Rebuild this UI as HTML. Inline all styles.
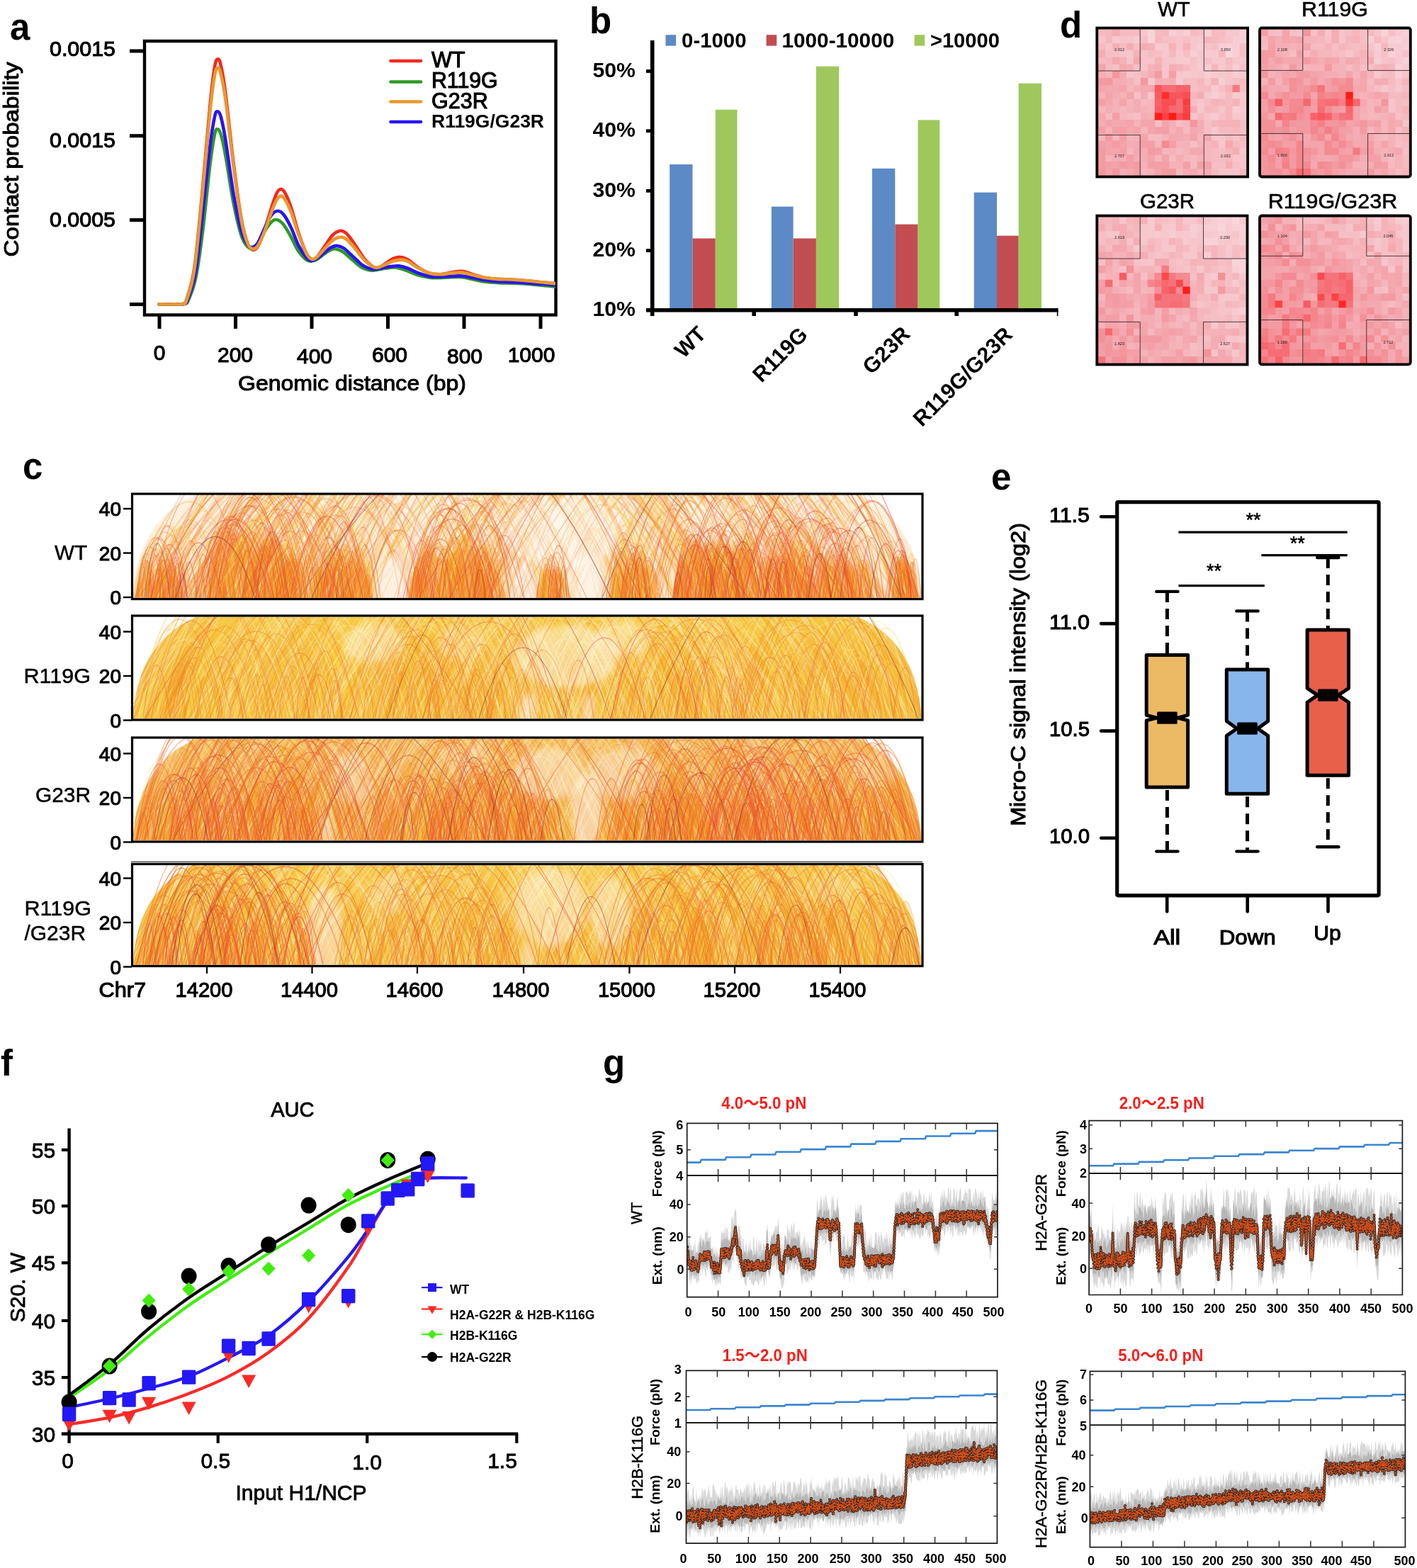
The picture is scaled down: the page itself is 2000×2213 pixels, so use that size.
<!DOCTYPE html>
<html lang="en"><head><meta charset="utf-8"><title>Figure</title>
<style>
html,body{margin:0;padding:0;background:#fff;}
body{width:2000px;height:2213px;overflow:hidden;}
svg{display:block;font-family:"Liberation Sans","Noto Sans CJK SC",sans-serif;}
text{white-space:pre;}
</style></head><body>
<svg width="2000" height="2213" viewBox="0 0 2000 2213">
<rect width="2000" height="2213" fill="#fff"/>
<g>
<text x="14" y="56" font-size="51" font-weight="bold">a</text>
<rect x="204" y="58" width="580.5" height="386.5" fill="none" stroke="#000" stroke-width="4.4"/>
<path d="M183 72L204 72" stroke="#000" stroke-width="5" fill="none" />
<path d="M183 191.7L204 191.7" stroke="#000" stroke-width="5" fill="none" />
<path d="M183 310.5L204 310.5" stroke="#000" stroke-width="5" fill="none" />
<path d="M183 429.5L204 429.5" stroke="#000" stroke-width="5" fill="none" />
<text x="163" y="79" font-size="30" text-anchor="end" textLength="93" lengthAdjust="spacingAndGlyphs" stroke="#000" stroke-width="1.1">0.0015</text>
<text x="163" y="207.5" font-size="30" text-anchor="end" textLength="93" lengthAdjust="spacingAndGlyphs" stroke="#000" stroke-width="1.1">0.0015</text>
<text x="163" y="320" font-size="30" text-anchor="end" textLength="93" lengthAdjust="spacingAndGlyphs" stroke="#000" stroke-width="1.1">0.0005</text>
<path d="M225 444L225 464" stroke="#000" stroke-width="5" fill="none" />
<path d="M332.5 444L332.5 464" stroke="#000" stroke-width="5" fill="none" />
<path d="M440 444L440 464" stroke="#000" stroke-width="5" fill="none" />
<path d="M547.5 444L547.5 464" stroke="#000" stroke-width="5" fill="none" />
<path d="M655 444L655 464" stroke="#000" stroke-width="5" fill="none" />
<path d="M763 444L763 464" stroke="#000" stroke-width="5" fill="none" />
<text x="225" y="508" font-size="30" text-anchor="middle" stroke="#000" stroke-width="1.1">0</text>
<text x="332" y="511" font-size="30" text-anchor="middle" stroke="#000" stroke-width="1.1">200</text>
<text x="444" y="513" font-size="30" text-anchor="middle" stroke="#000" stroke-width="1.1">400</text>
<text x="550" y="511" font-size="30" text-anchor="middle" stroke="#000" stroke-width="1.1">600</text>
<text x="656" y="513" font-size="30" text-anchor="middle" stroke="#000" stroke-width="1.1">800</text>
<text x="750" y="511" font-size="30" text-anchor="middle" stroke="#000" stroke-width="1.1">1000</text>
<text x="497" y="551" font-size="30" text-anchor="middle" textLength="322" lengthAdjust="spacingAndGlyphs" stroke="#000" stroke-width="1.0">Genomic distance (bp)</text>
<text x="26" y="225" font-size="30" text-anchor="middle" transform="rotate(-90 26 225)" textLength="275" lengthAdjust="spacingAndGlyphs" stroke="#000" stroke-width="1.0">Contact probability</text>
<defs><clipPath id="clipa"><rect x="204" y="58" width="580" height="386"/></clipPath></defs><g clip-path="url(#clipa)">
<path d="M224.8 429.4C228.3 429.4 240.3 429.5 245.9 429.4C251.4 429.3 255.3 430.2 258.2 429C261.1 427.8 260.7 431 263.4 422.4C266.2 413.8 270.8 402.6 274.4 377.6C278.1 352.6 281.7 310.3 285.4 272.2C289.1 234.2 293.5 178.9 296.4 149.3C299.3 119.6 301.1 105.4 303 94.4C304.8 83.4 305.9 83.8 307.4 83.4C308.8 83.1 309.9 84.2 311.7 92.2C313.6 100.3 315.4 109 318.3 131.7C321.3 154.4 325.6 199 329.3 228.3C333 257.6 337 288.3 340.3 307.4C343.6 326.4 346.4 334.9 349.1 342.5C351.8 350 354 351.8 356.5 352.6C359.1 353.3 361.7 351.5 364.4 346.9C367.2 342.3 369.9 334.4 373.2 324.9C376.5 315.4 381.3 298.6 384.2 289.8C387.1 281 388.8 276 390.8 272.2C392.8 268.4 394.2 267.1 396 267C397.9 266.8 399.3 267.2 401.8 271.4C404.2 275.5 407.2 282.3 410.5 292C413.8 301.6 417.9 318.3 421.5 329.3C425.2 340.3 429.3 351.6 432.5 357.8C435.6 364.1 437.8 365.9 440.4 366.6C443 367.4 444.8 365.5 447.9 362.2C450.9 358.9 455.2 352 458.8 346.9C462.5 341.7 466.2 335 469.8 331.5C473.5 328 477.5 326 480.8 325.8C484.1 325.6 486.3 327 489.6 330.2C492.9 333.3 496.5 339 500.5 344.7C504.6 350.4 509.7 359.3 513.7 364.4C517.7 369.6 521.6 373.1 524.7 375.4C527.8 377.8 529.2 378.9 532.2 378.5C535.1 378.1 538.6 375.4 542.3 373.2C545.9 371 550.5 367.1 554.1 365.3C557.8 363.6 560.7 362.5 564.2 362.7C567.7 362.8 570.8 363.7 575.2 366.2C579.6 368.7 585.4 374.4 590.6 377.6C595.7 380.8 600.8 383.9 605.9 385.5C611.1 387.1 616.2 387.4 621.3 387.3C626.4 387.1 631.5 385.4 636.7 384.6C641.8 383.9 646.9 382.4 652 382.9C657.2 383.3 661.9 385.7 667.4 387.3C672.9 388.8 679.1 391 685 392.1C690.8 393.2 695.9 393.4 702.5 393.9C709.1 394.3 717.2 394.3 724.5 394.7C731.8 395.2 739.1 395.8 746.4 396.5C753.8 397.1 761.8 398 768.4 398.7C775 399.3 783 400.1 785.9 400.4" fill="none" stroke="#f3281e" stroke-width="4.6" stroke-linejoin="round" stroke-linecap="round"/>
<path d="M224.8 429.4C228.3 429.4 240 429.5 245.9 429.4C251.7 429.3 256.6 430 259.9 429C263.3 428 263.3 429.6 266.1 423.3C268.9 416.9 273.3 407.2 276.6 390.8C280 374.4 283 351.3 286.3 324.9C289.6 298.6 293.6 255.3 296.4 232.7C299.2 210.2 301.2 198.1 303 189.7C304.7 181.3 305.5 182.2 306.9 182.2C308.4 182.2 309.8 183.5 311.7 189.7C313.6 195.9 315.4 203.6 318.3 219.5C321.3 235.5 325.6 266.7 329.3 285.4C333 304.1 337 321.1 340.3 331.5C343.6 341.9 346.7 344.6 349.1 347.7C351.5 350.9 352.6 350.7 354.8 350.4C357 350.1 359.3 349.7 362.2 346C365.2 342.3 369 333.7 372.3 328.4C375.6 323.2 379.1 317.5 382 314.4C384.9 311.3 386.7 309.8 389.5 310C392.2 310.1 395.4 311.7 398.7 315.3C402 318.8 405.6 325.1 409.2 331.5C412.9 337.9 417 347.7 420.6 353.5C424.3 359.2 428.2 363.2 431.2 365.8C434.1 368.3 435.6 368.8 438.2 368.8C440.8 368.9 443.9 367.8 447 366.2C450.1 364.6 453.6 361.3 456.6 359.2C459.7 357 462.8 354.8 465.4 353.5C468.1 352.1 469.5 351 472.4 351.3C475.4 351.5 479 352.4 483 354.8C486.9 357.2 491.8 362.1 496.2 365.8C500.5 369.4 505.3 374.2 509.3 376.7C513.4 379.3 517.4 380.3 520.3 381.1C523.2 381.9 523.6 381.9 526.9 381.6C530.2 381.3 536 380 540.1 379.4C544.1 378.7 548 377.9 551 377.6C554.1 377.3 555.2 377.1 558.5 377.6C561.8 378.1 565.8 379 570.8 380.7C575.8 382.4 582.5 385.9 588.4 387.7C594.2 389.5 600.4 390.9 605.9 391.7C611.4 392.4 616.2 392.2 621.3 392.1C626.4 392 631.5 391.4 636.7 391.2C641.8 391.1 646.9 390.7 652 391.2C657.2 391.7 661.9 393.2 667.4 394.3C672.9 395.4 679.1 397 685 397.8C690.8 398.6 695.9 398.8 702.5 399.1C709.1 399.4 717.2 399.3 724.5 399.6C731.8 399.9 739.1 400.3 746.4 400.9C753.8 401.5 761.8 402.4 768.4 403.1C775 403.7 783 404.5 785.9 404.8" fill="none" stroke="#2e9a24" stroke-width="4.6" stroke-linejoin="round" stroke-linecap="round"/>
<path d="M224.8 429.4C228.3 429.4 240.2 429.5 245.9 429.4C251.6 429.3 255.9 430 259.1 429C262.2 428 262 430.4 264.8 423.3C267.5 416.2 272.3 405.7 275.7 386.4C279.2 367.1 282 337.4 285.4 307.4C288.8 277.4 293.5 230.2 296.4 206.4C299.3 182.6 301.2 172.9 303 164.7C304.7 156.5 305.5 157.2 306.9 157.2C308.4 157.2 309.8 157.9 311.7 164.7C313.6 171.4 315.4 179.7 318.3 197.6C321.3 215.5 325.6 251 329.3 272.2C333 293.5 337 312.8 340.3 324.9C343.6 337 346.5 340.7 349.1 344.7C351.6 348.7 353.2 349.3 355.7 349.1C358.1 348.8 360.6 347.7 363.6 343.4C366.5 339 370 329.3 373.2 322.7C376.4 316.1 379.7 308 382.9 303.8C386 299.7 389.2 297.8 392.1 297.7C395 297.5 397.4 299.2 400.4 303C403.5 306.8 407 313.2 410.5 320.5C414.1 327.8 417.9 339.7 421.5 346.9C425.2 354 429.6 360 432.5 363.6C435.4 367.1 436.5 367.8 439.1 367.9C441.6 368.1 444.6 366.5 447.9 364.4C451.2 362.4 455.5 358.2 458.8 355.7C462.1 353.1 464.8 350.5 467.6 349.1C470.4 347.6 472.6 346.7 475.5 346.9C478.4 347.1 481.4 347.8 485.2 350.4C489 352.9 494 358.3 498.4 362.2C502.7 366.2 507.5 371.2 511.5 374.1C515.6 376.9 519.6 378.3 522.5 379.4C525.4 380.4 525.8 380.5 529.1 380.2C532.4 379.9 538.2 378.3 542.3 377.6C546.3 376.9 549.8 376.2 553.2 375.9C556.7 375.5 559.2 375 562.9 375.4C566.6 375.9 570.6 376.8 575.2 378.5C579.8 380.2 585.4 383.6 590.6 385.5C595.7 387.4 600.8 389 605.9 389.9C611.1 390.8 616.2 390.8 621.3 390.8C626.4 390.8 631.5 390.1 636.7 389.9C641.8 389.7 646.9 389.1 652 389.5C657.2 389.8 661.9 391.1 667.4 392.1C672.9 393.1 679.1 394.7 685 395.6C690.8 396.5 695.9 396.9 702.5 397.4C709.1 397.8 717.2 397.9 724.5 398.2C731.8 398.6 739.1 399 746.4 399.6C753.8 400.1 761.8 400.7 768.4 401.3C775 401.9 783 402.8 785.9 403.1" fill="none" stroke="#2a14f5" stroke-width="4.6" stroke-linejoin="round" stroke-linecap="round"/>
<path d="M224.8 429.4C228.3 429.4 240.3 429.5 245.9 429.4C251.4 429.3 255.3 430 258.2 429C261.1 428 260.7 431.5 263.4 423.3C266.2 415.1 270.8 404.2 274.4 379.8C278.1 355.4 281.7 313.6 285.4 276.6C289.1 239.7 293.5 186.5 296.4 158.1C299.3 129.7 301.1 116.6 303 106.3C304.8 95.9 305.9 96 307.4 95.7C308.8 95.4 309.9 97 311.7 104.5C313.6 112 315.4 119.1 318.3 140.5C321.3 161.9 325.6 204.5 329.3 232.7C333 260.9 337 291.3 340.3 309.5C343.6 327.8 346.4 335.5 349.1 342.5C351.8 349.4 354 350.7 356.5 351.3C359.1 351.8 361.7 350 364.4 346C367.2 342 369.9 335.4 373.2 327.1C376.5 318.8 381.3 303.9 384.2 296.4C387.1 288.8 388.8 285.2 390.8 281.9C392.8 278.6 394.2 276.8 396 276.6C397.9 276.5 399.3 277.4 401.8 281C404.2 284.7 407.2 290.2 410.5 298.6C413.8 307 417.9 321.6 421.5 331.5C425.2 341.4 429.3 352.1 432.5 357.8C435.6 363.6 437.8 365 440.4 365.8C443 366.5 444.8 364.8 447.9 362.2C450.9 359.7 455.2 354.3 458.8 350.4C462.5 346.5 466 341.6 469.8 339C473.6 336.3 478.4 334.7 481.7 334.6C485 334.4 486.4 335.5 489.6 338.1C492.7 340.7 496.5 345.2 500.5 349.9C504.6 354.7 509.7 362.4 513.7 366.6C517.7 370.9 521.6 373.6 524.7 375.4C527.8 377.2 529.2 377.8 532.2 377.6C535.1 377.4 538.6 375.6 542.3 374.1C545.9 372.6 550.1 370.1 554.1 368.8C558.1 367.6 562.9 366.6 566.4 366.6C569.9 366.6 571.2 366.8 575.2 368.8C579.2 370.8 585.4 375.7 590.6 378.5C595.7 381.3 600.8 384 605.9 385.5C611.1 387 616.2 387.3 621.3 387.3C626.4 387.3 631.5 385.9 636.7 385.5C641.8 385.1 646.9 384.2 652 384.6C657.2 385.1 661.9 386.9 667.4 388.1C672.9 389.4 679.1 391.1 685 392.1C690.8 393 695.9 393.4 702.5 393.9C709.1 394.3 717.2 394.3 724.5 394.7C731.8 395.2 739.1 395.8 746.4 396.5C753.8 397.1 761.8 398 768.4 398.7C775 399.3 783 400.1 785.9 400.4" fill="none" stroke="#e89a2e" stroke-width="4.6" stroke-linejoin="round" stroke-linecap="round"/>
</g>
<path d="M551.5 86L594 86" stroke="#f3281e" stroke-width="4.6" fill="none" stroke-linecap="round"/>
<path d="M551.5 115.5L594 115.5" stroke="#2e9a24" stroke-width="4.6" fill="none" stroke-linecap="round"/>
<path d="M551.5 143.5L594 143.5" stroke="#e89a2e" stroke-width="4.6" fill="none" stroke-linecap="round"/>
<path d="M551.5 172L594 172" stroke="#2a14f5" stroke-width="4.6" fill="none" stroke-linecap="round"/>
<text x="609" y="94.5" font-size="30.5" stroke="#000" stroke-width="1.1">WT</text>
<text x="609" y="124" font-size="30.5" textLength="93.5" lengthAdjust="spacingAndGlyphs" stroke="#000" stroke-width="1.1">R119G</text>
<text x="609" y="152.5" font-size="30.5" stroke="#000" stroke-width="1.1">G23R</text>
<text x="609" y="179.5" font-size="26.5" font-weight="bold" textLength="159" lengthAdjust="spacingAndGlyphs">R119G/G23R</text>
</g>
<g>
<text x="832" y="47" font-size="51" font-weight="bold">b</text>
<rect x="939.5" y="49.2" width="14.6" height="15.4" fill="#5b8ac6"/>
<text x="962.1" y="66.8" font-size="30" font-weight="bold" textLength="91.4" lengthAdjust="spacingAndGlyphs">0-1000</text>
<rect x="1081.6" y="49.2" width="14.6" height="15.4" fill="#c24d50"/>
<text x="1103.5" y="66.8" font-size="30" font-weight="bold" textLength="158.7" lengthAdjust="spacingAndGlyphs">1000-10000</text>
<rect x="1290.6" y="49.2" width="14.6" height="15.4" fill="#9fc85c"/>
<text x="1312.9" y="66.8" font-size="30" font-weight="bold" textLength="98" lengthAdjust="spacingAndGlyphs">&gt;10000</text>
<rect x="945.2" y="232" width="32.3" height="205.9" fill="#5b8ac6"/>
<rect x="977.5" y="336.5" width="32.3" height="101.4" fill="#c24d50"/>
<rect x="1009.8" y="154.8" width="30.7" height="283.1" fill="#9fc85c"/>
<rect x="1088.9" y="291.6" width="30.7" height="146.4" fill="#5b8ac6"/>
<rect x="1119.6" y="336.5" width="32.3" height="101.4" fill="#c24d50"/>
<rect x="1151.9" y="93.7" width="32.3" height="344.2" fill="#9fc85c"/>
<rect x="1231" y="237.8" width="32.3" height="200.2" fill="#5b8ac6"/>
<rect x="1263.3" y="316.6" width="32.3" height="121.4" fill="#c24d50"/>
<rect x="1295.6" y="169.4" width="30.7" height="268.5" fill="#9fc85c"/>
<rect x="1374.7" y="271.6" width="32.3" height="166.3" fill="#5b8ac6"/>
<rect x="1407" y="332.7" width="30.7" height="105.3" fill="#c24d50"/>
<rect x="1437.7" y="117.6" width="32.3" height="320.4" fill="#9fc85c"/>
<path d="M920.7 57L920.7 446" stroke="#000" stroke-width="5.6" fill="none" />
<path d="M912 437.7L1493.5 437.7" stroke="#000" stroke-width="5.6" fill="none" />
<path d="M912 100.5L920 100.5" stroke="#000" stroke-width="4.8" fill="none" />
<text x="897" y="109.1" font-size="30" text-anchor="end" font-weight="bold" textLength="60.5" lengthAdjust="spacingAndGlyphs">50%</text>
<path d="M912 184.8L920 184.8" stroke="#000" stroke-width="4.8" fill="none" />
<text x="897" y="193.4" font-size="30" text-anchor="end" font-weight="bold" textLength="60.5" lengthAdjust="spacingAndGlyphs">40%</text>
<path d="M912 269.3L920 269.3" stroke="#000" stroke-width="4.8" fill="none" />
<text x="897" y="277.9" font-size="30" text-anchor="end" font-weight="bold" textLength="60.5" lengthAdjust="spacingAndGlyphs">30%</text>
<path d="M912 353.6L920 353.6" stroke="#000" stroke-width="4.8" fill="none" />
<text x="897" y="362.2" font-size="30" text-anchor="end" font-weight="bold" textLength="60.5" lengthAdjust="spacingAndGlyphs">20%</text>
<path d="M912 437.7L920 437.7" stroke="#000" stroke-width="4.8" fill="none" />
<text x="897" y="446.3" font-size="30" text-anchor="end" font-weight="bold" textLength="60.5" lengthAdjust="spacingAndGlyphs">10%</text>
<path d="M1064.2 437L1064.2 446" stroke="#000" stroke-width="5.6" fill="none" />
<path d="M1208 437L1208 446" stroke="#000" stroke-width="5.6" fill="none" />
<path d="M1350.2 437L1350.2 446" stroke="#000" stroke-width="5.6" fill="none" />
<path d="M1492.6 437L1492.6 446" stroke="#000" stroke-width="1.6" fill="none" />
<text x="998.2" y="473.3" font-size="30.5" text-anchor="end" font-weight="bold" transform="rotate(-45 998.2 473.3)">WT</text>
<text x="1141.9" y="474.1" font-size="30.5" text-anchor="end" font-weight="bold" transform="rotate(-45 1141.9 474.1)">R119G</text>
<text x="1286.4" y="473.3" font-size="30.5" text-anchor="end" font-weight="bold" transform="rotate(-45 1286.4 473.3)">G23R</text>
<text x="1430.8" y="474.1" font-size="30.5" text-anchor="end" font-weight="bold" transform="rotate(-45 1430.8 474.1)">R119G/G23R</text>
</g>
<g>
<text x="32" y="676" font-size="51" font-weight="bold">c</text>
<defs><clipPath id="ct0"><rect x="187.5" y="697" width="1113" height="147.5"/></clipPath><clipPath id="ct1"><rect x="187.5" y="870.5" width="1113" height="144.5"/></clipPath><clipPath id="ct2"><rect x="187.5" y="1042.5" width="1113" height="144.5"/></clipPath><clipPath id="ct3"><rect x="187.5" y="1218.5" width="1113" height="144"/></clipPath><filter id="blur0" x="-30%" y="-30%" width="160%" height="160%"><feGaussianBlur stdDeviation="5"/></filter><filter id="blur1" x="-30%" y="-30%" width="160%" height="160%"><feGaussianBlur stdDeviation="5"/></filter><filter id="blur2" x="-30%" y="-30%" width="160%" height="160%"><feGaussianBlur stdDeviation="5"/></filter><filter id="blur3" x="-30%" y="-30%" width="160%" height="160%"><feGaussianBlur stdDeviation="5"/></filter></defs>
<g clip-path="url(#ct0)">
<linearGradient id="bg0" x1="0" y1="0" x2="0" y2="1"><stop offset="0" stop-color="#fbdcaa"/><stop offset="1" stop-color="#f6b260"/></linearGradient>
<path d="M187.5 843.5Q193.5 733.6 277.5 697H1210.5Q1294.5 733.6 1300.5 843.5Z" fill="url(#bg0)" fill-opacity="0.36"/>
<g transform="translate(0 843.5)">
<path d="M243 0q5-52 10 0M248 0q5-43 10 0M220 0q8-68 16 0M398 0q7-51 14 0M326 0q5-67 10 0M395 0q7-68 14 0M319 0q22-101 44 0M388 0q5-59 10 0M363 0q6-48 12 0M304 0q23-179 46 0M332 0q24-137 48 0M375 0q12-120 24 0M303 0q21-96 42 0M473 0q15-122 30 0M514 0q6-82 12 0M445 0q5-71 10 0M429 0q8-110 16 0M646 0q12-84 24 0M696 0q8-107 16 0M639 0q7-109 14 0M690 0q7-58 14 0M599 0q6-51 12 0M664 0q22-125 44 0M647 0q7-92 14 0M767 0q6-97 12 0M764 0q6-98 12 0M864 0q10-72 20 0M893 0q8-93 16 0M896 0q4-58 8 0M953 0q8-81 16 0M975 0q16-110 32 0M1026 0q5-44 10 0M976 0q7-61 14 0M1000 0q24-98 48 0M983 0q24-156 48 0M1016 0q11-66 22 0M1031 0q5-48 10 0M995 0q17-161 34 0M972 0q12-93 24 0M980 0q5-60 10 0M998 0q16-114 32 0M996 0q8-115 16 0M1078 0q9-81 18 0M1113 0q13-101 26 0M1079 0q12-67 24 0M1086 0q8-81 16 0M1084 0q11-64 22 0M1216 0q5-47 10 0M1284 0q5-59 10 0M1273 0q5-64 10 0M1281 0q6-102 12 0" fill="#ee8424" fill-opacity="0.2" stroke="#ee8424" stroke-opacity="0.5" stroke-width="1.5"/>
<path d="M219 0q5-42 10 0M227 0q9-93 18 0M206 0q4-64 8 0M230 0q4-42 8 0M219 0q8-95 16 0M214 0q8-53 16 0M407 0q10-108 20 0M372 0q23-148 46 0M328 0q24-111 48 0M363 0q14-115 28 0M363 0q15-77 30 0M299 0q11-73 22 0M371 0q14-111 28 0M358 0q7-82 14 0M394 0q5-78 10 0M345 0q9-82 18 0M353 0q18-103 36 0M377 0q10-106 20 0M382 0q15-147 30 0M336 0q10-75 20 0M381 0q19-86 38 0M410 0q8-85 16 0M325 0q15-142 30 0M350 0q22-137 44 0M322 0q11-81 22 0M403 0q11-108 22 0M385 0q9-108 18 0M439 0q8-86 16 0M480 0q7-100 14 0M451 0q5-68 10 0M457 0q5-43 10 0M442 0q9-85 18 0M478 0q13-91 26 0M465 0q7-87 14 0M471 0q14-147 28 0M515 0q4-50 8 0M613 0q15-95 30 0M640 0q12-78 24 0M673 0q12-130 24 0M694 0q5-48 10 0M594 0q24-105 48 0M580 0q24-152 48 0M669 0q16-135 32 0M609 0q11-84 22 0M592 0q13-114 26 0M684 0q8-66 16 0M586 0q9-106 18 0M620 0q7-81 14 0M649 0q14-77 28 0M764 0q11-128 22 0M768 0q5-42 10 0M783 0q5-64 10 0M904 0q6-83 12 0M867 0q7-99 14 0M874 0q8-91 16 0M1015 0q7-95 14 0M1036 0q13-114 26 0M976 0q5-56 10 0M979 0q14-124 28 0M969 0q11-77 22 0M965 0q4-44 8 0M1003 0q6-91 12 0M962 0q14-103 28 0M1004 0q5-81 10 0M1016 0q8-96 16 0M952 0q7-84 14 0M986 0q9-103 18 0M952 0q15-102 30 0M997 0q11-63 22 0M1030 0q6-84 12 0M1025 0q12-95 24 0M1024 0q14-147 28 0M1031 0q9-63 18 0M1016 0q4-42 8 0M1050 0q6-86 12 0M1008 0q23-126 46 0M970 0q13-113 26 0M999 0q11-85 22 0M1000 0q4-74 8 0M1079 0q7-91 14 0M1107 0q17-161 34 0M1106 0q11-79 22 0M1086 0q11-108 22 0M1075 0q7-105 14 0M1178 0q4-49 8 0M1219 0q6-48 12 0M1171 0q15-147 30 0M1200 0q4-57 8 0M1183 0q6-70 12 0M1263 0q11-123 22 0M1263 0q10-109 20 0M1267 0q5-80 10 0M1265 0q11-119 22 0" fill="#f3a02c" fill-opacity="0.2" stroke="#f3a02c" stroke-opacity="0.5" stroke-width="1.5"/>
<path d="M293 0q4-52 8 0M341 0q13-126 26 0M399 0q10-124 20 0M363 0q20-138 40 0M484 0q7-94 14 0M683 0q8-100 16 0M592 0q5-71 10 0M592 0q10-129 20 0M644 0q6-82 12 0M656 0q11-122 22 0M757 0q4-41 8 0M758 0q8-69 16 0M762 0q4-44 8 0M897 0q6-72 12 0M1006 0q11-65 22 0M1044 0q8-98 16 0M1089 0q6-55 12 0M1121 0q12-66 24 0M1199 0q6-92 12 0M1156 0q14-141 28 0M1266 0q8-71 16 0" fill="#f0602a" fill-opacity="0.2" stroke="#f0602a" stroke-opacity="0.5" stroke-width="1.5"/>
<path d="M217 0q6-85 12 0M219 0q8-81 16 0M246 0q4-49 8 0M232 0q5-50 10 0M389 0q7-98 14 0M302 0q23-133 46 0M294 0q13-144 26 0M321 0q12-76 24 0M299 0q6-91 12 0M338 0q7-104 14 0M399 0q13-86 26 0M370 0q9-103 18 0M396 0q4-53 8 0M401 0q7-98 14 0M345 0q16-112 32 0M314 0q25-175 50 0M324 0q4-81 8 0M340 0q11-71 22 0M327 0q16-76 32 0M448 0q5-86 10 0M485 0q5-60 10 0M461 0q14-111 28 0M474 0q18-144 36 0M642 0q7-80 14 0M611 0q8-115 16 0M691 0q5-82 10 0M656 0q7-100 14 0M679 0q6-95 12 0M650 0q11-97 22 0M600 0q6-60 12 0M630 0q5-78 10 0M634 0q14-135 28 0M620 0q13-117 26 0M629 0q7-76 14 0M614 0q6-58 12 0M603 0q5-47 10 0M641 0q20-168 40 0M612 0q4-82 8 0M690 0q11-129 22 0M615 0q6-100 12 0M583 0q20-134 40 0M763 0q5-87 10 0M775 0q10-68 20 0M780 0q5-51 10 0M774 0q4-79 8 0M890 0q5-46 10 0M879 0q7-71 14 0M863 0q12-124 24 0M867 0q9-100 18 0M875 0q9-84 18 0M892 0q12-88 24 0M865 0q9-57 18 0M889 0q8-65 16 0M1019 0q8-107 16 0M1041 0q10-79 20 0M951 0q15-105 30 0M1002 0q10-72 20 0M951 0q6-60 12 0M1015 0q20-159 40 0M991 0q8-104 16 0M963 0q18-161 36 0M973 0q24-124 48 0M1078 0q6-86 12 0M1126 0q6-54 12 0M1130 0q7-60 14 0M1120 0q5-54 10 0M1105 0q9-119 18 0M1107 0q18-140 36 0M1160 0q8-79 16 0M1174 0q7-67 14 0M1201 0q10-127 20 0M1208 0q5-83 10 0M1198 0q6-56 12 0M1161 0q8-65 16 0M1149 0q5-50 10 0M1276 0q10-124 20 0M1262 0q8-76 16 0" fill="#f7c23a" fill-opacity="0.2" stroke="#f7c23a" stroke-opacity="0.5" stroke-width="1.5"/>
<path d="M233 0q9-109 18 0M194 0q9-119 18 0M313 0q5-51 10 0M355 0q5-47 10 0M324 0q5-62 10 0M376 0q6-92 12 0M402 0q11-132 22 0M397 0q8-64 16 0M338 0q14-111 28 0M378 0q8-59 16 0M440 0q12-76 24 0M486 0q6-79 12 0M586 0q13-71 26 0M620 0q13-105 26 0M603 0q6-59 12 0M608 0q6-63 12 0M639 0q7-81 14 0M768 0q9-63 18 0M869 0q6-67 12 0M894 0q11-71 22 0M898 0q5-77 10 0M960 0q20-145 40 0M950 0q20-168 40 0M1026 0q12-74 24 0M1056 0q4-62 8 0M964 0q20-121 40 0M985 0q14-86 28 0M1041 0q5-51 10 0M984 0q4-50 8 0M1093 0q10-122 20 0M1112 0q9-62 18 0M1080 0q9-106 18 0M1079 0q14-85 28 0M1187 0q12-81 24 0M1189 0q5-76 10 0M1283 0q6-100 12 0M1265 0q8-55 16 0" fill="#ee8424" fill-opacity="0.2" stroke="#ee8424" stroke-opacity="0.5" stroke-width="1.5"/>
<path d="M223 0q5-53 10 0M237 0q7-50 14 0M225 0q6-78 12 0M232 0q4-62 8 0M297 0q5-83 10 0M334 0q22-168 44 0M384 0q6-97 12 0M342 0q12-69 24 0M322 0q7-66 14 0M295 0q21-178 42 0M318 0q10-96 20 0M383 0q14-129 28 0M369 0q14-112 28 0M329 0q5-78 10 0M395 0q16-89 32 0M379 0q15-124 30 0M382 0q5-80 10 0M296 0q19-92 38 0M372 0q15-156 30 0M307 0q9-103 18 0M378 0q18-117 36 0M335 0q7-92 14 0M339 0q24-108 48 0M350 0q13-72 26 0M400 0q8-86 16 0M468 0q12-90 24 0M441 0q4-81 8 0M448 0q10-94 20 0M479 0q8-81 16 0M486 0q15-139 30 0M467 0q4-53 8 0M500 0q13-136 26 0M480 0q14-106 28 0M448 0q14-152 28 0M471 0q17-99 34 0M469 0q11-121 22 0M597 0q9-80 18 0M678 0q8-95 16 0M683 0q4-77 8 0M688 0q8-98 16 0M657 0q17-167 34 0M637 0q19-88 38 0M666 0q7-60 14 0M591 0q12-79 24 0M675 0q4-74 8 0M606 0q12-112 24 0M672 0q8-98 16 0M584 0q20-174 40 0M577 0q5-74 10 0M667 0q17-153 34 0M650 0q23-120 46 0M628 0q8-105 16 0M618 0q9-88 18 0M657 0q6-93 12 0M603 0q5-60 10 0M578 0q24-144 48 0M632 0q11-68 22 0M655 0q7-74 14 0M676 0q11-96 22 0M634 0q11-103 22 0M614 0q16-114 32 0M664 0q24-121 48 0M889 0q7-51 14 0M869 0q7-57 14 0M897 0q5-65 10 0M913 0q6-96 12 0M868 0q4-64 8 0M906 0q6-92 12 0M875 0q12-136 24 0M1008 0q9-105 18 0M1039 0q5-76 10 0M984 0q12-71 24 0M1040 0q12-92 24 0M952 0q6-62 12 0M954 0q7-88 14 0M1030 0q12-97 24 0M953 0q4-62 8 0M966 0q25-112 50 0M1005 0q25-131 50 0M990 0q15-86 30 0M1055 0q6-78 12 0M965 0q9-80 18 0M958 0q18-140 36 0M953 0q20-113 40 0M1026 0q8-79 16 0M1025 0q5-73 10 0M1036 0q5-83 10 0M1002 0q16-93 32 0M956 0q12-112 24 0M979 0q17-113 34 0M1114 0q11-129 22 0M1089 0q11-67 22 0M1098 0q7-56 14 0M1081 0q10-76 20 0M1079 0q10-107 20 0M1077 0q14-131 28 0M1095 0q8-66 16 0M1080 0q17-165 34 0M1175 0q8-78 16 0M1169 0q4-39 8 0M1217 0q7-65 14 0M1176 0q10-122 20 0M1188 0q10-100 20 0M1202 0q6-95 12 0M1267 0q6-96 12 0M1264 0q10-109 20 0M1267 0q9-85 18 0" fill="#f3a02c" fill-opacity="0.2" stroke="#f3a02c" stroke-opacity="0.5" stroke-width="1.5"/>
<path d="M225 0q4-55 8 0M333 0q6-86 12 0M385 0q18-153 36 0M349 0q24-198 48 0M478 0q8-96 16 0M676 0q10-113 20 0M664 0q5-72 10 0M621 0q6-71 12 0M764 0q3-51 6 0M766 0q8-75 16 0M787 0q5-71 10 0M915 0q5-80 10 0M963 0q20-162 40 0M1095 0q17-167 34 0M1183 0q5-44 10 0M1218 0q6-94 12 0M1260 0q5-41 10 0" fill="#f0602a" fill-opacity="0.2" stroke="#f0602a" stroke-opacity="0.5" stroke-width="1.5"/>
<path d="M217 0q6-91 12 0M221 0q9-67 18 0M235 0q9-95 18 0M214 0q6-49 12 0M245 0q6-73 12 0M244 0q4-47 8 0M358 0q7-86 14 0M364 0q23-148 46 0M368 0q13-143 26 0M362 0q17-135 34 0M379 0q10-104 20 0M385 0q15-84 30 0M335 0q14-121 28 0M327 0q13-125 26 0M296 0q6-89 12 0M338 0q18-99 36 0M411 0q4-56 8 0M361 0q18-165 36 0M332 0q21-139 42 0M368 0q20-88 40 0M354 0q11-103 22 0M356 0q25-133 50 0M331 0q10-66 20 0M326 0q7-92 14 0M503 0q10-104 20 0M470 0q12-83 24 0M479 0q7-50 14 0M455 0q16-130 32 0M611 0q8-60 16 0M586 0q21-90 42 0M692 0q5-79 10 0M671 0q13-106 26 0M620 0q9-58 18 0M616 0q22-90 44 0M652 0q23-147 46 0M638 0q7-51 14 0M639 0q5-82 10 0M766 0q7-73 14 0M779 0q5-72 10 0M792 0q4-45 8 0M771 0q6-60 12 0M776 0q6-64 12 0M776 0q4-77 8 0M759 0q11-70 22 0M904 0q7-87 14 0M884 0q14-103 28 0M895 0q7-77 14 0M911 0q6-74 12 0M951 0q24-105 48 0M997 0q24-126 48 0M968 0q6-94 12 0M1031 0q10-66 20 0M1051 0q6-81 12 0M956 0q21-106 42 0M1001 0q7-73 14 0M970 0q13-82 26 0M988 0q15-95 30 0M1003 0q4-49 8 0M1052 0q5-73 10 0M981 0q4-56 8 0M1031 0q4-51 8 0M1043 0q4-71 8 0M964 0q16-97 32 0M961 0q9-100 18 0M1024 0q16-92 32 0M1013 0q7-63 14 0M1124 0q4-69 8 0M1093 0q10-96 20 0M1110 0q7-60 14 0M1086 0q4-53 8 0M1101 0q8-82 16 0M1209 0q6-53 12 0M1212 0q5-53 10 0M1172 0q7-81 14 0M1177 0q14-146 28 0M1165 0q6-83 12 0M1273 0q6-59 12 0M1280 0q6-58 12 0M1277 0q5-71 10 0M1268 0q6-59 12 0" fill="#f7c23a" fill-opacity="0.2" stroke="#f7c23a" stroke-opacity="0.5" stroke-width="1.5"/>
<path d="M194 0q4-59 8 0M207 0q4-57 8 0M202 0q7-104 14 0M354 0q16-107 32 0M408 0q8-71 16 0M307 0q23-193 46 0M384 0q17-147 34 0M354 0q15-151 30 0M326 0q24-137 48 0M318 0q6-60 12 0M407 0q5-86 10 0M353 0q14-85 28 0M404 0q8-97 16 0M476 0q12-134 24 0M478 0q6-66 12 0M442 0q16-152 32 0M595 0q6-59 12 0M628 0q22-137 44 0M669 0q7-52 14 0M635 0q4-50 8 0M644 0q8-84 16 0M660 0q20-144 40 0M661 0q4-40 8 0M787 0q5-50 10 0M766 0q6-57 12 0M769 0q4-65 8 0M897 0q7-82 14 0M879 0q4-68 8 0M1034 0q17-79 34 0M994 0q6-85 12 0M1000 0q18-120 36 0M955 0q12-132 24 0M1018 0q8-81 16 0M951 0q6-53 12 0M960 0q12-131 24 0M1007 0q21-117 42 0M1028 0q16-138 32 0M1018 0q24-165 48 0M997 0q4-44 8 0M1025 0q22-135 44 0M1040 0q14-110 28 0M1105 0q8-94 16 0M1083 0q13-70 26 0M1096 0q8-57 16 0M1181 0q11-135 22 0M1179 0q12-72 24 0M1154 0q5-60 10 0M1155 0q5-76 10 0" fill="#ee8424" fill-opacity="0.2" stroke="#ee8424" stroke-opacity="0.5" stroke-width="1.5"/>
<path d="M217 0q5-52 10 0M234 0q10-82 20 0M219 0q6-66 12 0M216 0q8-81 16 0M235 0q5-73 10 0M377 0q17-133 34 0M294 0q6-51 12 0M336 0q19-114 38 0M365 0q8-54 16 0M378 0q21-151 42 0M383 0q5-94 10 0M316 0q8-70 16 0M351 0q12-66 24 0M361 0q6-89 12 0M347 0q23-180 46 0M293 0q21-154 42 0M361 0q6-65 12 0M321 0q18-115 36 0M353 0q10-123 20 0M355 0q19-164 38 0M337 0q19-110 38 0M388 0q18-138 36 0M342 0q8-62 16 0M465 0q5-77 10 0M440 0q7-93 14 0M461 0q9-79 18 0M492 0q4-40 8 0M477 0q6-54 12 0M498 0q7-94 14 0M493 0q15-107 30 0M486 0q5-68 10 0M679 0q6-53 12 0M609 0q5-82 10 0M642 0q8-102 16 0M634 0q23-180 46 0M577 0q6-58 12 0M609 0q9-109 18 0M636 0q17-129 34 0M577 0q18-109 36 0M668 0q13-143 26 0M700 0q4-84 8 0M644 0q4-52 8 0M609 0q16-103 32 0M583 0q19-133 38 0M629 0q11-92 22 0M582 0q5-60 10 0M629 0q6-49 12 0M593 0q4-63 8 0M620 0q8-114 16 0M584 0q4-64 8 0M597 0q22-155 44 0M674 0q18-149 36 0M662 0q11-106 22 0M775 0q5-75 10 0M779 0q8-58 16 0M886 0q6-49 12 0M870 0q13-117 26 0M887 0q8-62 16 0M876 0q9-67 18 0M901 0q6-54 12 0M895 0q4-59 8 0M888 0q15-152 30 0M1042 0q13-76 26 0M984 0q4-64 8 0M1011 0q25-126 50 0M1002 0q19-169 38 0M952 0q7-93 14 0M981 0q4-62 8 0M1020 0q23-150 46 0M1017 0q12-134 24 0M1050 0q7-101 14 0M1031 0q12-110 24 0M977 0q7-55 14 0M976 0q14-131 28 0M955 0q5-67 10 0M973 0q7-56 14 0M1021 0q23-125 46 0M985 0q10-60 20 0M979 0q13-94 26 0M950 0q5-60 10 0M975 0q17-81 34 0M1092 0q18-138 36 0M1089 0q5-45 10 0M1114 0q9-82 18 0M1121 0q12-129 24 0M1114 0q7-55 14 0M1095 0q17-104 34 0M1085 0q10-118 20 0M1102 0q12-72 24 0M1089 0q8-92 16 0M1086 0q6-89 12 0M1160 0q13-130 26 0M1196 0q11-76 22 0M1209 0q8-62 16 0M1212 0q5-63 10 0M1217 0q4-73 8 0M1199 0q4-66 8 0M1159 0q8-68 16 0M1191 0q7-53 14 0M1275 0q8-65 16 0M1261 0q6-101 12 0M1259 0q10-94 20 0M1267 0q8-62 16 0M1261 0q5-72 10 0M1274 0q8-100 16 0M1272 0q8-102 16 0" fill="#f3a02c" fill-opacity="0.2" stroke="#f3a02c" stroke-opacity="0.5" stroke-width="1.5"/>
<path d="M235 0q4-65 8 0M224 0q5-43 10 0M210 0q4-78 8 0M383 0q21-98 42 0M344 0q15-133 30 0M398 0q9-73 18 0M515 0q4-66 8 0M474 0q10-115 20 0M495 0q14-84 28 0M630 0q9-94 18 0M656 0q16-97 32 0M774 0q3-52 6 0M952 0q14-71 28 0M1060 0q4-42 8 0M1041 0q9-114 18 0M977 0q11-128 22 0M990 0q19-128 38 0M1220 0q5-58 10 0M1157 0q8-87 16 0M1264 0q11-131 22 0" fill="#f0602a" fill-opacity="0.2" stroke="#f0602a" stroke-opacity="0.5" stroke-width="1.5"/>
<path d="M241 0q5-46 10 0M318 0q7-101 14 0M293 0q18-88 36 0M331 0q24-162 48 0M316 0q4-38 8 0M340 0q24-183 48 0M355 0q5-58 10 0M337 0q13-116 26 0M340 0q18-84 36 0M311 0q17-92 34 0M381 0q6-63 12 0M327 0q15-149 30 0M295 0q5-76 10 0M354 0q12-70 24 0M294 0q20-93 40 0M358 0q5-92 10 0M364 0q23-174 46 0M403 0q12-107 24 0M369 0q19-90 38 0M358 0q7-91 14 0M447 0q11-83 22 0M474 0q9-84 18 0M459 0q15-126 30 0M617 0q16-126 32 0M636 0q7-65 14 0M590 0q4-68 8 0M633 0q10-99 20 0M696 0q6-56 12 0M646 0q12-84 24 0M665 0q20-95 40 0M629 0q7-102 14 0M628 0q21-173 42 0M623 0q4-70 8 0M672 0q18-172 36 0M784 0q5-85 10 0M762 0q9-112 18 0M771 0q6-70 12 0M777 0q5-61 10 0M761 0q8-87 16 0M888 0q4-80 8 0M867 0q7-106 14 0M863 0q5-67 10 0M890 0q13-72 26 0M881 0q13-127 26 0M898 0q5-70 10 0M1008 0q20-135 40 0M1038 0q16-150 32 0M976 0q5-73 10 0M1017 0q4-47 8 0M1027 0q5-81 10 0M1011 0q4-45 8 0M1032 0q15-96 30 0M990 0q13-136 26 0M1032 0q10-83 20 0M1022 0q22-89 44 0M1127 0q6-45 12 0M1100 0q7-72 14 0M1098 0q16-160 32 0M1089 0q5-76 10 0M1187 0q6-58 12 0M1276 0q6-70 12 0M1267 0q10-124 20 0" fill="#f7c23a" fill-opacity="0.2" stroke="#f7c23a" stroke-opacity="0.5" stroke-width="1.5"/>
<path d="M235 0q8-100 16 0M193 0q4-49 8 0M323 0q22-159 44 0M327 0q7-87 14 0M359 0q13-83 26 0M391 0q12-104 24 0M364 0q22-168 44 0M331 0q24-169 48 0M296 0q25-187 50 0M303 0q4-61 8 0M339 0q4-70 8 0M379 0q21-124 42 0M476 0q7-78 14 0M485 0q11-102 22 0M673 0q11-109 22 0M671 0q20-91 40 0M652 0q12-96 24 0M666 0q12-80 24 0M627 0q12-114 24 0M678 0q5-65 10 0M670 0q4-59 8 0M770 0q10-80 20 0M762 0q7-79 14 0M871 0q10-60 20 0M892 0q14-93 28 0M891 0q15-131 30 0M1038 0q13-105 26 0M952 0q6-69 12 0M1033 0q12-79 24 0M1005 0q4-72 8 0M1002 0q6-98 12 0M1032 0q12-69 24 0M999 0q18-166 36 0M1008 0q8-95 16 0M1019 0q5-84 10 0M1011 0q9-77 18 0M1029 0q19-87 38 0M972 0q6-58 12 0M1058 0q4-69 8 0M1084 0q11-83 22 0M1111 0q5-56 10 0M1109 0q12-108 24 0M1104 0q7-98 14 0M1164 0q10-61 20 0M1159 0q4-69 8 0M1148 0q15-93 30 0M1157 0q6-78 12 0M1265 0q8-109 16 0M1279 0q7-78 14 0M1280 0q6-46 12 0" fill="#ee8424" fill-opacity="0.2" stroke="#ee8424" stroke-opacity="0.5" stroke-width="1.5"/>
<path d="M220 0q6-58 12 0M216 0q4-46 8 0M221 0q7-110 14 0M242 0q5-91 10 0M219 0q8-73 16 0M404 0q5-53 10 0M351 0q6-83 12 0M327 0q22-123 44 0M300 0q11-108 22 0M324 0q18-127 36 0M343 0q23-117 46 0M355 0q18-163 36 0M333 0q5-90 10 0M351 0q16-101 32 0M343 0q8-108 16 0M378 0q10-85 20 0M324 0q20-177 40 0M379 0q5-61 10 0M340 0q4-61 8 0M342 0q8-105 16 0M300 0q17-113 34 0M303 0q10-101 20 0M332 0q7-109 14 0M379 0q8-61 16 0M314 0q25-175 50 0M292 0q14-96 28 0M372 0q8-85 16 0M314 0q19-148 38 0M447 0q6-72 12 0M471 0q7-55 14 0M430 0q4-65 8 0M431 0q12-120 24 0M504 0q7-98 14 0M493 0q14-142 28 0M462 0q5-43 10 0M468 0q10-116 20 0M600 0q11-124 22 0M645 0q5-54 10 0M635 0q6-88 12 0M604 0q13-107 26 0M647 0q9-65 18 0M693 0q4-54 8 0M689 0q6-51 12 0M620 0q10-104 20 0M602 0q8-116 16 0M605 0q8-85 16 0M579 0q7-63 14 0M601 0q6-72 12 0M646 0q20-128 40 0M614 0q14-146 28 0M578 0q14-82 28 0M586 0q5-79 10 0M618 0q6-87 12 0M669 0q6-75 12 0M638 0q5-56 10 0M783 0q3-49 6 0M761 0q3-41 6 0M764 0q6-57 12 0M780 0q8-68 16 0M761 0q5-48 10 0M887 0q9-110 18 0M887 0q9-57 18 0M866 0q13-120 26 0M901 0q7-95 14 0M905 0q6-60 12 0M953 0q6-88 12 0M952 0q24-140 48 0M1057 0q6-93 12 0M993 0q5-48 10 0M980 0q22-173 44 0M961 0q19-128 38 0M992 0q6-70 12 0M1026 0q14-146 28 0M1059 0q5-73 10 0M1053 0q6-57 12 0M1044 0q12-122 24 0M980 0q7-105 14 0M1049 0q5-74 10 0M1073 0q4-65 8 0M1084 0q6-52 12 0M1076 0q14-126 28 0M1125 0q11-129 22 0M1125 0q6-59 12 0M1088 0q7-76 14 0M1158 0q15-142 30 0M1209 0q11-84 22 0M1195 0q10-69 20 0M1156 0q6-59 12 0M1272 0q8-73 16 0M1265 0q10-111 20 0M1274 0q4-65 8 0M1279 0q6-78 12 0M1278 0q7-52 14 0" fill="#f3a02c" fill-opacity="0.2" stroke="#f3a02c" stroke-opacity="0.5" stroke-width="1.5"/>
<path d="M230 0q8-78 16 0M369 0q6-75 12 0M308 0q5-52 10 0M406 0q8-58 16 0M454 0q9-80 18 0M458 0q5-72 10 0M465 0q11-80 22 0M641 0q4-77 8 0M600 0q15-73 30 0M660 0q9-102 18 0M778 0q7-103 14 0M950 0q11-96 22 0M977 0q22-148 44 0M1025 0q13-102 26 0M989 0q10-76 20 0M968 0q19-144 38 0M950 0q25-178 50 0M1004 0q15-94 30 0M1028 0q19-139 38 0M1033 0q8-112 16 0M1077 0q9-109 18 0M1201 0q5-50 10 0M1184 0q14-104 28 0M1265 0q6-56 12 0" fill="#f0602a" fill-opacity="0.2" stroke="#f0602a" stroke-opacity="0.5" stroke-width="1.5"/>
<path d="M193 0q8-98 16 0M225 0q5-73 10 0M202 0q6-97 12 0M227 0q7-74 14 0M331 0q17-97 34 0M311 0q14-83 28 0M295 0q6-71 12 0M349 0q11-92 22 0M301 0q4-79 8 0M333 0q10-59 20 0M397 0q5-57 10 0M342 0q5-46 10 0M383 0q14-102 28 0M390 0q17-86 34 0M364 0q17-109 34 0M329 0q7-84 14 0M398 0q6-63 12 0M396 0q10-73 20 0M469 0q17-82 34 0M470 0q11-126 22 0M441 0q5-58 10 0M433 0q9-116 18 0M616 0q16-130 32 0M648 0q5-44 10 0M641 0q6-55 12 0M643 0q11-67 22 0M616 0q23-126 46 0M621 0q19-162 38 0M629 0q16-108 32 0M651 0q7-67 14 0M601 0q4-72 8 0M656 0q21-94 42 0M631 0q12-90 24 0M585 0q20-102 40 0M643 0q11-113 22 0M762 0q6-68 12 0M771 0q6-73 12 0M768 0q7-65 14 0M892 0q8-62 16 0M895 0q7-85 14 0M901 0q11-98 22 0M865 0q7-101 14 0M881 0q10-72 20 0M914 0q5-77 10 0M901 0q10-101 20 0M977 0q5-49 10 0M1017 0q7-60 14 0M994 0q20-111 40 0M1008 0q6-53 12 0M991 0q18-155 36 0M964 0q16-148 32 0M1047 0q12-138 24 0M1016 0q10-126 20 0M1029 0q14-134 28 0M980 0q17-141 34 0M1025 0q9-58 18 0M1052 0q8-95 16 0M1074 0q7-51 14 0M1124 0q7-68 14 0M1073 0q7-83 14 0M1077 0q5-53 10 0M1083 0q9-84 18 0M1074 0q9-118 18 0M1191 0q15-79 30 0M1189 0q14-116 28 0M1152 0q7-99 14 0M1216 0q8-105 16 0M1150 0q10-80 20 0M1260 0q9-114 18 0" fill="#f7c23a" fill-opacity="0.2" stroke="#f7c23a" stroke-opacity="0.5" stroke-width="1.5"/>
<path d="M266 0q157-407 314 0M685 0q222-423 444 0M448 0q416-647 832 0M232 0q242-521 484 0M988 0q140-454 280 0M785 0q227-602 454 0M805 0q26-168 52 0M664 0q23-178 46 0M253 0q466-689 932 0M621 0q179-428 358 0" fill="none" stroke="#ee8424" stroke-opacity="0.34" stroke-width="2.0"/>
<path d="M252 0q317-594 634 0M335 0q82-324 164 0M505 0q291-648 582 0M448 0q301-587 602 0M607 0q288-536 576 0M1001 0q52-208 104 0M891 0q146-341 292 0M239 0q389-577 778 0M627 0q89-265 178 0M402 0q92-358 184 0M1192 0q25-191 50 0M858 0q33-156 66 0M364 0q30-183 60 0M353 0q71-275 142 0M640 0q225-611 450 0M648 0q62-269 124 0M843 0q168-442 336 0M504 0q277-672 554 0M344 0q24-157 48 0M346 0q211-590 422 0M222 0q46-220 92 0M494 0q67-265 134 0M587 0q39-213 78 0M778 0q205-390 410 0M969 0q51-284 102 0M324 0q23-193 46 0M337 0q341-563 682 0" fill="none" stroke="#f3a02c" stroke-opacity="0.34" stroke-width="2.0"/>
<path d="M1225 0q33-159 66 0M523 0q353-541 706 0M1026 0q68-329 136 0M335 0q440-742 880 0M601 0q74-273 148 0M353 0q128-452 256 0M893 0q189-490 378 0M843 0q71-302 142 0M237 0q473-764 946 0M1069 0q29-147 58 0" fill="none" stroke="#f0a6a0" stroke-opacity="0.34" stroke-width="2.0"/>
<path d="M232 0q97-397 194 0M724 0q216-465 432 0M919 0q63-289 126 0M195 0q465-635 930 0M877 0q100-387 200 0M455 0q113-429 226 0M523 0q238-599 476 0M333 0q178-480 356 0" fill="none" stroke="#f0602a" stroke-opacity="0.34" stroke-width="2.0"/>
<path d="M309 0q70-229 140 0M585 0q31-228 62 0M1175 0q43-195 86 0M611 0q146-449 292 0M421 0q55-245 110 0M1159 0q43-220 86 0M1014 0q67-317 134 0M625 0q139-467 278 0M924 0q171-432 342 0M582 0q28-174 56 0M1119 0q33-210 66 0" fill="none" stroke="#f8e255" stroke-opacity="0.34" stroke-width="2.0"/>
<path d="M895 0q105-403 210 0M777 0q51-250 102 0M188 0q25-142 50 0M1178 0q28-171 56 0M522 0q165-394 330 0M484 0q84-359 168 0M771 0q208-504 416 0M477 0q55-258 110 0M220 0q35-197 70 0M276 0q251-530 502 0M440 0q225-544 450 0M667 0q150-385 300 0M916 0q81-247 162 0M611 0q225-537 450 0M324 0q187-425 374 0M633 0q148-492 296 0M701 0q85-372 170 0M1123 0q69-323 138 0M879 0q78-300 156 0M407 0q433-730 866 0" fill="none" stroke="#f7c23a" stroke-opacity="0.34" stroke-width="2.0"/>
<path d="M464 0q24-136 48 0M855 0q26-205 52 0M978 0q83-320 166 0M860 0q115-366 230 0M863 0q27-148 54 0M1160 0q59-259 118 0M648 0q318-523 636 0M586 0q232-619 464 0M603 0q245-613 490 0" fill="none" stroke="#ee8424" stroke-opacity="0.34" stroke-width="2.0"/>
<path d="M438 0q275-623 550 0M453 0q175-387 350 0M299 0q32-204 64 0M189 0q448-709 896 0M233 0q25-185 50 0M413 0q293-671 586 0M197 0q281-487 562 0M447 0q205-466 410 0M921 0q47-190 94 0M191 0q167-358 334 0M696 0q242-584 484 0M767 0q85-262 170 0M337 0q59-307 118 0M861 0q76-297 152 0M512 0q184-480 368 0M205 0q20-172 40 0M895 0q88-362 176 0M221 0q405-615 810 0M981 0q126-358 252 0M272 0q108-371 216 0M1147 0q31-211 62 0M394 0q40-238 80 0M902 0q57-228 114 0M636 0q85-342 170 0M672 0q126-426 252 0" fill="none" stroke="#f3a02c" stroke-opacity="0.34" stroke-width="2.0"/>
<path d="M645 0q293-511 586 0M641 0q28-209 56 0M815 0q194-479 388 0M715 0q196-487 392 0M742 0q71-316 142 0M772 0q35-201 70 0" fill="none" stroke="#f0a6a0" stroke-opacity="0.34" stroke-width="2.0"/>
<path d="M1149 0q33-225 66 0M589 0q71-281 142 0M1052 0q21-172 42 0M343 0q268-601 536 0M410 0q177-428 354 0M213 0q220-563 440 0M229 0q317-652 634 0M508 0q96-387 192 0M488 0q22-157 44 0M716 0q116-370 232 0M673 0q155-339 310 0M641 0q136-410 272 0" fill="none" stroke="#f0602a" stroke-opacity="0.34" stroke-width="2.0"/>
<path d="M1139 0q31-181 62 0M1100 0q26-144 52 0M1203 0q26-194 52 0M1210 0q27-194 54 0M237 0q87-348 174 0M909 0q119-364 238 0M476 0q229-532 458 0M763 0q82-279 164 0M335 0q51-252 102 0" fill="none" stroke="#f8e255" stroke-opacity="0.34" stroke-width="2.0"/>
<path d="M404 0q155-389 310 0M1175 0q50-204 100 0M993 0q66-301 132 0M509 0q301-507 602 0M285 0q415-582 830 0M687 0q276-484 552 0M336 0q31-170 62 0M191 0q45-205 90 0M585 0q20-142 40 0M394 0q31-157 62 0M347 0q46-213 92 0M480 0q194-394 388 0M388 0q23-153 46 0M1133 0q63-271 126 0M812 0q26-196 52 0M415 0q408-793 816 0M300 0q359-591 718 0M340 0q71-332 142 0M350 0q39-202 78 0M761 0q25-194 50 0M421 0q417-597 834 0M379 0q157-486 314 0M1009 0q90-286 180 0M245 0q42-245 84 0M355 0q332-666 664 0M284 0q377-696 754 0" fill="none" stroke="#f7c23a" stroke-opacity="0.34" stroke-width="2.0"/>
<path d="M761 0q135-392 270 0M393 0q66-280 132 0M637 0q75-294 150 0M900 0q153-438 306 0M193 0q150-441 300 0M606 0q195-558 390 0M211 0q411-802 822 0M1177 0q57-212 114 0M415 0q250-632 500 0M245 0q370-686 740 0M1079 0q31-152 62 0M781 0q55-250 110 0" fill="none" stroke="#ee8424" stroke-opacity="0.34" stroke-width="2.0"/>
<path d="M891 0q132-396 264 0M215 0q393-698 786 0M371 0q396-789 792 0M315 0q477-683 954 0M631 0q304-658 608 0M1048 0q28-163 56 0M885 0q69-262 138 0M331 0q369-713 738 0M481 0q219-527 438 0M521 0q176-366 352 0M219 0q23-177 46 0M443 0q33-202 66 0M808 0q38-193 76 0M678 0q38-214 76 0M281 0q432-694 864 0M476 0q28-183 56 0M683 0q109-392 218 0M868 0q40-250 80 0M409 0q441-754 882 0M613 0q314-673 628 0M335 0q42-254 84 0M909 0q36-190 72 0M310 0q96-291 192 0M713 0q227-538 454 0M345 0q345-525 690 0M784 0q54-258 108 0M305 0q138-357 276 0M593 0q79-262 158 0" fill="none" stroke="#f3a02c" stroke-opacity="0.34" stroke-width="2.0"/>
<path d="M238 0q498-807 996 0M378 0q287-632 574 0M380 0q115-315 230 0M233 0q36-209 72 0M1066 0q86-366 172 0M1084 0q80-277 160 0M909 0q103-395 206 0M691 0q24-175 48 0M459 0q107-357 214 0M1050 0q96-370 192 0M583 0q43-202 86 0M296 0q117-323 234 0" fill="none" stroke="#f0a6a0" stroke-opacity="0.34" stroke-width="2.0"/>
<path d="M959 0q85-325 170 0M390 0q410-782 820 0M497 0q82-332 164 0M931 0q104-337 208 0M478 0q410-666 820 0M1166 0q64-275 128 0M292 0q115-416 230 0M282 0q97-340 194 0M459 0q53-296 106 0" fill="none" stroke="#f0602a" stroke-opacity="0.34" stroke-width="2.0"/>
<path d="M806 0q143-429 286 0M977 0q67-325 134 0M301 0q299-564 598 0M260 0q386-746 772 0M357 0q397-679 794 0M923 0q31-181 62 0M260 0q374-662 748 0M1116 0q90-314 180 0M729 0q90-271 180 0M521 0q170-402 340 0" fill="none" stroke="#f8e255" stroke-opacity="0.34" stroke-width="2.0"/>
<path d="M900 0q25-202 50 0M519 0q217-416 434 0M267 0q356-755 712 0M383 0q60-254 120 0M685 0q179-427 358 0M403 0q273-622 546 0M251 0q37-188 74 0M220 0q234-579 468 0M389 0q196-507 392 0M665 0q27-196 54 0M346 0q377-626 754 0M628 0q88-378 176 0" fill="none" stroke="#f7c23a" stroke-opacity="0.34" stroke-width="2.0"/>
<path d="M1003 0q63-259 126 0M1056 0q31-227 62 0M611 0q180-395 360 0M212 0q446-658 892 0M328 0q28-178 56 0M391 0q170-493 340 0M255 0q371-598 742 0M292 0q455-642 910 0M225 0q23-161 46 0M404 0q237-498 474 0M521 0q37-190 74 0" fill="none" stroke="#ee8424" stroke-opacity="0.34" stroke-width="2.0"/>
<path d="M196 0q37-185 74 0M516 0q179-386 358 0M717 0q145-361 290 0M327 0q33-204 66 0M213 0q370-753 740 0M540 0q117-298 234 0M278 0q430-564 860 0M392 0q361-633 722 0M855 0q94-341 188 0M1064 0q30-166 60 0M254 0q498-723 996 0M294 0q486-833 972 0M697 0q32-195 64 0M713 0q32-184 64 0M516 0q31-196 62 0M662 0q79-272 158 0M502 0q139-366 278 0M974 0q53-217 106 0M579 0q37-241 74 0M480 0q267-569 534 0M710 0q136-333 272 0" fill="none" stroke="#f3a02c" stroke-opacity="0.34" stroke-width="2.0"/>
<path d="M984 0q58-282 116 0M1133 0q30-168 60 0M982 0q41-191 82 0M1006 0q112-292 224 0M430 0q332-646 664 0M706 0q36-205 72 0M209 0q217-496 434 0M657 0q29-217 58 0M1116 0q22-160 44 0M441 0q225-508 450 0M653 0q27-209 54 0" fill="none" stroke="#f0a6a0" stroke-opacity="0.34" stroke-width="2.0"/>
<path d="M483 0q105-363 210 0M342 0q408-724 816 0M976 0q87-375 174 0M1110 0q58-207 116 0M1079 0q97-330 194 0M411 0q369-525 738 0M315 0q77-250 154 0M733 0q143-440 286 0M268 0q443-583 886 0M533 0q22-133 44 0M317 0q376-656 752 0M382 0q44-188 88 0M339 0q452-821 904 0M516 0q122-400 244 0M1087 0q60-217 120 0M260 0q363-518 726 0M785 0q224-516 448 0M1192 0q34-174 68 0" fill="none" stroke="#f0602a" stroke-opacity="0.34" stroke-width="2.0"/>
<path d="M360 0q319-671 638 0M339 0q40-226 80 0M324 0q316-703 632 0M425 0q332-667 664 0M293 0q398-736 796 0M866 0q24-182 48 0M222 0q487-690 974 0M983 0q125-362 250 0M360 0q318-622 636 0" fill="none" stroke="#f8e255" stroke-opacity="0.34" stroke-width="2.0"/>
<path d="M846 0q58-240 116 0M397 0q37-179 74 0M538 0q219-507 438 0M582 0q39-244 78 0M271 0q489-665 978 0M718 0q70-288 140 0M619 0q212-423 424 0M1033 0q124-356 248 0M1140 0q35-186 70 0M577 0q236-546 472 0M592 0q30-168 60 0M596 0q177-434 354 0M639 0q40-222 80 0M986 0q41-244 82 0M276 0q488-881 976 0" fill="none" stroke="#f7c23a" stroke-opacity="0.34" stroke-width="2.0"/>
<path d="M376 0q313-494 626 0M425 0q233-596 466 0M275 0q388-733 776 0M888 0q62-250 124 0M422 0q79-255 158 0M1003 0q28-213 56 0M680 0q109-342 218 0M397 0q204-480 408 0M366 0q61-242 122 0" fill="none" stroke="#ee8424" stroke-opacity="0.34" stroke-width="2.0"/>
<path d="M481 0q169-491 338 0M1063 0q25-180 50 0M803 0q167-358 334 0M239 0q138-350 276 0M1044 0q28-177 56 0M377 0q375-768 750 0M920 0q35-165 70 0M491 0q51-278 102 0M1085 0q43-214 86 0M188 0q79-271 158 0M796 0q226-492 452 0M1072 0q59-288 118 0M445 0q280-473 560 0M594 0q265-549 530 0M626 0q88-306 176 0M272 0q299-582 598 0M1118 0q72-328 144 0M556 0q267-643 534 0M1209 0q31-181 62 0M999 0q61-297 122 0M657 0q126-380 252 0M326 0q430-604 860 0M627 0q275-517 550 0M605 0q281-510 562 0M422 0q34-225 68 0M404 0q409-741 818 0" fill="none" stroke="#f3a02c" stroke-opacity="0.34" stroke-width="2.0"/>
<path d="M921 0q31-206 62 0M430 0q78-250 156 0M218 0q406-581 812 0M344 0q320-520 640 0M659 0q97-393 194 0M1083 0q50-269 100 0M231 0q57-218 114 0M301 0q165-459 330 0M339 0q22-146 44 0M416 0q417-753 834 0M567 0q24-153 48 0M1045 0q28-169 56 0M334 0q140-352 280 0" fill="none" stroke="#f0a6a0" stroke-opacity="0.34" stroke-width="2.0"/>
<path d="M289 0q52-240 104 0M282 0q375-662 750 0M349 0q423-746 846 0M683 0q162-398 324 0M1058 0q35-177 70 0M669 0q220-525 440 0M256 0q474-686 948 0M401 0q115-301 230 0M971 0q36-234 72 0M693 0q98-329 196 0M1026 0q73-254 146 0" fill="none" stroke="#f0602a" stroke-opacity="0.34" stroke-width="2.0"/>
<path d="M605 0q63-226 126 0M299 0q237-514 474 0M503 0q187-483 374 0M657 0q56-249 112 0M382 0q75-298 150 0M427 0q363-657 726 0M427 0q52-227 104 0M1114 0q31-163 62 0" fill="none" stroke="#f8e255" stroke-opacity="0.34" stroke-width="2.0"/>
<path d="M337 0q330-678 660 0M334 0q49-227 98 0M621 0q90-335 180 0M208 0q42-192 84 0M514 0q292-608 584 0M270 0q28-160 56 0M374 0q345-623 690 0M377 0q415-559 830 0M242 0q380-611 760 0M193 0q478-731 956 0M358 0q444-646 888 0M587 0q167-509 334 0M256 0q26-178 52 0M190 0q27-154 54 0M221 0q38-201 76 0" fill="none" stroke="#f7c23a" stroke-opacity="0.34" stroke-width="2.0"/>
<path d="M478 0q160-359 320 0M426 0q443-804 886 0M599 0q265-628 530 0M363 0q344-569 688 0M815 0q99-379 198 0M726 0q299-672 598 0M1216 0q68-228 136 0M326 0q88-358 176 0M625 0q220-579 440 0M333 0q189-555 378 0M1085 0q87-319 174 0M559 0q124-374 248 0M358 0q266-569 532 0M457 0q347-624 694 0M609 0q85-323 170 0M185 0q224-549 448 0M715 0q258-510 516 0M290 0q213-591 426 0M376 0q210-452 420 0M357 0q414-734 828 0M693 0q322-511 644 0M803 0q160-458 320 0M319 0q482-853 964 0M183 0q77-305 154 0M153 0q400-632 800 0M699 0q78-254 156 0M603 0q149-345 298 0M540 0q203-513 406 0M410 0q429-693 858 0M431 0q68-226 136 0M1051 0q93-302 186 0M255 0q243-459 486 0M222 0q309-611 618 0M415 0q431-775 862 0M831 0q97-324 194 0M772 0q215-485 430 0M959 0q130-427 260 0M362 0q196-476 392 0M188 0q68-266 136 0M166 0q270-666 540 0" fill="none" stroke="#fff" stroke-opacity="0.26" stroke-width="1.6"/>
<path d="M240 0q153-368 306 0M323 0q290-545 580 0M473 0q296-618 592 0M909 0q186-487 372 0M714 0q244-435 488 0M168 0q267-591 534 0M962 0q127-332 254 0M161 0q235-544 470 0M486 0q253-568 506 0M239 0q100-315 200 0M468 0q136-462 272 0M238 0q278-467 556 0M298 0q64-239 128 0M189 0q97-350 194 0M128 0q397-554 794 0M976 0q141-450 282 0M549 0q75-272 150 0M300 0q493-797 986 0M270 0q175-390 350 0M535 0q259-533 518 0M639 0q151-420 302 0M454 0q332-542 664 0M1074 0q117-312 234 0M1003 0q127-323 254 0M891 0q152-411 304 0M883 0q211-411 422 0M1053 0q128-333 256 0M398 0q350-703 700 0M947 0q93-288 186 0M543 0q153-448 306 0M1023 0q72-291 144 0M568 0q94-297 188 0M245 0q438-785 876 0M783 0q98-276 196 0M165 0q61-284 122 0M745 0q285-492 570 0M826 0q198-569 396 0M424 0q111-361 222 0M672 0q77-270 154 0M472 0q123-417 246 0" fill="none" stroke="#fff" stroke-opacity="0.26" stroke-width="1.6"/>
<g filter="url(#blur0)" fill="#fff"><ellipse cx="794" cy="-90.7" rx="80.6" ry="49.6" fill-opacity="0.44"/><ellipse cx="1011.1" cy="-103.1" rx="43.4" ry="31" fill-opacity="0.32"/><ellipse cx="552.1" cy="-22.5" rx="24.8" ry="37.2" fill-opacity="0.4"/><ellipse cx="831.2" cy="-22.5" rx="31" ry="37.2" fill-opacity="0.48"/><ellipse cx="738.2" cy="-16.3" rx="18.6" ry="31" fill-opacity="0.4"/><ellipse cx="1203.3" cy="-78.3" rx="43.4" ry="31" fill-opacity="0.28"/></g>
<path d="M345 0q6-77 12 0M735 0q282-541 564 0M1043 0q121-398 242 0" fill="none" stroke="#ee8424" stroke-opacity="0.45" stroke-width="1.3"/>
<path d="M423 0q316-499 632 0M790 0q5-91 10 0" fill="none" stroke="#8a2c24" stroke-opacity="0.45" stroke-width="1.3"/>
<path d="M1052 0q36-233 72 0M256 0q11-100 22 0M1080 0q62-223 124 0M1177 0q50-219 100 0M1030 0q71-335 142 0M356 0q274-594 548 0M1081 0q9-114 18 0M200 0q7-105 14 0M596 0q53-266 106 0M591 0q253-439 506 0M220 0q130-338 260 0M1007 0q22-128 44 0M1099 0q52-245 104 0M952 0q12-122 24 0" fill="none" stroke="#e63a30" stroke-opacity="0.45" stroke-width="1.3"/>
<path d="M1125 0q7-111 14 0M1140 0q16-116 32 0M331 0q83-284 166 0M247 0q22-160 44 0M704 0q212-569 424 0M213 0q67-318 134 0" fill="none" stroke="#f0602a" stroke-opacity="0.45" stroke-width="1.3"/>
<path d="M977 0q150-465 300 0M690 0q294-510 588 0M580 0q155-430 310 0M406 0q127-391 254 0M280 0q90-361 180 0M931 0q30-150 60 0" fill="none" stroke="#ee8424" stroke-opacity="0.45" stroke-width="1.3"/>
<path d="M244 0q6-97 12 0" fill="none" stroke="#8a2c24" stroke-opacity="0.45" stroke-width="1.3"/>
<path d="M634 0q278-475 556 0M247 0q33-155 66 0M636 0q251-611 502 0M1213 0q17-169 34 0M689 0q194-472 388 0M276 0q11-123 22 0" fill="none" stroke="#e63a30" stroke-opacity="0.45" stroke-width="1.3"/>
<path d="M684 0q28-176 56 0M578 0q43-234 86 0M1006 0q7-88 14 0M608 0q19-137 38 0M266 0q281-591 562 0M518 0q45-191 90 0M1142 0q30-196 60 0M586 0q8-114 16 0M274 0q92-356 184 0M1127 0q68-304 136 0M924 0q10-86 20 0M915 0q100-359 200 0M463 0q68-288 136 0M1281 0q6-99 12 0M883 0q59-297 118 0M626 0q6-84 12 0M416 0q7-85 14 0" fill="none" stroke="#f0602a" stroke-opacity="0.45" stroke-width="1.3"/>
<path d="M206 0q22-129 44 0M206 0q13-137 26 0M194 0q13-125 26 0M195 0q25-138 50 0M231 0q6-80 12 0M329 0q7-98 14 0M324 0q56-299 112 0M276 0q45-186 90 0M287 0q46-232 92 0M351 0q32-179 64 0M295 0q8-78 16 0M304 0q29-166 58 0M383 0q8-105 16 0M308 0q61-298 122 0M417 0q7-101 14 0M447 0q15-130 30 0M487 0q5-89 10 0M475 0q21-130 42 0M625 0q10-91 20 0M618 0q27-195 54 0M645 0q37-245 74 0M600 0q18-144 36 0M658 0q5-70 10 0M632 0q12-126 24 0M655 0q12-102 24 0M765 0q16-117 32 0M766 0q9-110 18 0M861 0q16-140 32 0M868 0q8-77 16 0M985 0q37-177 74 0M1061 0q8-85 16 0M970 0q52-294 104 0M968 0q10-118 20 0M950 0q6-68 12 0M1001 0q40-235 80 0M1007 0q32-179 64 0M1099 0q8-83 16 0M1068 0q16-116 32 0M1110 0q12-137 24 0M1092 0q15-126 30 0M1192 0q26-163 52 0M1204 0q13-106 26 0M1139 0q28-171 56 0M1177 0q14-123 28 0M1149 0q30-154 60 0M1178 0q15-117 30 0M1255 0q13-99 26 0M1254 0q14-105 28 0" fill="none" stroke="#ee8424" stroke-opacity="0.45" stroke-width="1.3"/>
<path d="M204 0q18-153 36 0M361 0q23-186 46 0M956 0q27-178 54 0M1079 0q12-108 24 0" fill="none" stroke="#8a2c24" stroke-opacity="0.45" stroke-width="1.3"/>
<path d="M214 0q25-150 50 0M209 0q11-119 22 0M225 0q7-79 14 0M252 0q6-66 12 0M372 0q16-161 32 0M357 0q17-146 34 0M277 0q55-221 110 0M455 0q10-95 20 0M437 0q6-85 12 0M430 0q33-170 66 0M452 0q6-70 12 0M620 0q8-109 16 0M580 0q58-222 116 0M581 0q6-88 12 0M569 0q63-252 126 0M593 0q23-139 46 0M773 0q15-147 30 0M888 0q15-147 30 0M998 0q22-145 44 0M1001 0q20-182 40 0M986 0q27-204 54 0M966 0q12-104 24 0M963 0q62-304 124 0M912 0q63-317 126 0M1098 0q8-110 16 0M1099 0q7-101 14 0M1155 0q43-190 86 0M1173 0q21-140 42 0M1174 0q12-123 24 0M1250 0q18-133 36 0M1268 0q6-76 12 0M1255 0q10-115 20 0" fill="none" stroke="#e63a30" stroke-opacity="0.45" stroke-width="1.3"/>
<path d="M192 0q32-167 64 0M195 0q6-95 12 0M236 0q11-114 22 0M221 0q11-108 22 0M243 0q9-113 18 0M315 0q8-99 16 0M309 0q43-260 86 0M395 0q10-106 20 0M283 0q21-186 42 0M276 0q53-205 106 0M296 0q39-181 78 0M356 0q15-143 30 0M290 0q25-198 50 0M399 0q9-99 18 0M301 0q6-77 12 0M308 0q67-292 134 0M369 0q36-240 72 0M366 0q16-117 32 0M308 0q59-296 118 0M346 0q5-85 10 0M306 0q13-110 26 0M390 0q5-85 10 0M380 0q22-163 44 0M283 0q18-166 36 0M355 0q5-86 10 0M308 0q6-85 12 0M466 0q18-117 36 0M469 0q17-152 34 0M465 0q9-88 18 0M424 0q49-259 98 0M491 0q9-108 18 0M498 0q17-149 34 0M610 0q13-125 26 0M588 0q8-100 16 0M561 0q60-313 120 0M583 0q50-252 100 0M668 0q12-118 24 0M579 0q42-203 84 0M586 0q17-129 34 0M650 0q18-142 36 0M593 0q9-96 18 0M599 0q5-64 10 0M594 0q9-88 18 0M784 0q8-116 16 0M774 0q6-90 12 0M765 0q6-94 12 0M767 0q11-120 22 0M877 0q13-110 26 0M863 0q6-68 12 0M904 0q5-83 10 0M897 0q17-114 34 0M864 0q9-94 18 0M899 0q15-106 30 0M896 0q9-109 18 0M879 0q11-95 22 0M950 0q30-213 60 0M1009 0q39-221 78 0M928 0q44-221 88 0M995 0q24-151 48 0M985 0q43-206 86 0M1017 0q6-78 12 0M955 0q21-179 42 0M971 0q6-84 12 0M926 0q47-274 94 0M1022 0q25-139 50 0M954 0q8-105 16 0M1023 0q13-103 26 0M993 0q57-248 114 0M970 0q50-209 100 0M1086 0q7-97 14 0M1115 0q16-162 32 0M1089 0q13-109 26 0M1066 0q31-202 62 0M1078 0q44-202 88 0M1134 0q8-88 16 0M1131 0q6-84 12 0M1081 0q23-185 46 0M1203 0q5-93 10 0M1165 0q9-88 18 0M1190 0q20-147 40 0M1202 0q8-79 16 0M1134 0q42-187 84 0M1207 0q5-65 10 0M1273 0q5-78 10 0M1284 0q8-109 16 0" fill="none" stroke="#f0602a" stroke-opacity="0.45" stroke-width="1.3"/>
<path d="M225 0q14-107 28 0M212 0q11-123 22 0M192 0q19-144 38 0M281 0q48-227 96 0M293 0q36-221 72 0M295 0q69-280 138 0M312 0q48-260 96 0M297 0q42-219 84 0M410 0q11-109 22 0M354 0q53-247 106 0M311 0q48-219 96 0M327 0q11-129 22 0M377 0q17-117 34 0M302 0q23-176 46 0M382 0q26-140 52 0M426 0q47-233 94 0M428 0q9-86 18 0M455 0q19-122 38 0M422 0q24-178 48 0M652 0q9-85 18 0M641 0q20-171 40 0M636 0q23-149 46 0M639 0q6-66 12 0M580 0q46-263 92 0M641 0q32-207 64 0M631 0q9-124 18 0M651 0q16-146 32 0M624 0q15-124 30 0M768 0q18-127 36 0M865 0q8-93 16 0M882 0q11-107 22 0M886 0q7-89 14 0M871 0q6-76 12 0M1020 0q13-128 26 0M961 0q9-84 18 0M992 0q15-120 30 0M1008 0q7-91 14 0M1039 0q8-114 16 0M1041 0q11-128 22 0M1043 0q10-104 20 0M1002 0q24-189 48 0M984 0q17-157 34 0M1035 0q22-182 44 0M939 0q29-191 58 0M1106 0q12-107 24 0M1143 0q12-126 24 0M1161 0q32-156 64 0M1136 0q25-143 50 0M1161 0q11-117 22 0M1142 0q27-209 54 0M1258 0q17-118 34 0M1263 0q5-62 10 0M1266 0q7-97 14 0" fill="none" stroke="#ee8424" stroke-opacity="0.45" stroke-width="1.3"/>
<path d="M475 0q5-82 10 0M669 0q8-79 16 0M892 0q10-113 20 0M995 0q5-88 10 0M1002 0q21-145 42 0M1024 0q25-158 50 0M1186 0q26-198 52 0" fill="none" stroke="#8a2c24" stroke-opacity="0.45" stroke-width="1.3"/>
<path d="M251 0q6-69 12 0M342 0q12-101 24 0M295 0q56-295 112 0M363 0q6-88 12 0M343 0q27-211 54 0M259 0q62-220 124 0M287 0q39-230 78 0M304 0q49-283 98 0M336 0q13-132 26 0M410 0q51-230 102 0M671 0q12-129 24 0M662 0q29-203 58 0M624 0q19-169 38 0M589 0q33-165 66 0M612 0q9-110 18 0M694 0q6-74 12 0M674 0q5-80 10 0M777 0q5-80 10 0M876 0q19-143 38 0M883 0q10-124 20 0M981 0q22-151 44 0M969 0q36-197 72 0M950 0q7-71 14 0M952 0q29-149 58 0M1038 0q21-136 42 0M1021 0q15-113 30 0M990 0q10-110 20 0M1117 0q18-120 36 0M1095 0q11-102 22 0M1092 0q10-117 20 0M1103 0q7-73 14 0M1080 0q33-220 66 0M1070 0q8-112 16 0M1138 0q26-204 52 0M1144 0q42-196 84 0M1152 0q23-192 46 0M1260 0q13-133 26 0M1253 0q17-166 34 0" fill="none" stroke="#e63a30" stroke-opacity="0.45" stroke-width="1.3"/>
<path d="M233 0q6-98 12 0M209 0q9-123 18 0M191 0q29-170 58 0M248 0q8-98 16 0M219 0q11-105 22 0M239 0q10-105 20 0M214 0q6-78 12 0M207 0q29-202 58 0M239 0q5-85 10 0M220 0q15-139 30 0M285 0q67-259 134 0M327 0q29-185 58 0M295 0q34-209 68 0M407 0q9-110 18 0M306 0q23-166 46 0M295 0q28-196 56 0M300 0q13-143 26 0M361 0q35-234 70 0M389 0q15-116 30 0M403 0q8-84 16 0M410 0q12-102 24 0M399 0q13-101 26 0M365 0q44-187 88 0M391 0q7-90 14 0M304 0q6-95 12 0M487 0q25-199 50 0M469 0q7-107 14 0M424 0q11-121 22 0M465 0q15-135 30 0M477 0q11-100 22 0M458 0q27-213 54 0M455 0q17-147 34 0M447 0q34-231 68 0M470 0q6-98 12 0M616 0q35-205 70 0M589 0q10-114 20 0M575 0q7-99 14 0M587 0q70-328 140 0M573 0q22-162 44 0M592 0q10-123 20 0M636 0q6-85 12 0M640 0q15-133 30 0M758 0q12-113 24 0M781 0q6-86 12 0M779 0q4-56 8 0M849 0q33-164 66 0M859 0q17-130 34 0M881 0q8-84 16 0M856 0q24-183 48 0M1047 0q16-154 32 0M1013 0q8-86 16 0M988 0q11-98 22 0M961 0q41-191 82 0M969 0q56-281 112 0M1128 0q6-97 12 0M1070 0q24-183 48 0M1105 0q11-122 22 0M1096 0q31-226 62 0M1129 0q10-92 20 0M1045 0q48-216 96 0M1127 0q12-135 24 0M1073 0q29-183 58 0M1201 0q8-115 16 0M1129 0q38-225 76 0M1156 0q14-132 28 0M1146 0q28-212 56 0M1156 0q22-154 44 0M1162 0q13-120 26 0" fill="none" stroke="#f0602a" stroke-opacity="0.45" stroke-width="1.3"/>
<path d="M850 0q211-520 422 0M1228 0q22-152 44 0" fill="none" stroke="#8a2c24" stroke-opacity="0.5" stroke-width="1.2"/>
<path d="M248 0q56-172 112 0" fill="none" stroke="#8a2c24" stroke-opacity="0.5" stroke-width="1.3"/>
<path d="M1172 0q59-272 118 0" fill="none" stroke="#e63a30" stroke-opacity="0.5" stroke-width="1.3"/>
<path d="M440 0q211-460 422 0" fill="none" stroke="#8a2c24" stroke-opacity="0.5" stroke-width="1.4"/>
<path d="M1048 0q124-440 248 0" fill="none" stroke="#e63a30" stroke-opacity="0.5" stroke-width="1.4"/>
<path d="M1141 0q16-124 32 0" fill="none" stroke="#8a2c24" stroke-opacity="0.5" stroke-width="1.5"/>
<path d="M583 0q78-276 156 0" fill="none" stroke="#f0602a" stroke-opacity="0.5" stroke-width="1.6"/>
</g>
</g>
<rect x="186.5" y="697" width="1115.5" height="148.5" fill="none" stroke="#000" stroke-width="3.2"/>
<path d="M174 718L186 718" stroke="#000" stroke-width="2.4" fill="none" />
<text x="171" y="728" font-size="28" text-anchor="end" stroke="#000" stroke-width="1.1">40</text>
<path d="M174 780.5L186 780.5" stroke="#000" stroke-width="2.4" fill="none" />
<text x="171" y="790.5" font-size="28" text-anchor="end" stroke="#000" stroke-width="1.1">20</text>
<path d="M174 843L186 843" stroke="#000" stroke-width="2.4" fill="none" />
<text x="171" y="853" font-size="28" text-anchor="end" stroke="#000" stroke-width="1.1">0</text>
<g clip-path="url(#ct1)">
<linearGradient id="bg1" x1="0" y1="0" x2="0" y2="1"><stop offset="0" stop-color="#f6c63c"/><stop offset="1" stop-color="#f29c20"/></linearGradient>
<path d="M187.5 1014Q193.5 906.4 277.5 870.5H1210.5Q1294.5 906.4 1300.5 1014Z" fill="url(#bg1)" fill-opacity="0.95"/>
<g transform="translate(0 1014)">
<path d="M545 0q6-56 12 0M751 0q6-50 12 0M394 0q18-117 36 0M658 0q7-101 14 0M1200 0q17-119 34 0M701 0q4-77 8 0M872 0q7-72 14 0M1127 0q25-143 50 0M1060 0q20-130 40 0M866 0q15-131 30 0M319 0q15-96 30 0M206 0q21-100 42 0M755 0q11-105 22 0M459 0q4-80 8 0M243 0q15-117 30 0M913 0q10-97 20 0M301 0q5-67 10 0M1118 0q17-90 34 0M1128 0q28-204 56 0M241 0q25-115 50 0M779 0q5-53 10 0M338 0q7-79 14 0M310 0q5-71 10 0M990 0q22-183 44 0M1053 0q6-85 12 0M935 0q19-132 38 0" fill="#f3a02c" fill-opacity="0.2" stroke="#f3a02c" stroke-opacity="0.5" stroke-width="1.5"/>
<path d="M985 0q19-153 38 0M344 0q11-82 22 0M776 0q11-66 22 0M506 0q10-122 20 0M1233 0q29-155 58 0M407 0q5-78 10 0M1121 0q14-129 28 0M1242 0q6-93 12 0M578 0q19-144 38 0M1015 0q6-92 12 0M1242 0q10-86 20 0M624 0q20-141 40 0M672 0q24-97 48 0M195 0q5-82 10 0M517 0q12-120 24 0M592 0q4-68 8 0M1039 0q7-93 14 0M1104 0q13-133 26 0M873 0q7-71 14 0M1134 0q17-113 34 0M1090 0q7-61 14 0M284 0q27-138 54 0M682 0q9-75 18 0M1087 0q4-68 8 0M1123 0q16-107 32 0M402 0q6-51 12 0" fill="#f8e255" fill-opacity="0.2" stroke="#f8e255" stroke-opacity="0.5" stroke-width="1.5"/>
<path d="M1192 0q27-108 54 0M764 0q27-128 54 0M958 0q18-130 36 0M449 0q22-180 44 0M355 0q21-154 42 0M1244 0q26-146 52 0M987 0q5-47 10 0M822 0q11-93 22 0M296 0q16-148 32 0M966 0q19-116 38 0M514 0q5-76 10 0M957 0q10-129 20 0M820 0q18-154 36 0M1006 0q15-130 30 0M331 0q23-129 46 0M863 0q20-106 40 0M867 0q20-166 40 0M650 0q7-68 14 0M1111 0q11-121 22 0M304 0q4-45 8 0M565 0q10-77 20 0M915 0q24-113 48 0M1168 0q28-181 56 0M601 0q28-144 56 0M804 0q5-74 10 0M1120 0q17-126 34 0M883 0q20-142 40 0M985 0q14-136 28 0M551 0q4-81 8 0M363 0q11-97 22 0M1048 0q5-50 10 0M692 0q13-71 26 0M353 0q22-146 44 0M1092 0q15-151 30 0M1175 0q12-128 24 0M566 0q6-79 12 0M656 0q7-76 14 0M1076 0q11-94 22 0M542 0q4-50 8 0M218 0q4-39 8 0M222 0q12-83 24 0M406 0q23-174 46 0M1070 0q24-165 48 0M1167 0q21-163 42 0M1096 0q10-72 20 0M871 0q13-88 26 0M640 0q9-88 18 0M671 0q27-144 54 0" fill="#f7c23a" fill-opacity="0.2" stroke="#f7c23a" stroke-opacity="0.5" stroke-width="1.5"/>
<path d="M976 0q22-118 44 0M1199 0q11-121 22 0M662 0q16-84 32 0M537 0q28-175 56 0M480 0q8-54 16 0M513 0q21-166 42 0M451 0q7-67 14 0M239 0q10-119 20 0M819 0q23-146 46 0M434 0q6-91 12 0M1150 0q20-180 40 0M1230 0q10-89 20 0M1020 0q14-99 28 0M897 0q9-116 18 0M275 0q8-76 16 0M1114 0q28-167 56 0M1247 0q18-123 36 0M378 0q17-134 34 0M466 0q18-111 36 0M1109 0q11-132 22 0M425 0q7-86 14 0M1218 0q14-132 28 0M344 0q14-80 28 0M1228 0q13-72 26 0M654 0q9-114 18 0M1149 0q16-77 32 0M1218 0q22-133 44 0" fill="#f3a02c" fill-opacity="0.2" stroke="#f3a02c" stroke-opacity="0.5" stroke-width="1.5"/>
<path d="M384 0q16-143 32 0M472 0q25-127 50 0M966 0q21-105 42 0M234 0q9-65 18 0M888 0q10-81 20 0M1153 0q8-84 16 0M378 0q9-79 18 0M445 0q12-94 24 0M616 0q14-101 28 0M932 0q11-74 22 0M1030 0q7-63 14 0M1119 0q7-58 14 0M1225 0q26-163 52 0M285 0q10-95 20 0M264 0q6-51 12 0M1151 0q20-139 40 0M508 0q8-91 16 0M700 0q18-138 36 0M1200 0q13-76 26 0M188 0q8-55 16 0M265 0q8-69 16 0M431 0q13-103 26 0M775 0q5-64 10 0M386 0q12-109 24 0" fill="#f8e255" fill-opacity="0.2" stroke="#f8e255" stroke-opacity="0.5" stroke-width="1.5"/>
<path d="M217 0q4-53 8 0M973 0q9-82 18 0M942 0q23-113 46 0M643 0q14-114 28 0M442 0q6-72 12 0M384 0q12-123 24 0M203 0q16-109 32 0M1012 0q10-68 20 0M1062 0q10-96 20 0M1078 0q13-96 26 0M804 0q19-125 38 0M1073 0q15-152 30 0M863 0q5-56 10 0M509 0q10-99 20 0M441 0q10-126 20 0M762 0q9-64 18 0M927 0q5-93 10 0M1190 0q11-70 22 0M506 0q10-118 20 0M415 0q25-153 50 0M712 0q6-70 12 0M507 0q22-176 44 0M857 0q5-47 10 0M982 0q17-78 34 0M340 0q10-103 20 0M661 0q14-133 28 0M1185 0q9-96 18 0M1191 0q9-84 18 0M574 0q5-78 10 0M217 0q14-139 28 0M384 0q8-98 16 0M1106 0q9-113 18 0M721 0q5-85 10 0M1049 0q8-67 16 0M759 0q24-190 48 0M561 0q15-154 30 0M1090 0q16-75 32 0M935 0q9-100 18 0M303 0q7-59 14 0M530 0q4-61 8 0M330 0q14-120 28 0M997 0q7-91 14 0M1125 0q15-127 30 0M991 0q23-164 46 0M760 0q11-130 22 0M770 0q8-68 16 0M547 0q26-170 52 0M658 0q12-96 24 0M1053 0q25-149 50 0M614 0q19-146 38 0M462 0q7-61 14 0M766 0q11-117 22 0" fill="#f7c23a" fill-opacity="0.2" stroke="#f7c23a" stroke-opacity="0.5" stroke-width="1.5"/>
<path d="M847 0q14-82 28 0M1166 0q9-91 18 0M1166 0q18-151 36 0M936 0q28-158 56 0M250 0q18-105 36 0M567 0q4-73 8 0M526 0q10-75 20 0M414 0q11-66 22 0M1224 0q12-72 24 0M575 0q28-144 56 0M1215 0q16-141 32 0M944 0q16-79 32 0M1183 0q13-107 26 0M1233 0q5-44 10 0M236 0q6-94 12 0M862 0q29-130 58 0M767 0q28-180 56 0M1169 0q11-110 22 0M1081 0q7-60 14 0M1085 0q26-183 52 0M1239 0q8-66 16 0M256 0q7-107 14 0M233 0q15-105 30 0M992 0q11-79 22 0M915 0q15-108 30 0M511 0q5-88 10 0M662 0q9-99 18 0M666 0q5-82 10 0M555 0q6-78 12 0M415 0q20-103 40 0M554 0q20-152 40 0M1061 0q12-124 24 0" fill="#f3a02c" fill-opacity="0.2" stroke="#f3a02c" stroke-opacity="0.5" stroke-width="1.5"/>
<path d="M1157 0q8-82 16 0M757 0q8-93 16 0M275 0q5-74 10 0M1232 0q10-127 20 0M846 0q4-47 8 0M842 0q17-159 34 0M613 0q15-80 30 0M322 0q30-184 60 0M240 0q15-92 30 0M487 0q16-127 32 0M764 0q9-69 18 0M563 0q4-39 8 0M595 0q10-99 20 0M877 0q14-123 28 0M341 0q6-99 12 0M1192 0q6-88 12 0M1022 0q7-64 14 0M1222 0q7-66 14 0M876 0q12-79 24 0M1068 0q17-114 34 0" fill="#f8e255" fill-opacity="0.2" stroke="#f8e255" stroke-opacity="0.5" stroke-width="1.5"/>
<path d="M930 0q6-94 12 0M530 0q15-111 30 0M249 0q5-51 10 0M950 0q20-125 40 0M341 0q30-110 60 0M1106 0q19-139 38 0M696 0q13-141 26 0M1021 0q5-76 10 0M1092 0q5-60 10 0M449 0q5-74 10 0M1165 0q10-129 20 0M889 0q7-68 14 0M1030 0q8-64 16 0M865 0q10-120 20 0M330 0q11-69 22 0M860 0q21-123 42 0M524 0q13-114 26 0M532 0q6-59 12 0M421 0q6-84 12 0M328 0q10-83 20 0M1221 0q10-84 20 0M445 0q5-40 10 0M562 0q20-149 40 0M911 0q15-77 30 0M660 0q25-96 50 0M862 0q6-63 12 0M1060 0q12-66 24 0M1036 0q13-93 26 0M768 0q17-122 34 0M596 0q20-98 40 0M1076 0q6-75 12 0M886 0q10-75 20 0M725 0q21-114 42 0M388 0q10-86 20 0M910 0q7-97 14 0M299 0q13-84 26 0M1183 0q6-95 12 0M499 0q6-91 12 0M847 0q15-155 30 0M352 0q11-87 22 0M193 0q4-68 8 0M1120 0q18-99 36 0M904 0q11-119 22 0M627 0q12-85 24 0M227 0q27-158 54 0M475 0q20-111 40 0M642 0q5-57 10 0M862 0q26-105 52 0M432 0q22-139 44 0M497 0q11-84 22 0" fill="#f7c23a" fill-opacity="0.2" stroke="#f7c23a" stroke-opacity="0.5" stroke-width="1.5"/>
<path d="M618 0q10-125 20 0M1191 0q13-104 26 0M323 0q23-132 46 0M889 0q5-89 10 0M1214 0q25-141 50 0M1089 0q5-51 10 0M622 0q19-159 38 0M612 0q14-142 28 0M578 0q8-69 16 0M1187 0q23-193 46 0M647 0q22-102 44 0M306 0q6-75 12 0M642 0q9-87 18 0M934 0q19-124 38 0M424 0q23-158 46 0M621 0q17-85 34 0M859 0q12-136 24 0M311 0q28-170 56 0M796 0q21-134 42 0M418 0q5-43 10 0M232 0q20-170 40 0M214 0q7-72 14 0M657 0q28-203 56 0M1103 0q17-158 34 0M977 0q5-66 10 0M657 0q10-106 20 0M366 0q4-48 8 0M789 0q11-80 22 0M1028 0q9-61 18 0M879 0q11-85 22 0M929 0q15-74 30 0" fill="#f3a02c" fill-opacity="0.2" stroke="#f3a02c" stroke-opacity="0.5" stroke-width="1.5"/>
<path d="M1265 0q8-63 16 0M597 0q7-54 14 0M1177 0q5-72 10 0M919 0q9-98 18 0M312 0q10-84 20 0M446 0q13-114 26 0M353 0q22-91 44 0M1094 0q5-59 10 0M976 0q21-128 42 0M1100 0q9-96 18 0M1164 0q6-87 12 0M409 0q18-83 36 0M1113 0q9-124 18 0M1141 0q18-150 36 0M763 0q15-80 30 0M196 0q21-113 42 0M1270 0q7-88 14 0" fill="#f8e255" fill-opacity="0.2" stroke="#f8e255" stroke-opacity="0.5" stroke-width="1.5"/>
<path d="M213 0q6-55 12 0M1152 0q6-76 12 0M994 0q4-50 8 0M559 0q5-64 10 0M191 0q12-94 24 0M1270 0q7-51 14 0M921 0q28-175 56 0M505 0q22-137 44 0M969 0q11-129 22 0M190 0q5-80 10 0M1141 0q10-103 20 0M271 0q8-62 16 0M217 0q5-60 10 0M287 0q26-118 52 0M269 0q25-182 50 0M798 0q11-97 22 0M245 0q6-67 12 0M661 0q7-74 14 0M407 0q12-110 24 0M557 0q17-116 34 0M1172 0q20-113 40 0M873 0q5-65 10 0M909 0q21-178 42 0M667 0q11-133 22 0M696 0q10-77 20 0M972 0q7-96 14 0M630 0q15-156 30 0M1246 0q5-82 10 0M409 0q24-105 48 0M208 0q12-114 24 0M393 0q5-61 10 0M1027 0q9-75 18 0M689 0q6-53 12 0M370 0q21-97 42 0M480 0q7-62 14 0M890 0q13-122 26 0M899 0q12-126 24 0M1271 0q14-123 28 0M657 0q15-101 30 0M895 0q5-53 10 0M504 0q5-52 10 0M870 0q14-148 28 0M1042 0q5-68 10 0M1047 0q10-60 20 0M1141 0q7-50 14 0M1168 0q6-63 12 0M1256 0q6-88 12 0M849 0q7-86 14 0" fill="#f7c23a" fill-opacity="0.2" stroke="#f7c23a" stroke-opacity="0.5" stroke-width="1.5"/>
<path d="M1171 0q39-185 78 0M305 0q44-200 88 0M314 0q47-214 94 0M1019 0q52-233 104 0M305 0q82-273 164 0M997 0q20-136 40 0M466 0q109-294 218 0M489 0q274-477 548 0" fill="none" stroke="#fbeea0" stroke-opacity="0.35" stroke-width="2.0"/>
<path d="M759 0q21-181 42 0M929 0q69-236 138 0M262 0q387-663 774 0M783 0q130-351 260 0M325 0q129-442 258 0M648 0q228-455 456 0M246 0q65-219 130 0M1221 0q26-207 52 0M986 0q33-187 66 0M225 0q22-181 44 0M787 0q185-428 370 0" fill="none" stroke="#f3a02c" stroke-opacity="0.35" stroke-width="2.0"/>
<path d="M944 0q89-358 178 0M375 0q380-769 760 0M915 0q39-173 78 0M567 0q192-530 384 0M334 0q22-157 44 0M722 0q242-555 484 0M264 0q141-439 282 0M290 0q491-841 982 0M807 0q160-508 320 0M866 0q132-462 264 0M396 0q37-240 74 0M279 0q29-186 58 0M486 0q25-158 50 0M373 0q410-626 820 0M249 0q302-673 604 0M243 0q330-618 660 0M407 0q443-579 886 0M662 0q56-233 112 0M477 0q42-189 84 0M995 0q111-417 222 0M653 0q285-633 570 0M443 0q78-325 156 0M661 0q49-268 98 0M593 0q205-573 410 0M629 0q314-710 628 0M431 0q40-188 80 0M312 0q211-564 422 0M1152 0q49-253 98 0" fill="none" stroke="#f8e255" stroke-opacity="0.35" stroke-width="2.0"/>
<path d="M329 0q40-204 80 0M607 0q44-192 88 0M381 0q250-526 500 0M469 0q151-357 302 0M936 0q64-233 128 0M250 0q434-652 868 0M619 0q24-166 48 0M1202 0q48-255 96 0M789 0q120-441 240 0M813 0q209-573 418 0M866 0q111-422 222 0M344 0q240-459 480 0M1083 0q48-274 96 0M316 0q138-466 276 0M360 0q318-649 636 0M238 0q127-435 254 0M573 0q42-241 84 0M405 0q106-314 212 0M530 0q57-298 114 0M1208 0q29-165 58 0M309 0q100-301 200 0M877 0q20-161 40 0M228 0q152-351 304 0M524 0q127-340 254 0M841 0q145-460 290 0M200 0q488-829 976 0M256 0q22-130 44 0M598 0q35-239 70 0M537 0q35-191 70 0M866 0q80-341 160 0M614 0q123-384 246 0M812 0q45-252 90 0M230 0q373-553 746 0M634 0q185-459 370 0" fill="none" stroke="#f7c23a" stroke-opacity="0.35" stroke-width="2.0"/>
<path d="M751 0q143-441 286 0M281 0q307-540 614 0M319 0q25-190 50 0M551 0q29-188 58 0M450 0q39-199 78 0M1196 0q45-273 90 0M795 0q29-199 58 0M882 0q91-274 182 0" fill="none" stroke="#fbeea0" stroke-opacity="0.35" stroke-width="2.0"/>
<path d="M231 0q43-246 86 0M677 0q204-424 408 0M259 0q49-254 98 0M204 0q97-340 194 0M500 0q136-472 272 0M447 0q136-340 272 0M978 0q56-224 112 0M933 0q34-214 68 0M382 0q45-205 90 0M875 0q119-299 238 0M866 0q148-440 296 0M273 0q499-794 998 0M387 0q141-440 282 0M288 0q485-614 970 0M350 0q210-473 420 0M495 0q25-142 50 0M761 0q100-336 200 0" fill="none" stroke="#f3a02c" stroke-opacity="0.35" stroke-width="2.0"/>
<path d="M992 0q95-267 190 0M406 0q40-207 80 0M807 0q54-292 108 0M312 0q47-239 94 0M293 0q209-442 418 0M715 0q77-259 154 0M704 0q164-481 328 0M668 0q72-250 144 0M465 0q412-630 824 0M905 0q43-204 86 0M658 0q129-360 258 0M272 0q114-401 228 0M619 0q215-414 430 0M905 0q62-319 124 0M220 0q35-210 70 0M1166 0q27-212 54 0M1059 0q85-339 170 0M1006 0q95-395 190 0M252 0q244-603 488 0M1143 0q46-199 92 0M265 0q44-211 88 0M414 0q237-589 474 0M621 0q157-369 314 0M347 0q301-509 602 0" fill="none" stroke="#f8e255" stroke-opacity="0.35" stroke-width="2.0"/>
<path d="M378 0q34-195 68 0M191 0q54-263 108 0M838 0q89-382 178 0M548 0q43-231 86 0M914 0q85-336 170 0M1212 0q28-208 56 0M196 0q74-310 148 0M465 0q376-693 752 0M567 0q230-513 460 0M810 0q24-174 48 0M563 0q305-535 610 0M215 0q474-700 948 0M197 0q103-287 206 0M300 0q485-895 970 0M535 0q92-346 184 0M474 0q263-649 526 0M853 0q145-418 290 0M281 0q455-672 910 0M1095 0q69-288 138 0M196 0q117-411 234 0M1022 0q91-292 182 0M215 0q116-311 232 0M769 0q126-360 252 0M861 0q107-393 214 0M475 0q271-651 542 0M274 0q155-498 310 0M631 0q68-237 136 0M592 0q85-359 170 0M207 0q494-828 988 0M562 0q331-513 662 0M644 0q69-260 138 0M290 0q411-775 822 0M285 0q74-268 148 0" fill="none" stroke="#f7c23a" stroke-opacity="0.35" stroke-width="2.0"/>
<path d="M297 0q393-703 786 0M680 0q221-529 442 0M193 0q365-645 730 0M1185 0q27-172 54 0M866 0q77-271 154 0" fill="none" stroke="#fbeea0" stroke-opacity="0.35" stroke-width="2.0"/>
<path d="M455 0q216-522 432 0M188 0q487-685 974 0M856 0q211-541 422 0M984 0q84-274 168 0M481 0q21-127 42 0M295 0q305-679 610 0M1043 0q81-346 162 0M946 0q86-354 172 0M277 0q170-465 340 0M893 0q185-408 370 0M401 0q221-575 442 0M886 0q62-274 124 0M235 0q78-307 156 0M762 0q242-562 484 0M684 0q180-455 360 0" fill="none" stroke="#f3a02c" stroke-opacity="0.35" stroke-width="2.0"/>
<path d="M265 0q60-239 120 0M464 0q63-298 126 0M297 0q500-899 1000 0M979 0q73-275 146 0M485 0q111-388 222 0M347 0q297-474 594 0M308 0q425-818 850 0M452 0q33-209 66 0M437 0q295-621 590 0M1017 0q120-363 240 0M548 0q292-558 584 0M949 0q44-260 88 0M896 0q64-248 128 0M413 0q313-570 626 0M847 0q92-313 184 0M248 0q478-832 956 0M322 0q346-686 692 0M302 0q418-627 836 0M349 0q74-252 148 0M933 0q52-270 104 0M800 0q103-294 206 0M263 0q45-217 90 0M991 0q37-183 74 0M655 0q24-170 48 0M446 0q77-273 154 0M387 0q26-151 52 0M565 0q234-552 468 0M804 0q58-230 116 0M707 0q182-507 364 0M293 0q250-581 500 0M572 0q59-282 118 0M1056 0q24-176 48 0M311 0q152-478 304 0M1105 0q21-130 42 0" fill="none" stroke="#f8e255" stroke-opacity="0.35" stroke-width="2.0"/>
<path d="M488 0q119-384 238 0M265 0q229-538 458 0M938 0q136-399 272 0M938 0q140-438 280 0M300 0q24-183 48 0M211 0q456-626 912 0M914 0q111-419 222 0M214 0q35-204 70 0M935 0q107-389 214 0M923 0q115-319 230 0M1041 0q73-236 146 0M980 0q111-291 222 0M285 0q291-650 582 0M595 0q129-385 258 0M287 0q55-280 110 0M188 0q90-369 180 0M720 0q100-297 200 0M672 0q72-238 144 0M523 0q357-761 714 0M342 0q112-290 224 0M389 0q92-341 184 0M196 0q451-768 902 0M611 0q188-397 376 0M675 0q55-224 110 0M377 0q69-312 138 0M539 0q244-580 488 0M461 0q208-426 416 0" fill="none" stroke="#f7c23a" stroke-opacity="0.35" stroke-width="2.0"/>
<path d="M191 0q295-601 590 0M681 0q137-384 274 0M767 0q22-184 44 0M197 0q65-221 130 0" fill="none" stroke="#fbeea0" stroke-opacity="0.35" stroke-width="2.0"/>
<path d="M683 0q101-277 202 0M686 0q137-430 274 0M414 0q91-384 182 0M608 0q156-472 312 0M377 0q237-486 474 0M955 0q154-501 308 0M750 0q143-381 286 0M979 0q47-242 94 0M233 0q127-391 254 0M779 0q121-394 242 0M807 0q216-533 432 0M222 0q350-553 700 0M321 0q42-195 84 0M1126 0q71-278 142 0M944 0q96-335 192 0M733 0q46-230 92 0" fill="none" stroke="#f3a02c" stroke-opacity="0.35" stroke-width="2.0"/>
<path d="M754 0q228-529 456 0M925 0q27-169 54 0M426 0q274-460 548 0M220 0q33-164 66 0M1089 0q54-206 108 0M357 0q405-689 810 0M201 0q52-227 104 0M445 0q318-676 636 0M619 0q160-484 320 0M624 0q28-146 56 0M393 0q343-611 686 0M1085 0q36-189 72 0M400 0q155-387 310 0M1066 0q66-247 132 0M979 0q87-323 174 0M406 0q189-383 378 0M453 0q422-639 844 0M1152 0q40-200 80 0M556 0q177-498 354 0M606 0q60-228 120 0M400 0q101-349 202 0M539 0q128-402 256 0M254 0q84-304 168 0M286 0q82-302 164 0M285 0q119-407 238 0M198 0q164-514 328 0M452 0q154-427 308 0M859 0q63-308 126 0" fill="none" stroke="#f8e255" stroke-opacity="0.35" stroke-width="2.0"/>
<path d="M345 0q28-193 56 0M203 0q238-450 476 0M633 0q22-181 44 0M677 0q68-321 136 0M244 0q121-448 242 0M1088 0q84-339 168 0M540 0q24-160 48 0M383 0q203-397 406 0M596 0q203-430 406 0M355 0q366-685 732 0M531 0q73-297 146 0M648 0q35-233 70 0M264 0q381-643 762 0M275 0q63-228 126 0M445 0q111-390 222 0M806 0q33-185 66 0M206 0q151-484 302 0M209 0q88-345 176 0M765 0q101-376 202 0M1174 0q41-219 82 0M811 0q24-175 48 0M340 0q462-739 924 0M659 0q93-311 186 0M692 0q281-497 562 0M601 0q196-442 392 0M450 0q150-376 300 0M397 0q344-726 688 0M887 0q49-246 98 0M671 0q23-166 46 0M1087 0q44-190 88 0M479 0q79-250 158 0M483 0q352-570 704 0" fill="none" stroke="#f7c23a" stroke-opacity="0.35" stroke-width="2.0"/>
<path d="M315 0q247-503 494 0M1100 0q39-182 78 0M950 0q27-170 54 0M778 0q45-216 90 0M329 0q267-592 534 0M634 0q142-456 284 0M568 0q267-519 534 0M444 0q31-221 62 0" fill="none" stroke="#fbeea0" stroke-opacity="0.35" stroke-width="2.0"/>
<path d="M862 0q78-315 156 0M730 0q30-178 60 0M339 0q478-789 956 0M489 0q376-666 752 0M954 0q59-264 118 0M478 0q366-524 732 0M380 0q151-394 302 0M369 0q155-477 310 0M493 0q26-190 52 0M1067 0q28-179 56 0M598 0q200-430 400 0M387 0q90-383 180 0M362 0q104-281 208 0" fill="none" stroke="#f3a02c" stroke-opacity="0.35" stroke-width="2.0"/>
<path d="M477 0q116-413 232 0M378 0q239-443 478 0M612 0q160-425 320 0M608 0q98-389 196 0M999 0q52-249 104 0M855 0q61-239 122 0M537 0q181-464 362 0M385 0q76-291 152 0M674 0q56-230 112 0M961 0q135-359 270 0M812 0q59-259 118 0M1075 0q27-196 54 0M728 0q28-204 56 0M958 0q21-168 42 0M195 0q64-234 128 0M1155 0q48-195 96 0M370 0q66-253 132 0M262 0q99-387 198 0M1053 0q116-395 232 0M448 0q64-248 128 0M841 0q203-418 406 0M302 0q26-158 52 0M764 0q254-529 508 0" fill="none" stroke="#f8e255" stroke-opacity="0.35" stroke-width="2.0"/>
<path d="M218 0q135-394 270 0M926 0q87-348 174 0M514 0q183-442 366 0M684 0q104-366 208 0M588 0q312-658 624 0M759 0q33-179 66 0M1076 0q66-319 132 0M375 0q340-568 680 0M729 0q116-294 232 0M332 0q416-589 832 0M223 0q50-256 100 0M268 0q474-635 948 0M223 0q33-222 66 0M398 0q402-734 804 0M558 0q50-270 100 0M320 0q265-612 530 0M282 0q91-383 182 0M1087 0q28-194 56 0M1133 0q21-178 42 0M1063 0q23-185 46 0M359 0q430-588 860 0M421 0q40-242 80 0M460 0q119-358 238 0M921 0q103-384 206 0M525 0q96-397 192 0M806 0q207-542 414 0M330 0q107-285 214 0M312 0q457-846 914 0M250 0q46-208 92 0M575 0q322-582 644 0M201 0q38-251 76 0M275 0q85-310 170 0M386 0q46-194 92 0M981 0q95-341 190 0M249 0q112-398 224 0M559 0q310-565 620 0M1223 0q37-176 74 0M718 0q25-188 50 0" fill="none" stroke="#f7c23a" stroke-opacity="0.35" stroke-width="2.0"/>
<path d="M137 0q375-773 750 0M211 0q86-353 172 0M271 0q137-340 274 0M788 0q131-379 262 0M241 0q207-517 414 0M830 0q247-598 494 0M305 0q255-630 510 0M416 0q411-622 822 0M576 0q156-385 312 0M400 0q343-677 686 0M142 0q465-647 930 0M175 0q476-619 952 0M634 0q128-353 256 0M921 0q195-439 390 0M1021 0q90-258 180 0M1087 0q66-309 132 0M370 0q285-626 570 0M1013 0q60-292 120 0M345 0q214-486 428 0M903 0q66-298 132 0M459 0q169-353 338 0M569 0q69-316 138 0M740 0q88-274 176 0M501 0q150-406 300 0M847 0q62-230 124 0M1073 0q98-310 196 0M337 0q355-520 710 0M844 0q256-494 512 0M177 0q352-681 704 0M200 0q269-638 538 0M892 0q174-488 348 0M269 0q405-634 810 0M672 0q71-284 142 0M701 0q146-347 292 0M389 0q391-803 782 0M172 0q262-562 524 0M323 0q481-841 962 0M1081 0q99-274 198 0M606 0q64-227 128 0M482 0q273-573 546 0M496 0q393-791 786 0M875 0q93-328 186 0M754 0q206-539 412 0M450 0q452-644 904 0M628 0q234-459 468 0M905 0q78-344 156 0M1147 0q90-316 180 0M201 0q63-225 126 0M811 0q79-323 158 0M599 0q90-382 180 0M1049 0q117-302 234 0M801 0q68-259 136 0M370 0q169-403 338 0M701 0q157-442 314 0M644 0q80-313 160 0M447 0q139-333 278 0M470 0q84-340 168 0M362 0q104-359 208 0M505 0q147-350 294 0M241 0q105-332 210 0M412 0q162-379 324 0M825 0q101-321 202 0M832 0q146-473 292 0M808 0q97-384 194 0M285 0q166-419 332 0M524 0q80-267 160 0M614 0q224-410 448 0M651 0q236-486 472 0M587 0q138-367 276 0M453 0q332-524 664 0M515 0q111-344 222 0M173 0q493-806 986 0M849 0q105-303 210 0M859 0q104-322 208 0M811 0q224-513 448 0M409 0q293-612 586 0M332 0q221-551 442 0M316 0q62-252 124 0M286 0q221-584 442 0M130 0q218-407 436 0M448 0q397-793 794 0M505 0q64-255 128 0M330 0q79-289 158 0M339 0q214-518 428 0M722 0q103-402 206 0M356 0q445-630 890 0M677 0q118-359 236 0M286 0q429-635 858 0M281 0q181-450 362 0M444 0q261-491 522 0M304 0q231-477 462 0M376 0q179-466 358 0M569 0q89-371 178 0M461 0q273-498 546 0M534 0q207-522 414 0M382 0q193-513 386 0M390 0q171-528 342 0M506 0q413-744 826 0M944 0q143-336 286 0M599 0q95-370 190 0" fill="none" stroke="#fff" stroke-opacity="0.26" stroke-width="1.6"/>
<path d="M532 0q69-254 138 0M469 0q119-429 238 0M187 0q129-410 258 0M1216 0q68-308 136 0M740 0q185-381 370 0M273 0q243-557 486 0M193 0q110-352 220 0M977 0q140-472 280 0M779 0q251-502 502 0M553 0q282-495 564 0M856 0q76-291 152 0M469 0q61-299 122 0M868 0q109-284 218 0M704 0q169-405 338 0M623 0q98-278 196 0M955 0q183-519 366 0M470 0q125-332 250 0M343 0q358-693 716 0M1016 0q76-320 152 0M1208 0q68-334 136 0M582 0q304-524 608 0M719 0q119-397 238 0M403 0q328-713 656 0M853 0q153-386 306 0M492 0q83-306 166 0M239 0q417-559 834 0M745 0q223-487 446 0M904 0q224-465 448 0M771 0q186-466 372 0M723 0q184-509 368 0M220 0q103-375 206 0M821 0q252-563 504 0M801 0q92-334 184 0M270 0q413-645 826 0M572 0q318-718 636 0M608 0q166-522 332 0M627 0q60-260 120 0M644 0q356-599 712 0M300 0q451-631 902 0M1136 0q94-379 188 0M931 0q98-323 196 0M665 0q102-330 204 0M492 0q109-316 218 0M631 0q131-328 262 0M809 0q111-422 222 0M778 0q289-520 578 0M510 0q257-561 514 0M164 0q375-624 750 0M555 0q328-680 656 0M896 0q151-424 302 0M710 0q234-588 468 0M163 0q245-524 490 0M506 0q286-548 572 0M805 0q254-644 508 0M412 0q78-262 156 0M655 0q266-493 532 0M888 0q77-351 154 0M229 0q359-529 718 0M164 0q329-655 658 0M466 0q139-421 278 0M811 0q213-564 426 0M177 0q234-574 468 0M1030 0q79-356 158 0M856 0q66-254 132 0M247 0q399-654 798 0M533 0q128-388 256 0M1016 0q169-506 338 0M389 0q64-319 128 0M736 0q63-224 126 0M181 0q95-287 190 0M1162 0q67-268 134 0M320 0q373-720 746 0M599 0q362-590 724 0M449 0q214-582 428 0M794 0q203-551 406 0M262 0q285-486 570 0M889 0q62-218 124 0M771 0q78-344 156 0M243 0q474-876 948 0M1166 0q84-274 168 0M313 0q235-580 470 0M382 0q313-515 626 0M129 0q183-546 366 0M162 0q498-628 996 0M217 0q189-503 378 0M631 0q208-518 416 0M223 0q287-624 574 0M460 0q103-360 206 0M356 0q98-317 196 0M343 0q64-281 128 0M202 0q249-559 498 0M636 0q79-286 158 0M396 0q355-718 710 0M535 0q111-301 222 0M1132 0q64-289 128 0M1107 0q93-287 186 0M741 0q99-281 198 0M431 0q73-248 146 0M530 0q73-290 146 0M490 0q161-469 322 0" fill="none" stroke="#fff" stroke-opacity="0.26" stroke-width="1.6"/>
<g filter="url(#blur1)" fill="#fff"><ellipse cx="527.3" cy="-106.3" rx="43.4" ry="27.9" fill-opacity="0.36"/><ellipse cx="800.2" cy="-87.7" rx="74.4" ry="43.4" fill-opacity="0.44"/><ellipse cx="880.8" cy="-112.5" rx="37.2" ry="24.8" fill-opacity="0.32"/><ellipse cx="744.4" cy="-10.2" rx="11.2" ry="24.8" fill-opacity="0.56"/><ellipse cx="831.2" cy="-10.2" rx="9.9" ry="24.8" fill-opacity="0.48"/><ellipse cx="651.3" cy="-106.3" rx="31" ry="24.8" fill-opacity="0.24"/></g>
<path d="M723 0q120-378 240 0M311 0q64-304 128 0M560 0q229-431 458 0M903 0q6-74 12 0M1168 0q5-70 10 0M498 0q242-510 484 0M967 0q40-174 80 0M587 0q48-209 96 0M475 0q219-463 438 0" fill="none" stroke="#ee8424" stroke-opacity="0.4" stroke-width="1.3"/>
<path d="M597 0q96-366 192 0M796 0q57-228 114 0" fill="none" stroke="#e63a30" stroke-opacity="0.4" stroke-width="1.3"/>
<path d="M615 0q242-517 484 0M245 0q35-201 70 0M513 0q7-96 14 0M980 0q12-129 24 0M454 0q15-141 30 0M794 0q22-164 44 0M1185 0q20-131 40 0M1186 0q18-120 36 0M1037 0q9-96 18 0" fill="none" stroke="#f0602a" stroke-opacity="0.4" stroke-width="1.3"/>
<path d="M424 0q97-389 194 0M1172 0q6-95 12 0M1103 0q47-209 94 0M550 0q29-211 58 0M723 0q42-193 84 0M924 0q6-95 12 0M206 0q92-375 184 0" fill="none" stroke="#ee8424" stroke-opacity="0.4" stroke-width="1.3"/>
<path d="M952 0q45-245 90 0M205 0q231-421 462 0" fill="none" stroke="#e63a30" stroke-opacity="0.4" stroke-width="1.3"/>
<path d="M692 0q109-388 218 0M1011 0q12-106 24 0M686 0q40-239 80 0M229 0q282-625 564 0M661 0q185-458 370 0M1117 0q6-82 12 0M535 0q112-375 224 0M580 0q42-229 84 0M981 0q41-236 82 0M1043 0q114-368 228 0M989 0q13-139 26 0" fill="none" stroke="#f0602a" stroke-opacity="0.4" stroke-width="1.3"/>
<path d="M244 0q16-164 32 0M241 0q26-158 52 0M297 0q56-221 112 0M248 0q16-160 32 0M442 0q8-104 16 0M239 0q64-250 128 0M260 0q58-260 116 0M420 0q14-123 28 0M336 0q54-239 108 0M293 0q82-363 164 0M239 0q11-111 22 0M233 0q15-134 30 0M343 0q19-122 38 0M723 0q13-139 26 0M598 0q8-80 16 0M694 0q10-106 20 0M603 0q18-125 36 0M516 0q59-209 118 0M576 0q20-174 40 0M534 0q53-251 106 0M711 0q11-117 22 0M544 0q77-284 154 0M644 0q10-90 20 0M494 0q106-353 212 0M891 0q15-134 30 0M865 0q59-244 118 0M962 0q11-119 22 0M880 0q8-101 16 0M887 0q94-281 188 0M1058 0q88-376 176 0M1127 0q62-281 124 0M1234 0q24-155 48 0M966 0q12-103 24 0M981 0q94-366 188 0M945 0q57-280 114 0M1022 0q30-204 60 0M925 0q76-302 152 0M921 0q45-234 90 0M1101 0q43-242 86 0M888 0q52-245 104 0M955 0q11-119 22 0M1198 0q44-209 88 0M864 0q38-250 76 0" fill="none" stroke="#ee8424" stroke-opacity="0.4" stroke-width="1.3"/>
<path d="M418 0q27-210 54 0M361 0q73-267 146 0M306 0q94-307 188 0M600 0q26-151 52 0M672 0q11-118 22 0M529 0q46-230 92 0M664 0q19-134 38 0M567 0q75-272 150 0M535 0q14-124 28 0M653 0q62-308 124 0M635 0q10-115 20 0M619 0q22-176 44 0M653 0q24-179 48 0M862 0q58-232 116 0M1014 0q15-141 30 0M998 0q13-122 26 0M882 0q12-99 24 0M1039 0q102-401 204 0M1086 0q9-96 18 0M1153 0q21-184 42 0M1137 0q74-256 148 0M882 0q29-161 58 0M1224 0q10-94 20 0" fill="none" stroke="#f3a02c" stroke-opacity="0.4" stroke-width="1.3"/>
<path d="M202 0q19-151 38 0M435 0q24-190 48 0M253 0q99-382 198 0M380 0q43-185 86 0M361 0q10-96 20 0M307 0q18-115 36 0M213 0q57-276 114 0M276 0q36-174 72 0M605 0q8-110 16 0M692 0q11-100 22 0M688 0q20-156 40 0M607 0q84-350 168 0M657 0q16-139 32 0M596 0q94-273 188 0M850 0q62-251 124 0M980 0q34-231 68 0M1077 0q19-132 38 0M955 0q14-140 28 0M1168 0q12-115 24 0" fill="none" stroke="#f0602a" stroke-opacity="0.4" stroke-width="1.3"/>
<path d="M193 0q60-280 120 0M250 0q17-147 34 0M466 0q9-107 18 0M388 0q25-148 50 0M397 0q9-99 18 0M279 0q9-115 18 0M316 0q13-115 26 0M285 0q76-246 152 0M358 0q10-122 20 0M375 0q11-92 22 0M226 0q95-370 190 0M240 0q35-171 70 0M555 0q12-126 24 0M690 0q8-114 16 0M638 0q42-210 84 0M613 0q64-305 128 0M529 0q51-232 102 0M636 0q44-208 88 0M486 0q90-332 180 0M604 0q8-97 16 0M574 0q22-143 44 0M614 0q13-120 26 0M549 0q19-156 38 0M546 0q21-131 42 0M512 0q90-330 180 0M666 0q8-97 16 0M1030 0q86-278 172 0M1046 0q68-331 136 0M1160 0q14-141 28 0M1049 0q74-242 148 0M918 0q8-100 16 0M1148 0q63-272 126 0M1080 0q24-147 48 0M1104 0q18-128 36 0M1205 0q23-148 46 0M1140 0q11-117 22 0M1135 0q55-295 110 0M996 0q10-113 20 0M1225 0q20-154 40 0M1063 0q74-263 148 0M1064 0q75-332 150 0M1147 0q17-146 34 0" fill="none" stroke="#ee8424" stroke-opacity="0.4" stroke-width="1.3"/>
<path d="M369 0q8-93 16 0M402 0q26-198 52 0M431 0q15-118 30 0M367 0q75-266 150 0M239 0q16-132 32 0M456 0q8-102 16 0M234 0q75-337 150 0M244 0q20-176 40 0M220 0q10-109 20 0M581 0q13-131 26 0M564 0q48-191 96 0M632 0q10-115 20 0M526 0q108-367 216 0M519 0q45-186 90 0M526 0q96-399 192 0M542 0q53-236 106 0M659 0q11-106 22 0M1196 0q21-153 42 0M1170 0q25-157 50 0M1161 0q56-298 112 0M853 0q83-262 166 0" fill="none" stroke="#f3a02c" stroke-opacity="0.4" stroke-width="1.3"/>
<path d="M323 0q92-356 184 0M462 0q10-107 20 0M394 0q11-118 22 0M418 0q9-116 18 0M572 0q18-162 36 0M494 0q89-362 178 0M555 0q41-236 82 0M655 0q17-125 34 0M1015 0q10-118 20 0M1261 0q16-144 32 0M1050 0q37-172 74 0M887 0q41-211 82 0M942 0q13-124 26 0M1136 0q28-215 56 0M1034 0q8-116 16 0M966 0q20-173 40 0M899 0q15-117 30 0M1135 0q10-126 20 0M1083 0q26-178 52 0M1217 0q22-180 44 0M868 0q22-186 44 0M967 0q28-159 56 0" fill="none" stroke="#f0602a" stroke-opacity="0.4" stroke-width="1.3"/>
<path d="M546 0q158-440 316 0" fill="none" stroke="#8a2c24" stroke-opacity="0.5" stroke-width="1.0"/>
<path d="M304 0q43-224 86 0" fill="none" stroke="#ee8424" stroke-opacity="0.5" stroke-width="1.2"/>
<path d="M918 0q189-480 378 0M676 0q62-200 124 0" fill="none" stroke="#8a2c24" stroke-opacity="0.5" stroke-width="1.2"/>
<path d="M862 0q62-280 124 0" fill="none" stroke="#e63a30" stroke-opacity="0.5" stroke-width="1.2"/>
<path d="M428 0q22-124 44 0" fill="none" stroke="#f0602a" stroke-opacity="0.5" stroke-width="1.3"/>
</g>
</g>
<rect x="186.5" y="869" width="1115.5" height="147" fill="none" stroke="#000" stroke-width="3.2"/>
<path d="M174 891.5L186 891.5" stroke="#000" stroke-width="2.4" fill="none" />
<text x="171" y="901.5" font-size="28" text-anchor="end" stroke="#000" stroke-width="1.1">40</text>
<path d="M174 954L186 954" stroke="#000" stroke-width="2.4" fill="none" />
<text x="171" y="964" font-size="28" text-anchor="end" stroke="#000" stroke-width="1.1">20</text>
<path d="M174 1016.5L186 1016.5" stroke="#000" stroke-width="2.4" fill="none" />
<text x="171" y="1026.5" font-size="28" text-anchor="end" stroke="#000" stroke-width="1.1">0</text>
<g clip-path="url(#ct2)">
<linearGradient id="bg2" x1="0" y1="0" x2="0" y2="1"><stop offset="0" stop-color="#f5b850"/><stop offset="1" stop-color="#ee8c24"/></linearGradient>
<path d="M187.5 1186Q193.5 1078.4 277.5 1042.5H1210.5Q1294.5 1078.4 1300.5 1186Z" fill="url(#bg2)" fill-opacity="0.88"/>
<g transform="translate(0 1186)">
<path d="M665 0q20-171 40 0M914 0q25-187 50 0M431 0q7-65 14 0M1152 0q9-83 18 0M783 0q5-56 10 0M385 0q9-104 18 0M308 0q10-100 20 0M687 0q8-82 16 0M863 0q22-87 44 0M843 0q6-91 12 0M1254 0q13-138 26 0M704 0q6-77 12 0M1168 0q19-152 38 0M1169 0q7-83 14 0M650 0q16-97 32 0M298 0q17-122 34 0M674 0q8-67 16 0" fill="#ee8424" fill-opacity="0.2" stroke="#ee8424" stroke-opacity="0.5" stroke-width="1.5"/>
<path d="M787 0q6-81 12 0M453 0q28-168 56 0M668 0q24-104 48 0M478 0q20-124 40 0M802 0q25-174 50 0M1043 0q10-74 20 0M768 0q7-76 14 0M385 0q7-82 14 0M376 0q9-76 18 0M1150 0q23-179 46 0M719 0q10-98 20 0M1003 0q19-146 38 0M380 0q8-94 16 0M552 0q8-87 16 0M632 0q6-46 12 0M418 0q28-154 56 0M1194 0q16-139 32 0M960 0q14-108 28 0M307 0q21-184 42 0M845 0q15-101 30 0M1049 0q24-117 48 0M223 0q29-102 58 0M1154 0q24-165 48 0M1152 0q12-131 24 0M338 0q14-96 28 0M1069 0q24-137 48 0M392 0q6-73 12 0M817 0q17-127 34 0M662 0q10-129 20 0M589 0q17-129 34 0M371 0q16-122 32 0M439 0q8-59 16 0M1254 0q4-43 8 0M692 0q28-137 56 0M1247 0q17-147 34 0M542 0q25-116 50 0M411 0q7-103 14 0M918 0q7-105 14 0M1145 0q5-81 10 0" fill="#f3a02c" fill-opacity="0.2" stroke="#f3a02c" stroke-opacity="0.5" stroke-width="1.5"/>
<path d="M1132 0q5-44 10 0M721 0q29-137 58 0M992 0q9-87 18 0M644 0q12-132 24 0M942 0q19-174 38 0M485 0q8-109 16 0M618 0q5-55 10 0M1036 0q23-162 46 0M1142 0q12-104 24 0M325 0q10-70 20 0M1046 0q18-142 36 0" fill="#f0602a" fill-opacity="0.2" stroke="#f0602a" stroke-opacity="0.5" stroke-width="1.5"/>
<path d="M746 0q23-161 46 0M692 0q9-96 18 0M646 0q4-39 8 0M1090 0q18-128 36 0M573 0q8-87 16 0M1067 0q9-83 18 0M1208 0q22-169 44 0M1006 0q16-121 32 0M385 0q13-115 26 0M1068 0q18-134 36 0M794 0q9-96 18 0M398 0q10-62 20 0M1017 0q10-65 20 0M1085 0q7-69 14 0M1262 0q6-89 12 0M1170 0q10-82 20 0M899 0q5-44 10 0M759 0q7-53 14 0M875 0q10-120 20 0M493 0q11-127 22 0M1283 0q6-79 12 0M591 0q24-186 48 0M659 0q11-111 22 0M674 0q6-60 12 0M1112 0q20-139 40 0M337 0q6-90 12 0M1026 0q7-87 14 0M191 0q10-122 20 0M635 0q26-158 52 0" fill="#f7c23a" fill-opacity="0.2" stroke="#f7c23a" stroke-opacity="0.5" stroke-width="1.5"/>
<path d="M395 0q12-127 24 0M636 0q9-67 18 0M890 0q11-72 22 0M567 0q19-92 38 0M247 0q5-52 10 0M1251 0q6-54 12 0M396 0q7-85 14 0M1122 0q9-59 18 0M781 0q5-84 10 0M760 0q18-127 36 0" fill="#ee8424" fill-opacity="0.2" stroke="#ee8424" stroke-opacity="0.5" stroke-width="1.5"/>
<path d="M258 0q14-140 28 0M337 0q5-88 10 0M896 0q29-204 58 0M628 0q20-113 40 0M850 0q5-50 10 0M874 0q14-121 28 0M587 0q8-74 16 0M562 0q7-54 14 0M1079 0q12-124 24 0M188 0q19-94 38 0M396 0q8-62 16 0M1031 0q24-143 48 0M1042 0q5-48 10 0M611 0q18-117 36 0M1062 0q15-136 30 0M627 0q5-70 10 0M913 0q29-201 58 0M893 0q11-103 22 0M930 0q23-181 46 0M273 0q4-46 8 0M874 0q6-51 12 0M1188 0q25-128 50 0M972 0q5-68 10 0M265 0q8-115 16 0M1254 0q6-78 12 0M1173 0q6-71 12 0M540 0q30-112 60 0M484 0q18-111 36 0M585 0q23-124 46 0M197 0q20-137 40 0M557 0q10-95 20 0M452 0q20-160 40 0M351 0q28-159 56 0M926 0q5-67 10 0M618 0q8-59 16 0M1246 0q7-65 14 0M347 0q5-60 10 0M210 0q8-96 16 0M1024 0q12-104 24 0M494 0q22-99 44 0M864 0q10-88 20 0M578 0q17-122 34 0M1150 0q13-98 26 0M252 0q6-63 12 0M799 0q5-77 10 0M1181 0q18-94 36 0M194 0q5-83 10 0M1255 0q8-101 16 0M1238 0q4-55 8 0M553 0q9-89 18 0M584 0q9-55 18 0" fill="#f3a02c" fill-opacity="0.2" stroke="#f3a02c" stroke-opacity="0.5" stroke-width="1.5"/>
<path d="M949 0q6-64 12 0M341 0q19-128 38 0M941 0q5-70 10 0M293 0q10-105 20 0" fill="#f0602a" fill-opacity="0.2" stroke="#f0602a" stroke-opacity="0.5" stroke-width="1.5"/>
<path d="M1026 0q5-54 10 0M667 0q6-51 12 0M1036 0q4-71 8 0M652 0q8-56 16 0M601 0q27-112 54 0M1169 0q6-51 12 0M773 0q18-114 36 0M594 0q8-92 16 0M372 0q5-45 10 0M1090 0q18-164 36 0M408 0q21-131 42 0M1053 0q26-142 52 0M219 0q7-104 14 0M1269 0q7-81 14 0M420 0q16-130 32 0M1177 0q7-62 14 0M698 0q22-178 44 0M1070 0q29-136 58 0M237 0q25-126 50 0M698 0q9-57 18 0M230 0q10-109 20 0M316 0q24-196 48 0M1161 0q25-106 50 0M565 0q9-95 18 0M272 0q7-97 14 0" fill="#f7c23a" fill-opacity="0.2" stroke="#f7c23a" stroke-opacity="0.5" stroke-width="1.5"/>
<path d="M554 0q8-78 16 0M494 0q6-79 12 0M1232 0q4-81 8 0M499 0q13-71 26 0M639 0q12-109 24 0M1045 0q26-95 52 0M1015 0q5-45 10 0M1014 0q5-66 10 0M634 0q17-128 34 0M696 0q13-135 26 0M1227 0q16-95 32 0M609 0q7-51 14 0M369 0q6-86 12 0M1281 0q9-76 18 0M734 0q20-137 40 0M1121 0q9-119 18 0M1095 0q6-48 12 0M992 0q12-127 24 0M256 0q7-81 14 0M1129 0q7-76 14 0M248 0q9-75 18 0M658 0q19-128 38 0" fill="#ee8424" fill-opacity="0.2" stroke="#ee8424" stroke-opacity="0.5" stroke-width="1.5"/>
<path d="M445 0q7-96 14 0M874 0q10-93 20 0M1128 0q19-140 38 0M857 0q9-59 18 0M725 0q27-178 54 0M931 0q10-110 20 0M514 0q13-130 26 0M968 0q12-72 24 0M948 0q9-74 18 0M1161 0q5-42 10 0M646 0q8-85 16 0M1109 0q5-58 10 0M920 0q7-101 14 0M337 0q26-177 52 0M296 0q7-94 14 0M407 0q13-127 26 0M1133 0q28-190 56 0M189 0q6-90 12 0M683 0q4-70 8 0M992 0q4-76 8 0M220 0q4-45 8 0M1217 0q14-93 28 0M642 0q8-103 16 0M917 0q18-103 36 0M270 0q17-122 34 0M993 0q18-88 36 0M367 0q12-79 24 0M373 0q11-114 22 0M1267 0q7-61 14 0M268 0q25-198 50 0M409 0q7-105 14 0M988 0q11-109 22 0M1020 0q22-176 44 0M217 0q5-41 10 0M896 0q5-86 10 0M1149 0q6-90 12 0M614 0q9-73 18 0M1016 0q6-73 12 0M1246 0q21-185 42 0M622 0q6-66 12 0M621 0q11-83 22 0M924 0q6-71 12 0M1071 0q9-99 18 0M999 0q7-79 14 0M449 0q14-77 28 0M984 0q8-68 16 0M485 0q29-204 58 0M283 0q24-182 48 0" fill="#f3a02c" fill-opacity="0.2" stroke="#f3a02c" stroke-opacity="0.5" stroke-width="1.5"/>
<path d="M262 0q5-85 10 0M432 0q6-88 12 0M687 0q9-95 18 0M1127 0q22-93 44 0" fill="#f0602a" fill-opacity="0.2" stroke="#f0602a" stroke-opacity="0.5" stroke-width="1.5"/>
<path d="M1145 0q4-71 8 0M1146 0q28-182 56 0M1086 0q5-87 10 0M900 0q28-112 56 0M845 0q11-61 22 0M1196 0q13-128 26 0M952 0q11-92 22 0M1044 0q9-110 18 0M1102 0q6-82 12 0M763 0q10-85 20 0M1212 0q24-113 48 0M480 0q11-64 22 0M347 0q10-80 20 0M595 0q9-114 18 0M675 0q5-88 10 0M727 0q10-116 20 0M938 0q4-53 8 0M374 0q4-49 8 0M969 0q29-188 58 0M276 0q14-113 28 0M622 0q6-84 12 0M323 0q7-49 14 0M710 0q12-99 24 0" fill="#f7c23a" fill-opacity="0.2" stroke="#f7c23a" stroke-opacity="0.5" stroke-width="1.5"/>
<path d="M950 0q24-133 48 0M1229 0q10-73 20 0M926 0q25-191 50 0M316 0q22-157 44 0M290 0q25-135 50 0M1076 0q4-82 8 0M1074 0q8-107 16 0M875 0q22-177 44 0M314 0q26-141 52 0M290 0q6-76 12 0M393 0q25-183 50 0M425 0q5-65 10 0M431 0q7-61 14 0M987 0q26-104 52 0M375 0q5-66 10 0M304 0q9-84 18 0" fill="#ee8424" fill-opacity="0.2" stroke="#ee8424" stroke-opacity="0.5" stroke-width="1.5"/>
<path d="M886 0q10-106 20 0M982 0q4-80 8 0M210 0q18-141 36 0M368 0q22-156 44 0M558 0q20-113 40 0M1125 0q14-93 28 0M946 0q12-96 24 0M975 0q10-77 20 0M426 0q7-77 14 0M472 0q6-83 12 0M923 0q13-93 26 0M386 0q17-116 34 0M241 0q14-89 28 0M517 0q15-136 30 0M695 0q5-54 10 0M633 0q4-41 8 0M1209 0q10-77 20 0M309 0q22-123 44 0M481 0q11-112 22 0M905 0q5-43 10 0M392 0q12-70 24 0M1127 0q19-138 38 0M383 0q26-177 52 0M639 0q7-60 14 0M636 0q20-88 40 0M372 0q7-87 14 0M379 0q26-187 52 0M1243 0q6-98 12 0M1222 0q30-145 60 0M1144 0q9-57 18 0M595 0q11-89 22 0M1252 0q7-78 14 0M1265 0q9-69 18 0M346 0q13-97 26 0M383 0q21-126 42 0M952 0q7-55 14 0M871 0q13-73 26 0M303 0q13-105 26 0M1223 0q8-109 16 0M1162 0q18-143 36 0M959 0q7-65 14 0M433 0q8-101 16 0M562 0q4-64 8 0M1206 0q7-49 14 0M878 0q5-91 10 0M193 0q28-177 56 0M1228 0q7-104 14 0M554 0q23-125 46 0M970 0q10-130 20 0M916 0q7-62 14 0" fill="#f3a02c" fill-opacity="0.2" stroke="#f3a02c" stroke-opacity="0.5" stroke-width="1.5"/>
<path d="M522 0q23-184 46 0M689 0q19-156 38 0M731 0q18-160 36 0" fill="#f0602a" fill-opacity="0.2" stroke="#f0602a" stroke-opacity="0.5" stroke-width="1.5"/>
<path d="M572 0q9-93 18 0M1104 0q6-62 12 0M518 0q6-78 12 0M599 0q6-86 12 0M905 0q20-138 40 0M624 0q28-118 56 0M712 0q12-132 24 0M572 0q11-111 22 0M791 0q13-105 26 0M900 0q19-131 38 0M246 0q4-80 8 0M798 0q5-60 10 0M1242 0q23-189 46 0M220 0q14-114 28 0M274 0q6-86 12 0M669 0q12-127 24 0M657 0q25-107 50 0M197 0q5-60 10 0M774 0q5-61 10 0M382 0q11-85 22 0M1143 0q8-87 16 0M788 0q5-74 10 0M1212 0q5-72 10 0M581 0q7-91 14 0M403 0q6-83 12 0" fill="#f7c23a" fill-opacity="0.2" stroke="#f7c23a" stroke-opacity="0.5" stroke-width="1.5"/>
<path d="M1003 0q37-236 74 0M496 0q113-293 226 0M1097 0q42-232 84 0M469 0q318-667 636 0M559 0q120-311 240 0M768 0q74-262 148 0M266 0q27-202 54 0M260 0q377-692 754 0M1035 0q86-290 172 0M800 0q104-297 208 0M423 0q302-698 604 0M641 0q105-312 210 0M920 0q31-158 62 0M557 0q141-397 282 0M509 0q309-534 618 0M624 0q287-618 574 0M657 0q91-371 182 0M801 0q42-210 84 0M800 0q177-496 354 0M429 0q45-255 90 0M237 0q470-594 940 0M237 0q278-549 556 0M404 0q348-546 696 0M678 0q77-267 154 0M556 0q47-187 94 0M673 0q198-508 396 0M326 0q319-546 638 0" fill="none" stroke="#f3a02c" stroke-opacity="0.3" stroke-width="2.0"/>
<path d="M635 0q231-421 462 0M1032 0q87-279 174 0M408 0q159-353 318 0M288 0q58-253 116 0M645 0q24-194 48 0" fill="none" stroke="#f0a6a0" stroke-opacity="0.3" stroke-width="2.0"/>
<path d="M240 0q135-365 270 0M613 0q76-352 152 0M810 0q241-467 482 0M864 0q132-336 264 0M1193 0q35-178 70 0M703 0q113-394 226 0M378 0q424-590 848 0" fill="none" stroke="#f0602a" stroke-opacity="0.3" stroke-width="2.0"/>
<path d="M292 0q172-499 344 0M855 0q51-259 102 0M353 0q164-447 328 0M273 0q477-683 954 0M323 0q225-606 450 0M386 0q399-763 798 0M899 0q135-441 270 0M389 0q21-149 42 0M389 0q185-500 370 0M975 0q37-195 74 0M903 0q157-416 314 0M442 0q29-200 58 0M673 0q142-341 284 0" fill="none" stroke="#f8e255" stroke-opacity="0.3" stroke-width="2.0"/>
<path d="M214 0q200-564 400 0M600 0q209-581 418 0M315 0q129-417 258 0M1035 0q22-165 44 0M711 0q106-372 212 0M588 0q28-196 56 0M1218 0q20-129 40 0M219 0q360-736 720 0M819 0q32-174 64 0M438 0q223-471 446 0M779 0q233-422 466 0M319 0q211-503 422 0M1226 0q27-213 54 0M329 0q299-619 598 0M338 0q53-203 106 0M262 0q344-537 688 0M876 0q204-555 408 0M772 0q252-519 504 0M611 0q71-236 142 0" fill="none" stroke="#f7c23a" stroke-opacity="0.3" stroke-width="2.0"/>
<path d="M322 0q318-524 636 0M394 0q80-285 160 0M381 0q285-666 570 0M809 0q54-253 108 0M441 0q251-440 502 0M902 0q77-349 154 0M741 0q116-330 232 0M917 0q35-192 70 0M457 0q22-181 44 0M363 0q60-303 120 0M492 0q291-689 582 0M1018 0q58-302 116 0M759 0q149-371 298 0M342 0q235-522 470 0M417 0q228-500 456 0M309 0q163-382 326 0M378 0q284-523 568 0M461 0q22-133 44 0M599 0q292-639 584 0M738 0q163-355 326 0M201 0q55-260 110 0M1157 0q20-160 40 0M280 0q490-738 980 0M1118 0q66-231 132 0M1026 0q89-326 178 0M473 0q42-196 84 0M634 0q221-437 442 0M367 0q204-533 408 0M847 0q91-293 182 0M568 0q50-279 100 0M424 0q402-712 804 0M926 0q79-292 158 0M555 0q295-476 590 0M421 0q228-583 456 0" fill="none" stroke="#f3a02c" stroke-opacity="0.3" stroke-width="2.0"/>
<path d="M286 0q33-202 66 0M1168 0q24-195 48 0M472 0q328-579 656 0M462 0q245-608 490 0M603 0q261-618 522 0M1145 0q23-182 46 0M345 0q466-715 932 0" fill="none" stroke="#f0a6a0" stroke-opacity="0.3" stroke-width="2.0"/>
<path d="M408 0q126-321 252 0M1063 0q53-250 106 0M747 0q111-326 222 0M334 0q51-268 102 0M375 0q168-439 336 0" fill="none" stroke="#f0602a" stroke-opacity="0.3" stroke-width="2.0"/>
<path d="M916 0q40-225 80 0M479 0q373-562 746 0M621 0q198-550 396 0M590 0q335-655 670 0M332 0q188-395 376 0M409 0q384-572 768 0M239 0q171-514 342 0M637 0q306-554 612 0M477 0q46-247 92 0M1214 0q42-226 84 0M502 0q66-269 132 0M661 0q97-357 194 0M1226 0q31-205 62 0M1141 0q22-138 44 0" fill="none" stroke="#f8e255" stroke-opacity="0.3" stroke-width="2.0"/>
<path d="M659 0q20-124 40 0M563 0q47-249 94 0M367 0q95-328 190 0M932 0q40-203 80 0M242 0q96-384 192 0M502 0q285-532 570 0M931 0q52-225 104 0M518 0q44-231 88 0M828 0q211-542 422 0M1034 0q61-267 122 0M876 0q82-352 164 0M199 0q37-185 74 0M384 0q197-542 394 0M632 0q66-250 132 0M412 0q207-525 414 0" fill="none" stroke="#f7c23a" stroke-opacity="0.3" stroke-width="2.0"/>
<path d="M635 0q236-457 472 0M333 0q198-407 396 0M380 0q254-568 508 0M596 0q192-533 384 0M1224 0q22-180 44 0M1098 0q76-292 152 0M1090 0q53-242 106 0M682 0q67-296 134 0M542 0q46-206 92 0M543 0q82-317 164 0M813 0q66-275 132 0M546 0q107-326 214 0M425 0q366-569 732 0M254 0q415-811 830 0M908 0q73-265 146 0M500 0q171-524 342 0M862 0q25-163 50 0M709 0q125-405 250 0M362 0q448-798 896 0M375 0q28-174 56 0M569 0q21-151 42 0M734 0q204-408 408 0M637 0q104-285 208 0M234 0q115-325 230 0M285 0q424-743 848 0M851 0q104-370 208 0M1055 0q24-193 48 0M457 0q402-809 804 0M1149 0q31-166 62 0M300 0q477-813 954 0" fill="none" stroke="#f3a02c" stroke-opacity="0.3" stroke-width="2.0"/>
<path d="M824 0q108-320 216 0M491 0q338-606 676 0" fill="none" stroke="#f0a6a0" stroke-opacity="0.3" stroke-width="2.0"/>
<path d="M492 0q138-423 276 0M641 0q190-424 380 0M510 0q339-674 678 0M1144 0q74-234 148 0M907 0q49-251 98 0M644 0q192-377 384 0M547 0q33-218 66 0" fill="none" stroke="#f0602a" stroke-opacity="0.3" stroke-width="2.0"/>
<path d="M1139 0q46-227 92 0M444 0q149-391 298 0M305 0q455-837 910 0M346 0q184-545 368 0M455 0q177-532 354 0M328 0q195-488 390 0M288 0q466-777 932 0M462 0q27-203 54 0M279 0q22-181 44 0M401 0q272-535 544 0M594 0q349-655 698 0M211 0q455-805 910 0M890 0q67-257 134 0M282 0q141-429 282 0M625 0q305-515 610 0M750 0q238-434 476 0M992 0q45-221 90 0M340 0q160-408 320 0M655 0q95-284 190 0M252 0q81-306 162 0" fill="none" stroke="#f8e255" stroke-opacity="0.3" stroke-width="2.0"/>
<path d="M358 0q362-651 724 0M917 0q43-184 86 0M389 0q443-820 886 0M481 0q169-430 338 0M371 0q25-137 50 0M1214 0q26-156 52 0M232 0q252-472 504 0M247 0q130-311 260 0M205 0q31-216 62 0M374 0q307-615 614 0M902 0q144-344 288 0M406 0q429-598 858 0M716 0q35-200 70 0M1209 0q25-164 50 0M739 0q86-348 172 0M479 0q51-228 102 0M645 0q35-182 70 0M1124 0q37-240 74 0M1155 0q56-268 112 0M1072 0q23-176 46 0" fill="none" stroke="#f7c23a" stroke-opacity="0.3" stroke-width="2.0"/>
<path d="M1049 0q112-372 224 0M421 0q189-517 378 0M689 0q122-326 244 0M311 0q53-278 106 0M599 0q158-509 316 0M839 0q225-523 450 0M346 0q359-764 718 0M649 0q38-196 76 0M302 0q321-690 642 0M711 0q95-290 190 0M1112 0q46-203 92 0M596 0q318-534 636 0M1080 0q101-282 202 0M1132 0q50-237 100 0M695 0q22-186 44 0M958 0q48-271 96 0M672 0q175-391 350 0M623 0q111-294 222 0M442 0q35-173 70 0M235 0q74-280 148 0M327 0q473-629 946 0M992 0q78-308 156 0M1004 0q22-133 44 0M581 0q188-478 376 0M937 0q77-295 154 0M726 0q129-412 258 0" fill="none" stroke="#f3a02c" stroke-opacity="0.3" stroke-width="2.0"/>
<path d="M610 0q131-392 262 0M258 0q344-713 688 0M1014 0q29-207 58 0M237 0q228-492 456 0M878 0q115-413 230 0M605 0q306-685 612 0" fill="none" stroke="#f0a6a0" stroke-opacity="0.3" stroke-width="2.0"/>
<path d="M339 0q225-436 450 0M1100 0q41-198 82 0M338 0q308-690 616 0M1123 0q27-191 54 0M800 0q228-487 456 0M626 0q71-337 142 0M270 0q377-603 754 0M318 0q121-318 242 0" fill="none" stroke="#f0602a" stroke-opacity="0.3" stroke-width="2.0"/>
<path d="M689 0q63-303 126 0M421 0q38-183 76 0M589 0q313-572 626 0M477 0q50-199 100 0M576 0q138-334 276 0M414 0q202-386 404 0M217 0q444-838 888 0M188 0q38-231 76 0M328 0q305-653 610 0M1044 0q24-144 48 0M801 0q35-186 70 0M602 0q80-281 160 0" fill="none" stroke="#f8e255" stroke-opacity="0.3" stroke-width="2.0"/>
<path d="M807 0q87-332 174 0M441 0q227-442 454 0M718 0q278-611 556 0M1123 0q70-334 140 0M1205 0q35-217 70 0M698 0q23-170 46 0M564 0q257-502 514 0M639 0q107-307 214 0M344 0q30-177 60 0M590 0q223-501 446 0M966 0q45-210 90 0M819 0q79-313 158 0M709 0q40-180 80 0M277 0q223-599 446 0M929 0q45-196 90 0M544 0q206-412 412 0M549 0q225-533 450 0M260 0q378-652 756 0M372 0q252-550 504 0M254 0q114-355 228 0M513 0q63-291 126 0M487 0q307-698 614 0M654 0q272-453 544 0M882 0q67-224 134 0M675 0q88-343 176 0M566 0q20-173 40 0M368 0q65-309 130 0" fill="none" stroke="#f7c23a" stroke-opacity="0.3" stroke-width="2.0"/>
<path d="M373 0q244-621 488 0M507 0q346-554 692 0M456 0q25-173 50 0M987 0q34-237 68 0M399 0q345-564 690 0M1029 0q51-280 102 0M611 0q31-209 62 0M319 0q377-784 754 0M380 0q113-335 226 0M898 0q21-158 42 0M322 0q26-199 52 0M430 0q286-523 572 0M707 0q116-418 232 0M983 0q47-259 94 0M207 0q416-575 832 0M1026 0q137-415 274 0M254 0q23-144 46 0M949 0q36-220 72 0M391 0q377-574 754 0M367 0q300-565 600 0M820 0q188-541 376 0M216 0q40-246 80 0M738 0q237-619 474 0M349 0q281-578 562 0M243 0q430-826 860 0M694 0q129-375 258 0M698 0q50-245 100 0M614 0q124-432 248 0M1040 0q39-201 78 0M787 0q225-519 450 0M224 0q164-395 328 0M400 0q368-658 736 0M192 0q476-733 952 0M393 0q140-386 280 0M563 0q68-307 136 0" fill="none" stroke="#f3a02c" stroke-opacity="0.3" stroke-width="2.0"/>
<path d="M440 0q50-271 100 0M476 0q296-630 592 0M1030 0q30-208 60 0M557 0q297-506 594 0M1082 0q55-240 110 0M676 0q310-648 620 0M347 0q388-585 776 0M311 0q39-216 78 0" fill="none" stroke="#f0a6a0" stroke-opacity="0.3" stroke-width="2.0"/>
<path d="M1033 0q21-126 42 0M448 0q134-461 268 0M1024 0q51-249 102 0M240 0q53-199 106 0M310 0q26-157 52 0" fill="none" stroke="#f0602a" stroke-opacity="0.3" stroke-width="2.0"/>
<path d="M554 0q316-503 632 0M862 0q109-311 218 0M1098 0q67-239 134 0M495 0q332-611 664 0M890 0q47-209 94 0M739 0q180-437 360 0M1044 0q22-150 44 0M388 0q44-200 88 0M360 0q247-571 494 0" fill="none" stroke="#f8e255" stroke-opacity="0.3" stroke-width="2.0"/>
<path d="M1079 0q30-188 60 0M667 0q98-381 196 0M1180 0q38-215 76 0M251 0q60-249 120 0M975 0q27-204 54 0M295 0q485-660 970 0M368 0q419-793 838 0M347 0q45-201 90 0M524 0q134-403 268 0M706 0q157-424 314 0M682 0q281-512 562 0M650 0q48-193 96 0M378 0q335-680 670 0M343 0q306-547 612 0M261 0q52-283 104 0M1004 0q64-253 128 0M659 0q38-198 76 0M685 0q136-434 272 0M199 0q46-249 92 0M670 0q48-198 96 0M856 0q202-565 404 0M976 0q69-299 138 0" fill="none" stroke="#f7c23a" stroke-opacity="0.3" stroke-width="2.0"/>
<path d="M780 0q95-275 190 0M556 0q358-733 716 0M995 0q115-350 230 0M483 0q314-521 628 0M513 0q87-328 174 0M552 0q121-410 242 0M620 0q201-558 402 0M362 0q111-419 222 0M585 0q270-474 540 0M1015 0q78-239 156 0M549 0q126-387 252 0M739 0q141-343 282 0M188 0q121-435 242 0M724 0q98-314 196 0M636 0q88-353 176 0M272 0q435-721 870 0M579 0q324-561 648 0M654 0q126-317 252 0M131 0q332-571 664 0M222 0q457-621 914 0M138 0q68-301 136 0M505 0q108-341 216 0M814 0q97-392 194 0M268 0q98-381 196 0M339 0q337-499 674 0M1035 0q82-331 164 0M803 0q63-245 126 0M498 0q110-353 220 0M1029 0q76-319 152 0M978 0q134-416 268 0M906 0q127-357 254 0M288 0q107-288 214 0M484 0q399-603 798 0M258 0q411-654 822 0M741 0q65-253 130 0M547 0q271-634 542 0M421 0q373-629 746 0M510 0q181-436 362 0M442 0q166-447 332 0M258 0q438-703 876 0M926 0q97-299 194 0M341 0q157-400 314 0M327 0q97-392 194 0M148 0q74-293 148 0M134 0q323-631 646 0M481 0q390-560 780 0M623 0q92-315 184 0M200 0q368-701 736 0M364 0q80-292 160 0M668 0q228-443 456 0M999 0q169-410 338 0M580 0q149-390 298 0M257 0q151-479 302 0M941 0q71-241 142 0M372 0q60-280 120 0M699 0q62-237 124 0M491 0q429-649 858 0M149 0q317-646 634 0M435 0q243-446 486 0M572 0q387-623 774 0M209 0q191-391 382 0M609 0q119-376 238 0M1111 0q119-323 238 0M163 0q330-574 660 0M1054 0q64-261 128 0M150 0q183-539 366 0M418 0q286-515 572 0M223 0q326-566 652 0M586 0q224-493 448 0M395 0q411-740 822 0M353 0q62-319 124 0M142 0q62-229 124 0M228 0q226-436 452 0M834 0q110-286 220 0M290 0q231-435 462 0M494 0q184-434 368 0M901 0q114-401 228 0M518 0q279-648 558 0M783 0q208-537 416 0M449 0q222-438 444 0M742 0q121-442 242 0M506 0q262-611 524 0M390 0q315-680 630 0M489 0q268-660 536 0M1107 0q75-308 150 0M500 0q315-579 630 0M162 0q228-453 456 0M290 0q427-650 854 0M453 0q137-433 274 0M396 0q111-401 222 0M499 0q163-480 326 0M1083 0q79-291 158 0M238 0q137-423 274 0M634 0q207-543 414 0M510 0q255-476 510 0M573 0q172-507 344 0M523 0q363-701 726 0M240 0q272-629 544 0M565 0q97-280 194 0M417 0q453-771 906 0" fill="none" stroke="#fff" stroke-opacity="0.26" stroke-width="1.6"/>
<path d="M215 0q372-673 744 0M193 0q148-493 296 0M630 0q153-427 306 0M209 0q185-528 370 0M1009 0q124-422 248 0M687 0q177-422 354 0M912 0q126-338 252 0M440 0q73-287 146 0M818 0q137-341 274 0M332 0q71-324 142 0M145 0q397-593 794 0M657 0q151-344 302 0M304 0q61-278 122 0M271 0q490-707 980 0M611 0q274-565 548 0M383 0q455-716 910 0M849 0q140-381 280 0M1138 0q104-312 208 0M401 0q179-535 358 0M436 0q422-703 844 0M463 0q256-507 512 0M456 0q220-471 440 0M943 0q89-338 178 0M254 0q82-257 164 0M654 0q109-350 218 0M452 0q107-317 214 0M752 0q244-492 488 0M556 0q66-256 132 0M193 0q169-481 338 0M905 0q100-351 200 0M174 0q81-320 162 0M299 0q309-683 618 0M343 0q443-814 886 0M252 0q402-571 804 0M131 0q446-688 892 0M788 0q238-622 476 0M318 0q185-416 370 0M1196 0q72-268 144 0M696 0q314-626 628 0M1081 0q123-320 246 0M531 0q69-278 138 0M305 0q110-358 220 0M297 0q393-681 786 0M154 0q445-703 890 0M900 0q105-392 210 0M547 0q242-486 484 0M1032 0q142-361 284 0M492 0q154-417 308 0M1017 0q90-347 180 0M216 0q61-307 122 0M751 0q136-450 272 0M1065 0q99-393 198 0M809 0q161-416 322 0M188 0q438-665 876 0M251 0q73-239 146 0M562 0q296-585 592 0M553 0q310-523 620 0M397 0q409-741 818 0M428 0q134-441 268 0M520 0q399-548 798 0M781 0q153-367 306 0M314 0q78-241 156 0M541 0q297-670 594 0M470 0q351-727 702 0M475 0q319-571 638 0M431 0q383-703 766 0M873 0q238-600 476 0M701 0q109-411 218 0M408 0q87-378 174 0M151 0q97-270 194 0M309 0q204-406 408 0M281 0q122-335 244 0M300 0q308-627 616 0M1009 0q106-321 212 0M557 0q148-336 296 0M691 0q300-566 600 0M666 0q178-424 356 0M195 0q113-414 226 0M350 0q308-683 616 0M378 0q73-270 146 0M683 0q198-384 396 0M759 0q126-383 252 0M379 0q379-661 758 0M308 0q435-761 870 0M139 0q63-308 126 0M627 0q100-396 200 0M1070 0q72-328 144 0M407 0q68-263 136 0M314 0q370-736 740 0M209 0q73-346 146 0M291 0q396-759 792 0M142 0q136-327 272 0M197 0q496-833 992 0M871 0q168-380 336 0M1111 0q97-353 194 0M299 0q230-605 460 0M365 0q250-639 500 0M184 0q148-477 296 0M596 0q182-516 364 0M1021 0q140-359 280 0" fill="none" stroke="#fff" stroke-opacity="0.26" stroke-width="1.6"/>
<g filter="url(#blur2)" fill="#fff"><ellipse cx="496.3" cy="-87.7" rx="27.9" ry="37.2" fill-opacity="0.36"/><ellipse cx="775.4" cy="-93.9" rx="49.6" ry="37.2" fill-opacity="0.4"/><ellipse cx="828.1" cy="-38.1" rx="21.7" ry="55.8" fill-opacity="0.52"/><ellipse cx="880.8" cy="-93.9" rx="49.6" ry="37.2" fill-opacity="0.36"/><ellipse cx="1234.3" cy="-100.1" rx="37.2" ry="24.8" fill-opacity="0.24"/><ellipse cx="663.8" cy="-112.5" rx="37.2" ry="21.7" fill-opacity="0.24"/><ellipse cx="462.2" cy="-10.2" rx="8.7" ry="24.8" fill-opacity="0.48"/></g>
<path d="M440 0q31-171 62 0M334 0q48-280 96 0M696 0q190-475 380 0M741 0q10-109 20 0M871 0q211-488 422 0M556 0q102-303 204 0M1039 0q5-81 10 0M275 0q81-277 162 0M970 0q12-122 24 0M373 0q94-297 188 0M630 0q14-142 28 0M542 0q6-73 12 0M223 0q330-557 660 0M404 0q145-469 290 0M839 0q227-445 454 0M231 0q9-96 18 0" fill="none" stroke="#ee8424" stroke-opacity="0.5" stroke-width="1.3"/>
<path d="M244 0q221-405 442 0M1238 0q9-81 18 0" fill="none" stroke="#8a2c24" stroke-opacity="0.5" stroke-width="1.3"/>
<path d="M431 0q339-541 678 0M423 0q6-87 12 0M930 0q43-222 86 0M439 0q290-579 580 0M288 0q12-116 24 0M360 0q21-160 42 0M365 0q343-593 686 0M487 0q206-436 412 0" fill="none" stroke="#e63a30" stroke-opacity="0.5" stroke-width="1.3"/>
<path d="M727 0q283-544 566 0M200 0q55-293 110 0M477 0q141-398 282 0M1169 0q18-143 36 0M1051 0q18-172 36 0M636 0q192-378 384 0M1203 0q19-138 38 0M473 0q168-403 336 0M192 0q79-291 158 0M608 0q266-495 532 0M511 0q15-123 30 0M241 0q270-520 540 0M913 0q9-85 18 0" fill="none" stroke="#f0602a" stroke-opacity="0.5" stroke-width="1.3"/>
<path d="M1159 0q23-148 46 0M539 0q228-573 456 0M608 0q7-102 14 0M671 0q31-157 62 0M307 0q291-641 582 0M335 0q16-113 32 0M204 0q181-463 362 0M498 0q247-540 494 0M302 0q211-432 422 0M362 0q162-459 324 0M268 0q160-502 320 0M952 0q89-323 178 0" fill="none" stroke="#ee8424" stroke-opacity="0.5" stroke-width="1.3"/>
<path d="M448 0q149-416 298 0" fill="none" stroke="#8a2c24" stroke-opacity="0.5" stroke-width="1.3"/>
<path d="M658 0q27-194 54 0M1013 0q51-229 102 0M933 0q19-117 38 0M698 0q22-188 44 0M276 0q8-108 16 0M1143 0q61-230 122 0M452 0q65-275 130 0M253 0q121-362 242 0M642 0q285-678 570 0M910 0q7-103 14 0M552 0q31-168 62 0" fill="none" stroke="#e63a30" stroke-opacity="0.5" stroke-width="1.3"/>
<path d="M305 0q56-205 112 0M969 0q11-129 22 0M845 0q122-449 244 0M1126 0q39-243 78 0M842 0q21-174 42 0M1133 0q75-246 150 0M1208 0q14-111 28 0M933 0q40-194 80 0M810 0q26-174 52 0M401 0q70-278 140 0M760 0q13-145 26 0M524 0q33-171 66 0M1202 0q48-254 96 0" fill="none" stroke="#f0602a" stroke-opacity="0.5" stroke-width="1.3"/>
<path d="M275 0q58-262 116 0M194 0q13-127 26 0M308 0q120-321 240 0M364 0q55-236 110 0M197 0q73-345 146 0M232 0q60-291 120 0M200 0q26-193 52 0M237 0q21-173 42 0M357 0q23-195 46 0M426 0q28-176 56 0M197 0q15-107 30 0M255 0q28-162 56 0M263 0q50-214 100 0M410 0q52-284 104 0M215 0q84-283 168 0M339 0q34-229 68 0M330 0q13-111 26 0M357 0q46-260 92 0M414 0q9-92 18 0M929 0q56-240 112 0M890 0q85-353 170 0M996 0q19-158 38 0M1065 0q8-111 16 0M915 0q34-217 68 0M1188 0q56-273 112 0M1031 0q38-202 76 0M1204 0q9-120 18 0M1060 0q13-145 26 0M1036 0q25-162 50 0M1217 0q28-169 56 0M998 0q16-149 32 0M913 0q124-310 248 0M994 0q87-263 174 0M871 0q52-248 104 0M974 0q26-162 52 0M975 0q115-410 230 0M939 0q68-309 136 0M999 0q8-99 16 0M928 0q26-162 52 0M1020 0q11-105 22 0M1029 0q26-186 52 0M1016 0q65-236 130 0M875 0q19-172 38 0M998 0q68-326 136 0M1127 0q9-93 18 0M1042 0q84-284 168 0M1092 0q12-132 24 0M1044 0q123-343 246 0M713 0q16-155 32 0M618 0q19-160 38 0M685 0q39-227 78 0M633 0q78-301 156 0M726 0q8-78 16 0M710 0q13-127 26 0M639 0q12-106 24 0M632 0q50-215 100 0M595 0q44-227 88 0M688 0q32-192 64 0M648 0q37-219 74 0" fill="none" stroke="#ee8424" stroke-opacity="0.5" stroke-width="1.3"/>
<path d="M568 0q8-102 16 0M565 0q20-135 40 0" fill="none" stroke="#8a2c24" stroke-opacity="0.5" stroke-width="1.3"/>
<path d="M360 0q80-288 160 0M269 0q41-205 82 0M366 0q26-156 52 0M282 0q108-362 216 0M194 0q8-78 16 0M393 0q13-123 26 0M331 0q94-306 188 0M305 0q9-98 18 0M217 0q31-187 62 0M311 0q20-149 40 0M258 0q85-339 170 0M246 0q62-241 124 0M288 0q22-147 44 0M313 0q104-318 208 0M303 0q18-172 36 0M1250 0q14-111 28 0M1153 0q67-297 134 0M1044 0q18-115 36 0M1025 0q50-236 100 0M1111 0q49-212 98 0M982 0q98-351 196 0M914 0q16-143 32 0M857 0q46-218 92 0M920 0q46-258 92 0M1159 0q37-233 74 0M1132 0q29-171 58 0M987 0q43-207 86 0M1042 0q14-147 28 0M997 0q41-219 82 0M1002 0q71-264 142 0M939 0q11-126 22 0M621 0q11-105 22 0M605 0q21-148 42 0M629 0q12-141 24 0M598 0q84-371 168 0M610 0q9-114 18 0M585 0q27-174 54 0M528 0q86-330 172 0M657 0q13-113 26 0M631 0q40-209 80 0" fill="none" stroke="#e63a30" stroke-opacity="0.5" stroke-width="1.3"/>
<path d="M392 0q10-91 20 0M240 0q122-431 244 0M352 0q47-240 94 0M261 0q18-124 36 0M265 0q18-145 36 0M289 0q31-174 62 0M280 0q8-94 16 0M256 0q8-83 16 0M194 0q60-299 120 0M226 0q84-361 168 0M373 0q18-141 36 0M193 0q86-366 172 0M252 0q116-392 232 0M384 0q40-179 80 0M287 0q94-310 188 0M325 0q9-118 18 0M369 0q64-281 128 0M345 0q15-137 30 0M402 0q24-150 48 0M357 0q8-88 16 0M422 0q31-194 62 0M343 0q51-266 102 0M984 0q10-123 20 0M955 0q12-122 24 0M1179 0q9-97 18 0M1044 0q86-254 172 0M1000 0q20-139 40 0M1086 0q19-133 38 0M1095 0q23-170 46 0M1020 0q64-262 128 0M941 0q13-142 26 0M930 0q12-100 24 0M904 0q18-132 36 0M1105 0q54-280 108 0M1143 0q74-302 148 0M1019 0q12-102 24 0M895 0q37-193 74 0M1156 0q9-115 18 0M916 0q115-340 230 0M879 0q89-335 178 0M1080 0q9-97 18 0M1071 0q41-215 82 0M1150 0q24-185 48 0M923 0q59-291 118 0M1048 0q10-104 20 0M1060 0q102-326 204 0M1044 0q39-252 78 0M1033 0q38-230 76 0M1009 0q8-103 16 0M863 0q37-227 74 0M1148 0q20-177 40 0M1041 0q9-104 18 0M884 0q116-411 232 0M974 0q13-113 26 0M1222 0q22-150 44 0M1235 0q8-83 16 0M1021 0q113-322 226 0M1112 0q33-211 66 0M999 0q39-239 78 0M1127 0q84-334 168 0M1042 0q18-132 36 0M1125 0q35-236 70 0M1060 0q16-114 32 0M1061 0q14-135 28 0M1009 0q31-161 62 0M1057 0q8-97 16 0M997 0q62-215 124 0M1003 0q13-105 26 0M573 0q80-299 160 0M618 0q29-170 58 0M589 0q17-131 34 0M577 0q63-276 126 0M654 0q28-149 56 0M556 0q30-150 60 0M625 0q9-119 18 0M609 0q40-247 80 0M632 0q45-188 90 0M640 0q35-162 70 0M626 0q17-156 34 0M669 0q24-180 48 0M664 0q8-82 16 0M730 0q13-137 26 0M648 0q28-159 56 0M619 0q42-223 84 0M519 0q83-342 166 0M560 0q32-181 64 0" fill="none" stroke="#f0602a" stroke-opacity="0.5" stroke-width="1.3"/>
<path d="M274 0q11-98 22 0M407 0q37-176 74 0M356 0q65-231 130 0M239 0q71-330 142 0M191 0q81-359 162 0M382 0q11-129 22 0M408 0q23-194 46 0M424 0q49-215 98 0M265 0q60-300 120 0M214 0q100-315 200 0M246 0q26-165 52 0M405 0q13-106 26 0M400 0q54-268 108 0M267 0q30-212 60 0M411 0q37-243 74 0M203 0q115-339 230 0M346 0q9-103 18 0M260 0q24-170 48 0M203 0q14-123 28 0M360 0q72-281 144 0M307 0q124-429 248 0M1096 0q43-254 86 0M1119 0q48-196 96 0M881 0q27-149 54 0M1039 0q14-143 28 0M947 0q55-235 110 0M901 0q8-83 16 0M916 0q17-121 34 0M967 0q32-188 64 0M870 0q95-283 190 0M898 0q9-106 18 0M1146 0q72-320 144 0M1087 0q19-162 38 0M917 0q31-215 62 0M972 0q78-267 156 0M975 0q11-113 22 0M914 0q20-131 40 0M975 0q21-134 42 0M1121 0q17-153 34 0M1167 0q41-192 82 0M933 0q65-320 130 0M1190 0q28-163 56 0M1010 0q44-253 88 0M1066 0q101-360 202 0M1075 0q14-130 28 0M1192 0q17-114 34 0M1023 0q11-111 22 0M1139 0q26-145 52 0M891 0q99-380 198 0M922 0q20-126 40 0M1069 0q109-397 218 0M953 0q11-97 22 0M986 0q119-359 238 0M1009 0q15-139 30 0M897 0q53-256 106 0M1180 0q48-271 96 0M568 0q11-89 22 0M551 0q80-302 160 0M637 0q34-187 68 0M701 0q29-170 58 0M598 0q91-367 182 0M556 0q21-129 42 0M525 0q94-385 188 0M641 0q23-152 46 0M583 0q20-153 40 0M604 0q55-210 110 0M645 0q36-234 72 0M557 0q30-191 60 0M556 0q41-256 82 0" fill="none" stroke="#ee8424" stroke-opacity="0.5" stroke-width="1.3"/>
<path d="M220 0q37-177 74 0M944 0q45-191 90 0M894 0q12-102 24 0M937 0q8-90 16 0M633 0q36-234 72 0" fill="none" stroke="#8a2c24" stroke-opacity="0.5" stroke-width="1.3"/>
<path d="M224 0q99-322 198 0M240 0q29-204 58 0M335 0q53-222 106 0M297 0q18-160 36 0M217 0q28-169 56 0M239 0q17-141 34 0M380 0q15-114 30 0M245 0q32-186 64 0M376 0q16-151 32 0M363 0q46-206 92 0M380 0q27-166 54 0M1003 0q62-221 124 0M1106 0q23-165 46 0M904 0q85-355 170 0M1005 0q11-104 22 0M1004 0q19-119 38 0M1211 0q16-153 32 0M1104 0q9-100 18 0M1056 0q51-216 102 0M1178 0q18-117 36 0M1200 0q9-95 18 0M1072 0q13-122 26 0M1080 0q11-117 22 0M869 0q29-196 58 0M1120 0q18-127 36 0M955 0q72-260 144 0M1064 0q15-147 30 0M1190 0q30-174 60 0M988 0q51-204 102 0M1086 0q97-340 194 0M1039 0q15-106 30 0M883 0q26-138 52 0M727 0q8-79 16 0M567 0q54-281 108 0M566 0q22-186 44 0M714 0q11-100 22 0M683 0q27-194 54 0" fill="none" stroke="#e63a30" stroke-opacity="0.5" stroke-width="1.3"/>
<path d="M379 0q11-102 22 0M197 0q11-92 22 0M366 0q29-168 58 0M421 0q11-90 22 0M251 0q27-205 54 0M368 0q72-249 144 0M274 0q12-139 24 0M434 0q33-226 66 0M404 0q15-135 30 0M292 0q70-272 140 0M251 0q49-237 98 0M215 0q16-147 32 0M331 0q8-104 16 0M330 0q10-90 20 0M303 0q101-352 202 0M318 0q62-237 124 0M261 0q38-182 76 0M192 0q33-215 66 0M336 0q34-166 68 0M277 0q52-282 104 0M230 0q16-118 32 0M413 0q12-106 24 0M239 0q63-295 126 0M203 0q42-186 84 0M355 0q9-94 18 0M297 0q13-99 26 0M998 0q71-326 142 0M1175 0q30-211 60 0M1193 0q19-174 38 0M1040 0q16-128 32 0M1232 0q11-109 22 0M1041 0q28-152 56 0M1134 0q18-120 36 0M1039 0q113-299 226 0M1036 0q114-358 228 0M1020 0q81-301 162 0M1141 0q9-102 18 0M944 0q38-185 76 0M1245 0q17-144 34 0M865 0q42-229 84 0M1175 0q56-275 112 0M1101 0q10-131 20 0M1006 0q98-402 196 0M915 0q11-91 22 0M870 0q109-424 218 0M974 0q10-123 20 0M1186 0q23-143 46 0M1049 0q29-192 58 0M1054 0q8-90 16 0M962 0q13-130 26 0M1101 0q22-163 44 0M1008 0q17-163 34 0M965 0q60-265 120 0M1058 0q86-321 172 0M1060 0q29-164 58 0M1227 0q15-129 30 0M1053 0q9-102 18 0M947 0q50-260 100 0M1141 0q22-186 44 0M1113 0q16-156 32 0M970 0q121-394 242 0M713 0q15-155 30 0M680 0q32-219 64 0M608 0q91-318 182 0M661 0q23-163 46 0M610 0q88-310 176 0M670 0q8-103 16 0M614 0q26-145 52 0M735 0q17-132 34 0M697 0q18-135 36 0M578 0q83-357 166 0M680 0q47-274 94 0M620 0q12-123 24 0M611 0q13-114 26 0M545 0q31-182 62 0M568 0q24-184 48 0M730 0q8-107 16 0M712 0q33-203 66 0M607 0q8-99 16 0M601 0q28-164 56 0M629 0q57-301 114 0" fill="none" stroke="#f0602a" stroke-opacity="0.5" stroke-width="1.3"/>
<path d="M515 0q62-240 124 0M912 0q25-184 50 0" fill="none" stroke="#8a2c24" stroke-opacity="0.5" stroke-width="1.2"/>
<path d="M205 0q25-168 50 0" fill="none" stroke="#e63a30" stroke-opacity="0.5" stroke-width="1.2"/>
<path d="M1036 0q74-292 148 0M763 0q16-116 32 0" fill="none" stroke="#8a2c24" stroke-opacity="0.5" stroke-width="1.3"/>
<path d="M689 0q31-200 62 0" fill="none" stroke="#8a2c24" stroke-opacity="0.5" stroke-width="1.4"/>
</g>
</g>
<rect x="186.5" y="1041" width="1115.5" height="147" fill="none" stroke="#000" stroke-width="3.2"/>
<path d="M174 1063.5L186 1063.5" stroke="#000" stroke-width="2.4" fill="none" />
<text x="171" y="1073.5" font-size="28" text-anchor="end" stroke="#000" stroke-width="1.1">40</text>
<path d="M174 1126L186 1126" stroke="#000" stroke-width="2.4" fill="none" />
<text x="171" y="1136" font-size="28" text-anchor="end" stroke="#000" stroke-width="1.1">20</text>
<path d="M174 1188.5L186 1188.5" stroke="#000" stroke-width="2.4" fill="none" />
<text x="171" y="1198.5" font-size="28" text-anchor="end" stroke="#000" stroke-width="1.1">0</text>
<g clip-path="url(#ct3)">
<linearGradient id="bg3" x1="0" y1="0" x2="0" y2="1"><stop offset="0" stop-color="#f6c63c"/><stop offset="1" stop-color="#f29c20"/></linearGradient>
<path d="M187.5 1361.5Q193.5 1254.2 277.5 1218.5H1210.5Q1294.5 1254.2 1300.5 1361.5Z" fill="url(#bg3)" fill-opacity="0.93"/>
<g transform="translate(0 1361.5)">
<path d="M477 0q16-159 32 0M1001 0q13-83 26 0M208 0q4-76 8 0M1233 0q28-171 56 0M895 0q17-159 34 0M503 0q7-56 14 0M1200 0q6-100 12 0M492 0q24-178 48 0M808 0q15-91 30 0M383 0q6-84 12 0M539 0q6-51 12 0" fill="#ee8424" fill-opacity="0.2" stroke="#ee8424" stroke-opacity="0.5" stroke-width="1.5"/>
<path d="M238 0q4-52 8 0M988 0q20-92 40 0M1174 0q12-65 24 0M919 0q20-177 40 0M618 0q7-98 14 0M707 0q12-79 24 0M890 0q24-156 48 0M1187 0q4-71 8 0M556 0q7-80 14 0M1244 0q6-84 12 0M571 0q8-53 16 0M325 0q7-93 14 0M657 0q17-156 34 0M977 0q7-87 14 0M202 0q6-66 12 0M363 0q13-140 26 0M228 0q21-114 42 0M679 0q9-91 18 0M794 0q12-99 24 0M1232 0q13-73 26 0M354 0q4-62 8 0M877 0q18-163 36 0M922 0q5-65 10 0M559 0q4-81 8 0M1143 0q27-153 54 0M1163 0q11-115 22 0M1094 0q4-76 8 0M602 0q4-81 8 0M512 0q7-53 14 0" fill="#f3a02c" fill-opacity="0.2" stroke="#f3a02c" stroke-opacity="0.5" stroke-width="1.5"/>
<path d="M1069 0q26-185 52 0M1221 0q5-67 10 0M1168 0q8-81 16 0M346 0q5-49 10 0M920 0q15-125 30 0M899 0q7-87 14 0M1165 0q8-105 16 0M1098 0q6-95 12 0M670 0q4-44 8 0M1137 0q8-71 16 0M999 0q15-151 30 0M1269 0q10-111 20 0M1192 0q12-133 24 0M362 0q24-146 48 0M1187 0q16-151 32 0M793 0q19-167 38 0M993 0q10-101 20 0M331 0q12-70 24 0M818 0q24-146 48 0M315 0q9-113 18 0" fill="#f8e255" fill-opacity="0.2" stroke="#f8e255" stroke-opacity="0.5" stroke-width="1.5"/>
<path d="M300 0q6-56 12 0M1173 0q12-70 24 0M205 0q28-210 56 0M236 0q4-73 8 0M459 0q11-99 22 0M1074 0q22-143 44 0M1018 0q23-181 46 0M848 0q16-153 32 0M613 0q24-182 48 0M929 0q25-201 50 0M378 0q10-119 20 0M1272 0q10-76 20 0M382 0q19-84 38 0M429 0q5-73 10 0M975 0q19-93 38 0M1126 0q21-180 42 0M494 0q24-92 48 0M256 0q16-87 32 0M650 0q12-92 24 0M603 0q28-151 56 0M1147 0q10-91 20 0M802 0q22-93 44 0M598 0q23-117 46 0M301 0q25-113 50 0M525 0q5-62 10 0M326 0q12-91 24 0M876 0q8-62 16 0M1171 0q16-122 32 0M359 0q11-105 22 0M337 0q5-89 10 0M258 0q20-132 40 0M1275 0q7-73 14 0M718 0q5-68 10 0M1171 0q11-86 22 0M366 0q9-89 18 0M1131 0q22-101 44 0M415 0q12-71 24 0M1057 0q5-76 10 0M590 0q7-76 14 0" fill="#f7c23a" fill-opacity="0.2" stroke="#f7c23a" stroke-opacity="0.5" stroke-width="1.5"/>
<path d="M631 0q5-78 10 0M629 0q19-141 38 0M628 0q19-127 38 0M1261 0q5-72 10 0M1055 0q20-99 40 0M511 0q21-128 42 0M280 0q18-96 36 0M308 0q22-118 44 0M547 0q8-89 16 0M864 0q13-89 26 0M1047 0q5-94 10 0M653 0q13-124 26 0M616 0q9-102 18 0M1220 0q10-108 20 0" fill="#ee8424" fill-opacity="0.2" stroke="#ee8424" stroke-opacity="0.5" stroke-width="1.5"/>
<path d="M528 0q6-85 12 0M1188 0q7-103 14 0M1031 0q6-60 12 0M786 0q7-94 14 0M583 0q25-131 50 0M792 0q17-143 34 0M1257 0q21-179 42 0M614 0q7-52 14 0M838 0q19-108 38 0M1021 0q8-85 16 0M675 0q5-70 10 0M816 0q13-139 26 0M1134 0q10-119 20 0M298 0q7-54 14 0M650 0q30-117 60 0M1286 0q4-73 8 0M1110 0q12-109 24 0M395 0q6-85 12 0M498 0q4-55 8 0" fill="#f3a02c" fill-opacity="0.2" stroke="#f3a02c" stroke-opacity="0.5" stroke-width="1.5"/>
<path d="M1151 0q6-97 12 0M520 0q6-68 12 0M480 0q26-141 52 0M801 0q7-79 14 0M1119 0q12-69 24 0M1005 0q29-214 58 0M624 0q13-139 26 0M824 0q5-48 10 0M1151 0q8-71 16 0M321 0q19-163 38 0M903 0q20-95 40 0M655 0q8-66 16 0M502 0q17-135 34 0M1159 0q8-67 16 0M534 0q12-78 24 0M327 0q6-95 12 0" fill="#f8e255" fill-opacity="0.2" stroke="#f8e255" stroke-opacity="0.5" stroke-width="1.5"/>
<path d="M701 0q12-139 24 0M505 0q8-116 16 0M1208 0q4-76 8 0M215 0q12-108 24 0M1052 0q9-70 18 0M1185 0q10-121 20 0M640 0q7-60 14 0M287 0q8-65 16 0M764 0q7-54 14 0M612 0q8-54 16 0M886 0q4-78 8 0M1266 0q12-70 24 0M733 0q21-171 42 0M298 0q22-102 44 0M876 0q6-65 12 0M231 0q11-114 22 0M389 0q4-59 8 0M1135 0q8-84 16 0M190 0q4-61 8 0M1029 0q5-58 10 0M666 0q27-133 54 0M376 0q21-188 42 0M500 0q17-151 34 0M1140 0q18-144 36 0M1113 0q9-115 18 0M901 0q6-46 12 0M610 0q11-123 22 0M772 0q5-81 10 0M966 0q8-114 16 0M1084 0q11-87 22 0M721 0q11-89 22 0M920 0q10-79 20 0M1017 0q19-87 38 0M660 0q26-184 52 0M1244 0q18-117 36 0M572 0q7-87 14 0M547 0q18-139 36 0M626 0q5-92 10 0M278 0q28-151 56 0M867 0q12-113 24 0M355 0q21-173 42 0M1097 0q8-70 16 0M516 0q6-90 12 0M696 0q14-89 28 0M359 0q19-152 38 0M1122 0q11-85 22 0M1008 0q16-126 32 0M1125 0q19-117 38 0M817 0q11-117 22 0" fill="#f7c23a" fill-opacity="0.2" stroke="#f7c23a" stroke-opacity="0.5" stroke-width="1.5"/>
<path d="M243 0q5-72 10 0M207 0q23-107 46 0M420 0q5-73 10 0M609 0q24-103 48 0M1260 0q11-64 22 0M423 0q29-186 58 0M1010 0q9-73 18 0M1051 0q24-167 48 0M1099 0q16-120 32 0M934 0q9-86 18 0" fill="#ee8424" fill-opacity="0.2" stroke="#ee8424" stroke-opacity="0.5" stroke-width="1.5"/>
<path d="M382 0q8-55 16 0M1133 0q11-71 22 0M1163 0q13-93 26 0M944 0q12-92 24 0M725 0q17-131 34 0M784 0q10-86 20 0M1163 0q5-91 10 0M288 0q9-102 18 0M609 0q16-133 32 0M843 0q12-77 24 0M363 0q4-49 8 0M554 0q16-115 32 0M573 0q22-153 44 0M924 0q11-92 22 0M829 0q9-76 18 0M1209 0q8-90 16 0M478 0q20-132 40 0M702 0q15-141 30 0M246 0q6-77 12 0M232 0q19-157 38 0M824 0q6-86 12 0" fill="#f3a02c" fill-opacity="0.2" stroke="#f3a02c" stroke-opacity="0.5" stroke-width="1.5"/>
<path d="M909 0q8-92 16 0M1082 0q5-85 10 0M366 0q20-101 40 0M1136 0q26-112 52 0M590 0q26-191 52 0M520 0q15-126 30 0M1257 0q9-114 18 0M907 0q13-72 26 0M713 0q4-49 8 0M192 0q4-39 8 0M646 0q26-140 52 0M225 0q8-91 16 0M961 0q4-59 8 0M1134 0q15-132 30 0M389 0q19-137 38 0M361 0q28-138 56 0M922 0q25-183 50 0M483 0q23-102 46 0M993 0q20-108 40 0M630 0q15-84 30 0M985 0q10-72 20 0M817 0q15-85 30 0" fill="#f8e255" fill-opacity="0.2" stroke="#f8e255" stroke-opacity="0.5" stroke-width="1.5"/>
<path d="M1129 0q22-152 44 0M731 0q22-150 44 0M642 0q6-79 12 0M502 0q21-130 42 0M414 0q9-61 18 0M639 0q7-71 14 0M1182 0q4-84 8 0M1244 0q11-69 22 0M269 0q11-122 22 0M847 0q20-96 40 0M288 0q14-147 28 0M537 0q4-41 8 0M735 0q12-130 24 0M1102 0q14-122 28 0M1275 0q8-68 16 0M1209 0q17-108 34 0M340 0q9-86 18 0M885 0q8-72 16 0M274 0q10-120 20 0M834 0q7-87 14 0M876 0q7-75 14 0M517 0q8-64 16 0M248 0q5-89 10 0M976 0q26-152 52 0M1110 0q27-103 54 0M1067 0q6-81 12 0M885 0q8-68 16 0M808 0q8-95 16 0M949 0q10-104 20 0M639 0q17-110 34 0M1034 0q5-72 10 0M1191 0q17-79 34 0M1118 0q8-69 16 0M1006 0q7-58 14 0M1064 0q6-58 12 0M1142 0q7-104 14 0M725 0q6-98 12 0M988 0q28-183 56 0M474 0q6-88 12 0M759 0q21-99 42 0M904 0q20-128 40 0M711 0q11-136 22 0M1153 0q15-99 30 0M1209 0q23-109 46 0" fill="#f7c23a" fill-opacity="0.2" stroke="#f7c23a" stroke-opacity="0.5" stroke-width="1.5"/>
<path d="M1157 0q16-141 32 0M608 0q5-60 10 0M1029 0q8-93 16 0M995 0q26-109 52 0M516 0q6-57 12 0M777 0q16-155 32 0M1118 0q7-98 14 0M1125 0q26-187 52 0M838 0q14-146 28 0M783 0q5-66 10 0M1076 0q19-86 38 0" fill="#ee8424" fill-opacity="0.2" stroke="#ee8424" stroke-opacity="0.5" stroke-width="1.5"/>
<path d="M1030 0q8-54 16 0M1150 0q14-106 28 0M577 0q19-94 38 0M547 0q6-103 12 0M303 0q13-140 26 0M223 0q18-92 36 0M378 0q22-90 44 0M1196 0q27-211 54 0M840 0q14-129 28 0M972 0q5-46 10 0M496 0q10-128 20 0M778 0q15-120 30 0M995 0q10-124 20 0M1042 0q9-85 18 0M514 0q12-127 24 0M353 0q20-172 40 0M1178 0q5-94 10 0M984 0q5-82 10 0M678 0q5-77 10 0M803 0q10-127 20 0M729 0q19-173 38 0M1252 0q8-76 16 0M806 0q6-85 12 0M955 0q10-85 20 0M503 0q22-182 44 0" fill="#f3a02c" fill-opacity="0.2" stroke="#f3a02c" stroke-opacity="0.5" stroke-width="1.5"/>
<path d="M578 0q7-68 14 0M1167 0q7-76 14 0M612 0q29-180 58 0M492 0q30-186 60 0M1124 0q5-56 10 0M1104 0q8-108 16 0M947 0q7-92 14 0M1092 0q18-83 36 0M1036 0q18-150 36 0M392 0q14-113 28 0M420 0q4-60 8 0M637 0q5-83 10 0M264 0q6-87 12 0M484 0q13-93 26 0M595 0q5-90 10 0M1268 0q14-140 28 0M913 0q20-152 40 0" fill="#f8e255" fill-opacity="0.2" stroke="#f8e255" stroke-opacity="0.5" stroke-width="1.5"/>
<path d="M377 0q7-62 14 0M735 0q15-115 30 0M363 0q10-113 20 0M934 0q6-46 12 0M252 0q15-128 30 0M1146 0q12-117 24 0M909 0q6-61 12 0M848 0q27-105 54 0M260 0q11-124 22 0M408 0q7-92 14 0M720 0q24-128 48 0M677 0q8-55 16 0M1244 0q5-76 10 0M506 0q11-108 22 0M790 0q15-93 30 0M615 0q5-42 10 0M489 0q18-112 36 0M1015 0q21-167 42 0M192 0q6-86 12 0M1140 0q5-76 10 0M942 0q21-168 42 0M194 0q7-82 14 0M1191 0q7-72 14 0M379 0q11-75 22 0M1172 0q4-78 8 0M820 0q8-62 16 0M1030 0q11-112 22 0M934 0q23-159 46 0M569 0q6-63 12 0M1138 0q7-92 14 0M1072 0q11-126 22 0M535 0q6-59 12 0M1208 0q16-103 32 0M1093 0q6-51 12 0M248 0q6-82 12 0M1234 0q12-67 24 0M501 0q17-94 34 0M1219 0q4-60 8 0M680 0q10-76 20 0M499 0q6-92 12 0" fill="#f7c23a" fill-opacity="0.2" stroke="#f7c23a" stroke-opacity="0.5" stroke-width="1.5"/>
<path d="M840 0q173-378 346 0" fill="none" stroke="#fbeea0" stroke-opacity="0.3" stroke-width="2.0"/>
<path d="M1073 0q71-299 142 0M950 0q167-520 334 0M327 0q240-544 480 0M473 0q394-668 788 0M582 0q280-638 560 0M552 0q105-292 210 0M241 0q24-185 48 0M387 0q21-184 42 0M417 0q84-256 168 0M451 0q114-396 228 0M519 0q235-493 470 0M549 0q286-597 572 0M407 0q417-574 834 0M476 0q103-288 206 0M352 0q85-300 170 0M207 0q331-656 662 0M286 0q59-224 118 0" fill="none" stroke="#f3a02c" stroke-opacity="0.3" stroke-width="2.0"/>
<path d="M378 0q120-428 240 0M360 0q408-747 816 0M351 0q398-739 796 0M787 0q60-240 120 0M255 0q126-352 252 0M754 0q122-435 244 0M194 0q185-542 370 0M697 0q210-556 420 0M537 0q33-228 66 0M513 0q20-146 40 0M845 0q41-207 82 0M759 0q234-575 468 0M725 0q169-477 338 0M928 0q140-474 280 0M203 0q339-666 678 0M511 0q62-294 124 0M1141 0q72-342 144 0M520 0q101-336 202 0M821 0q227-442 454 0M341 0q29-149 58 0M552 0q125-325 250 0M615 0q310-576 620 0M1173 0q29-153 58 0M311 0q108-349 216 0M328 0q82-251 164 0M218 0q273-655 546 0M397 0q46-271 92 0M1184 0q58-274 116 0M409 0q331-538 662 0" fill="none" stroke="#f8e255" stroke-opacity="0.3" stroke-width="2.0"/>
<path d="M630 0q309-681 618 0M228 0q146-436 292 0M1151 0q61-228 122 0M726 0q23-172 46 0M709 0q114-368 228 0M1105 0q24-154 48 0M397 0q321-633 642 0M795 0q44-227 88 0M1009 0q63-306 126 0M527 0q89-345 178 0M258 0q179-492 358 0M728 0q21-158 42 0M928 0q131-376 262 0M382 0q60-255 120 0M343 0q123-438 246 0M380 0q29-148 58 0M910 0q33-214 66 0M503 0q185-491 370 0M388 0q133-415 266 0M617 0q46-185 92 0M734 0q150-462 300 0M595 0q228-611 456 0M649 0q99-283 198 0M952 0q121-403 242 0M430 0q417-793 834 0M383 0q441-571 882 0M1132 0q21-161 42 0M473 0q175-487 350 0M822 0q120-358 240 0M541 0q28-146 56 0" fill="none" stroke="#f7c23a" stroke-opacity="0.3" stroke-width="2.0"/>
<path d="M188 0q31-175 62 0M1034 0q93-353 186 0M618 0q284-574 568 0M390 0q67-266 134 0M359 0q231-476 462 0M371 0q66-323 132 0" fill="none" stroke="#fbeea0" stroke-opacity="0.3" stroke-width="2.0"/>
<path d="M421 0q405-733 810 0M433 0q93-365 186 0M235 0q369-761 738 0M938 0q36-185 72 0M343 0q29-159 58 0M294 0q30-209 60 0M724 0q25-182 50 0M919 0q156-422 312 0" fill="none" stroke="#f3a02c" stroke-opacity="0.3" stroke-width="2.0"/>
<path d="M374 0q92-308 184 0M1096 0q24-193 48 0M255 0q311-710 622 0M499 0q100-302 200 0M628 0q66-277 132 0M573 0q118-331 236 0M643 0q318-499 636 0M1015 0q24-153 48 0M256 0q107-362 214 0M838 0q41-254 82 0M1134 0q56-234 112 0M376 0q398-571 796 0M975 0q28-177 56 0M958 0q25-173 50 0M390 0q331-555 662 0M660 0q77-319 154 0M1059 0q69-293 138 0M475 0q56-233 112 0M814 0q158-358 316 0M1185 0q40-213 80 0M199 0q121-341 242 0M777 0q24-159 48 0M1015 0q137-358 274 0M432 0q35-212 70 0M483 0q47-245 94 0M792 0q28-151 56 0M910 0q56-298 112 0M375 0q68-243 136 0M1202 0q37-233 74 0M886 0q36-223 72 0M492 0q238-499 476 0M1044 0q25-200 50 0M965 0q87-340 174 0M608 0q344-755 688 0M1090 0q40-231 80 0M394 0q218-466 436 0M294 0q357-584 714 0" fill="none" stroke="#f8e255" stroke-opacity="0.3" stroke-width="2.0"/>
<path d="M283 0q46-209 92 0M1134 0q55-274 110 0M935 0q74-260 148 0M1036 0q40-219 80 0M389 0q242-499 484 0M704 0q34-199 68 0M483 0q24-176 48 0M864 0q27-174 54 0M241 0q403-753 806 0M252 0q271-466 542 0M528 0q24-188 48 0M610 0q31-168 62 0M307 0q424-811 848 0M1002 0q67-242 134 0M652 0q91-297 182 0M401 0q285-643 570 0M217 0q306-580 612 0M995 0q57-252 114 0M703 0q208-409 416 0M406 0q339-563 678 0M1018 0q35-181 70 0M414 0q78-307 156 0M416 0q245-525 490 0M485 0q275-641 550 0M288 0q73-237 146 0M380 0q29-178 58 0M375 0q437-647 874 0M340 0q363-559 726 0M422 0q36-221 72 0M703 0q177-407 354 0M969 0q51-214 102 0" fill="none" stroke="#f7c23a" stroke-opacity="0.3" stroke-width="2.0"/>
<path d="M718 0q176-452 352 0M364 0q109-316 218 0" fill="none" stroke="#fbeea0" stroke-opacity="0.3" stroke-width="2.0"/>
<path d="M341 0q419-820 838 0M706 0q54-252 108 0M960 0q111-392 222 0M1062 0q43-201 86 0M523 0q20-163 40 0M243 0q27-179 54 0M416 0q139-462 278 0M284 0q480-607 960 0M1083 0q44-208 88 0M328 0q341-661 682 0M1044 0q29-210 58 0M866 0q58-260 116 0" fill="none" stroke="#f3a02c" stroke-opacity="0.3" stroke-width="2.0"/>
<path d="M539 0q21-157 42 0M362 0q465-849 930 0M564 0q76-256 152 0M268 0q25-172 50 0M367 0q56-230 112 0M510 0q81-347 162 0M267 0q21-150 42 0M298 0q112-344 224 0M918 0q151-388 302 0M393 0q431-718 862 0M428 0q265-582 530 0M557 0q269-641 538 0M307 0q245-579 490 0M487 0q149-484 298 0M238 0q57-248 114 0M594 0q22-147 44 0M612 0q168-469 336 0M224 0q211-504 422 0M1075 0q49-254 98 0M759 0q74-300 148 0M757 0q21-166 42 0M509 0q49-253 98 0M946 0q75-293 150 0M463 0q320-504 640 0M295 0q109-309 218 0M495 0q161-459 322 0M627 0q38-174 76 0M1235 0q22-166 44 0M199 0q356-528 712 0M942 0q50-239 100 0M947 0q44-215 88 0M785 0q56-268 112 0M234 0q471-869 942 0M369 0q59-232 118 0M280 0q173-490 346 0" fill="none" stroke="#f8e255" stroke-opacity="0.3" stroke-width="2.0"/>
<path d="M439 0q35-199 70 0M333 0q25-172 50 0M271 0q98-294 196 0M426 0q345-678 690 0M852 0q134-386 268 0M810 0q162-433 324 0M359 0q153-360 306 0M789 0q40-181 80 0M202 0q135-439 270 0M833 0q71-254 142 0M582 0q20-154 40 0M819 0q26-200 52 0M582 0q73-303 146 0M364 0q218-489 436 0M251 0q190-389 380 0M266 0q72-296 144 0M261 0q46-269 92 0M937 0q102-300 204 0M1091 0q55-263 110 0M1165 0q27-148 54 0M1037 0q86-321 172 0M1085 0q23-171 46 0M675 0q41-250 82 0M1107 0q45-201 90 0M210 0q26-200 52 0M580 0q25-177 50 0M736 0q24-170 48 0M441 0q87-285 174 0M672 0q300-613 600 0M573 0q146-341 292 0" fill="none" stroke="#f7c23a" stroke-opacity="0.3" stroke-width="2.0"/>
<path d="M1141 0q32-231 64 0M781 0q242-517 484 0M1019 0q29-182 58 0" fill="none" stroke="#fbeea0" stroke-opacity="0.3" stroke-width="2.0"/>
<path d="M768 0q41-213 82 0M846 0q139-356 278 0M491 0q158-465 316 0M420 0q211-546 422 0M514 0q37-238 74 0M222 0q297-529 594 0M209 0q249-623 498 0M1177 0q43-233 86 0M826 0q224-531 448 0M391 0q96-345 192 0M421 0q365-643 730 0M1078 0q69-295 138 0M975 0q91-337 182 0M290 0q494-726 988 0M569 0q307-603 614 0M560 0q144-334 288 0M682 0q25-148 50 0M784 0q76-270 152 0M431 0q92-376 184 0" fill="none" stroke="#f3a02c" stroke-opacity="0.3" stroke-width="2.0"/>
<path d="M984 0q122-447 244 0M302 0q69-294 138 0M678 0q55-248 110 0M727 0q110-295 220 0M962 0q36-211 72 0M746 0q217-468 434 0M695 0q163-490 326 0M456 0q189-423 378 0M681 0q188-506 376 0M724 0q113-342 226 0M423 0q310-692 620 0M954 0q39-214 78 0M945 0q149-363 298 0M948 0q38-203 76 0M1129 0q80-302 160 0M475 0q59-243 118 0M725 0q234-541 468 0M298 0q115-298 230 0M575 0q206-421 412 0M250 0q67-284 134 0M911 0q120-327 240 0M791 0q136-444 272 0M690 0q152-354 304 0M215 0q71-340 142 0M543 0q353-691 706 0M219 0q20-124 40 0M351 0q24-167 48 0M381 0q217-494 434 0M1064 0q67-314 134 0M1000 0q91-314 182 0M846 0q112-376 224 0M336 0q220-410 440 0M570 0q27-188 54 0M545 0q97-270 194 0M1191 0q42-228 84 0" fill="none" stroke="#f8e255" stroke-opacity="0.3" stroke-width="2.0"/>
<path d="M300 0q20-136 40 0M850 0q131-322 262 0M931 0q28-190 56 0M370 0q310-514 620 0M208 0q494-874 988 0M223 0q459-841 918 0M275 0q117-315 234 0M286 0q405-757 810 0M289 0q23-157 46 0M519 0q211-501 422 0M1116 0q89-300 178 0M258 0q283-585 566 0M247 0q203-548 406 0M857 0q170-503 340 0M273 0q213-405 426 0M883 0q127-386 254 0M277 0q51-201 102 0M225 0q90-344 180 0M915 0q78-312 156 0M481 0q33-164 66 0M679 0q270-650 540 0" fill="none" stroke="#f7c23a" stroke-opacity="0.3" stroke-width="2.0"/>
<path d="M405 0q259-644 518 0M263 0q464-658 928 0M260 0q107-336 214 0M670 0q292-669 584 0M475 0q386-788 772 0M513 0q186-415 372 0" fill="none" stroke="#fbeea0" stroke-opacity="0.3" stroke-width="2.0"/>
<path d="M365 0q73-294 146 0M915 0q84-259 168 0M1058 0q35-224 70 0M452 0q178-390 356 0M726 0q99-346 198 0M277 0q52-255 104 0M297 0q114-325 228 0M207 0q373-647 746 0M479 0q157-484 314 0M491 0q366-755 732 0M574 0q183-511 366 0M662 0q31-210 62 0" fill="none" stroke="#f3a02c" stroke-opacity="0.3" stroke-width="2.0"/>
<path d="M1010 0q33-199 66 0M1052 0q23-179 46 0M500 0q28-177 56 0M398 0q209-555 418 0M848 0q130-434 260 0M368 0q464-773 928 0M872 0q21-157 42 0M394 0q119-400 238 0M285 0q128-402 256 0M523 0q24-189 48 0M702 0q109-418 218 0M590 0q327-560 654 0M430 0q359-617 718 0M314 0q246-632 492 0M577 0q48-257 96 0M871 0q27-187 54 0M1021 0q100-380 200 0M1007 0q39-205 78 0M1200 0q47-239 94 0M1026 0q136-391 272 0M809 0q31-174 62 0M212 0q89-357 178 0M564 0q235-553 470 0M496 0q22-180 44 0M1158 0q33-229 66 0M1230 0q30-200 60 0M816 0q124-307 248 0M720 0q56-207 112 0M522 0q277-561 554 0M836 0q47-212 94 0M756 0q72-330 144 0" fill="none" stroke="#f8e255" stroke-opacity="0.3" stroke-width="2.0"/>
<path d="M996 0q124-390 248 0M316 0q417-569 834 0M204 0q130-351 260 0M713 0q25-138 50 0M698 0q44-212 88 0M382 0q326-711 652 0M314 0q82-299 164 0M665 0q27-190 54 0M516 0q94-364 188 0M543 0q55-287 110 0M958 0q23-149 46 0M408 0q95-345 190 0M212 0q367-583 734 0M968 0q157-424 314 0M854 0q24-182 48 0M560 0q246-431 492 0M1017 0q105-301 210 0M448 0q371-607 742 0M615 0q202-415 404 0M267 0q238-515 476 0M203 0q167-447 334 0M632 0q67-269 134 0M298 0q241-519 482 0M515 0q42-233 84 0M615 0q321-493 642 0M435 0q370-527 740 0M434 0q330-682 660 0" fill="none" stroke="#f7c23a" stroke-opacity="0.3" stroke-width="2.0"/>
<path d="M169 0q341-555 682 0M901 0q133-414 266 0M230 0q85-273 170 0M384 0q416-784 832 0M161 0q193-563 386 0M605 0q227-474 454 0M365 0q79-264 158 0M578 0q74-235 148 0M1093 0q116-344 232 0M164 0q132-333 264 0M619 0q244-520 488 0M184 0q361-714 722 0M659 0q287-675 574 0M584 0q105-382 210 0M246 0q303-653 606 0M258 0q289-532 578 0M374 0q387-559 774 0M525 0q107-412 214 0M247 0q363-601 726 0M272 0q388-662 776 0M922 0q128-455 256 0M195 0q233-465 466 0M484 0q92-280 184 0M572 0q114-402 228 0M618 0q81-305 162 0M770 0q280-523 560 0M437 0q410-782 820 0M153 0q168-393 336 0M667 0q113-293 226 0M243 0q68-330 136 0M769 0q127-309 254 0M513 0q295-572 590 0M606 0q330-664 660 0M489 0q90-281 180 0M576 0q153-359 306 0M930 0q189-414 378 0M497 0q408-643 816 0M711 0q98-319 196 0M1013 0q170-372 340 0M685 0q86-342 172 0M1024 0q139-441 278 0M200 0q379-733 758 0M313 0q395-690 790 0M658 0q82-303 164 0M474 0q403-693 806 0M596 0q219-473 438 0M493 0q73-331 146 0M762 0q250-627 500 0M353 0q94-393 188 0M134 0q140-406 280 0M168 0q143-401 286 0M233 0q109-420 218 0M269 0q131-360 262 0M763 0q193-565 386 0M446 0q421-760 842 0M627 0q117-441 234 0M508 0q262-515 524 0M327 0q119-305 238 0M895 0q89-349 178 0M250 0q359-722 718 0M551 0q256-487 512 0M788 0q94-309 188 0M655 0q265-527 530 0M677 0q125-395 250 0M212 0q498-654 996 0M396 0q118-331 236 0M492 0q405-602 810 0M797 0q174-423 348 0M551 0q170-440 340 0M597 0q283-607 566 0M218 0q208-478 416 0M568 0q127-458 254 0M600 0q350-758 700 0M769 0q205-520 410 0M432 0q444-733 888 0M335 0q300-680 600 0M682 0q227-473 454 0M365 0q76-311 152 0M495 0q151-404 302 0M538 0q262-529 524 0M162 0q145-363 290 0M231 0q456-837 912 0M410 0q449-840 898 0M559 0q211-499 422 0M510 0q363-603 726 0M291 0q146-335 292 0M411 0q170-476 340 0M666 0q331-588 662 0M577 0q384-635 768 0M160 0q262-548 524 0M568 0q149-417 298 0M149 0q75-269 150 0M567 0q69-260 138 0M603 0q111-309 222 0M710 0q166-390 332 0M559 0q106-355 212 0M1098 0q90-303 180 0M802 0q174-428 348 0M371 0q289-674 578 0M828 0q223-438 446 0" fill="none" stroke="#fff" stroke-opacity="0.26" stroke-width="1.6"/>
<path d="M1063 0q133-349 266 0M215 0q67-315 134 0M943 0q70-239 140 0M1023 0q113-294 226 0M497 0q296-656 592 0M757 0q86-289 172 0M691 0q290-550 580 0M331 0q251-633 502 0M515 0q95-346 190 0M447 0q103-403 206 0M696 0q78-303 156 0M400 0q227-522 454 0M377 0q385-603 770 0M178 0q106-367 212 0M299 0q109-359 218 0M431 0q354-603 708 0M389 0q440-644 880 0M239 0q314-687 628 0M852 0q89-275 178 0M879 0q121-443 242 0M183 0q451-846 902 0M128 0q137-425 274 0M466 0q243-565 486 0M637 0q147-421 294 0M488 0q213-467 426 0M721 0q68-268 136 0M1004 0q86-252 172 0M907 0q64-318 128 0M868 0q130-349 260 0M384 0q116-329 232 0M857 0q79-289 158 0M696 0q246-441 492 0M805 0q125-370 250 0M196 0q64-258 128 0M893 0q199-433 398 0M137 0q157-421 314 0M672 0q342-689 684 0M1128 0q69-327 138 0M264 0q181-525 362 0M816 0q262-619 524 0M396 0q79-280 158 0M1148 0q85-376 170 0M330 0q190-442 380 0M251 0q81-350 162 0M424 0q113-298 226 0M590 0q314-647 628 0M582 0q202-505 404 0M550 0q84-335 168 0M324 0q122-303 244 0M646 0q205-510 410 0M860 0q163-470 326 0M137 0q465-612 930 0M227 0q71-234 142 0M577 0q239-522 478 0M510 0q201-436 402 0M861 0q175-499 350 0M256 0q76-260 152 0M413 0q359-582 718 0M233 0q210-571 420 0M287 0q297-615 594 0M710 0q169-441 338 0M749 0q183-476 366 0M512 0q423-572 846 0M288 0q416-686 832 0M178 0q278-535 556 0M240 0q457-663 914 0M757 0q86-336 172 0M549 0q118-327 236 0M479 0q351-563 702 0M668 0q192-391 384 0M193 0q297-651 594 0M310 0q313-515 626 0M147 0q148-332 296 0M499 0q235-578 470 0M1080 0q131-460 262 0M570 0q234-475 468 0M925 0q196-554 392 0M891 0q174-398 348 0M440 0q179-519 358 0M826 0q105-344 210 0M554 0q205-504 410 0M345 0q497-608 994 0M1035 0q92-319 184 0M627 0q202-508 404 0M655 0q102-282 204 0M256 0q167-503 334 0M1032 0q82-359 164 0M410 0q74-245 148 0M375 0q162-439 324 0M855 0q160-474 320 0M657 0q245-429 490 0M146 0q406-807 812 0M333 0q490-651 980 0M269 0q430-590 860 0M546 0q127-337 254 0M394 0q428-661 856 0M1026 0q117-341 234 0M171 0q70-265 140 0M823 0q229-423 458 0M1179 0q73-339 146 0" fill="none" stroke="#fff" stroke-opacity="0.26" stroke-width="1.6"/>
<g filter="url(#blur3)" fill="#fff"><ellipse cx="459.1" cy="-43.8" rx="24.8" ry="68.2" fill-opacity="0.48"/><ellipse cx="775.4" cy="-81" rx="49.6" ry="55.8" fill-opacity="0.44"/><ellipse cx="862.2" cy="-74.8" rx="27.9" ry="49.6" fill-opacity="0.4"/><ellipse cx="552.1" cy="-99.6" rx="31" ry="27.9" fill-opacity="0.28"/><ellipse cx="1172.3" cy="-105.8" rx="31" ry="21.7" fill-opacity="0.2"/><ellipse cx="745.6" cy="-9.7" rx="9.9" ry="24.8" fill-opacity="0.48"/></g>
<path d="M283 0q191-550 382 0M486 0q117-338 234 0M1072 0q7-84 14 0M360 0q6-99 12 0M1182 0q29-213 58 0M1047 0q20-123 40 0" fill="none" stroke="#ee8424" stroke-opacity="0.5" stroke-width="1.3"/>
<path d="M771 0q78-317 156 0M304 0q98-277 196 0M882 0q10-94 20 0M610 0q47-188 94 0M944 0q6-94 12 0" fill="none" stroke="#e63a30" stroke-opacity="0.5" stroke-width="1.3"/>
<path d="M1258 0q17-111 34 0M279 0q59-306 118 0M567 0q12-136 24 0M390 0q170-435 340 0M875 0q10-111 20 0M949 0q54-235 108 0M313 0q100-372 200 0M1187 0q29-204 58 0M548 0q201-461 402 0M579 0q128-460 256 0M407 0q235-529 470 0M884 0q16-158 32 0M374 0q231-509 462 0M938 0q111-328 222 0M759 0q16-161 32 0M229 0q10-119 20 0M694 0q127-411 254 0M788 0q122-303 244 0" fill="none" stroke="#f0602a" stroke-opacity="0.5" stroke-width="1.3"/>
<path d="M623 0q6-65 12 0M1115 0q10-106 20 0M658 0q144-448 288 0M317 0q23-189 46 0M1210 0q35-174 70 0M216 0q233-464 466 0M258 0q78-278 156 0M1131 0q30-168 60 0M1163 0q22-185 44 0M526 0q203-494 406 0" fill="none" stroke="#ee8424" stroke-opacity="0.5" stroke-width="1.3"/>
<path d="M1158 0q26-181 52 0M660 0q10-105 20 0M398 0q101-402 202 0M1068 0q26-142 52 0M620 0q10-131 20 0" fill="none" stroke="#e63a30" stroke-opacity="0.5" stroke-width="1.3"/>
<path d="M900 0q5-93 10 0M537 0q12-99 24 0M268 0q231-592 462 0M287 0q15-157 30 0M795 0q154-361 308 0M362 0q6-83 12 0M430 0q177-383 354 0M966 0q16-160 32 0M428 0q49-232 98 0M363 0q123-309 246 0M1088 0q7-99 14 0M630 0q27-176 54 0M291 0q273-551 546 0M1151 0q8-95 16 0" fill="none" stroke="#f0602a" stroke-opacity="0.5" stroke-width="1.3"/>
<path d="M347 0q11-121 22 0M282 0q45-232 90 0M263 0q24-156 48 0M388 0q14-118 28 0M285 0q76-351 152 0M211 0q79-339 158 0M338 0q39-213 78 0M345 0q8-86 16 0M295 0q8-83 16 0M257 0q12-116 24 0M239 0q42-179 84 0M367 0q29-208 58 0M267 0q10-96 20 0M214 0q53-209 106 0M295 0q8-112 16 0M194 0q37-196 74 0M366 0q13-141 26 0M1192 0q14-127 28 0M936 0q11-95 22 0M1062 0q106-404 212 0M1114 0q26-182 52 0M1105 0q96-329 192 0M1183 0q41-217 82 0M992 0q28-191 56 0M1104 0q81-345 162 0M1178 0q8-88 16 0M941 0q9-82 18 0M1233 0q15-111 30 0M1027 0q23-180 46 0M865 0q59-271 118 0M877 0q80-262 160 0M907 0q101-396 202 0M1155 0q9-107 18 0M1192 0q9-100 18 0M907 0q50-197 100 0M1107 0q19-157 38 0M1002 0q67-253 134 0M1129 0q13-135 26 0M1011 0q76-268 152 0M1202 0q18-150 36 0M930 0q52-282 104 0M1263 0q9-96 18 0M1038 0q58-268 116 0M909 0q106-362 212 0M1069 0q8-78 16 0M915 0q10-108 20 0M1019 0q39-171 78 0M1148 0q22-132 44 0M1017 0q28-171 56 0M986 0q94-283 188 0M892 0q47-241 94 0M1122 0q87-310 174 0M1254 0q10-127 20 0M984 0q71-330 142 0M536 0q85-252 170 0M522 0q40-229 80 0M559 0q14-112 28 0M643 0q39-182 78 0M520 0q48-199 96 0M515 0q20-177 40 0M526 0q55-268 110 0" fill="none" stroke="#ee8424" stroke-opacity="0.5" stroke-width="1.3"/>
<path d="M216 0q89-348 178 0" fill="none" stroke="#8a2c24" stroke-opacity="0.5" stroke-width="1.3"/>
<path d="M1040 0q87-295 174 0M890 0q69-280 138 0M1156 0q26-199 52 0M1152 0q65-297 130 0M1042 0q37-197 74 0M1051 0q19-147 38 0M963 0q8-105 16 0M943 0q68-293 136 0M1178 0q12-112 24 0M959 0q98-287 196 0M902 0q25-185 50 0M903 0q29-198 58 0M1162 0q57-284 114 0M1120 0q67-293 134 0M1058 0q16-161 32 0M1088 0q18-158 36 0M950 0q12-107 24 0M927 0q59-293 118 0M1017 0q61-256 122 0M555 0q21-140 42 0M717 0q8-103 16 0M554 0q26-183 52 0M528 0q73-249 146 0M672 0q12-105 24 0M535 0q95-303 190 0M613 0q22-170 44 0M545 0q88-274 176 0M620 0q23-191 46 0M550 0q51-263 102 0M544 0q78-357 156 0M439 0q91-294 182 0M638 0q14-128 28 0M484 0q14-152 28 0M528 0q44-240 88 0" fill="none" stroke="#f3a02c" stroke-opacity="0.5" stroke-width="1.3"/>
<path d="M211 0q13-145 26 0M281 0q24-169 48 0M291 0q16-155 32 0M243 0q13-126 26 0M274 0q8-78 16 0M330 0q16-115 32 0M211 0q45-273 90 0M283 0q18-157 36 0M317 0q10-85 20 0M296 0q49-256 98 0M370 0q32-178 64 0M205 0q18-138 36 0M220 0q16-145 32 0" fill="none" stroke="#e63a30" stroke-opacity="0.5" stroke-width="1.3"/>
<path d="M316 0q11-134 22 0M393 0q21-141 42 0M217 0q65-274 130 0M313 0q56-267 112 0M371 0q14-130 28 0M413 0q16-151 32 0M209 0q64-317 128 0M268 0q54-207 108 0M384 0q26-174 52 0M229 0q8-80 16 0M402 0q20-166 40 0M295 0q27-162 54 0M293 0q10-102 20 0M350 0q29-196 58 0M196 0q66-290 132 0M351 0q9-119 18 0M304 0q17-129 34 0M253 0q87-340 174 0M205 0q102-319 204 0M234 0q64-227 128 0M286 0q35-222 70 0M399 0q15-136 30 0M321 0q32-177 64 0M908 0q14-146 28 0M1141 0q72-312 144 0M859 0q70-243 140 0M894 0q47-232 94 0M1074 0q27-171 54 0M1039 0q49-234 98 0M1112 0q15-143 30 0M870 0q106-280 212 0M941 0q94-319 188 0M972 0q28-152 56 0M997 0q72-324 144 0M1166 0q22-153 44 0M1107 0q26-148 52 0M929 0q19-127 38 0M1053 0q70-321 140 0M1087 0q15-151 30 0M535 0q31-213 62 0M595 0q9-101 18 0M574 0q21-127 42 0M674 0q20-138 40 0" fill="none" stroke="#f0602a" stroke-opacity="0.5" stroke-width="1.3"/>
<path d="M290 0q47-196 94 0M285 0q56-268 112 0M240 0q71-263 142 0M192 0q78-303 156 0M266 0q88-286 176 0M372 0q14-111 28 0M267 0q41-244 82 0M359 0q11-124 22 0M294 0q49-245 98 0M235 0q53-243 106 0M217 0q23-165 46 0M197 0q101-331 202 0M260 0q29-211 58 0M364 0q11-117 22 0M1040 0q19-165 38 0M1075 0q20-126 40 0M1159 0q68-278 136 0M959 0q107-372 214 0M882 0q22-183 44 0M980 0q88-296 176 0M995 0q33-167 66 0M921 0q103-394 206 0M1038 0q73-313 146 0M1071 0q13-119 26 0M1102 0q22-180 44 0M1104 0q8-79 16 0M973 0q21-184 42 0M1165 0q10-106 20 0M949 0q33-217 66 0M1220 0q10-116 20 0M1240 0q12-104 24 0M1115 0q89-269 178 0M1154 0q11-130 22 0M916 0q17-125 34 0M934 0q35-203 70 0M1057 0q107-287 214 0M852 0q78-254 156 0M919 0q12-97 24 0M1046 0q14-108 28 0M989 0q30-176 60 0M951 0q61-281 122 0M969 0q17-135 34 0M499 0q15-111 30 0M674 0q8-103 16 0M479 0q16-140 32 0M513 0q66-297 132 0M625 0q9-92 18 0M605 0q8-99 16 0M554 0q51-201 102 0M486 0q41-223 82 0M706 0q14-102 28 0M636 0q35-171 70 0M530 0q75-319 150 0M671 0q16-158 32 0M593 0q69-256 138 0M581 0q48-212 96 0M473 0q21-135 42 0M597 0q8-94 16 0M594 0q29-207 58 0M643 0q59-303 118 0M633 0q44-217 88 0M515 0q12-117 24 0" fill="none" stroke="#ee8424" stroke-opacity="0.5" stroke-width="1.3"/>
<path d="M242 0q36-225 72 0M339 0q26-204 52 0" fill="none" stroke="#8a2c24" stroke-opacity="0.5" stroke-width="1.3"/>
<path d="M1206 0q33-176 66 0M899 0q17-122 34 0M884 0q60-310 120 0M1079 0q22-134 44 0M969 0q16-146 32 0M1247 0q11-112 22 0M1036 0q44-261 88 0M997 0q76-260 152 0M1199 0q44-188 88 0M1046 0q20-130 40 0M1143 0q24-158 48 0M1162 0q41-259 82 0M1223 0q10-104 20 0M1025 0q91-311 182 0M1238 0q18-129 36 0M1085 0q31-159 62 0M908 0q77-250 154 0M1054 0q10-104 20 0M852 0q65-323 130 0M686 0q12-112 24 0M685 0q12-100 24 0M572 0q8-103 16 0M431 0q94-385 188 0" fill="none" stroke="#f3a02c" stroke-opacity="0.5" stroke-width="1.3"/>
<path d="M275 0q32-166 64 0M222 0q59-255 118 0M239 0q14-113 28 0M386 0q19-165 38 0M202 0q9-117 18 0M237 0q62-286 124 0M400 0q22-135 44 0M315 0q26-185 52 0M233 0q12-136 24 0M346 0q10-98 20 0M272 0q15-122 30 0M350 0q53-229 106 0M270 0q83-286 166 0M285 0q27-145 54 0" fill="none" stroke="#e63a30" stroke-opacity="0.5" stroke-width="1.3"/>
<path d="M192 0q70-250 140 0M383 0q20-156 40 0M337 0q74-243 148 0M329 0q11-130 22 0M301 0q47-228 94 0M223 0q95-333 190 0M335 0q9-98 18 0M224 0q82-258 164 0M401 0q20-145 40 0M218 0q54-209 108 0M214 0q18-170 36 0M420 0q8-102 16 0M302 0q9-81 18 0M231 0q26-154 52 0M194 0q69-331 138 0M325 0q26-187 52 0M207 0q67-247 134 0M353 0q25-199 50 0M272 0q8-88 16 0M311 0q39-229 78 0M318 0q8-76 16 0M283 0q19-166 38 0M201 0q51-253 102 0M1074 0q21-138 42 0M1126 0q15-122 30 0M852 0q62-244 124 0M979 0q41-227 82 0M1000 0q106-408 212 0M1238 0q25-162 50 0M1266 0q9-111 18 0M902 0q38-167 76 0M1136 0q39-196 78 0M1070 0q64-304 128 0M974 0q36-226 72 0M993 0q82-301 164 0M960 0q93-275 186 0M1136 0q56-295 112 0M1076 0q44-246 88 0M1068 0q11-124 22 0M845 0q82-359 164 0M1254 0q22-144 44 0M1104 0q23-139 46 0M972 0q24-181 48 0M672 0q22-170 44 0M572 0q93-291 186 0M639 0q8-78 16 0M489 0q77-301 154 0" fill="none" stroke="#f0602a" stroke-opacity="0.5" stroke-width="1.3"/>
<path d="M273 0q78-280 156 0M899 0q87-300 174 0M1098 0q25-168 50 0" fill="none" stroke="#8a2c24" stroke-opacity="0.5" stroke-width="1.1"/>
<path d="M800 0q34-192 68 0" fill="none" stroke="#8a2c24" stroke-opacity="0.5" stroke-width="1.2"/>
<path d="M1197 0q40-200 80 0" fill="none" stroke="#e63a30" stroke-opacity="0.5" stroke-width="1.2"/>
<path d="M1259 0q19-104 38 0" fill="none" stroke="#8a2c24" stroke-opacity="0.5" stroke-width="1.3"/>
<path d="M440 0q43-200 86 0" fill="none" stroke="#f0602a" stroke-opacity="0.5" stroke-width="1.4"/>
<path d="M248 0q28-200 56 0" fill="none" stroke="#8a2c24" stroke-opacity="0.5" stroke-width="1.5"/>
</g>
</g>
<rect x="186.5" y="1219.5" width="1115.5" height="144" fill="none" stroke="#000" stroke-width="3.2"/>
<path d="M185 1216.3L1302 1216.3" stroke="#000" stroke-width="1" fill="none" />
<path d="M174 1239.5L186 1239.5" stroke="#000" stroke-width="2.4" fill="none" />
<text x="171" y="1249.5" font-size="28" text-anchor="end" stroke="#000" stroke-width="1.1">40</text>
<path d="M174 1302L186 1302" stroke="#000" stroke-width="2.4" fill="none" />
<text x="171" y="1312" font-size="28" text-anchor="end" stroke="#000" stroke-width="1.1">20</text>
<path d="M174 1364.5L186 1364.5" stroke="#000" stroke-width="2.4" fill="none" />
<text x="171" y="1374.5" font-size="28" text-anchor="end" stroke="#000" stroke-width="1.1">0</text>
<text x="123" y="789.5" font-size="30" text-anchor="end" textLength="46" lengthAdjust="spacingAndGlyphs" stroke="#000" stroke-width="0.5">WT</text>
<text x="128" y="963.5" font-size="30" text-anchor="end" textLength="94.5" lengthAdjust="spacingAndGlyphs" stroke="#000" stroke-width="0.5">R119G</text>
<text x="128" y="1131.5" font-size="30" text-anchor="end" textLength="78" lengthAdjust="spacingAndGlyphs" stroke="#000" stroke-width="0.5">G23R</text>
<text x="34.5" y="1291.5" font-size="30" textLength="94.5" lengthAdjust="spacingAndGlyphs" stroke="#000" stroke-width="0.5">R119G</text>
<text x="34.5" y="1327" font-size="30" textLength="86.5" lengthAdjust="spacingAndGlyphs" stroke="#000" stroke-width="0.5">/G23R</text>
<path d="M292 1364L292 1374" stroke="#000" stroke-width="2.2" fill="none" />
<text x="288" y="1407" font-size="29.5" text-anchor="middle" textLength="81" lengthAdjust="spacingAndGlyphs" stroke="#000" stroke-width="1.1">14200</text>
<path d="M440.5 1364L440.5 1374" stroke="#000" stroke-width="2.2" fill="none" />
<text x="436.5" y="1407" font-size="29.5" text-anchor="middle" textLength="81" lengthAdjust="spacingAndGlyphs" stroke="#000" stroke-width="1.1">14400</text>
<path d="M589 1364L589 1374" stroke="#000" stroke-width="2.2" fill="none" />
<text x="585" y="1407" font-size="29.5" text-anchor="middle" textLength="81" lengthAdjust="spacingAndGlyphs" stroke="#000" stroke-width="1.1">14600</text>
<path d="M739 1364L739 1374" stroke="#000" stroke-width="2.2" fill="none" />
<text x="735" y="1407" font-size="29.5" text-anchor="middle" textLength="81" lengthAdjust="spacingAndGlyphs" stroke="#000" stroke-width="1.1">14800</text>
<path d="M888.4 1364L888.4 1374" stroke="#000" stroke-width="2.2" fill="none" />
<text x="884.4" y="1407" font-size="29.5" text-anchor="middle" textLength="81" lengthAdjust="spacingAndGlyphs" stroke="#000" stroke-width="1.1">15000</text>
<path d="M1037 1364L1037 1374" stroke="#000" stroke-width="2.2" fill="none" />
<text x="1033" y="1407" font-size="29.5" text-anchor="middle" textLength="81" lengthAdjust="spacingAndGlyphs" stroke="#000" stroke-width="1.1">15200</text>
<path d="M1186 1364L1186 1374" stroke="#000" stroke-width="2.2" fill="none" />
<text x="1182" y="1407" font-size="29.5" text-anchor="middle" textLength="81" lengthAdjust="spacingAndGlyphs" stroke="#000" stroke-width="1.1">15400</text>
<text x="139.5" y="1407" font-size="29.5" textLength="66.5" lengthAdjust="spacingAndGlyphs" stroke="#000" stroke-width="1.1">Chr7</text>
</g>
<g>
<text x="1496" y="53" font-size="51" font-weight="bold">d</text>
<text x="1657" y="23" font-size="29" text-anchor="middle" textLength="45.5" lengthAdjust="spacingAndGlyphs" stroke="#000" stroke-width="0.6">WT</text>
<text x="1884" y="23" font-size="29" text-anchor="middle" textLength="94" lengthAdjust="spacingAndGlyphs" stroke="#000" stroke-width="0.6">R119G</text>
<text x="1647.5" y="293.5" font-size="29" text-anchor="middle" textLength="77" lengthAdjust="spacingAndGlyphs" stroke="#000" stroke-width="0.6">G23R</text>
<text x="1881" y="293.5" font-size="29" text-anchor="middle" textLength="182.5" lengthAdjust="spacingAndGlyphs" stroke="#000" stroke-width="0.6">R119G/G23R</text>
<rect x="1549.5" y="40.7" width="210.4" height="207.6" fill="#f5b7be"/>
<g transform="translate(1550 41.2) scale(9.9714 9.8381)">
<path fill="#f5bbc1" d="M0 0h1.04v1.04h-1.04zM3 0h1.04v1.04h-1.04zM4 0h1.04v1.04h-1.04zM5 0h1.04v1.04h-1.04zM8 0h1.04v1.04h-1.04zM13 0h1.04v1.04h-1.04zM16 0h1.04v1.04h-1.04zM17 0h1.04v1.04h-1.04zM16 1h1.04v1.04h-1.04zM0 2h1.04v1.04h-1.04zM3 2h1.04v1.04h-1.04zM7 3h1.04v1.04h-1.04zM0 4h1.04v1.04h-1.04zM18 4h1.04v1.04h-1.04zM1 5h1.04v1.04h-1.04zM12 5h1.04v1.04h-1.04zM12 7h1.04v1.04h-1.04zM20 7h1.04v1.04h-1.04zM14 8h1.04v1.04h-1.04zM15 8h1.04v1.04h-1.04zM18 9h1.04v1.04h-1.04zM6 10h1.04v1.04h-1.04zM18 10h1.04v1.04h-1.04zM16 11h1.04v1.04h-1.04zM1 12h1.04v1.04h-1.04zM4 12h1.04v1.04h-1.04zM14 12h1.04v1.04h-1.04zM12 14h1.04v1.04h-1.04zM17 14h1.04v1.04h-1.04zM18 14h1.04v1.04h-1.04zM7 15h1.04v1.04h-1.04zM8 15h1.04v1.04h-1.04zM18 15h1.04v1.04h-1.04zM19 16h1.04v1.04h-1.04zM11 17h1.04v1.04h-1.04zM16 17h1.04v1.04h-1.04zM10 18h1.04v1.04h-1.04zM13 18h1.04v1.04h-1.04zM16 18h1.04v1.04h-1.04zM17 18h1.04v1.04h-1.04zM13 19h1.04v1.04h-1.04zM11 20h1.04v1.04h-1.04zM16 20h1.04v1.04h-1.04z"/>
<path fill="#f5b6bd" d="M1 0h1.04v1.04h-1.04zM9 0h1.04v1.04h-1.04zM1 1h1.04v1.04h-1.04zM8 1h1.04v1.04h-1.04zM15 1h1.04v1.04h-1.04zM10 3h1.04v1.04h-1.04zM17 3h1.04v1.04h-1.04zM1 4h1.04v1.04h-1.04zM16 5h1.04v1.04h-1.04zM1 6h1.04v1.04h-1.04zM6 6h1.04v1.04h-1.04zM14 7h1.04v1.04h-1.04zM4 8h1.04v1.04h-1.04zM13 9h1.04v1.04h-1.04zM4 10h1.04v1.04h-1.04zM7 10h1.04v1.04h-1.04zM17 10h1.04v1.04h-1.04zM0 11h1.04v1.04h-1.04zM3 11h1.04v1.04h-1.04zM7 11h1.04v1.04h-1.04zM15 11h1.04v1.04h-1.04zM18 11h1.04v1.04h-1.04zM3 12h1.04v1.04h-1.04zM18 12h1.04v1.04h-1.04zM12 13h1.04v1.04h-1.04zM16 13h1.04v1.04h-1.04zM6 14h1.04v1.04h-1.04zM19 14h1.04v1.04h-1.04zM0 15h1.04v1.04h-1.04zM2 15h1.04v1.04h-1.04zM4 15h1.04v1.04h-1.04zM14 15h1.04v1.04h-1.04zM20 15h1.04v1.04h-1.04zM8 16h1.04v1.04h-1.04zM15 16h1.04v1.04h-1.04zM4 17h1.04v1.04h-1.04zM9 17h1.04v1.04h-1.04zM15 17h1.04v1.04h-1.04zM18 17h1.04v1.04h-1.04zM8 18h1.04v1.04h-1.04zM12 18h1.04v1.04h-1.04zM15 18h1.04v1.04h-1.04zM18 18h1.04v1.04h-1.04zM6 20h1.04v1.04h-1.04zM20 20h1.04v1.04h-1.04z"/>
<path fill="#f4adb4" d="M2 0h1.04v1.04h-1.04zM2 2h1.04v1.04h-1.04zM4 2h1.04v1.04h-1.04zM6 2h1.04v1.04h-1.04zM0 3h1.04v1.04h-1.04zM4 5h1.04v1.04h-1.04zM8 5h1.04v1.04h-1.04zM10 5h1.04v1.04h-1.04zM0 6h1.04v1.04h-1.04zM3 6h1.04v1.04h-1.04zM7 6h1.04v1.04h-1.04zM2 7h1.04v1.04h-1.04zM3 7h1.04v1.04h-1.04zM8 7h1.04v1.04h-1.04zM10 7h1.04v1.04h-1.04zM5 8h1.04v1.04h-1.04zM2 9h1.04v1.04h-1.04zM6 9h1.04v1.04h-1.04zM14 9h1.04v1.04h-1.04zM5 10h1.04v1.04h-1.04zM1 11h1.04v1.04h-1.04zM5 11h1.04v1.04h-1.04zM13 11h1.04v1.04h-1.04zM6 12h1.04v1.04h-1.04zM0 13h1.04v1.04h-1.04zM10 13h1.04v1.04h-1.04zM14 13h1.04v1.04h-1.04zM14 14h1.04v1.04h-1.04zM12 15h1.04v1.04h-1.04zM4 16h1.04v1.04h-1.04zM5 16h1.04v1.04h-1.04zM6 17h1.04v1.04h-1.04zM19 17h1.04v1.04h-1.04zM2 18h1.04v1.04h-1.04zM3 18h1.04v1.04h-1.04zM5 18h1.04v1.04h-1.04zM6 18h1.04v1.04h-1.04zM11 18h1.04v1.04h-1.04zM18 19h1.04v1.04h-1.04zM3 20h1.04v1.04h-1.04zM12 20h1.04v1.04h-1.04zM15 20h1.04v1.04h-1.04z"/>
<path fill="#f6c7cd" d="M6 0h1.04v1.04h-1.04zM11 0h1.04v1.04h-1.04zM18 0h1.04v1.04h-1.04zM19 0h1.04v1.04h-1.04zM2 1h1.04v1.04h-1.04zM13 1h1.04v1.04h-1.04zM9 2h1.04v1.04h-1.04zM13 2h1.04v1.04h-1.04zM4 3h1.04v1.04h-1.04zM9 3h1.04v1.04h-1.04zM14 3h1.04v1.04h-1.04zM16 4h1.04v1.04h-1.04zM17 4h1.04v1.04h-1.04zM19 4h1.04v1.04h-1.04zM20 4h1.04v1.04h-1.04zM11 6h1.04v1.04h-1.04zM13 6h1.04v1.04h-1.04zM17 6h1.04v1.04h-1.04zM7 7h1.04v1.04h-1.04zM15 7h1.04v1.04h-1.04zM15 9h1.04v1.04h-1.04zM17 9h1.04v1.04h-1.04zM14 10h1.04v1.04h-1.04zM20 10h1.04v1.04h-1.04zM14 11h1.04v1.04h-1.04zM19 12h1.04v1.04h-1.04zM20 12h1.04v1.04h-1.04zM16 14h1.04v1.04h-1.04zM17 16h1.04v1.04h-1.04zM20 17h1.04v1.04h-1.04z"/>
<path fill="#f8d4d8" d="M7 0h1.04v1.04h-1.04zM20 0h1.04v1.04h-1.04zM7 1h1.04v1.04h-1.04z"/>
<path fill="#f7ced3" d="M10 0h1.04v1.04h-1.04zM12 0h1.04v1.04h-1.04zM19 1h1.04v1.04h-1.04zM14 2h1.04v1.04h-1.04zM17 2h1.04v1.04h-1.04zM19 2h1.04v1.04h-1.04zM13 3h1.04v1.04h-1.04zM19 3h1.04v1.04h-1.04zM15 5h1.04v1.04h-1.04zM19 5h1.04v1.04h-1.04zM15 6h1.04v1.04h-1.04zM19 6h1.04v1.04h-1.04zM17 7h1.04v1.04h-1.04zM16 9h1.04v1.04h-1.04zM19 11h1.04v1.04h-1.04z"/>
<path fill="#f6bfc6" d="M14 0h1.04v1.04h-1.04zM6 1h1.04v1.04h-1.04zM9 1h1.04v1.04h-1.04zM10 1h1.04v1.04h-1.04zM12 1h1.04v1.04h-1.04zM17 1h1.04v1.04h-1.04zM5 2h1.04v1.04h-1.04zM16 2h1.04v1.04h-1.04zM20 2h1.04v1.04h-1.04zM1 3h1.04v1.04h-1.04zM2 3h1.04v1.04h-1.04zM8 3h1.04v1.04h-1.04zM12 3h1.04v1.04h-1.04zM20 3h1.04v1.04h-1.04zM13 4h1.04v1.04h-1.04zM15 4h1.04v1.04h-1.04zM2 5h1.04v1.04h-1.04zM5 5h1.04v1.04h-1.04zM18 5h1.04v1.04h-1.04zM20 5h1.04v1.04h-1.04zM5 6h1.04v1.04h-1.04zM5 7h1.04v1.04h-1.04zM13 7h1.04v1.04h-1.04zM19 7h1.04v1.04h-1.04zM13 8h1.04v1.04h-1.04zM17 8h1.04v1.04h-1.04zM20 8h1.04v1.04h-1.04zM5 9h1.04v1.04h-1.04zM13 10h1.04v1.04h-1.04zM15 10h1.04v1.04h-1.04zM5 12h1.04v1.04h-1.04zM17 12h1.04v1.04h-1.04zM8 13h1.04v1.04h-1.04zM11 13h1.04v1.04h-1.04zM15 13h1.04v1.04h-1.04zM20 13h1.04v1.04h-1.04zM15 14h1.04v1.04h-1.04zM20 14h1.04v1.04h-1.04zM13 16h1.04v1.04h-1.04zM20 16h1.04v1.04h-1.04zM17 17h1.04v1.04h-1.04zM16 19h1.04v1.04h-1.04zM17 19h1.04v1.04h-1.04zM19 19h1.04v1.04h-1.04z"/>
<path fill="#f7d1d6" d="M15 0h1.04v1.04h-1.04zM20 1h1.04v1.04h-1.04zM18 2h1.04v1.04h-1.04z"/>
<path fill="#f6c4ca" d="M0 1h1.04v1.04h-1.04zM3 1h1.04v1.04h-1.04zM4 1h1.04v1.04h-1.04zM11 1h1.04v1.04h-1.04zM18 1h1.04v1.04h-1.04zM1 2h1.04v1.04h-1.04zM11 2h1.04v1.04h-1.04zM15 2h1.04v1.04h-1.04zM3 3h1.04v1.04h-1.04zM6 3h1.04v1.04h-1.04zM4 4h1.04v1.04h-1.04zM6 4h1.04v1.04h-1.04zM7 4h1.04v1.04h-1.04zM9 4h1.04v1.04h-1.04zM10 4h1.04v1.04h-1.04zM6 5h1.04v1.04h-1.04zM9 5h1.04v1.04h-1.04zM13 5h1.04v1.04h-1.04zM4 6h1.04v1.04h-1.04zM9 6h1.04v1.04h-1.04zM14 6h1.04v1.04h-1.04zM18 6h1.04v1.04h-1.04zM18 7h1.04v1.04h-1.04zM7 9h1.04v1.04h-1.04zM17 11h1.04v1.04h-1.04zM13 12h1.04v1.04h-1.04zM15 12h1.04v1.04h-1.04zM16 15h1.04v1.04h-1.04zM17 15h1.04v1.04h-1.04zM19 15h1.04v1.04h-1.04zM19 18h1.04v1.04h-1.04zM20 18h1.04v1.04h-1.04zM20 19h1.04v1.04h-1.04zM17 20h1.04v1.04h-1.04zM18 20h1.04v1.04h-1.04zM19 20h1.04v1.04h-1.04z"/>
<path fill="#f7cad0" d="M5 1h1.04v1.04h-1.04zM14 1h1.04v1.04h-1.04zM8 2h1.04v1.04h-1.04zM11 3h1.04v1.04h-1.04zM15 3h1.04v1.04h-1.04zM16 3h1.04v1.04h-1.04zM11 4h1.04v1.04h-1.04zM12 4h1.04v1.04h-1.04zM14 4h1.04v1.04h-1.04zM14 5h1.04v1.04h-1.04zM17 5h1.04v1.04h-1.04zM12 6h1.04v1.04h-1.04zM16 6h1.04v1.04h-1.04zM20 6h1.04v1.04h-1.04zM11 7h1.04v1.04h-1.04zM16 8h1.04v1.04h-1.04zM19 9h1.04v1.04h-1.04zM20 9h1.04v1.04h-1.04zM20 11h1.04v1.04h-1.04zM16 12h1.04v1.04h-1.04z"/>
<path fill="#f5b2b8" d="M7 2h1.04v1.04h-1.04zM10 2h1.04v1.04h-1.04zM12 2h1.04v1.04h-1.04zM5 3h1.04v1.04h-1.04zM3 4h1.04v1.04h-1.04zM8 4h1.04v1.04h-1.04zM7 5h1.04v1.04h-1.04zM11 5h1.04v1.04h-1.04zM4 7h1.04v1.04h-1.04zM9 7h1.04v1.04h-1.04zM16 7h1.04v1.04h-1.04zM18 8h1.04v1.04h-1.04zM0 9h1.04v1.04h-1.04zM3 9h1.04v1.04h-1.04zM2 10h1.04v1.04h-1.04zM16 10h1.04v1.04h-1.04zM19 10h1.04v1.04h-1.04zM2 11h1.04v1.04h-1.04zM4 11h1.04v1.04h-1.04zM6 11h1.04v1.04h-1.04zM7 12h1.04v1.04h-1.04zM5 13h1.04v1.04h-1.04zM17 13h1.04v1.04h-1.04zM18 13h1.04v1.04h-1.04zM19 13h1.04v1.04h-1.04zM1 14h1.04v1.04h-1.04zM10 14h1.04v1.04h-1.04zM5 15h1.04v1.04h-1.04zM9 15h1.04v1.04h-1.04zM11 16h1.04v1.04h-1.04zM12 16h1.04v1.04h-1.04zM14 16h1.04v1.04h-1.04zM16 16h1.04v1.04h-1.04zM10 17h1.04v1.04h-1.04zM12 17h1.04v1.04h-1.04zM1 18h1.04v1.04h-1.04zM14 18h1.04v1.04h-1.04zM6 19h1.04v1.04h-1.04zM10 19h1.04v1.04h-1.04zM11 19h1.04v1.04h-1.04zM7 20h1.04v1.04h-1.04zM14 20h1.04v1.04h-1.04z"/>
<path fill="#f8d7db" d="M18 3h1.04v1.04h-1.04z"/>
<path fill="#f4a8b0" d="M2 4h1.04v1.04h-1.04zM5 4h1.04v1.04h-1.04zM3 5h1.04v1.04h-1.04zM1 8h1.04v1.04h-1.04zM2 8h1.04v1.04h-1.04zM6 8h1.04v1.04h-1.04zM7 8h1.04v1.04h-1.04zM1 10h1.04v1.04h-1.04zM0 12h1.04v1.04h-1.04zM2 13h1.04v1.04h-1.04zM3 13h1.04v1.04h-1.04zM4 14h1.04v1.04h-1.04zM11 14h1.04v1.04h-1.04zM13 14h1.04v1.04h-1.04zM10 15h1.04v1.04h-1.04zM11 15h1.04v1.04h-1.04zM15 15h1.04v1.04h-1.04zM18 16h1.04v1.04h-1.04zM5 17h1.04v1.04h-1.04zM13 17h1.04v1.04h-1.04zM14 17h1.04v1.04h-1.04zM4 20h1.04v1.04h-1.04zM13 20h1.04v1.04h-1.04z"/>
<path fill="#f4a4ab" d="M0 5h1.04v1.04h-1.04zM0 8h1.04v1.04h-1.04zM3 8h1.04v1.04h-1.04zM1 9h1.04v1.04h-1.04zM4 9h1.04v1.04h-1.04zM3 10h1.04v1.04h-1.04zM1 13h1.04v1.04h-1.04zM4 13h1.04v1.04h-1.04zM6 13h1.04v1.04h-1.04zM7 13h1.04v1.04h-1.04zM9 13h1.04v1.04h-1.04zM5 14h1.04v1.04h-1.04zM7 14h1.04v1.04h-1.04zM6 15h1.04v1.04h-1.04zM13 15h1.04v1.04h-1.04zM1 16h1.04v1.04h-1.04zM3 16h1.04v1.04h-1.04zM1 17h1.04v1.04h-1.04zM2 17h1.04v1.04h-1.04zM7 18h1.04v1.04h-1.04zM9 18h1.04v1.04h-1.04zM2 19h1.04v1.04h-1.04zM15 19h1.04v1.04h-1.04zM1 20h1.04v1.04h-1.04zM8 20h1.04v1.04h-1.04z"/>
<path fill="#f3969e" d="M2 6h1.04v1.04h-1.04zM1 7h1.04v1.04h-1.04zM6 7h1.04v1.04h-1.04zM13 13h1.04v1.04h-1.04zM0 20h1.04v1.04h-1.04zM2 20h1.04v1.04h-1.04z"/>
<path fill="#f39ba2" d="M8 6h1.04v1.04h-1.04zM0 7h1.04v1.04h-1.04zM1 15h1.04v1.04h-1.04zM2 16h1.04v1.04h-1.04zM0 17h1.04v1.04h-1.04zM7 17h1.04v1.04h-1.04zM0 18h1.04v1.04h-1.04zM0 19h1.04v1.04h-1.04zM3 19h1.04v1.04h-1.04zM5 19h1.04v1.04h-1.04zM9 20h1.04v1.04h-1.04zM10 20h1.04v1.04h-1.04z"/>
<path fill="#f49fa7" d="M10 6h1.04v1.04h-1.04zM0 10h1.04v1.04h-1.04zM2 12h1.04v1.04h-1.04zM0 14h1.04v1.04h-1.04zM2 14h1.04v1.04h-1.04zM3 14h1.04v1.04h-1.04zM8 14h1.04v1.04h-1.04zM9 14h1.04v1.04h-1.04zM3 15h1.04v1.04h-1.04zM0 16h1.04v1.04h-1.04zM6 16h1.04v1.04h-1.04zM7 16h1.04v1.04h-1.04zM10 16h1.04v1.04h-1.04zM3 17h1.04v1.04h-1.04zM8 17h1.04v1.04h-1.04zM4 18h1.04v1.04h-1.04zM1 19h1.04v1.04h-1.04zM4 19h1.04v1.04h-1.04zM7 19h1.04v1.04h-1.04zM8 19h1.04v1.04h-1.04zM9 19h1.04v1.04h-1.04zM12 19h1.04v1.04h-1.04zM14 19h1.04v1.04h-1.04zM5 20h1.04v1.04h-1.04z"/>
<path fill="#f8565c" d="M8 8h1.04v1.04h-1.04zM10 9h1.04v1.04h-1.04zM11 9h1.04v1.04h-1.04z"/>
<path fill="#f66d75" d="M9 8h1.04v1.04h-1.04zM10 8h1.04v1.04h-1.04zM11 10h1.04v1.04h-1.04zM11 11h1.04v1.04h-1.04z"/>
<path fill="#f7626a" d="M11 8h1.04v1.04h-1.04zM12 8h1.04v1.04h-1.04zM8 10h1.04v1.04h-1.04z"/>
<path fill="#f57981" d="M19 8h1.04v1.04h-1.04z"/>
<path fill="#f75c64" d="M8 9h1.04v1.04h-1.04zM8 11h1.04v1.04h-1.04z"/>
<path fill="#fd2f2c" d="M9 9h1.04v1.04h-1.04z"/>
<path fill="#f94f54" d="M12 9h1.04v1.04h-1.04zM9 10h1.04v1.04h-1.04zM10 10h1.04v1.04h-1.04zM9 11h1.04v1.04h-1.04zM11 12h1.04v1.04h-1.04z"/>
<path fill="#fb3c3c" d="M12 10h1.04v1.04h-1.04zM12 12h1.04v1.04h-1.04z"/>
<path fill="#f66870" d="M10 11h1.04v1.04h-1.04z"/>
<path fill="#fa4244" d="M12 11h1.04v1.04h-1.04zM9 12h1.04v1.04h-1.04z"/>
<path fill="#ff1c14" d="M8 12h1.04v1.04h-1.04zM10 12h1.04v1.04h-1.04z"/>
<path fill="#f48a92" d="M9 16h1.04v1.04h-1.04z"/>
</g>
<path d="M1550 100H1609.2V41.2M1759.4 100H1699.3V41.2M1550 190.6H1609.2V247.8M1759.4 190.6H1699.3V247.8" fill="none" stroke="#3a2a2c" stroke-width="0.9"/>
<text x="1580.1" y="72.2" font-size="5.6" text-anchor="middle" fill="#222">2.012</text>
<text x="1729.8" y="72.2" font-size="5.6" text-anchor="middle" fill="#222">3.650</text>
<text x="1580.1" y="222.4" font-size="5.6" text-anchor="middle" fill="#222">2.707</text>
<text x="1729.8" y="222.4" font-size="5.6" text-anchor="middle" fill="#222">2.032</text>
<rect x="1548.3" y="39.5" width="212.8" height="210" fill="none" stroke="#000" stroke-width="3.8"/>
<rect x="1779.2" y="40.7" width="210.4" height="207.6" fill="#f5aeb5"/>
<g transform="translate(1779.7 41.2) scale(9.9714 9.8381)">
<path fill="#f49fa7" d="M0 0h1.04v1.04h-1.04zM1 2h1.04v1.04h-1.04zM5 3h1.04v1.04h-1.04zM2 4h1.04v1.04h-1.04zM0 5h1.04v1.04h-1.04zM3 7h1.04v1.04h-1.04zM9 7h1.04v1.04h-1.04zM0 8h1.04v1.04h-1.04zM9 8h1.04v1.04h-1.04zM0 10h1.04v1.04h-1.04zM0 11h1.04v1.04h-1.04zM2 11h1.04v1.04h-1.04zM7 11h1.04v1.04h-1.04zM11 11h1.04v1.04h-1.04zM16 11h1.04v1.04h-1.04zM13 13h1.04v1.04h-1.04zM16 13h1.04v1.04h-1.04zM4 14h1.04v1.04h-1.04zM11 14h1.04v1.04h-1.04zM12 14h1.04v1.04h-1.04zM1 15h1.04v1.04h-1.04zM5 15h1.04v1.04h-1.04zM3 16h1.04v1.04h-1.04zM4 16h1.04v1.04h-1.04zM15 16h1.04v1.04h-1.04zM1 17h1.04v1.04h-1.04zM11 17h1.04v1.04h-1.04zM14 17h1.04v1.04h-1.04zM2 18h1.04v1.04h-1.04zM13 18h1.04v1.04h-1.04zM15 18h1.04v1.04h-1.04zM16 18h1.04v1.04h-1.04zM2 19h1.04v1.04h-1.04zM12 19h1.04v1.04h-1.04zM17 19h1.04v1.04h-1.04zM10 20h1.04v1.04h-1.04z"/>
<path fill="#f5bbc1" d="M1 0h1.04v1.04h-1.04zM15 0h1.04v1.04h-1.04zM16 1h1.04v1.04h-1.04zM0 2h1.04v1.04h-1.04zM7 2h1.04v1.04h-1.04zM8 2h1.04v1.04h-1.04zM12 2h1.04v1.04h-1.04zM14 2h1.04v1.04h-1.04zM4 3h1.04v1.04h-1.04zM6 3h1.04v1.04h-1.04zM10 3h1.04v1.04h-1.04zM13 3h1.04v1.04h-1.04zM15 3h1.04v1.04h-1.04zM12 5h1.04v1.04h-1.04zM18 6h1.04v1.04h-1.04zM15 7h1.04v1.04h-1.04zM18 7h1.04v1.04h-1.04zM18 9h1.04v1.04h-1.04zM19 9h1.04v1.04h-1.04zM19 10h1.04v1.04h-1.04zM19 11h1.04v1.04h-1.04zM20 12h1.04v1.04h-1.04zM17 15h1.04v1.04h-1.04zM19 15h1.04v1.04h-1.04zM20 16h1.04v1.04h-1.04zM18 18h1.04v1.04h-1.04zM20 18h1.04v1.04h-1.04zM18 19h1.04v1.04h-1.04zM20 19h1.04v1.04h-1.04zM19 20h1.04v1.04h-1.04z"/>
<path fill="#f6bfc6" d="M2 0h1.04v1.04h-1.04zM4 0h1.04v1.04h-1.04zM7 0h1.04v1.04h-1.04zM12 0h1.04v1.04h-1.04zM14 0h1.04v1.04h-1.04zM18 0h1.04v1.04h-1.04zM9 1h1.04v1.04h-1.04zM14 1h1.04v1.04h-1.04zM10 2h1.04v1.04h-1.04zM13 2h1.04v1.04h-1.04zM11 3h1.04v1.04h-1.04zM17 3h1.04v1.04h-1.04zM20 3h1.04v1.04h-1.04zM18 4h1.04v1.04h-1.04zM14 5h1.04v1.04h-1.04zM15 5h1.04v1.04h-1.04zM17 6h1.04v1.04h-1.04zM16 8h1.04v1.04h-1.04zM18 8h1.04v1.04h-1.04zM20 8h1.04v1.04h-1.04zM20 10h1.04v1.04h-1.04zM19 12h1.04v1.04h-1.04zM19 14h1.04v1.04h-1.04zM19 16h1.04v1.04h-1.04zM20 17h1.04v1.04h-1.04z"/>
<path fill="#f4a4ab" d="M3 0h1.04v1.04h-1.04zM1 1h1.04v1.04h-1.04zM3 1h1.04v1.04h-1.04zM5 1h1.04v1.04h-1.04zM6 2h1.04v1.04h-1.04zM7 4h1.04v1.04h-1.04zM9 4h1.04v1.04h-1.04zM3 6h1.04v1.04h-1.04zM7 6h1.04v1.04h-1.04zM12 6h1.04v1.04h-1.04zM14 6h1.04v1.04h-1.04zM14 8h1.04v1.04h-1.04zM7 9h1.04v1.04h-1.04zM16 9h1.04v1.04h-1.04zM13 11h1.04v1.04h-1.04zM13 12h1.04v1.04h-1.04zM12 13h1.04v1.04h-1.04zM15 13h1.04v1.04h-1.04zM2 15h1.04v1.04h-1.04zM9 15h1.04v1.04h-1.04zM6 16h1.04v1.04h-1.04zM7 16h1.04v1.04h-1.04zM8 16h1.04v1.04h-1.04zM17 16h1.04v1.04h-1.04zM8 17h1.04v1.04h-1.04zM12 17h1.04v1.04h-1.04zM7 18h1.04v1.04h-1.04zM10 18h1.04v1.04h-1.04zM11 20h1.04v1.04h-1.04zM17 20h1.04v1.04h-1.04z"/>
<path fill="#f6c4ca" d="M5 0h1.04v1.04h-1.04zM9 0h1.04v1.04h-1.04zM11 0h1.04v1.04h-1.04zM16 0h1.04v1.04h-1.04zM11 1h1.04v1.04h-1.04zM17 1h1.04v1.04h-1.04zM15 2h1.04v1.04h-1.04zM17 4h1.04v1.04h-1.04zM20 6h1.04v1.04h-1.04zM19 7h1.04v1.04h-1.04zM18 10h1.04v1.04h-1.04zM18 11h1.04v1.04h-1.04zM20 13h1.04v1.04h-1.04z"/>
<path fill="#f3969e" d="M6 0h1.04v1.04h-1.04zM0 6h1.04v1.04h-1.04zM5 7h1.04v1.04h-1.04zM11 7h1.04v1.04h-1.04zM6 8h1.04v1.04h-1.04zM3 10h1.04v1.04h-1.04zM17 10h1.04v1.04h-1.04zM6 11h1.04v1.04h-1.04zM0 12h1.04v1.04h-1.04zM6 12h1.04v1.04h-1.04zM4 13h1.04v1.04h-1.04zM9 13h1.04v1.04h-1.04zM10 13h1.04v1.04h-1.04zM14 13h1.04v1.04h-1.04zM2 14h1.04v1.04h-1.04zM5 14h1.04v1.04h-1.04zM8 14h1.04v1.04h-1.04zM7 15h1.04v1.04h-1.04zM4 17h1.04v1.04h-1.04zM7 17h1.04v1.04h-1.04zM0 18h1.04v1.04h-1.04zM6 18h1.04v1.04h-1.04zM11 18h1.04v1.04h-1.04zM12 18h1.04v1.04h-1.04zM0 19h1.04v1.04h-1.04zM0 20h1.04v1.04h-1.04zM7 20h1.04v1.04h-1.04z"/>
<path fill="#f4adb4" d="M8 0h1.04v1.04h-1.04zM10 0h1.04v1.04h-1.04zM2 1h1.04v1.04h-1.04zM10 1h1.04v1.04h-1.04zM2 2h1.04v1.04h-1.04zM3 2h1.04v1.04h-1.04zM5 2h1.04v1.04h-1.04zM2 3h1.04v1.04h-1.04zM7 3h1.04v1.04h-1.04zM8 4h1.04v1.04h-1.04zM13 4h1.04v1.04h-1.04zM15 4h1.04v1.04h-1.04zM2 5h1.04v1.04h-1.04zM5 5h1.04v1.04h-1.04zM2 6h1.04v1.04h-1.04zM9 6h1.04v1.04h-1.04zM10 6h1.04v1.04h-1.04zM13 7h1.04v1.04h-1.04zM16 7h1.04v1.04h-1.04zM17 7h1.04v1.04h-1.04zM3 8h1.04v1.04h-1.04zM13 9h1.04v1.04h-1.04zM15 9h1.04v1.04h-1.04zM14 11h1.04v1.04h-1.04zM18 12h1.04v1.04h-1.04zM19 13h1.04v1.04h-1.04zM13 14h1.04v1.04h-1.04zM13 15h1.04v1.04h-1.04zM16 17h1.04v1.04h-1.04zM18 17h1.04v1.04h-1.04zM14 18h1.04v1.04h-1.04zM15 19h1.04v1.04h-1.04zM12 20h1.04v1.04h-1.04zM14 20h1.04v1.04h-1.04zM16 20h1.04v1.04h-1.04z"/>
<path fill="#f5b6bd" d="M13 0h1.04v1.04h-1.04zM0 1h1.04v1.04h-1.04zM8 1h1.04v1.04h-1.04zM12 1h1.04v1.04h-1.04zM11 2h1.04v1.04h-1.04zM17 2h1.04v1.04h-1.04zM8 3h1.04v1.04h-1.04zM9 3h1.04v1.04h-1.04zM11 4h1.04v1.04h-1.04zM14 4h1.04v1.04h-1.04zM3 5h1.04v1.04h-1.04zM6 5h1.04v1.04h-1.04zM16 5h1.04v1.04h-1.04zM18 5h1.04v1.04h-1.04zM13 6h1.04v1.04h-1.04zM20 7h1.04v1.04h-1.04zM15 8h1.04v1.04h-1.04zM20 9h1.04v1.04h-1.04zM15 10h1.04v1.04h-1.04zM15 11h1.04v1.04h-1.04zM15 12h1.04v1.04h-1.04zM16 12h1.04v1.04h-1.04zM17 13h1.04v1.04h-1.04zM15 14h1.04v1.04h-1.04zM17 14h1.04v1.04h-1.04zM16 15h1.04v1.04h-1.04zM20 15h1.04v1.04h-1.04zM20 20h1.04v1.04h-1.04z"/>
<path fill="#f8d4d8" d="M17 0h1.04v1.04h-1.04zM19 1h1.04v1.04h-1.04z"/>
<path fill="#f7cad0" d="M19 0h1.04v1.04h-1.04zM20 1h1.04v1.04h-1.04zM18 2h1.04v1.04h-1.04zM19 2h1.04v1.04h-1.04zM16 3h1.04v1.04h-1.04zM19 3h1.04v1.04h-1.04zM19 4h1.04v1.04h-1.04zM20 5h1.04v1.04h-1.04z"/>
<path fill="#f7d1d6" d="M20 0h1.04v1.04h-1.04zM18 1h1.04v1.04h-1.04zM18 3h1.04v1.04h-1.04zM20 4h1.04v1.04h-1.04zM19 5h1.04v1.04h-1.04z"/>
<path fill="#f4a8b0" d="M4 1h1.04v1.04h-1.04zM1 4h1.04v1.04h-1.04zM3 4h1.04v1.04h-1.04zM4 4h1.04v1.04h-1.04zM5 4h1.04v1.04h-1.04zM10 4h1.04v1.04h-1.04zM12 4h1.04v1.04h-1.04zM1 5h1.04v1.04h-1.04zM4 6h1.04v1.04h-1.04zM8 6h1.04v1.04h-1.04zM6 7h1.04v1.04h-1.04zM8 7h1.04v1.04h-1.04zM14 7h1.04v1.04h-1.04zM1 8h1.04v1.04h-1.04zM2 8h1.04v1.04h-1.04zM13 8h1.04v1.04h-1.04zM1 9h1.04v1.04h-1.04zM17 9h1.04v1.04h-1.04zM14 10h1.04v1.04h-1.04zM17 11h1.04v1.04h-1.04zM1 12h1.04v1.04h-1.04zM2 13h1.04v1.04h-1.04zM18 13h1.04v1.04h-1.04zM16 14h1.04v1.04h-1.04zM18 14h1.04v1.04h-1.04zM6 15h1.04v1.04h-1.04zM12 15h1.04v1.04h-1.04zM14 15h1.04v1.04h-1.04zM15 15h1.04v1.04h-1.04zM13 16h1.04v1.04h-1.04zM14 16h1.04v1.04h-1.04zM19 17h1.04v1.04h-1.04zM8 18h1.04v1.04h-1.04zM9 18h1.04v1.04h-1.04zM7 19h1.04v1.04h-1.04zM13 20h1.04v1.04h-1.04z"/>
<path fill="#f5b2b8" d="M6 1h1.04v1.04h-1.04zM7 1h1.04v1.04h-1.04zM13 1h1.04v1.04h-1.04zM4 2h1.04v1.04h-1.04zM9 2h1.04v1.04h-1.04zM3 3h1.04v1.04h-1.04zM14 3h1.04v1.04h-1.04zM7 5h1.04v1.04h-1.04zM8 5h1.04v1.04h-1.04zM10 5h1.04v1.04h-1.04zM11 5h1.04v1.04h-1.04zM13 5h1.04v1.04h-1.04zM17 5h1.04v1.04h-1.04zM1 6h1.04v1.04h-1.04zM11 6h1.04v1.04h-1.04zM15 6h1.04v1.04h-1.04zM0 7h1.04v1.04h-1.04zM2 7h1.04v1.04h-1.04zM14 9h1.04v1.04h-1.04zM16 10h1.04v1.04h-1.04zM20 11h1.04v1.04h-1.04zM14 12h1.04v1.04h-1.04zM17 12h1.04v1.04h-1.04zM20 14h1.04v1.04h-1.04zM18 15h1.04v1.04h-1.04zM16 16h1.04v1.04h-1.04zM18 16h1.04v1.04h-1.04zM17 17h1.04v1.04h-1.04zM17 18h1.04v1.04h-1.04zM19 18h1.04v1.04h-1.04zM13 19h1.04v1.04h-1.04zM14 19h1.04v1.04h-1.04zM19 19h1.04v1.04h-1.04zM18 20h1.04v1.04h-1.04z"/>
<path fill="#f7ced3" d="M15 1h1.04v1.04h-1.04zM16 2h1.04v1.04h-1.04zM20 2h1.04v1.04h-1.04zM16 4h1.04v1.04h-1.04zM19 6h1.04v1.04h-1.04z"/>
<path fill="#f39ba2" d="M0 3h1.04v1.04h-1.04zM1 3h1.04v1.04h-1.04zM0 4h1.04v1.04h-1.04zM6 4h1.04v1.04h-1.04zM4 5h1.04v1.04h-1.04zM9 5h1.04v1.04h-1.04zM5 6h1.04v1.04h-1.04zM6 6h1.04v1.04h-1.04zM1 7h1.04v1.04h-1.04zM7 7h1.04v1.04h-1.04zM5 8h1.04v1.04h-1.04zM10 8h1.04v1.04h-1.04zM2 9h1.04v1.04h-1.04zM4 9h1.04v1.04h-1.04zM5 9h1.04v1.04h-1.04zM7 10h1.04v1.04h-1.04zM3 11h1.04v1.04h-1.04zM10 11h1.04v1.04h-1.04zM5 13h1.04v1.04h-1.04zM6 13h1.04v1.04h-1.04zM6 14h1.04v1.04h-1.04zM14 14h1.04v1.04h-1.04zM3 15h1.04v1.04h-1.04zM11 15h1.04v1.04h-1.04zM10 16h1.04v1.04h-1.04zM12 16h1.04v1.04h-1.04zM15 17h1.04v1.04h-1.04zM4 18h1.04v1.04h-1.04zM4 19h1.04v1.04h-1.04zM10 19h1.04v1.04h-1.04zM16 19h1.04v1.04h-1.04zM3 20h1.04v1.04h-1.04zM8 20h1.04v1.04h-1.04zM15 20h1.04v1.04h-1.04z"/>
<path fill="#f6c7cd" d="M12 3h1.04v1.04h-1.04zM16 6h1.04v1.04h-1.04zM17 8h1.04v1.04h-1.04zM19 8h1.04v1.04h-1.04z"/>
<path fill="#f39098" d="M4 7h1.04v1.04h-1.04zM10 7h1.04v1.04h-1.04zM4 8h1.04v1.04h-1.04zM3 9h1.04v1.04h-1.04zM1 11h1.04v1.04h-1.04zM5 12h1.04v1.04h-1.04zM0 13h1.04v1.04h-1.04zM1 13h1.04v1.04h-1.04zM11 13h1.04v1.04h-1.04zM0 14h1.04v1.04h-1.04zM1 14h1.04v1.04h-1.04zM3 14h1.04v1.04h-1.04zM10 14h1.04v1.04h-1.04zM4 15h1.04v1.04h-1.04zM0 16h1.04v1.04h-1.04zM2 16h1.04v1.04h-1.04zM6 17h1.04v1.04h-1.04zM1 19h1.04v1.04h-1.04zM9 19h1.04v1.04h-1.04zM11 19h1.04v1.04h-1.04zM1 20h1.04v1.04h-1.04zM2 20h1.04v1.04h-1.04zM9 20h1.04v1.04h-1.04z"/>
<path fill="#f48a92" d="M12 7h1.04v1.04h-1.04zM7 8h1.04v1.04h-1.04zM11 8h1.04v1.04h-1.04zM12 8h1.04v1.04h-1.04zM0 9h1.04v1.04h-1.04zM6 9h1.04v1.04h-1.04zM9 9h1.04v1.04h-1.04zM11 9h1.04v1.04h-1.04zM1 10h1.04v1.04h-1.04zM4 10h1.04v1.04h-1.04zM5 10h1.04v1.04h-1.04zM4 11h1.04v1.04h-1.04zM9 11h1.04v1.04h-1.04zM7 13h1.04v1.04h-1.04zM0 15h1.04v1.04h-1.04zM8 15h1.04v1.04h-1.04zM1 16h1.04v1.04h-1.04zM9 16h1.04v1.04h-1.04zM11 16h1.04v1.04h-1.04zM0 17h1.04v1.04h-1.04zM9 17h1.04v1.04h-1.04zM10 17h1.04v1.04h-1.04zM1 18h1.04v1.04h-1.04zM6 19h1.04v1.04h-1.04zM8 19h1.04v1.04h-1.04zM4 20h1.04v1.04h-1.04z"/>
<path fill="#f5737b" d="M8 8h1.04v1.04h-1.04zM8 10h1.04v1.04h-1.04zM11 12h1.04v1.04h-1.04zM6 20h1.04v1.04h-1.04z"/>
<path fill="#f57f87" d="M8 9h1.04v1.04h-1.04zM11 10h1.04v1.04h-1.04zM8 13h1.04v1.04h-1.04zM9 14h1.04v1.04h-1.04zM2 17h1.04v1.04h-1.04zM3 19h1.04v1.04h-1.04z"/>
<path fill="#f4858d" d="M10 9h1.04v1.04h-1.04zM5 11h1.04v1.04h-1.04zM10 12h1.04v1.04h-1.04zM3 13h1.04v1.04h-1.04zM7 14h1.04v1.04h-1.04zM10 15h1.04v1.04h-1.04zM5 16h1.04v1.04h-1.04zM3 17h1.04v1.04h-1.04zM5 17h1.04v1.04h-1.04zM3 18h1.04v1.04h-1.04zM5 18h1.04v1.04h-1.04zM5 19h1.04v1.04h-1.04z"/>
<path fill="#ff1c14" d="M12 9h1.04v1.04h-1.04z"/>
<path fill="#f75c64" d="M2 10h1.04v1.04h-1.04z"/>
<path fill="#f66870" d="M6 10h1.04v1.04h-1.04zM13 10h1.04v1.04h-1.04zM12 11h1.04v1.04h-1.04zM2 12h1.04v1.04h-1.04zM5 20h1.04v1.04h-1.04z"/>
<path fill="#f66d75" d="M9 10h1.04v1.04h-1.04zM10 10h1.04v1.04h-1.04zM8 11h1.04v1.04h-1.04zM12 12h1.04v1.04h-1.04z"/>
<path fill="#fc3634" d="M12 10h1.04v1.04h-1.04z"/>
<path fill="#f57981" d="M3 12h1.04v1.04h-1.04zM4 12h1.04v1.04h-1.04zM13 17h1.04v1.04h-1.04z"/>
<path fill="#f7626a" d="M7 12h1.04v1.04h-1.04zM9 12h1.04v1.04h-1.04z"/>
<path fill="#f8565c" d="M8 12h1.04v1.04h-1.04z"/>
</g>
<path d="M1779.7 99.4H1838.8V41.2M1989.1 99.4H1930.6V41.2M1779.7 188.5H1838.8V247.8M1989.1 188.5H1930.6V247.8" fill="none" stroke="#3a2a2c" stroke-width="0.9"/>
<text x="1809.8" y="71.9" font-size="5.6" text-anchor="middle" fill="#222">2.108</text>
<text x="1960.3" y="71.9" font-size="5.6" text-anchor="middle" fill="#222">2.326</text>
<text x="1809.8" y="221.3" font-size="5.6" text-anchor="middle" fill="#222">1.800</text>
<text x="1960.3" y="221.3" font-size="5.6" text-anchor="middle" fill="#222">2.012</text>
<rect x="1778" y="39.5" width="212.8" height="210" fill="none" stroke="#000" stroke-width="3.8" rx="3"/>
<rect x="1549.5" y="305.7" width="209.8" height="207.6" fill="#f5b7be"/>
<g transform="translate(1550 306.2) scale(9.9429 9.8381)">
<path fill="#f5b6bd" d="M0 0h1.04v1.04h-1.04zM1 0h1.04v1.04h-1.04zM4 0h1.04v1.04h-1.04zM11 0h1.04v1.04h-1.04zM5 1h1.04v1.04h-1.04zM11 1h1.04v1.04h-1.04zM1 3h1.04v1.04h-1.04zM4 4h1.04v1.04h-1.04zM11 4h1.04v1.04h-1.04zM16 4h1.04v1.04h-1.04zM10 5h1.04v1.04h-1.04zM16 5h1.04v1.04h-1.04zM2 6h1.04v1.04h-1.04zM14 6h1.04v1.04h-1.04zM15 6h1.04v1.04h-1.04zM16 6h1.04v1.04h-1.04zM2 7h1.04v1.04h-1.04zM5 7h1.04v1.04h-1.04zM15 7h1.04v1.04h-1.04zM4 8h1.04v1.04h-1.04zM19 8h1.04v1.04h-1.04zM2 9h1.04v1.04h-1.04zM13 9h1.04v1.04h-1.04zM16 9h1.04v1.04h-1.04zM6 10h1.04v1.04h-1.04zM18 10h1.04v1.04h-1.04zM19 10h1.04v1.04h-1.04zM0 11h1.04v1.04h-1.04zM20 11h1.04v1.04h-1.04zM18 12h1.04v1.04h-1.04zM5 13h1.04v1.04h-1.04zM8 13h1.04v1.04h-1.04zM10 13h1.04v1.04h-1.04zM14 13h1.04v1.04h-1.04zM15 13h1.04v1.04h-1.04zM5 14h1.04v1.04h-1.04zM11 14h1.04v1.04h-1.04zM14 14h1.04v1.04h-1.04zM8 15h1.04v1.04h-1.04zM11 15h1.04v1.04h-1.04zM17 15h1.04v1.04h-1.04zM20 15h1.04v1.04h-1.04zM7 16h1.04v1.04h-1.04zM13 16h1.04v1.04h-1.04zM11 17h1.04v1.04h-1.04zM14 17h1.04v1.04h-1.04zM15 18h1.04v1.04h-1.04zM20 18h1.04v1.04h-1.04zM12 19h1.04v1.04h-1.04zM14 19h1.04v1.04h-1.04zM18 19h1.04v1.04h-1.04zM20 19h1.04v1.04h-1.04z"/>
<path fill="#f5b2b8" d="M2 0h1.04v1.04h-1.04zM5 0h1.04v1.04h-1.04zM6 0h1.04v1.04h-1.04zM8 1h1.04v1.04h-1.04zM4 2h1.04v1.04h-1.04zM10 3h1.04v1.04h-1.04zM0 4h1.04v1.04h-1.04zM7 4h1.04v1.04h-1.04zM2 5h1.04v1.04h-1.04zM3 5h1.04v1.04h-1.04zM5 5h1.04v1.04h-1.04zM14 5h1.04v1.04h-1.04zM13 6h1.04v1.04h-1.04zM6 7h1.04v1.04h-1.04zM7 7h1.04v1.04h-1.04zM1 8h1.04v1.04h-1.04zM2 8h1.04v1.04h-1.04zM6 9h1.04v1.04h-1.04zM17 9h1.04v1.04h-1.04zM3 10h1.04v1.04h-1.04zM7 10h1.04v1.04h-1.04zM13 10h1.04v1.04h-1.04zM5 12h1.04v1.04h-1.04zM4 13h1.04v1.04h-1.04zM12 13h1.04v1.04h-1.04zM3 14h1.04v1.04h-1.04zM8 14h1.04v1.04h-1.04zM0 15h1.04v1.04h-1.04zM10 15h1.04v1.04h-1.04zM5 16h1.04v1.04h-1.04zM15 16h1.04v1.04h-1.04zM16 16h1.04v1.04h-1.04zM17 16h1.04v1.04h-1.04zM18 16h1.04v1.04h-1.04zM4 18h1.04v1.04h-1.04zM10 18h1.04v1.04h-1.04zM11 18h1.04v1.04h-1.04zM6 19h1.04v1.04h-1.04zM9 19h1.04v1.04h-1.04zM7 20h1.04v1.04h-1.04z"/>
<path fill="#f6c4ca" d="M3 0h1.04v1.04h-1.04zM10 0h1.04v1.04h-1.04zM1 2h1.04v1.04h-1.04zM14 2h1.04v1.04h-1.04zM19 2h1.04v1.04h-1.04zM4 3h1.04v1.04h-1.04zM9 3h1.04v1.04h-1.04zM13 3h1.04v1.04h-1.04zM14 3h1.04v1.04h-1.04zM18 3h1.04v1.04h-1.04zM8 5h1.04v1.04h-1.04zM20 5h1.04v1.04h-1.04zM6 6h1.04v1.04h-1.04zM7 6h1.04v1.04h-1.04zM11 6h1.04v1.04h-1.04zM12 7h1.04v1.04h-1.04zM17 7h1.04v1.04h-1.04zM15 8h1.04v1.04h-1.04zM15 9h1.04v1.04h-1.04zM20 10h1.04v1.04h-1.04zM14 12h1.04v1.04h-1.04zM17 12h1.04v1.04h-1.04zM17 13h1.04v1.04h-1.04zM18 13h1.04v1.04h-1.04zM19 14h1.04v1.04h-1.04zM18 15h1.04v1.04h-1.04zM19 15h1.04v1.04h-1.04zM18 17h1.04v1.04h-1.04zM19 17h1.04v1.04h-1.04zM16 19h1.04v1.04h-1.04z"/>
<path fill="#f7cad0" d="M7 0h1.04v1.04h-1.04zM20 0h1.04v1.04h-1.04zM7 1h1.04v1.04h-1.04zM10 1h1.04v1.04h-1.04zM14 1h1.04v1.04h-1.04zM18 1h1.04v1.04h-1.04zM8 2h1.04v1.04h-1.04zM12 2h1.04v1.04h-1.04zM16 2h1.04v1.04h-1.04zM18 2h1.04v1.04h-1.04zM12 3h1.04v1.04h-1.04zM19 3h1.04v1.04h-1.04zM18 4h1.04v1.04h-1.04zM16 8h1.04v1.04h-1.04zM20 8h1.04v1.04h-1.04zM19 9h1.04v1.04h-1.04zM19 13h1.04v1.04h-1.04z"/>
<path fill="#f5bbc1" d="M8 0h1.04v1.04h-1.04zM14 0h1.04v1.04h-1.04zM1 1h1.04v1.04h-1.04zM4 1h1.04v1.04h-1.04zM5 2h1.04v1.04h-1.04zM2 3h1.04v1.04h-1.04zM7 3h1.04v1.04h-1.04zM11 3h1.04v1.04h-1.04zM1 4h1.04v1.04h-1.04zM6 4h1.04v1.04h-1.04zM12 4h1.04v1.04h-1.04zM15 4h1.04v1.04h-1.04zM11 5h1.04v1.04h-1.04zM19 5h1.04v1.04h-1.04zM18 6h1.04v1.04h-1.04zM8 7h1.04v1.04h-1.04zM10 7h1.04v1.04h-1.04zM13 7h1.04v1.04h-1.04zM0 8h1.04v1.04h-1.04zM4 10h1.04v1.04h-1.04zM14 11h1.04v1.04h-1.04zM15 11h1.04v1.04h-1.04zM13 12h1.04v1.04h-1.04zM16 12h1.04v1.04h-1.04zM19 12h1.04v1.04h-1.04zM12 14h1.04v1.04h-1.04zM18 14h1.04v1.04h-1.04zM20 14h1.04v1.04h-1.04zM13 15h1.04v1.04h-1.04zM20 16h1.04v1.04h-1.04zM14 18h1.04v1.04h-1.04zM13 19h1.04v1.04h-1.04zM19 20h1.04v1.04h-1.04zM20 20h1.04v1.04h-1.04z"/>
<path fill="#f6bfc6" d="M9 0h1.04v1.04h-1.04zM12 1h1.04v1.04h-1.04zM0 2h1.04v1.04h-1.04zM0 3h1.04v1.04h-1.04zM8 3h1.04v1.04h-1.04zM8 4h1.04v1.04h-1.04zM14 4h1.04v1.04h-1.04zM17 4h1.04v1.04h-1.04zM19 4h1.04v1.04h-1.04zM20 4h1.04v1.04h-1.04zM7 5h1.04v1.04h-1.04zM9 5h1.04v1.04h-1.04zM17 5h1.04v1.04h-1.04zM0 6h1.04v1.04h-1.04zM5 6h1.04v1.04h-1.04zM10 6h1.04v1.04h-1.04zM12 6h1.04v1.04h-1.04zM17 6h1.04v1.04h-1.04zM3 7h1.04v1.04h-1.04zM11 7h1.04v1.04h-1.04zM16 7h1.04v1.04h-1.04zM18 7h1.04v1.04h-1.04zM6 8h1.04v1.04h-1.04zM13 8h1.04v1.04h-1.04zM18 8h1.04v1.04h-1.04zM18 9h1.04v1.04h-1.04zM20 9h1.04v1.04h-1.04zM15 12h1.04v1.04h-1.04zM20 12h1.04v1.04h-1.04zM16 13h1.04v1.04h-1.04zM15 14h1.04v1.04h-1.04zM16 14h1.04v1.04h-1.04zM17 14h1.04v1.04h-1.04zM15 17h1.04v1.04h-1.04zM13 18h1.04v1.04h-1.04zM17 18h1.04v1.04h-1.04zM18 18h1.04v1.04h-1.04z"/>
<path fill="#f6c7cd" d="M12 0h1.04v1.04h-1.04zM13 0h1.04v1.04h-1.04zM15 0h1.04v1.04h-1.04zM6 1h1.04v1.04h-1.04zM9 1h1.04v1.04h-1.04zM2 2h1.04v1.04h-1.04zM6 2h1.04v1.04h-1.04zM7 2h1.04v1.04h-1.04zM9 2h1.04v1.04h-1.04zM11 2h1.04v1.04h-1.04zM15 2h1.04v1.04h-1.04zM6 3h1.04v1.04h-1.04zM17 3h1.04v1.04h-1.04zM5 4h1.04v1.04h-1.04zM9 4h1.04v1.04h-1.04zM10 4h1.04v1.04h-1.04zM13 4h1.04v1.04h-1.04zM12 5h1.04v1.04h-1.04zM13 5h1.04v1.04h-1.04zM18 5h1.04v1.04h-1.04zM14 7h1.04v1.04h-1.04zM15 10h1.04v1.04h-1.04zM16 10h1.04v1.04h-1.04zM17 11h1.04v1.04h-1.04zM18 11h1.04v1.04h-1.04zM19 11h1.04v1.04h-1.04zM16 15h1.04v1.04h-1.04zM20 17h1.04v1.04h-1.04zM19 19h1.04v1.04h-1.04z"/>
<path fill="#f7ced3" d="M16 0h1.04v1.04h-1.04zM18 0h1.04v1.04h-1.04zM13 1h1.04v1.04h-1.04zM15 1h1.04v1.04h-1.04zM16 1h1.04v1.04h-1.04zM10 2h1.04v1.04h-1.04zM13 2h1.04v1.04h-1.04zM17 2h1.04v1.04h-1.04zM20 3h1.04v1.04h-1.04zM15 5h1.04v1.04h-1.04zM19 7h1.04v1.04h-1.04zM20 13h1.04v1.04h-1.04z"/>
<path fill="#f7d1d6" d="M17 0h1.04v1.04h-1.04zM19 1h1.04v1.04h-1.04zM20 1h1.04v1.04h-1.04zM20 2h1.04v1.04h-1.04zM15 3h1.04v1.04h-1.04zM16 3h1.04v1.04h-1.04z"/>
<path fill="#f8d7db" d="M19 0h1.04v1.04h-1.04zM17 1h1.04v1.04h-1.04z"/>
<path fill="#f4adb4" d="M0 1h1.04v1.04h-1.04zM2 1h1.04v1.04h-1.04zM3 1h1.04v1.04h-1.04zM3 2h1.04v1.04h-1.04zM3 3h1.04v1.04h-1.04zM5 3h1.04v1.04h-1.04zM6 5h1.04v1.04h-1.04zM1 7h1.04v1.04h-1.04zM7 8h1.04v1.04h-1.04zM4 9h1.04v1.04h-1.04zM14 9h1.04v1.04h-1.04zM2 10h1.04v1.04h-1.04zM14 10h1.04v1.04h-1.04zM5 11h1.04v1.04h-1.04zM13 11h1.04v1.04h-1.04zM16 11h1.04v1.04h-1.04zM0 12h1.04v1.04h-1.04zM1 13h1.04v1.04h-1.04zM3 13h1.04v1.04h-1.04zM11 13h1.04v1.04h-1.04zM6 14h1.04v1.04h-1.04zM7 14h1.04v1.04h-1.04zM3 15h1.04v1.04h-1.04zM7 15h1.04v1.04h-1.04zM12 15h1.04v1.04h-1.04zM14 15h1.04v1.04h-1.04zM15 15h1.04v1.04h-1.04zM12 16h1.04v1.04h-1.04zM14 16h1.04v1.04h-1.04zM19 16h1.04v1.04h-1.04zM10 17h1.04v1.04h-1.04zM16 17h1.04v1.04h-1.04zM5 18h1.04v1.04h-1.04zM12 18h1.04v1.04h-1.04zM16 18h1.04v1.04h-1.04zM8 19h1.04v1.04h-1.04zM10 19h1.04v1.04h-1.04z"/>
<path fill="#f4a8b0" d="M2 4h1.04v1.04h-1.04zM3 4h1.04v1.04h-1.04zM1 5h1.04v1.04h-1.04zM4 5h1.04v1.04h-1.04zM4 6h1.04v1.04h-1.04zM8 6h1.04v1.04h-1.04zM9 6h1.04v1.04h-1.04zM14 8h1.04v1.04h-1.04zM4 11h1.04v1.04h-1.04zM6 11h1.04v1.04h-1.04zM6 12h1.04v1.04h-1.04zM13 14h1.04v1.04h-1.04zM9 15h1.04v1.04h-1.04zM3 16h1.04v1.04h-1.04zM8 16h1.04v1.04h-1.04zM2 17h1.04v1.04h-1.04zM4 17h1.04v1.04h-1.04zM12 17h1.04v1.04h-1.04zM17 17h1.04v1.04h-1.04zM2 18h1.04v1.04h-1.04zM8 18h1.04v1.04h-1.04zM19 18h1.04v1.04h-1.04zM7 19h1.04v1.04h-1.04zM17 19h1.04v1.04h-1.04zM8 20h1.04v1.04h-1.04zM14 20h1.04v1.04h-1.04zM17 20h1.04v1.04h-1.04zM18 20h1.04v1.04h-1.04z"/>
<path fill="#f4a4ab" d="M0 5h1.04v1.04h-1.04zM1 6h1.04v1.04h-1.04zM3 6h1.04v1.04h-1.04zM5 8h1.04v1.04h-1.04zM3 9h1.04v1.04h-1.04zM5 9h1.04v1.04h-1.04zM5 10h1.04v1.04h-1.04zM2 13h1.04v1.04h-1.04zM13 13h1.04v1.04h-1.04zM0 14h1.04v1.04h-1.04zM10 14h1.04v1.04h-1.04zM1 15h1.04v1.04h-1.04zM2 15h1.04v1.04h-1.04zM6 15h1.04v1.04h-1.04zM6 16h1.04v1.04h-1.04zM9 16h1.04v1.04h-1.04zM11 16h1.04v1.04h-1.04zM9 17h1.04v1.04h-1.04zM13 17h1.04v1.04h-1.04zM6 18h1.04v1.04h-1.04zM9 18h1.04v1.04h-1.04zM4 20h1.04v1.04h-1.04zM6 20h1.04v1.04h-1.04zM11 20h1.04v1.04h-1.04zM15 20h1.04v1.04h-1.04zM16 20h1.04v1.04h-1.04z"/>
<path fill="#f8d4d8" d="M19 6h1.04v1.04h-1.04zM20 6h1.04v1.04h-1.04zM20 7h1.04v1.04h-1.04z"/>
<path fill="#f49fa7" d="M0 7h1.04v1.04h-1.04zM0 9h1.04v1.04h-1.04zM1 10h1.04v1.04h-1.04zM3 11h1.04v1.04h-1.04zM7 11h1.04v1.04h-1.04zM1 12h1.04v1.04h-1.04zM3 12h1.04v1.04h-1.04zM4 12h1.04v1.04h-1.04zM6 13h1.04v1.04h-1.04zM9 13h1.04v1.04h-1.04zM1 14h1.04v1.04h-1.04zM2 14h1.04v1.04h-1.04zM10 16h1.04v1.04h-1.04zM7 18h1.04v1.04h-1.04zM0 19h1.04v1.04h-1.04zM4 19h1.04v1.04h-1.04zM5 19h1.04v1.04h-1.04zM11 19h1.04v1.04h-1.04zM1 20h1.04v1.04h-1.04zM9 20h1.04v1.04h-1.04zM10 20h1.04v1.04h-1.04z"/>
<path fill="#f39098" d="M4 7h1.04v1.04h-1.04zM17 8h1.04v1.04h-1.04zM8 10h1.04v1.04h-1.04zM0 16h1.04v1.04h-1.04zM4 16h1.04v1.04h-1.04zM0 17h1.04v1.04h-1.04zM15 19h1.04v1.04h-1.04zM2 20h1.04v1.04h-1.04zM3 20h1.04v1.04h-1.04z"/>
<path fill="#f57981" d="M9 7h1.04v1.04h-1.04zM10 8h1.04v1.04h-1.04zM8 9h1.04v1.04h-1.04zM12 11h1.04v1.04h-1.04z"/>
<path fill="#f75c64" d="M3 8h1.04v1.04h-1.04zM8 11h1.04v1.04h-1.04z"/>
<path fill="#f48a92" d="M8 8h1.04v1.04h-1.04zM11 8h1.04v1.04h-1.04zM12 8h1.04v1.04h-1.04zM12 9h1.04v1.04h-1.04zM11 10h1.04v1.04h-1.04z"/>
<path fill="#f9494c" d="M9 8h1.04v1.04h-1.04zM11 9h1.04v1.04h-1.04z"/>
<path fill="#f66d75" d="M1 9h1.04v1.04h-1.04zM10 12h1.04v1.04h-1.04zM11 12h1.04v1.04h-1.04z"/>
<path fill="#f4858d" d="M7 9h1.04v1.04h-1.04z"/>
<path fill="#f66870" d="M9 9h1.04v1.04h-1.04zM1 16h1.04v1.04h-1.04z"/>
<path fill="#f5737b" d="M10 9h1.04v1.04h-1.04zM9 11h1.04v1.04h-1.04zM10 11h1.04v1.04h-1.04zM11 11h1.04v1.04h-1.04zM8 12h1.04v1.04h-1.04zM9 12h1.04v1.04h-1.04zM12 12h1.04v1.04h-1.04zM0 20h1.04v1.04h-1.04z"/>
<path fill="#f39ba2" d="M0 10h1.04v1.04h-1.04zM17 10h1.04v1.04h-1.04zM1 11h1.04v1.04h-1.04zM2 11h1.04v1.04h-1.04zM2 12h1.04v1.04h-1.04zM7 12h1.04v1.04h-1.04zM0 13h1.04v1.04h-1.04zM7 13h1.04v1.04h-1.04zM9 14h1.04v1.04h-1.04zM4 15h1.04v1.04h-1.04zM5 15h1.04v1.04h-1.04zM2 16h1.04v1.04h-1.04zM1 17h1.04v1.04h-1.04zM3 17h1.04v1.04h-1.04zM5 17h1.04v1.04h-1.04zM6 17h1.04v1.04h-1.04zM7 17h1.04v1.04h-1.04zM8 17h1.04v1.04h-1.04zM0 18h1.04v1.04h-1.04zM3 18h1.04v1.04h-1.04zM2 19h1.04v1.04h-1.04zM5 20h1.04v1.04h-1.04zM12 20h1.04v1.04h-1.04z"/>
<path fill="#f7626a" d="M9 10h1.04v1.04h-1.04z"/>
<path fill="#f8565c" d="M10 10h1.04v1.04h-1.04z"/>
<path fill="#ff1c14" d="M12 10h1.04v1.04h-1.04z"/>
<path fill="#f3969e" d="M4 14h1.04v1.04h-1.04zM1 18h1.04v1.04h-1.04zM1 19h1.04v1.04h-1.04zM3 19h1.04v1.04h-1.04zM13 20h1.04v1.04h-1.04z"/>
</g>
<path d="M1550 365H1609.2V306.2M1758.8 365H1698.5V306.2M1550 454.3H1609.2V512.8M1758.8 454.3H1698.5V512.8" fill="none" stroke="#3a2a2c" stroke-width="0.9"/>
<text x="1580.1" y="337.2" font-size="5.6" text-anchor="middle" fill="#222">2.619</text>
<text x="1729.2" y="337.2" font-size="5.6" text-anchor="middle" fill="#222">0.290</text>
<text x="1580.1" y="486.8" font-size="5.6" text-anchor="middle" fill="#222">1.823</text>
<text x="1729.2" y="486.8" font-size="5.6" text-anchor="middle" fill="#222">2.627</text>
<rect x="1548.3" y="304.5" width="212.2" height="210" fill="none" stroke="#000" stroke-width="3.8"/>
<rect x="1779.2" y="305.7" width="210.4" height="207.4" fill="#f4a1a9"/>
<g transform="translate(1779.7 306.2) scale(9.9714 9.8286)">
<path fill="#f4a4ab" d="M0 0h1.04v1.04h-1.04zM7 2h1.04v1.04h-1.04zM10 2h1.04v1.04h-1.04zM1 3h1.04v1.04h-1.04zM7 3h1.04v1.04h-1.04zM11 3h1.04v1.04h-1.04zM2 4h1.04v1.04h-1.04zM6 4h1.04v1.04h-1.04zM8 4h1.04v1.04h-1.04zM15 4h1.04v1.04h-1.04zM7 5h1.04v1.04h-1.04zM10 5h1.04v1.04h-1.04zM16 5h1.04v1.04h-1.04zM12 6h1.04v1.04h-1.04zM0 7h1.04v1.04h-1.04zM1 7h1.04v1.04h-1.04zM12 7h1.04v1.04h-1.04zM17 7h1.04v1.04h-1.04zM0 8h1.04v1.04h-1.04zM1 8h1.04v1.04h-1.04zM17 8h1.04v1.04h-1.04zM19 8h1.04v1.04h-1.04zM4 9h1.04v1.04h-1.04zM15 9h1.04v1.04h-1.04zM19 9h1.04v1.04h-1.04zM1 10h1.04v1.04h-1.04zM13 10h1.04v1.04h-1.04zM18 10h1.04v1.04h-1.04zM20 10h1.04v1.04h-1.04zM15 11h1.04v1.04h-1.04zM16 11h1.04v1.04h-1.04zM14 12h1.04v1.04h-1.04zM10 13h1.04v1.04h-1.04zM13 13h1.04v1.04h-1.04zM19 13h1.04v1.04h-1.04zM17 14h1.04v1.04h-1.04zM5 15h1.04v1.04h-1.04zM16 15h1.04v1.04h-1.04zM18 15h1.04v1.04h-1.04zM8 16h1.04v1.04h-1.04zM14 16h1.04v1.04h-1.04zM15 16h1.04v1.04h-1.04zM13 17h1.04v1.04h-1.04zM19 17h1.04v1.04h-1.04zM10 18h1.04v1.04h-1.04zM10 19h1.04v1.04h-1.04z"/>
<path fill="#f49fa7" d="M1 0h1.04v1.04h-1.04zM10 0h1.04v1.04h-1.04zM3 1h1.04v1.04h-1.04zM8 1h1.04v1.04h-1.04zM2 2h1.04v1.04h-1.04zM3 2h1.04v1.04h-1.04zM9 2h1.04v1.04h-1.04zM3 3h1.04v1.04h-1.04zM0 6h1.04v1.04h-1.04zM1 6h1.04v1.04h-1.04zM11 6h1.04v1.04h-1.04zM4 7h1.04v1.04h-1.04zM5 7h1.04v1.04h-1.04zM10 7h1.04v1.04h-1.04zM11 7h1.04v1.04h-1.04zM6 8h1.04v1.04h-1.04zM15 8h1.04v1.04h-1.04zM3 9h1.04v1.04h-1.04zM3 10h1.04v1.04h-1.04zM6 10h1.04v1.04h-1.04zM3 11h1.04v1.04h-1.04zM5 12h1.04v1.04h-1.04zM3 13h1.04v1.04h-1.04zM8 13h1.04v1.04h-1.04zM14 13h1.04v1.04h-1.04zM1 14h1.04v1.04h-1.04zM10 15h1.04v1.04h-1.04zM14 15h1.04v1.04h-1.04zM9 16h1.04v1.04h-1.04zM12 16h1.04v1.04h-1.04zM18 16h1.04v1.04h-1.04zM20 16h1.04v1.04h-1.04zM5 17h1.04v1.04h-1.04zM11 17h1.04v1.04h-1.04zM7 18h1.04v1.04h-1.04zM8 18h1.04v1.04h-1.04zM9 19h1.04v1.04h-1.04zM16 19h1.04v1.04h-1.04zM20 20h1.04v1.04h-1.04z"/>
<path fill="#f3969e" d="M2 0h1.04v1.04h-1.04zM4 1h1.04v1.04h-1.04zM1 5h1.04v1.04h-1.04zM5 5h1.04v1.04h-1.04zM10 6h1.04v1.04h-1.04zM9 7h1.04v1.04h-1.04zM2 8h1.04v1.04h-1.04zM0 9h1.04v1.04h-1.04zM1 9h1.04v1.04h-1.04zM7 10h1.04v1.04h-1.04zM15 10h1.04v1.04h-1.04zM5 11h1.04v1.04h-1.04zM14 11h1.04v1.04h-1.04zM7 12h1.04v1.04h-1.04zM16 14h1.04v1.04h-1.04zM0 15h1.04v1.04h-1.04zM4 15h1.04v1.04h-1.04zM6 15h1.04v1.04h-1.04zM2 16h1.04v1.04h-1.04zM16 16h1.04v1.04h-1.04zM6 17h1.04v1.04h-1.04zM9 17h1.04v1.04h-1.04zM14 17h1.04v1.04h-1.04zM4 18h1.04v1.04h-1.04zM16 18h1.04v1.04h-1.04zM11 19h1.04v1.04h-1.04zM19 19h1.04v1.04h-1.04zM4 20h1.04v1.04h-1.04zM5 20h1.04v1.04h-1.04zM17 20h1.04v1.04h-1.04zM19 20h1.04v1.04h-1.04z"/>
<path fill="#f5b2b8" d="M3 0h1.04v1.04h-1.04zM4 0h1.04v1.04h-1.04zM9 0h1.04v1.04h-1.04zM14 0h1.04v1.04h-1.04zM17 0h1.04v1.04h-1.04zM2 1h1.04v1.04h-1.04zM17 1h1.04v1.04h-1.04zM8 2h1.04v1.04h-1.04zM16 2h1.04v1.04h-1.04zM4 3h1.04v1.04h-1.04zM18 3h1.04v1.04h-1.04zM5 4h1.04v1.04h-1.04zM13 4h1.04v1.04h-1.04zM14 4h1.04v1.04h-1.04zM9 5h1.04v1.04h-1.04zM14 5h1.04v1.04h-1.04zM8 7h1.04v1.04h-1.04zM13 7h1.04v1.04h-1.04zM16 8h1.04v1.04h-1.04zM17 12h1.04v1.04h-1.04zM19 12h1.04v1.04h-1.04zM17 13h1.04v1.04h-1.04zM20 13h1.04v1.04h-1.04zM20 14h1.04v1.04h-1.04zM17 16h1.04v1.04h-1.04zM19 18h1.04v1.04h-1.04zM20 18h1.04v1.04h-1.04zM20 19h1.04v1.04h-1.04z"/>
<path fill="#f5bbc1" d="M5 0h1.04v1.04h-1.04zM6 0h1.04v1.04h-1.04zM8 0h1.04v1.04h-1.04zM12 0h1.04v1.04h-1.04zM13 0h1.04v1.04h-1.04zM18 0h1.04v1.04h-1.04zM5 1h1.04v1.04h-1.04zM9 1h1.04v1.04h-1.04zM10 1h1.04v1.04h-1.04zM11 1h1.04v1.04h-1.04zM15 1h1.04v1.04h-1.04zM19 1h1.04v1.04h-1.04zM13 3h1.04v1.04h-1.04zM12 5h1.04v1.04h-1.04zM20 5h1.04v1.04h-1.04zM14 6h1.04v1.04h-1.04zM18 6h1.04v1.04h-1.04zM20 9h1.04v1.04h-1.04zM16 10h1.04v1.04h-1.04zM18 12h1.04v1.04h-1.04zM19 15h1.04v1.04h-1.04z"/>
<path fill="#f6bfc6" d="M7 0h1.04v1.04h-1.04zM15 0h1.04v1.04h-1.04zM11 2h1.04v1.04h-1.04zM12 2h1.04v1.04h-1.04zM13 2h1.04v1.04h-1.04zM15 3h1.04v1.04h-1.04zM17 3h1.04v1.04h-1.04zM17 4h1.04v1.04h-1.04zM15 5h1.04v1.04h-1.04zM17 5h1.04v1.04h-1.04zM18 5h1.04v1.04h-1.04zM17 10h1.04v1.04h-1.04zM20 11h1.04v1.04h-1.04z"/>
<path fill="#f4adb4" d="M11 0h1.04v1.04h-1.04zM0 1h1.04v1.04h-1.04zM6 1h1.04v1.04h-1.04zM7 1h1.04v1.04h-1.04zM13 1h1.04v1.04h-1.04zM14 1h1.04v1.04h-1.04zM4 2h1.04v1.04h-1.04zM15 2h1.04v1.04h-1.04zM12 3h1.04v1.04h-1.04zM14 3h1.04v1.04h-1.04zM10 4h1.04v1.04h-1.04zM3 5h1.04v1.04h-1.04zM6 5h1.04v1.04h-1.04zM4 6h1.04v1.04h-1.04zM13 6h1.04v1.04h-1.04zM14 8h1.04v1.04h-1.04zM13 9h1.04v1.04h-1.04zM14 10h1.04v1.04h-1.04zM19 10h1.04v1.04h-1.04zM7 11h1.04v1.04h-1.04zM19 11h1.04v1.04h-1.04zM13 12h1.04v1.04h-1.04zM13 14h1.04v1.04h-1.04zM18 14h1.04v1.04h-1.04zM12 15h1.04v1.04h-1.04zM20 15h1.04v1.04h-1.04zM13 16h1.04v1.04h-1.04zM16 17h1.04v1.04h-1.04zM18 17h1.04v1.04h-1.04zM15 18h1.04v1.04h-1.04z"/>
<path fill="#f7cad0" d="M16 0h1.04v1.04h-1.04zM19 0h1.04v1.04h-1.04zM20 4h1.04v1.04h-1.04z"/>
<path fill="#f7ced3" d="M20 0h1.04v1.04h-1.04z"/>
<path fill="#f39098" d="M1 1h1.04v1.04h-1.04zM0 2h1.04v1.04h-1.04zM2 3h1.04v1.04h-1.04zM1 4h1.04v1.04h-1.04zM4 5h1.04v1.04h-1.04zM5 6h1.04v1.04h-1.04zM6 6h1.04v1.04h-1.04zM7 8h1.04v1.04h-1.04zM0 10h1.04v1.04h-1.04zM2 10h1.04v1.04h-1.04zM4 10h1.04v1.04h-1.04zM5 10h1.04v1.04h-1.04zM6 13h1.04v1.04h-1.04zM9 13h1.04v1.04h-1.04zM12 13h1.04v1.04h-1.04zM15 13h1.04v1.04h-1.04zM0 14h1.04v1.04h-1.04zM8 14h1.04v1.04h-1.04zM14 14h1.04v1.04h-1.04zM8 15h1.04v1.04h-1.04zM1 16h1.04v1.04h-1.04zM1 17h1.04v1.04h-1.04zM7 17h1.04v1.04h-1.04zM10 17h1.04v1.04h-1.04zM17 17h1.04v1.04h-1.04zM18 18h1.04v1.04h-1.04zM4 19h1.04v1.04h-1.04zM13 19h1.04v1.04h-1.04zM15 19h1.04v1.04h-1.04zM17 19h1.04v1.04h-1.04zM9 20h1.04v1.04h-1.04z"/>
<path fill="#f6c4ca" d="M12 1h1.04v1.04h-1.04zM19 2h1.04v1.04h-1.04zM16 4h1.04v1.04h-1.04zM17 6h1.04v1.04h-1.04zM20 6h1.04v1.04h-1.04zM18 7h1.04v1.04h-1.04zM20 7h1.04v1.04h-1.04z"/>
<path fill="#f6c7cd" d="M16 1h1.04v1.04h-1.04zM20 1h1.04v1.04h-1.04zM14 2h1.04v1.04h-1.04zM20 2h1.04v1.04h-1.04zM16 3h1.04v1.04h-1.04zM20 3h1.04v1.04h-1.04z"/>
<path fill="#f5b6bd" d="M18 1h1.04v1.04h-1.04zM17 2h1.04v1.04h-1.04zM6 3h1.04v1.04h-1.04zM8 3h1.04v1.04h-1.04zM9 3h1.04v1.04h-1.04zM19 3h1.04v1.04h-1.04zM11 4h1.04v1.04h-1.04zM12 4h1.04v1.04h-1.04zM19 4h1.04v1.04h-1.04zM13 5h1.04v1.04h-1.04zM19 5h1.04v1.04h-1.04zM19 6h1.04v1.04h-1.04zM15 7h1.04v1.04h-1.04zM13 8h1.04v1.04h-1.04zM20 8h1.04v1.04h-1.04zM14 9h1.04v1.04h-1.04zM17 9h1.04v1.04h-1.04zM20 17h1.04v1.04h-1.04z"/>
<path fill="#f39ba2" d="M1 2h1.04v1.04h-1.04zM6 2h1.04v1.04h-1.04zM7 4h1.04v1.04h-1.04zM0 5h1.04v1.04h-1.04zM8 5h1.04v1.04h-1.04zM2 6h1.04v1.04h-1.04zM7 6h1.04v1.04h-1.04zM8 6h1.04v1.04h-1.04zM6 7h1.04v1.04h-1.04zM6 9h1.04v1.04h-1.04zM7 9h1.04v1.04h-1.04zM2 11h1.04v1.04h-1.04zM17 11h1.04v1.04h-1.04zM18 11h1.04v1.04h-1.04zM3 12h1.04v1.04h-1.04zM4 12h1.04v1.04h-1.04zM2 13h1.04v1.04h-1.04zM11 13h1.04v1.04h-1.04zM18 13h1.04v1.04h-1.04zM2 14h1.04v1.04h-1.04zM10 14h1.04v1.04h-1.04zM12 14h1.04v1.04h-1.04zM1 15h1.04v1.04h-1.04zM2 15h1.04v1.04h-1.04zM15 15h1.04v1.04h-1.04zM17 15h1.04v1.04h-1.04zM7 16h1.04v1.04h-1.04zM10 16h1.04v1.04h-1.04zM11 16h1.04v1.04h-1.04zM8 17h1.04v1.04h-1.04zM5 18h1.04v1.04h-1.04zM9 18h1.04v1.04h-1.04zM14 18h1.04v1.04h-1.04zM14 19h1.04v1.04h-1.04zM13 20h1.04v1.04h-1.04z"/>
<path fill="#f4a8b0" d="M5 2h1.04v1.04h-1.04zM18 2h1.04v1.04h-1.04zM0 3h1.04v1.04h-1.04zM5 3h1.04v1.04h-1.04zM10 3h1.04v1.04h-1.04zM4 4h1.04v1.04h-1.04zM9 4h1.04v1.04h-1.04zM18 4h1.04v1.04h-1.04zM11 5h1.04v1.04h-1.04zM9 6h1.04v1.04h-1.04zM15 6h1.04v1.04h-1.04zM16 6h1.04v1.04h-1.04zM2 7h1.04v1.04h-1.04zM3 7h1.04v1.04h-1.04zM7 7h1.04v1.04h-1.04zM14 7h1.04v1.04h-1.04zM16 7h1.04v1.04h-1.04zM19 7h1.04v1.04h-1.04zM5 8h1.04v1.04h-1.04zM18 8h1.04v1.04h-1.04zM16 9h1.04v1.04h-1.04zM18 9h1.04v1.04h-1.04zM6 11h1.04v1.04h-1.04zM13 11h1.04v1.04h-1.04zM15 12h1.04v1.04h-1.04zM16 12h1.04v1.04h-1.04zM20 12h1.04v1.04h-1.04zM16 13h1.04v1.04h-1.04zM15 14h1.04v1.04h-1.04zM19 14h1.04v1.04h-1.04zM13 15h1.04v1.04h-1.04zM19 16h1.04v1.04h-1.04zM12 18h1.04v1.04h-1.04zM17 18h1.04v1.04h-1.04zM18 19h1.04v1.04h-1.04zM18 20h1.04v1.04h-1.04z"/>
<path fill="#f48a92" d="M0 4h1.04v1.04h-1.04zM3 4h1.04v1.04h-1.04zM2 5h1.04v1.04h-1.04zM3 6h1.04v1.04h-1.04zM3 8h1.04v1.04h-1.04zM4 8h1.04v1.04h-1.04zM5 9h1.04v1.04h-1.04zM0 11h1.04v1.04h-1.04zM0 12h1.04v1.04h-1.04zM5 13h1.04v1.04h-1.04zM4 14h1.04v1.04h-1.04zM9 14h1.04v1.04h-1.04zM11 14h1.04v1.04h-1.04zM7 15h1.04v1.04h-1.04zM4 16h1.04v1.04h-1.04zM3 17h1.04v1.04h-1.04zM12 17h1.04v1.04h-1.04zM15 17h1.04v1.04h-1.04zM5 19h1.04v1.04h-1.04zM3 20h1.04v1.04h-1.04zM15 20h1.04v1.04h-1.04zM16 20h1.04v1.04h-1.04z"/>
<path fill="#f9494c" d="M8 8h1.04v1.04h-1.04zM8 11h1.04v1.04h-1.04z"/>
<path fill="#f5737b" d="M9 8h1.04v1.04h-1.04zM10 8h1.04v1.04h-1.04zM12 8h1.04v1.04h-1.04zM10 9h1.04v1.04h-1.04zM8 10h1.04v1.04h-1.04zM11 10h1.04v1.04h-1.04zM12 12h1.04v1.04h-1.04zM1 18h1.04v1.04h-1.04zM0 20h1.04v1.04h-1.04z"/>
<path fill="#f7626a" d="M11 8h1.04v1.04h-1.04zM12 9h1.04v1.04h-1.04zM12 10h1.04v1.04h-1.04zM2 20h1.04v1.04h-1.04z"/>
<path fill="#f4858d" d="M2 9h1.04v1.04h-1.04zM4 11h1.04v1.04h-1.04zM0 13h1.04v1.04h-1.04zM1 13h1.04v1.04h-1.04zM4 13h1.04v1.04h-1.04zM7 13h1.04v1.04h-1.04zM5 14h1.04v1.04h-1.04zM7 14h1.04v1.04h-1.04zM9 15h1.04v1.04h-1.04zM11 15h1.04v1.04h-1.04zM2 18h1.04v1.04h-1.04zM6 18h1.04v1.04h-1.04zM13 18h1.04v1.04h-1.04zM0 19h1.04v1.04h-1.04zM12 19h1.04v1.04h-1.04zM1 20h1.04v1.04h-1.04zM8 20h1.04v1.04h-1.04zM11 20h1.04v1.04h-1.04z"/>
<path fill="#f57981" d="M8 9h1.04v1.04h-1.04zM10 10h1.04v1.04h-1.04zM1 11h1.04v1.04h-1.04zM9 11h1.04v1.04h-1.04zM1 12h1.04v1.04h-1.04zM9 12h1.04v1.04h-1.04zM10 12h1.04v1.04h-1.04zM3 14h1.04v1.04h-1.04zM3 15h1.04v1.04h-1.04zM5 16h1.04v1.04h-1.04zM6 16h1.04v1.04h-1.04zM0 17h1.04v1.04h-1.04zM2 17h1.04v1.04h-1.04zM4 17h1.04v1.04h-1.04zM6 19h1.04v1.04h-1.04zM8 19h1.04v1.04h-1.04z"/>
<path fill="#f66d75" d="M9 9h1.04v1.04h-1.04zM11 9h1.04v1.04h-1.04zM9 10h1.04v1.04h-1.04zM8 12h1.04v1.04h-1.04zM3 16h1.04v1.04h-1.04zM3 18h1.04v1.04h-1.04zM11 18h1.04v1.04h-1.04zM1 19h1.04v1.04h-1.04zM2 19h1.04v1.04h-1.04zM3 19h1.04v1.04h-1.04z"/>
<path fill="#fa4244" d="M10 11h1.04v1.04h-1.04zM2 12h1.04v1.04h-1.04z"/>
<path fill="#f66870" d="M11 11h1.04v1.04h-1.04zM12 11h1.04v1.04h-1.04zM6 14h1.04v1.04h-1.04zM0 18h1.04v1.04h-1.04zM10 20h1.04v1.04h-1.04zM14 20h1.04v1.04h-1.04z"/>
<path fill="#f75c64" d="M6 12h1.04v1.04h-1.04z"/>
<path fill="#fd2924" d="M11 12h1.04v1.04h-1.04z"/>
<path fill="#f57f87" d="M0 16h1.04v1.04h-1.04zM7 19h1.04v1.04h-1.04zM6 20h1.04v1.04h-1.04zM7 20h1.04v1.04h-1.04zM12 20h1.04v1.04h-1.04z"/>
</g>
<path d="M1779.7 361.3H1838.8V306.2M1989.1 361.3H1928.8V306.2M1779.7 451.5H1838.8V512.6M1989.1 451.5H1928.8V512.6" fill="none" stroke="#3a2a2c" stroke-width="0.9"/>
<text x="1809.8" y="335.4" font-size="5.6" text-anchor="middle" fill="#222">1.104</text>
<text x="1959.4" y="335.4" font-size="5.6" text-anchor="middle" fill="#222">2.045</text>
<text x="1809.8" y="485.2" font-size="5.6" text-anchor="middle" fill="#222">1.288</text>
<text x="1959.4" y="485.2" font-size="5.6" text-anchor="middle" fill="#222">2.712</text>
<rect x="1778" y="304.5" width="212.8" height="209.8" fill="none" stroke="#000" stroke-width="3.8" rx="3"/>
</g>
<g>
<text x="1399" y="690.5" font-size="51" font-weight="bold">e</text>
<rect x="1576.7" y="708.6" width="369.4" height="555.2" fill="none" stroke="#000" stroke-width="5.2" rx="1.5"/>
<path d="M1554.1 729.3L1576.7 729.3" stroke="#000" stroke-width="4.6" fill="none" stroke-linecap="round"/>
<text x="1538" y="736.8" font-size="30" text-anchor="end" textLength="57" lengthAdjust="spacingAndGlyphs" stroke="#000" stroke-width="1.1">11.5</text>
<path d="M1554.1 880.1L1576.7 880.1" stroke="#000" stroke-width="4.6" fill="none" stroke-linecap="round"/>
<text x="1538" y="887.6" font-size="30" text-anchor="end" textLength="57" lengthAdjust="spacingAndGlyphs" stroke="#000" stroke-width="1.1">11.0</text>
<path d="M1554.1 1031.6L1576.7 1031.6" stroke="#000" stroke-width="4.6" fill="none" stroke-linecap="round"/>
<text x="1538" y="1039.1" font-size="30" text-anchor="end" textLength="57" lengthAdjust="spacingAndGlyphs" stroke="#000" stroke-width="1.1">10.5</text>
<path d="M1554.1 1182.8L1576.7 1182.8" stroke="#000" stroke-width="4.6" fill="none" stroke-linecap="round"/>
<text x="1538" y="1190.3" font-size="30" text-anchor="end" textLength="57" lengthAdjust="spacingAndGlyphs" stroke="#000" stroke-width="1.1">10.0</text>
<text x="1447" y="952" font-size="30" text-anchor="middle" transform="rotate(-90 1447 952)" textLength="428" lengthAdjust="spacingAndGlyphs" stroke="#000" stroke-width="1.0">Micro-C signal intensity (log2)</text>
<path d="M1647.2 1263.8L1647.2 1286.4" stroke="#000" stroke-width="4.6" fill="none" stroke-linecap="round"/>
<path d="M1760.7 1263.8L1760.7 1286.4" stroke="#000" stroke-width="4.6" fill="none" stroke-linecap="round"/>
<path d="M1874.5 1263.8L1874.5 1286.4" stroke="#000" stroke-width="4.6" fill="none" stroke-linecap="round"/>
<text x="1647.2" y="1333" font-size="30" text-anchor="middle" textLength="38" lengthAdjust="spacingAndGlyphs" stroke="#000" stroke-width="1.1">All</text>
<text x="1760.7" y="1333" font-size="30" text-anchor="middle" textLength="80" lengthAdjust="spacingAndGlyphs" stroke="#000" stroke-width="1.1">Down</text>
<text x="1873.4" y="1327" font-size="30" text-anchor="middle" stroke="#000" stroke-width="1.1">Up</text>
<path d="M1647.4 834.9L1647.4 924.6" stroke="#000" stroke-width="5" fill="none" stroke-dasharray="15 9"/>
<path d="M1647.4 1111.1L1647.4 1201.6" stroke="#000" stroke-width="5" fill="none" stroke-dasharray="15 9" stroke-dashoffset="-4"/>
<path d="M1632.3 834.9L1662.5 834.9" stroke="#000" stroke-width="4.4" fill="none" stroke-linecap="round"/>
<path d="M1632.3 1201.6L1662.5 1201.6" stroke="#000" stroke-width="4.4" fill="none" stroke-linecap="round"/>
<path d="M1618.2 924.6L1676.6 924.6L1676.6 1009.4L1662 1013.1L1676.6 1016.9L1676.6 1111.1L1618.2 1111.1L1618.2 1016.9L1632.8 1013.1L1618.2 1009.4Z" fill="#ecb965" stroke="#000" stroke-width="5" stroke-linejoin="round"/>
<rect x="1633.1" y="1004.5" width="28.6" height="17.3" fill="#000" rx="1.5"/>
<path d="M1760.5 862.4L1760.5 944.9" stroke="#000" stroke-width="5" fill="none" stroke-dasharray="15 9"/>
<path d="M1760.5 1120.2L1760.5 1201.6" stroke="#000" stroke-width="5" fill="none" stroke-dasharray="15 9" stroke-dashoffset="-4"/>
<path d="M1745.4 862.4L1775.6 862.4" stroke="#000" stroke-width="4.4" fill="none" stroke-linecap="round"/>
<path d="M1745.4 1201.6L1775.6 1201.6" stroke="#000" stroke-width="4.4" fill="none" stroke-linecap="round"/>
<path d="M1731.3 944.9L1789.7 944.9L1789.7 1017.7L1775.1 1028.2L1789.7 1038.4L1789.7 1120.2L1731.3 1120.2L1731.3 1038.4L1745.9 1028.2L1731.3 1017.7Z" fill="#86b6ec" stroke="#000" stroke-width="5" stroke-linejoin="round"/>
<rect x="1746.2" y="1019.5" width="28.6" height="17.3" fill="#000" rx="1.5"/>
<path d="M1874.3 787L1874.3 889.1" stroke="#000" stroke-width="5" fill="none" stroke-dasharray="15 9"/>
<path d="M1874.3 1094.2L1874.3 1195.2" stroke="#000" stroke-width="5" fill="none" stroke-dasharray="15 9" stroke-dashoffset="-4"/>
<path d="M1859.2 787L1889.4 787" stroke="#000" stroke-width="4.4" fill="none" stroke-linecap="round"/>
<path d="M1859.2 1195.2L1889.4 1195.2" stroke="#000" stroke-width="4.4" fill="none" stroke-linecap="round"/>
<path d="M1845.1 889.1L1903.5 889.1L1903.5 971.3L1888.9 981.1L1903.5 991.3L1903.5 1094.2L1845.1 1094.2L1845.1 991.3L1859.7 981.1L1845.1 971.3Z" fill="#e8604a" stroke="#000" stroke-width="5" stroke-linejoin="round"/>
<rect x="1860" y="972.4" width="28.6" height="17.3" fill="#000" rx="1.5"/>
<path d="M1663.4 751.2L1901.7 751.2" stroke="#000" stroke-width="3.2" fill="none" />
<text x="1769" y="743.2" font-size="27" text-anchor="middle" stroke="#000" stroke-width="0.5">**</text>
<path d="M1780.3 783.6L1901.7 783.6" stroke="#000" stroke-width="3.2" fill="none" />
<text x="1831.2" y="775.6" font-size="27" text-anchor="middle" stroke="#000" stroke-width="0.5">**</text>
<path d="M1663.4 826.6L1784.8 826.6" stroke="#000" stroke-width="3.2" fill="none" />
<text x="1713.6" y="815.2" font-size="27" text-anchor="middle" stroke="#000" stroke-width="0.5">**</text>
</g>
<g>
<text x="1" y="1517.5" font-size="51" font-weight="bold">f</text>
<text x="412.9" y="1576.4" font-size="29" text-anchor="middle" stroke="#000" stroke-width="0.8">AUC</text>
<path d="M97.6 1592.5L97.6 2036.8" stroke="#000" stroke-width="4.4" fill="none" />
<path d="M86.9 2023.8L731.2 2023.8" stroke="#000" stroke-width="4.4" fill="none" />
<path d="M86.9 1622.9L97.6 1622.9" stroke="#000" stroke-width="4.2" fill="none" />
<text x="78.2" y="1633.9" font-size="30" text-anchor="end" stroke="#000" stroke-width="0.85">55</text>
<path d="M86.9 1702.1L97.6 1702.1" stroke="#000" stroke-width="4.2" fill="none" />
<text x="78.2" y="1713.1" font-size="30" text-anchor="end" stroke="#000" stroke-width="0.85">50</text>
<path d="M86.9 1782.3L97.6 1782.3" stroke="#000" stroke-width="4.2" fill="none" />
<text x="78.2" y="1793.3" font-size="30" text-anchor="end" stroke="#000" stroke-width="0.85">45</text>
<path d="M86.9 1863.9L97.6 1863.9" stroke="#000" stroke-width="4.2" fill="none" />
<text x="78.2" y="1874.9" font-size="30" text-anchor="end" stroke="#000" stroke-width="0.85">40</text>
<path d="M86.9 1944.1L97.6 1944.1" stroke="#000" stroke-width="4.2" fill="none" />
<text x="78.2" y="1955.1" font-size="30" text-anchor="end" stroke="#000" stroke-width="0.85">35</text>
<path d="M86.9 2023.8L97.6 2023.8" stroke="#000" stroke-width="4.2" fill="none" />
<text x="78.2" y="2034.8" font-size="30" text-anchor="end" stroke="#000" stroke-width="0.85">30</text>
<path d="M307.7 2023.8L307.7 2036.8" stroke="#000" stroke-width="4.2" fill="none" />
<path d="M518.2 2023.8L518.2 2036.8" stroke="#000" stroke-width="4.2" fill="none" />
<path d="M729.3 2023.8L729.3 2036.8" stroke="#000" stroke-width="4.2" fill="none" />
<text x="95.6" y="2071.5" font-size="30" text-anchor="middle" stroke="#000" stroke-width="0.85">0</text>
<text x="304.3" y="2071.5" font-size="30" text-anchor="middle" stroke="#000" stroke-width="0.85">0.5</text>
<text x="518.2" y="2073.9" font-size="30" text-anchor="middle" stroke="#000" stroke-width="0.85">1.0</text>
<text x="709" y="2071.5" font-size="30" text-anchor="middle" stroke="#000" stroke-width="0.85">1.5</text>
<text x="425" y="2116.8" font-size="30" text-anchor="middle" stroke="#000" stroke-width="0.8">Input H1/NCP</text>
<text x="35.5" y="1817.1" font-size="30" text-anchor="middle" transform="rotate(-90 35.5 1817.1)" stroke="#000" stroke-width="0.8">S20. W</text>
<path d="M97.6 2010.3C107.1 2008.6 135.8 2004.6 154.6 2000.6C173.3 1996.6 191.4 1991.7 210.1 1986.1C228.8 1980.5 247.8 1974 266.6 1966.8C285.4 1959.5 303.9 1952.3 322.6 1942.6C341.4 1933 360.3 1922.5 379.1 1908.8C398 1895.1 416.9 1880.7 435.6 1860.5C454.4 1840.4 477.7 1808.2 491.7 1788.1C505.7 1768 510.4 1755.5 519.7 1739.8C528.9 1724.1 540 1704.4 547.2 1693.9C554.4 1683.4 557.3 1681.4 562.7 1677C568.1 1672.6 572.7 1670.2 579.6 1667.3C586.4 1664.5 599.7 1661.3 603.7 1660.1" fill="none" stroke="#fb2a26" stroke-width="4.3" stroke-linecap="round"/>
<path d="M97.6 1986.1C107.1 1984.1 135.8 1978.5 154.6 1974C173.3 1969.6 191.4 1964.8 210.1 1959.5C228.8 1954.3 247.8 1949.9 266.6 1942.6C285.4 1935.4 303.9 1925.7 322.6 1916.1C341.4 1906.4 360.3 1898 379.1 1884.7C398 1871.4 416.9 1854.9 435.6 1836.4C454.4 1817.9 477.7 1790.5 491.7 1773.6C505.7 1756.7 510.4 1748.2 519.7 1735C528.9 1721.7 540 1703.6 547.2 1693.9C554.4 1684.2 557.3 1681.6 562.7 1677C568.1 1672.4 572.7 1668.8 579.6 1666.4C586.4 1664 590.7 1663.2 603.7 1662.5C616.8 1661.9 648.8 1662.5 657.8 1662.5" fill="none" stroke="#2418f6" stroke-width="4.3" stroke-linecap="round"/>
<path d="M97.6 1972.6C107.1 1966 135.8 1947.5 154.6 1933C173.3 1918.5 191.4 1900.8 210.1 1885.6C228.8 1870.5 247.8 1855.5 266.6 1842.2C285.4 1828.8 303.9 1817.7 322.6 1805.5C341.4 1793.2 360.3 1780.7 379.1 1768.8C398 1756.9 416.9 1745.4 435.6 1734C454.4 1722.6 473.1 1710.2 491.7 1700.2C510.3 1690.2 532.6 1680.7 547.2 1674.1C561.9 1667.5 574.2 1662.8 579.6 1660.6" fill="none" stroke="#42ee10" stroke-width="4.3" stroke-linecap="round"/>
<path d="M97.6 1969.2C107.1 1962 135.8 1941.4 154.6 1925.7C173.3 1910 191.4 1890.7 210.1 1875C228.8 1859.3 247.8 1844.8 266.6 1831.6C285.4 1818.3 303.9 1807.4 322.6 1795.3C341.4 1783.3 360.3 1770.8 379.1 1759.1C398 1747.4 416.9 1736.6 435.6 1725.3C454.4 1714 473.1 1701.5 491.7 1691.5C510.3 1681.4 529.7 1672.8 547.2 1664.9C564.7 1657 588.3 1647.6 596.5 1644.2" fill="none" stroke="#000" stroke-width="4.3" stroke-linecap="round"/>
<path d="M87.6 2001.8h20l-10 18.5z" fill="#fb2a26"/>
<path d="M144.6 1989.7h20l-10 18.5z" fill="#fb2a26"/>
<path d="M172.1 1992.1h20l-10 18.5z" fill="#fb2a26"/>
<path d="M200.1 1971.8h20l-10 18.5z" fill="#fb2a26"/>
<path d="M256.6 1978.6h20l-10 18.5z" fill="#fb2a26"/>
<path d="M312.6 1905.2h20l-10 18.5z" fill="#fb2a26"/>
<path d="M341.1 1940.4h20l-10 18.5z" fill="#fb2a26"/>
<path d="M425.6 1835.1h20l-10 18.5z" fill="#fb2a26"/>
<path d="M481.7 1827.9h20l-10 18.5z" fill="#fb2a26"/>
<path d="M509.7 1726.5h20l-10 18.5z" fill="#fb2a26"/>
<path d="M593.7 1651.6h20l-10 18.5z" fill="#fb2a26"/>
<path d="M565.7 1664.6h20l-10 18.5z" fill="#fb2a26"/>
<ellipse cx="97.6" cy="1978.9" rx="11" ry="11.5" fill="#000"/>
<ellipse cx="154.6" cy="1928.1" rx="11" ry="11.5" fill="#000"/>
<ellipse cx="210.1" cy="1850.9" rx="11" ry="11.5" fill="#000"/>
<ellipse cx="266.6" cy="1801.1" rx="11" ry="11.5" fill="#000"/>
<ellipse cx="322.6" cy="1786.6" rx="11" ry="11.5" fill="#000"/>
<ellipse cx="379.1" cy="1756.7" rx="11" ry="11.5" fill="#000"/>
<ellipse cx="435.6" cy="1701.1" rx="11" ry="11.5" fill="#000"/>
<ellipse cx="491.7" cy="1728.7" rx="11" ry="11.5" fill="#000"/>
<ellipse cx="547.2" cy="1637.4" rx="11" ry="11.5" fill="#000"/>
<ellipse cx="603.7" cy="1635.9" rx="11" ry="11.5" fill="#000"/>
<path d="M154.6 1918.1l9.5 10l-9.5 10l-9.5 -10z" fill="#42ee10"/>
<path d="M210.1 1825.4l9.5 10l-9.5 10l-9.5 -10z" fill="#42ee10"/>
<path d="M266.6 1809.5l9.5 10l-9.5 10l-9.5 -10z" fill="#42ee10"/>
<path d="M322.6 1784.4l9.5 10l-9.5 10l-9.5 -10z" fill="#42ee10"/>
<path d="M379.1 1780.5l9.5 10l-9.5 10l-9.5 -10z" fill="#42ee10"/>
<path d="M435.6 1762.1l9.5 10l-9.5 10l-9.5 -10z" fill="#42ee10"/>
<path d="M491.7 1676.7l9.5 10l-9.5 10l-9.5 -10z" fill="#42ee10"/>
<path d="M547.2 1627.4l9.5 10l-9.5 10l-9.5 -10z" fill="#42ee10"/>
<rect x="87.9" y="1985.6" width="19.4" height="20.4" fill="#2418f6" rx="1.5"/>
<rect x="144.9" y="1962.9" width="19.4" height="20.4" fill="#2418f6" rx="1.5"/>
<rect x="172.4" y="1965.3" width="19.4" height="20.4" fill="#2418f6" rx="1.5"/>
<rect x="200.4" y="1942.1" width="19.4" height="20.4" fill="#2418f6" rx="1.5"/>
<rect x="256.9" y="1933.4" width="19.4" height="20.4" fill="#2418f6" rx="1.5"/>
<rect x="312.9" y="1889.4" width="19.4" height="20.4" fill="#2418f6" rx="1.5"/>
<rect x="341.4" y="1892.8" width="19.4" height="20.4" fill="#2418f6" rx="1.5"/>
<rect x="369.4" y="1879.3" width="19.4" height="20.4" fill="#2418f6" rx="1.5"/>
<rect x="425.9" y="1823.8" width="19.4" height="20.4" fill="#2418f6" rx="1.5"/>
<rect x="482" y="1818.9" width="19.4" height="20.4" fill="#2418f6" rx="1.5"/>
<rect x="510" y="1713.2" width="19.4" height="20.4" fill="#2418f6" rx="1.5"/>
<rect x="537.5" y="1681.3" width="19.4" height="20.4" fill="#2418f6" rx="1.5"/>
<rect x="552" y="1669.7" width="19.4" height="20.4" fill="#2418f6" rx="1.5"/>
<rect x="566" y="1668.2" width="19.4" height="20.4" fill="#2418f6" rx="1.5"/>
<rect x="580" y="1653.8" width="19.4" height="20.4" fill="#2418f6" rx="1.5"/>
<rect x="594" y="1632" width="19.4" height="20.4" fill="#2418f6" rx="1.5"/>
<rect x="650.5" y="1670.2" width="19.4" height="20.4" fill="#2418f6" rx="1.5"/>
<path d="M595 1817.1L624.5 1817.1" stroke="#2418f6" stroke-width="2.2" fill="none" />
<rect x="604" y="1811.1" width="12" height="12" fill="#2418f6"/>
<path d="M595 1847.5L624.5 1847.5" stroke="#fb2a26" stroke-width="2.2" fill="none" />
<path d="M603.5 1843.5h13l-6.5 11z" fill="#fb2a26"/>
<path d="M595 1883.2L624.5 1883.2" stroke="#42ee10" stroke-width="2.2" fill="none" />
<path d="M610 1876.7l6.5 6.5l-6.5 6.5l-6.5 -6.5z" fill="#42ee10"/>
<path d="M595 1915.1L624.5 1915.1" stroke="#000" stroke-width="2.2" fill="none" />
<circle cx="610" cy="1915.1" r="7" fill="#000"/>
<text x="635.1" y="1825.8" font-size="17.5" font-weight="bold">WT</text>
<text x="635.1" y="1861.5" font-size="17.5" font-weight="bold">H2A-G22R &amp; H2B-K116G</text>
<text x="635.1" y="1890.5" font-size="17.5" font-weight="bold">H2B-K116G</text>
<text x="635.1" y="1922.3" font-size="17.5" font-weight="bold">H2A-G22R</text>
</g>
<g>
<text x="851" y="1518" font-size="51" font-weight="bold">g</text>
<defs><clipPath id="cg1"><rect x="969.7" y="1659.1" width="438.3" height="171.5"/></clipPath><clipPath id="cg2"><rect x="1537.1" y="1656" width="442.3" height="171.5"/></clipPath><clipPath id="cg3"><rect x="968.5" y="2007.9" width="438.9" height="170.3"/></clipPath><clipPath id="cg4"><rect x="1538.4" y="2011.2" width="445" height="172.4"/></clipPath></defs>
<g clip-path="url(#cg1)">
<path d="M970.2 1736l1 15.2 1-13.7 1 7 1 14.4 1-4.9 1 11.2 1-0.2 1-1.7 1-10.1 1 12 1-19 1 22.6 1-3.1 1 2.6 1-17.1 1 8.1 1-11.5 1 0.8 1-7.8 1 5.8 1 4.9 1-5.6 1 3.2 1 4.8 1-17.8 1 3.6 1 0.4 1-5.5 1 12.2 1 0.4 1-1.1 1 0.5 1-3.2 1 27 1-9.1 1-1.6 1 4.9 1 8.3 1-16.9 1 17.6 1-13.7 1 10.5 1 3.2 1-3.5 1 3.1 1-1.9 1-20.8 1-15.9 1 8.7 1-7.3 1 4.4 1-0.6 1-9.5 1 14.1 1-14 1 4.5 1 0.2 1 17 1-2 1 1.3 1-10.9 1-19.5 1-2.7 1-2.6 1 15 1-17.7 1-4.7 1-3.8 1 7.9 1 23.8 1 6.5 1-13.5 1 2.8 1-2.4 1 16.5 1-5.2 1 24.7 1-19.2 1 1.8 1 13.7 1 6.8 1-12 1-3.5 1 8.5 1 7.3 1-5.5 1-13.7 1 18.4 1-21.2 1 17.2 1 1.1 1 2.3 1-21.8 1 2 1 14.6 1 5.6 1-14 1-5.9 1 21.9 1-15.5 1-5.6 1 10 1-2.8 1-5.9 1 14.2 1-0.9 1-9.7 1 2.7 1 0.4 1 5 1-15.2 1-10.5 1-10.1 1 17.8 1 14.8 1 7.2 1-11.6 1-3.6 1-7.1 1 0.7 1-5.6 1-0.7 1-1.9 1-5.5 1-0.3 1-0.3 1 8.1 1-20.9 1 11.9 1 38 1-9.7 1 6.5 1-8.2 1-0.7 1 13.2 1-10.8 1-15.4 1 2.3 1 6.3 1-0.3 1-23.7 1 6.2 1 7.4 1-5.8 1 9.8 1-11.2 1-6.1 1 4.3 1 7.6 1-13.1 1 1.4 1 21.5 1-9 1-1.1 1 4.3 1-8.7 1 11.7 1-9.6 1 3.2 1 25.9 1-15 1 10.7 1-9.3 1-1.3 1-7.1 1 4.5 1 11.5 1-9.8 1 14.6 1-14.2 1 7.4 1 3.8 1 0.7 1 0.5 1-14.5 1 17.5 1-3.4 1 1 1 0.9 1-14.3 1-13 1-20.5 1-24.5 1 8 1 10.3 1-3.8 1-8.2 1-5 1-5.1 1 10.2 1 7.1 1-9.2 1-8.6 1 15.1 1-15 1 0.7 1 8.2 1 2.4 1 8.8 1 0.5 1 15.5 1-10.1 1-14.9 1-12.6 1 9.8 1-9.8 1 14.8 1 6.7 1 1.9 1-5.7 1-6.1 1-11.4 1 17.3 1 5.4 1 23.4 1 23.6 1-4.4 1 10.1 1-17.7 1-1.8 1 4 1-4.6 1 15 1 7.4 1-6.9 1-15 1 10.6 1 6.6 1 1.1 1-0.4 1-7 1-12.3 1 0.9 1 3 1-0.1 1-3.9 1-42.3 1 13.9 1-7.6 1 12.3 1-21.5 1 19.1 1-11.6 1-1.7 1 0.5 1-1 1 24.4 1 3.6 1-0.2 1 11.5 1-5.6 1 6.7 1 20.8 1-15.5 1 14.5 1-14.3 1 7.2 1-12.2 1 20.2 1-22.6 1 22.6 1-0.4 1 1.3 1-3.1 1-21.6 1 3.7 1-2.1 1 18.2 1-12.6 1-2.8 1 1.7 1 11.4 1-17.6 1 6 1 1 1 10 1-2.9 1-9.1 1 6 1 0.7 1-10.9 1 12.4 1-11 1 20.3 1-12.2 1-4.6 1 17.5 1-17.2 1 10.2 1-8.6 1-5.9 1-6.4 1-38.8 1 3.6 1 2.6 1-7.7 1 9.4 1-1 1-16.6 1 16.6 1-11.2 1-8.7 1 10.8 1-9.1 1-0.4 1 16.6 1 2.2 1-17.8 1-2.1 1 0.3 1 3.4 1 5.1 1-11.3 1 5.4 1-0.6 1-3.8 1 21.4 1-17.2 1 3.9 1 14.3 1-6.1 1-11.6 1 4.6 1-0.9 1 6.8 1-7 1-7.9 1-2.6 1 10.7 1-4.5 1 16.1 1-1.4 1-10.5 1-6.7 1 17.7 1-0.7 1-8.9 1 4.8 1 4.1 1-0.5 1-6.7 1-9.3 1 15.5 1-15.9 1 18.3 1-4.1 1 0.7 1 27.7 1-3.1 1 4.2 1-1.9 1-16.4 1 18.2 1-14 1-4.8 1 7.5 1-26.6 1 6.4 1-11.5 1 4.6 1 5.6 1-13.6 1 4.6 1 9.3 1-6.5 1 6.8 1 0 1-16.5 1-1.1 1 20.3 1-19.1 1 5.1 1 17.6 1-2.4 1-8.2 1-11.3 1 0.3 1 15.6 1-4.9 1-12 1 17.9 1 2.6 1-7.8 1-6.7 1-4.8 1-0.1 1 21.7 1-4.1 1 1.2 1-11.7 1 4.8 1-12.9 1 7.7 1 0 1-1.8 1 12.1 1-17.3 1 0.8 1 1 1 1 1 15.3 1 3 1-7.8 1-8.8 1 12.9 1-16.7 1 0.3 1 4 1 5.3 1 8.4 1-16.5 1 15.9 1-8.1 1-6.6 1 3.1 1 10 1-16.1 1 14 1-2.5 1 1.1 1-1.8 1 21.4 1-10.2 1 8.6 1-3 1 16 1 1 1-12.7 1 1.7 1-29.3 1 7.8 1 3.9 1 0.3 1 1.1 1-16 1 15.8 1-19.3L1407.5 1730.7l-1 12.9-1-0.1-1 0.4-1-7.1-1-4.7-1 9.2-1-9.8-1 16.6-1 27.7-1 2-1-15.4-1-6.4-1 6.7-1-10.1-1-0.4-1-9.1-1 1.8-1-8.3-1 2.9-1 6.2-1-7.9-1-2.5-1-0.5-1-1.2-1-4.7-1 8.2-1-6.5-1 14.5-1-16.2-1 7.1-1 5.4-1-8.8-1 11.8-1-4.5-1-8.7-1-0.3-1 4.2-1-0.2-1-5.4-1 5.6-1-4.1-1 0.5-1 8.8-1 3.2-1-0.8-1-5.6-1 0.4-1 7-1-1.9-1-4.9-1 2-1-0.9-1 6.8-1-8.3-1 7.2-1-1.8-1-10.4-1 2.2-1 4.8-1-6.7-1-3.5-1 16.8-1-0.4-1-11-1 5.1-1 3-1-7.5-1-6.1-1 7.9-1 3.4-1-10-1 2.6-1 6.1-1 7.6-1-6-1-5.8-1 4.2-1-3.6-1 0.3-1 18.8-1 6-1 12.5-1-9.5-1 10.2-1-9-1 1.6-1-5.4-1 8.1-1-6.7-1-16-1-13.9-1 2.6-1 3.3-1 6.4-1 1-1 2.7-1-8.5-1 8.3-1-14.3-1-0.7-1 8.8-1-7.1-1-2.8-1 10.2-1 4.4-1-3.1-1-3.7-1 6.4-1 2.6-1-2.6-1-5.9-1 5-1-3.6-1-9.4-1 15.6-1-8.4-1 7.9-1-5.1-1-5.9-1 12.6-1-5.8-1-10-1 12.9-1-13.7-1 3.4-1 2.3-1 2.8-1-6.7-1-0.4-1 0.8-1 14.3-1-9.2-1 5.9-1-2-1 2.5-1-4.3-1-3.3-1 1.4-1 2.1-1-6.1-1 2.1-1-2.3-1 9.4-1 11.9-1 15-1 13.2-1 13.1-1 9.4-1-7.9-1-2.9-1-0.9-1 9.4-1-10.5-1 12.5-1-3.7-1 2.1-1-4.3-1-4.2-1-5.5-1-0.2-1 1.4-1 7.1-1-3.7-1 11.9-1-3.7-1-6-1 2.4-1 5.5-1 1.2-1-6.4-1 4.2-1-11.3-1-0.4-1 8.4-1 5.8-1-13.8-1 11.5-1-1.1-1-2.4-1 7.3-1-10.9-1 10.2-1-8.1-1-3.5-1-4.1-1 9.1-1-8.8-1 2.8-1-1.4-1-27.3-1-9-1 5-1-13.8-1 13.7-1-10.8-1 4.9-1 4.6-1-5.6-1-2.7-1 3-1 22.3-1 30.1-1-14.1-1 8.6-1-2.8-1 0.6-1-7.3-1 16-1-4.8-1-7.3-1 0.1-1-4.2-1 4.2-1 4.5-1-5.4-1 9.6-1-2.8-1-7.2-1 2.8-1-3.1-1-0.6-1 0.2-1-38.5-1-5.5-1 2.2-1-4.8-1 2.2-1-6.8-1-4.8-1 3-1 13.1-1-11.9-1 8.1-1 0.5-1 21.2-1-8.1-1-9.5-1-16-1 12.9-1-9.1-1 9.7-1 2.8-1 0.7-1-8.9-1 1.7-1 1.8-1-1.7-1-3.3-1-3.1-1-0.9-1 13.5-1-0.3-1-4.3-1-5.1-1 22.2-1 18.7-1 14.1-1 0.1-1 3.1-1-6.1-1 7.6-1 0.2-1-1.3-1-5.2-1 10.6-1-10.3-1 10.9-1-4.7-1 2-1 1.4-1-5.6-1 3.5-1-8.4-1 3-1 11-1-6-1-3.8-1-7.7-1-9.3-1-2.4-1 8-1 0.6-1-9.3-1 3-1-5.6-1 9.6-1 1.3-1-11.4-1 13.2-1-13.1-1 4.2-1 10.2-1-8-1 4-1 1.8-1 4.6-1-1.5-1-14.1-1 1-1 14.4-1 14-1 2.5-1 5.1-1-2.1-1-2.1-1-13.7-1 3.5-1-28.3-1 0.2-1 14.9-1 0.3-1-0.7-1-12.6-1 7.8-1-1.1-1 2.6-1-0.5-1 0.3-1-3.9-1 13.8-1 4.8-1 1-1-7.8-1-12.7-1 2.5-1 30.1-1-15.1-1 11.4-1 4.2-1-8.6-1-6.1-1 0.3-1 5.9-1 1.9-1-5.5-1 7.4-1 3.1-1-3.2-1-3.7-1 1.3-1-2.2-1 1.8-1 4.4-1 1.7-1-1-1-3.4-1 3.7-1-7.8-1 0.8-1-0.6-1-5.4-1 1.9-1 0.2-1 11.9-1 0.8-1-3.7-1-1.1-1-8.7-1-2.4-1-0.8-1 6-1-1.9-1-19.1-1 8-1 0.5-1-11.7-1 0.2-1-9.1-1-6.2-1 4.1-1-7.5-1 17.1-1 3.4-1-7.8-1 13.7-1 4.9-1-4.5-1 8.7-1-2.5-1-1.2-1-8.2-1 4.3-1-6.4-1 6.3-1-7.2-1 6.7-1-8.2-1 3.1-1-1.7-1 27.2-1 3.5-1-5.3-1 5.4-1-3-1-1.6-1 6.5-1-6-1 7.6-1-13-1 4.1-1-4.8-1 8.6-1-7.5-1-6.2-1-0.3-1-8.5-1-3.6-1 2.4-1 6.8-1-8-1 14-1 1.7-1-14.1-1 2.8-1-1.7-1 10.4-1-8-1-6.1-1 17.1-1-10.8-1 18.7-1-2.8-1-1.6-1 5.8-1-3.1-1-5-1 0.5-1 1.8-1-4.1-1-2.7-1 11.7-1-9.6-1 13-1-8.3-1-2.4-1-14.4-1-1.5Z" fill="#c8c8c8" fill-opacity="0.7"/>
<path d="M970.2 1745.7l1 16 1-8.6 1 9.5 1 2.5 1-1.3 1 0.6 1 0.9 1-2.5 1 12.8 1-0.2 1-9.3 1 8.7 1-10.2 1 5.8 1-5 1 7.6 1-15.5 1-5.3 1-0.3 1 8.3 1-0.9 1-9 1 0.9 1 4.2 1 7.3 1-10.4 1-0.5 1 1.6 1-4.8 1 5 1-2.7 1 8.4 1 2.8 1 0.1 1 2 1 13.4 1-7.5 1-0.7 1 1.3 1 3.5 1 0.7 1-8.3 1 11.8 1 0.9 1-9.6 1 11.1 1-12.9 1-17.4 1-2.2 1 6.3 1-5.6 1-0.3 1-2.4 1 5.2 1-6.8 1 7.1 1-6.9 1 7.7 1-4.9 1 6.5 1-8 1-6.3 1 5.8 1-14.1 1 7.3 1-13.5 1 6.6 1-4.4 1 6.3 1 8.2 1 2.3 1 5.7 1-5.5 1 8 1-0.6 1 12.8 1 2.8 1 0.4 1 3.5 1-6.5 1 2.4 1 1.1 1-1.6 1 6.4 1-1.4 1-8.2 1 2.7 1 3.4 1-7.9 1 0.8 1 3.5 1 8.7 1-4 1-0 1-2.5 1 3.9 1-2.5 1-6.3 1 11.5 1 0.4 1-6.6 1 7.6 1-5.2 1 1.7 1-7.7 1 8.7 1-5.1 1-5.1 1 2.9 1 4.2 1 2.9 1-38 1 2.3 1 24.4 1 8.9 1-1.2 1-16.8 1-6.8 1-5 1 7.8 1-6.1 1-1.5 1-1.2 1 2.7 1 9.6 1 0.2 1-3.4 1-21.1 1 15.9 1 31.7 1-5.4 1 5.3 1-2.9 1-3.6 1 3.8 1-6.5 1-14.4 1-8.3 1 0.4 1 6.1 1 5.7 1-8.7 1 8.1 1 1.9 1-1.4 1-5.2 1-6.3 1 5.2 1-4.3 1 3.6 1-3 1 2.9 1-3.3 1 5.5 1 1.2 1-7.9 1 0 1 5.4 1 7.7 1 4.2 1 4.1 1-1.3 1-0.4 1 4.3 1 5.4 1-12.3 1-0.2 1 8.3 1-1.6 1 4.7 1-12.2 1 12.7 1-5.3 1 6 1-12.4 1 2.4 1-1.1 1 2.9 1-1.6 1-3.2 1-4.5 1-21.3 1-16.3 1-8.6 1 5.9 1-8.4 1 0.5 1-1.7 1-1.6 1 11.3 1 0.4 1-6 1-1.1 1-2.8 1 5.6 1-8.9 1 6 1 0.7 1-2.8 1-3.5 1 16.4 1 1.9 1-1.9 1-4.5 1 1.3 1-8.6 1-1.9 1 7.9 1-6.1 1 5.9 1-5.7 1-5.8 1 1.6 1 12.7 1 38.9 1 12.5 1-4.4 1 2.8 1-1.7 1-1.1 1-6 1 8.2 1-0.9 1 1.2 1-3.6 1 5.7 1-5.4 1-0.1 1-4.3 1 3.6 1-5.6 1 8.6 1-2.2 1 1.7 1 5.1 1-28.8 1-27.3 1-3.9 1 13.5 1-12 1 1.3 1-1.9 1 11.2 1-1.8 1-7 1 0.9 1 25.1 1 15.2 1-10.3 1 7.1 1 8.6 1 2.1 1 5.5 1-1.9 1-10 1 12.8 1-12.6 1 2.3 1 6 1-5.8 1 3.1 1-1.4 1 0.9 1 2.2 1-7.9 1 2.7 1 5.3 1-2.1 1 3.8 1 2.2 1-2.2 1-8.6 1 9.2 1-0.7 1 3.4 1-14 1 10.6 1 1 1-7.8 1 9.1 1-10.6 1 1.2 1 10 1-11.2 1 8.4 1 1.7 1-9.8 1-2.7 1 8.4 1 1 1-9.1 1-22.8 1-21.4 1-9.6 1 4.4 1-1.3 1-6 1 8.8 1-1.6 1 2.7 1-11.8 1 2.9 1 8.1 1-8 1-2.6 1 9.5 1-0.4 1 0.7 1-8.5 1 5.9 1-6 1 6.8 1-5.4 1-3.1 1 6.9 1 4.5 1-10.4 1-1.2 1 8.2 1-7.1 1-1.7 1 0.4 1 1.1 1 6.4 1 1.9 1 1.3 1-0.4 1-0.3 1 1.6 1 2.3 1-4.7 1 2.9 1-9.5 1 5.1 1-8.6 1 4.4 1 6.5 1-6.6 1 1.3 1-5.6 1 3.8 1 6.5 1 1.4 1-3.7 1 1.4 1 1.8 1 2.7 1 18.4 1 1.5 1 2.3 1-4 1 6.8 1-2.7 1 1.3 1-4.5 1-9 1-15.4 1-4.2 1 9.6 1-11.3 1-1.6 1-1.4 1 10.2 1-5.5 1 5.8 1-6.7 1-1.7 1-2.2 1 4.9 1-0.8 1 3.9 1 3 1-4.9 1 3.6 1-7.5 1 6.7 1-2.1 1 5.5 1-4.4 1-8 1 10.8 1-5.8 1-3.5 1-3 1 4.4 1 8.9 1-10.5 1-1.4 1 0.1 1 0.8 1 1.1 1-0.5 1 4.7 1 5.6 1-2.4 1-3.8 1-0.5 1-7.3 1 9.3 1-1 1-4.8 1 7 1-1.3 1 3 1-4.6 1 5.1 1-6.9 1 2.5 1 3.8 1-1.1 1-4.8 1 4 1-9.7 1 0.1 1 8.5 1-4.5 1 6.6 1 1.1 1-9 1-0.7 1 15.1 1 3.9 1 0 1 11.9 1 4 1 0.9 1 7 1-0.3 1-24.3 1-7.8 1-2.2 1-5.9 1 2.6 1 1.9 1-0.5 1-7.9 1-0.3L1407.5 1725.7l-1 8.7-1-5.8-1 4.2-1-2.5-1 5-1-3.3-1 3.4-1 2.7-1 27.8-1-0.8-1-3.9-1-7.1-1-2.8-1-4.8-1-1.4-1-10-1-5.5-1 4.3-1-1.6-1-6.2-1 3.2-1-2.7-1-2.3-1 8.9-1-5.1-1-0.3-1 3.4-1-0.2-1-4.9-1 7.1-1-0.8-1-7-1 2.6-1 3.4-1-5.6-1 2.6-1 4.2-1-3-1 4.3-1-3.1-1-2.2-1 3.6-1-7.7-1 0-1 2.5-1 1.2-1 4.3-1 0.8-1-3.4-1-1.6-1 0.6-1-1.9-1 1.8-1 4.6-1-3.5-1 2.9-1-3.4-1-1.8-1 5.1-1-5.3-1-1.2-1 4.8-1-1.2-1-0.6-1-0.8-1 3.8-1-1.7-1-2.2-1 0.9-1-2.4-1-1.6-1 6.6-1-6.2-1 4.3-1 1.3-1-0.8-1 2.6-1 1.7-1-8.4-1 7.6-1 16.8-1 12-1-3.5-1-1.6-1 4.1-1 0.7-1-4.8-1 3-1-5.3-1-8.2-1-20.2-1 6.6-1-1-1-5.7-1 1.8-1 1.1-1-0.9-1-0.5-1 7.6-1 0-1-3.6-1-1-1-4.3-1 6.9-1-2.7-1-2.2-1 7.9-1-7-1 4.5-1 0.5-1-5.2-1 4.7-1-5.9-1-0.1-1 6.3-1-4.5-1 3.1-1 2.5-1 0.8-1-1.5-1-4.6-1 2.4-1 3.4-1-0.3-1-1.2-1 2-1-0-1-4-1 4.3-1-4.8-1 5.3-1-7.6-1-1.8-1 7.6-1-2-1-3.1-1 6.8-1-0.6-1-3.5-1 2.2-1 1.6-1-7.9-1 4.6-1 8.4-1 22.9-1 22.2-1 1-1 6.5-1-1.2-1 1.9-1-0.9-1-7.7-1 6.9-1 0.5-1-0.4-1-7.6-1 9.3-1-7.7-1-0.5-1 0.9-1-0.1-1 0.9-1-2.8-1 3.5-1-3.2-1 7.3-1 1.1-1-1.8-1-3.7-1 1.4-1-0.1-1 5.2-1-3.1-1 4-1-5.6-1-0.1-1-0.1-1-3.9-1 8.2-1-0.2-1-0.4-1 0.2-1-4.6-1 4.7-1-1.1-1-7.8-1-0.1-1-1.2-1-10.8-1-12.6-1-17.4-1-1.1-1 6.4-1-1.9-1-1.9-1 4.5-1-7.9-1 4.6-1 3.8-1-2-1 30.3-1 9.4-1 8.1-1-6.6-1 3.5-1-3.3-1-2-1 8.9-1-6.2-1 1-1-1.7-1 3-1 5-1-7.9-1 8.3-1-2.1-1-1.5-1-1.8-1-1.4-1 2.5-1 0.2-1-19.1-1-32.8-1-7.3-1 2-1-0.4-1 7.1-1-5-1-1.7-1-1-1 4.8-1 0.9-1-6.1-1 7.3-1 20-1-14.1-1-7.3-1 2-1-6.5-1 3.7-1-0.5-1 0.6-1-4.7-1 1.5-1 5.1-1-7.2-1 6.6-1-3.9-1 4.6-1 1.3-1-5.5-1 0.1-1 4.1-1 3.2-1 17.3-1 12.9-1 15.7-1 8.3-1-1-1 1.1-1-2.8-1 4.3-1-7-1-1-1-0.2-1 8.2-1-9.1-1 1.9-1 6-1-3.7-1-1.4-1 1.9-1 1.3-1-1.9-1 1.6-1 3.6-1-2.8-1-9.8-1-1.5-1-6.1-1-6.6-1 2.4-1-0.2-1 5.6-1 0.8-1-2.5-1 1.6-1-5.7-1-1.3-1 7.2-1-7.7-1 4.3-1 4.7-1-9.3-1 4.3-1 3.6-1-1.8-1 4.3-1-3.3-1 3.2-1 15.9-1-2-1-0.4-1 3.5-1 3.4-1-0.8-1-5-1-32.6-1-9.6-1 14.7-1 8.3-1-5.9-1-2.2-1 3.7-1 1.8-1-4.9-1-2.1-1 6.8-1 5.4-1 3.8-1 7.7-1 5.6-1-5-1-19.1-1-1.9-1 21.2-1 1.5-1 3.7-1-5.4-1 6.4-1-3.4-1 4.7-1 0.8-1-7.7-1 5.3-1-6.4-1 1.2-1 6.9-1-8-1 3.2-1 2.4-1 0.8-1-6.7-1 0.5-1 6.3-1-7.5-1 0.3-1 0.9-1 4.2-1-1.3-1-0.6-1 4-1-0.5-1-2.5-1 0.4-1-1.7-1 0.4-1 0.3-1-1.5-1 4.5-1-9.9-1-2.3-1-4.6-1-9.6-1-2-1 0.6-1-7.9-1-1.2-1-15.1-1 10.1-1-3.6-1 6.1-1 6.8-1-3.3-1 12.9-1-4.4-1 8.7-1-4.1-1 2-1 3.4-1-5.5-1 6.5-1-2.1-1 3-1-6.8-1 2.1-1-1.4-1 5.9-1-8.7-1 16.8-1 10.1-1-1.4-1-1.6-1 0.3-1 4.4-1-0.5-1-0.7-1-3-1 6.2-1-1.3-1-5.8-1-1.2-1 0.8-1-9.2-1 0-1-4.7-1-3-1-1.6-1 3.4-1 5.5-1-4.9-1-1.8-1-0.6-1 4.4-1-2.7-1 0-1 1.9-1-2.3-1-2.5-1 1.5-1 15.8-1 0.4-1-4-1 4.3-1 2-1-4.5-1 4.6-1-6.6-1 5.4-1-5.7-1 1.1-1 8.1-1-8.6-1 1.1-1-6.9-1-2.2-1-4.3Z" fill="#a8a8a8" fill-opacity="0.7"/>
<defs><path id="tr10" d="M970.2 1774l1-7.8 1 17.4 1-4.2 1 10.4 1 1 1 3.6 1-2.2 1-10.7 1 9.8 1-12.5 1 5.8 1-6.1 1 9.9 1 3.2 1-3 1 3.5 1-12 1-10.8 1 6.9 1 1.9 1-3.5 1 4.8 1-0.4 1-7.5 1-4 1 0.9 1-1.8 1 12.3 1-12.9 1 10.8 1-10.5 1 12.4 1-1.3 1 11.2 1-3.7 1 0.9 1-0.3 1-4 1 10.3 1-2.8 1-3.7 1-3.3 1 10.1 1 4.9 1-8.2 1 8.7 1-20.8 1-12.6 1 12.2 1-14.3 1 3.8 1 7.2 1 2.6 1-4.6 1-1.6 1-5.7 1 9 1-9.7 1 14 1-5.4 1 0.1 1-5.9 1-8.2 1-7.6 1 8.9 1-4.3 1-15.9 1-7.1 1 13.3 1 9.8 1 16.5 1-10.3 1 11.1 1-5 1 9.5 1 6.2 1 1.1 1 10.2 1-2 1 8.7 1-9.2 1-12.8 1 14.9 1-0.8 1-2.8 1-1.6 1-5 1 6.6 1-6.9 1 1.3 1-4.2 1 4.5 1 0.7 1-1.6 1 8.5 1 0 1-10.8 1 9.6 1-11.3 1-1.4 1 8.5 1-2 1 3 1-6.1 1 7.2 1-8.1 1-1.3 1 14.6 1-11.7 1 1.8 1-2.6 1-17.5 1 2.2 1 22.5 1 1.3 1-3.6 1-17.4 1-5.9 1 7.4 1-3.6 1-7.2 1 6.3 1-10.4 1 14.6 1 0.4 1-6 1-3.4 1-12.8 1 12.8 1 21.7 1 10.6 1-1.6 1-11.1 1 11.5 1 5.2 1-12.2 1-14.6 1-5.4 1 1.8 1 0.9 1 5.6 1-3.1 1-7.3 1-2.9 1 5.2 1 2.1 1 1.1 1 0.7 1-3.9 1-3.5 1 8.6 1-8.4 1-1.3 1 10.1 1-3.9 1 1.4 1-6.5 1 5.7 1 1.4 1 10.6 1 6.9 1-10 1 2.4 1 11.4 1-4.5 1-10 1 5.2 1 8.1 1-2.1 1 2.5 1-0.6 1 3.3 1-3.1 1-5.5 1-2.9 1 2.5 1 9.1 1-6.5 1 0.4 1 1.8 1-21.5 1-22.4 1-6.3 1-11.2 1-4.7 1 3.6 1-4.9 1 10.7 1 2.7 1-8.6 1 7.6 1-2.2 1-2.5 1-4.3 1 9.5 1-3.5 1-0.7 1-9.6 1 12.3 1-5.6 1 22.7 1-9.3 1-12 1 2.3 1-9.1 1 9.9 1 6.2 1-5.8 1-4.1 1 7.9 1-16 1 3.8 1 8.1 1-6.9 1 37.1 1 24.9 1-4.2 1-3.1 1 9.2 1-6.3 1 7.7 1-9 1-2.9 1 7.5 1-5.9 1 3.8 1 5.9 1 0.3 1-2.4 1-9.9 1-5 1 5.9 1-0.8 1 11.1 1-4.5 1-15.6 1-32 1-4.3 1 4.6 1 1.2 1-2.9 1-5.2 1 1.6 1 4.1 1 1 1-4.7 1 19 1 9.3 1 13.9 1-3 1 4.1 1 9.9 1-7.5 1 0.2 1 2.3 1 2.5 1 4.6 1-1.1 1-7.8 1-5.4 1 5 1 8.1 1-9.5 1 6 1-9.3 1 0.9 1 2.7 1-3.2 1-1.6 1 0.5 1 11 1-10.9 1-1 1 9 1 8.9 1-5.9 1-0.4 1-9 1-1.1 1 9.2 1-5.9 1 3.5 1-2.1 1-5.2 1 13.3 1-6.6 1 3.8 1 0.4 1-1.9 1-10.6 1 4.1 1-29.4 1-18.6 1-3.5 1-0.4 1 5.2 1 1.1 1-4.3 1-9.3 1 9.4 1-1.6 1-2.6 1-4.7 1 8 1 1.6 1-4.9 1-1.7 1 1.8 1-8.2 1 9.6 1-1.5 1 5.7 1-9.2 1 0.2 1 9.5 1-2.2 1-8.7 1-0.5 1 8.9 1 3.3 1-9 1 4.6 1 2.5 1-12.6 1 3.5 1-0.9 1-4.1 1 11 1-8.9 1 7.3 1-7 1 9.3 1 0.4 1-6 1 9.1 1-7 1-5.7 1 5.5 1 0.1 1 3.5 1-2.3 1-0.2 1-3 1-2.6 1 0.5 1 7.3 1 7 1 8.3 1 14.5 1 0.1 1-12.9 1-7.9 1 13.8 1-0.7 1-6 1-1.9 1-25.5 1 8.9 1-6.1 1 0.8 1 6.2 1-1.9 1-1.1 1-5 1 5.9 1 6.7 1-0.8 1-3.6 1-9.6 1 8.8 1-1.7 1-10.6 1 6.6 1 8.3 1-13.5 1 11.9 1 1.9 1-0.7 1-9.5 1-4.1 1 6.5 1-7.3 1 14.4 1-8.2 1 0.5 1-5 1 9.7 1 1.7 1-5.3 1 11.5 1-7.2 1-5 1-2.6 1-1.5 1 3 1 0.7 1 4.4 1-4.8 1 0 1-4.9 1 9.5 1 0.5 1-8.2 1-0 1-1.9 1 10.4 1 1.5 1 0.7 1-8.5 1 11.2 1 1.8 1-15.7 1 5.1 1 2 1-2.2 1 0.2 1-3.4 1 6.3 1-10.2 1 8.2 1 10.9 1-4.2 1 9.2 1 11.8 1-8.7 1 7.7 1 3.6 1 9 1-30.1 1-1.4 1-0.1 1-4.2 1 2.1 1-6.2 1-1.7 1-0.2 1 8.9" fill="none" stroke-linejoin="round"/></defs>
<defs><path id="tr11" d="M970.2 1768.5l1 5.5 1 5 1 1.8 1-1.4 1 11.5 1-2.8 1-4.3 1-9.3 1 15.5 1 3.7 1-10.2 1 1.1 1-1.6 1 7.7 1 3.7 1-11.7 1-2.8 1-1.7 1 2 1-5.5 1 4.3 1-5.9 1-1.3 1-5.8 1 7 1-7.1 1 9.2 1-8.4 1-0.7 1 1 1 10.4 1-1.2 1-2.9 1 13.2 1-5.6 1 6.5 1 5.6 1 4.2 1-2.1 1-5 1-0.1 1 2.6 1 1.8 1-0.2 1-0.8 1 2.1 1-11 1-18.7 1 9.8 1-8 1 7.5 1-4.6 1 1.7 1-10.6 1 10.2 1-9.8 1 0.4 1 7.8 1 4.1 1-4.5 1-7.8 1-2.1 1 2.2 1-11 1 3.4 1-7.3 1-7.6 1 3.9 1-2.9 1 16.9 1 12.3 1 0.7 1-9.6 1 13.5 1-10.5 1 22.5 1 3.6 1-1 1-5.7 1 0.3 1 0.9 1-0.6 1-3 1 4.9 1 3.8 1-9.6 1 1.6 1 9.1 1-6.7 1 5.6 1 0.1 1 0.3 1-5.1 1 3.6 1-3.4 1-2.1 1 8.2 1-10.6 1 2 1 2.5 1-5.7 1 11.6 1-4.5 1 5.4 1-2.4 1-6.3 1 5 1 4.6 1-7.3 1 7.3 1 0.9 1-28.9 1-8 1 19.5 1 5.6 1 5.9 1-17.7 1 1.4 1-10.8 1-4 1 6.2 1 4.5 1-5.4 1-0.3 1-2.4 1 8.1 1-11.4 1-12.8 1 18.7 1 21 1 8.5 1-9.7 1-0.9 1 14 1-2.8 1-11.2 1-6.9 1-2.9 1-5.7 1 0.5 1 3.2 1-0.7 1-0.6 1-3.7 1 8.2 1 5.5 1-8.5 1-0 1-7.9 1-2 1 15.2 1-12 1 2.2 1-0.3 1 6.8 1 1.1 1-5.1 1 10.9 1 1.9 1 2.1 1-2.9 1-0.5 1 2.4 1-5.1 1 7 1 1 1-8.6 1 1.1 1 2.4 1 6.6 1-9.4 1 6.7 1 2.9 1-5.5 1 9.2 1-9.9 1-0.6 1 2.1 1 5.5 1-6.4 1-15.9 1-8 1-25.6 1-7.5 1 0.9 1-0.4 1 8.9 1-11.3 1 8.7 1 5 1-11 1 9.8 1-2.6 1-9.7 1 9.5 1-1.8 1-9.6 1 9.8 1-0.7 1-5.9 1 18.5 1-5.5 1-7.5 1-1.1 1-5.3 1-0.1 1 10.6 1-0.1 1-6.2 1-0.5 1-5.4 1 3 1 8.9 1 4.3 1 22.7 1 25 1-4.9 1-5.6 1 13.1 1-2.1 1-5.2 1-4.6 1 8.2 1-0.7 1-9.4 1 14.5 1-10.9 1 8.9 1 1.4 1-6.5 1-2.4 1 6.2 1-4 1 5.9 1-10.5 1-7.6 1-41.4 1 14.7 1-2.9 1-12.3 1 11.8 1-1.5 1-7.5 1 10.1 1 2.7 1-15.4 1 28.6 1 1.8 1 9.9 1 8.3 1 1.7 1-0.6 1 7 1 4.8 1-10.7 1 3.5 1 8.6 1-6 1-3.9 1-8.1 1 13.2 1-12.7 1 1.8 1 13.7 1-16 1 14.1 1-12.8 1 0 1 3 1 3.2 1-0.1 1-1.7 1 4.1 1-0.7 1-9.8 1-0.1 1 15.5 1-5.2 1-8.9 1 7.7 1 5.5 1-10.7 1 2.1 1 4.8 1 0.1 1-11.2 1 11.3 1-3.8 1 6.7 1-9.1 1 2.7 1-18.1 1-28.8 1-12.3 1-3.8 1-1 1 4.8 1 8.4 1-8.6 1 3 1 6.8 1-1.2 1-15.1 1 9.3 1 6.8 1-5.6 1-8.6 1 10.2 1-11.3 1 2.2 1 8.5 1-11.6 1 20.5 1-20.1 1 3.6 1 13.1 1-1.4 1-13.7 1-1.3 1 1.2 1-1.6 1-0 1-0.8 1 12.5 1-2.5 1 4.7 1-2.2 1-6.2 1 1.5 1 6.4 1-6.9 1 5.5 1-3.9 1-1.2 1-5.6 1 10.5 1-10 1 10.8 1-2.6 1-3 1 4.8 1-7.7 1 6.5 1-10.5 1 11.1 1-7.2 1 6.4 1 19 1-2.6 1-0.5 1 11.5 1 4.1 1-14.5 1 1.5 1 9 1-16.4 1-2.2 1-13 1-6.2 1 6.2 1 4.2 1-5.8 1 6.7 1-10.3 1 1.9 1-6.4 1 6.5 1 7.6 1-2.3 1-10.8 1 5.5 1-6.9 1 6.1 1 3.8 1-9.7 1 1.1 1-1.2 1 7.5 1 7.7 1-1.2 1-0.1 1-12.8 1 7.1 1 6.6 1-10.7 1-0.3 1-2.7 1 7 1-7.7 1 3.5 1 6.6 1-8.9 1 7.3 1 2.4 1 2.6 1-13.9 1 2 1-1.3 1 5.5 1 3.5 1-9.8 1 13.9 1 0.5 1-14.3 1 12.2 1 1.7 1-8.1 1 4.2 1-10.4 1 6.3 1 7 1-3 1-8.7 1 10.7 1-3.5 1-5.9 1 9.5 1 3 1-9.8 1 11.4 1-3.3 1 0.9 1 8.7 1 6.7 1-6.3 1 20.3 1 2.8 1-6.9 1-24 1-0.8 1-5.1 1-8 1 0.2 1 5.2 1 0.2 1 8.7 1-15.7" fill="none" stroke-linejoin="round"/></defs>
<defs><path id="tr12" d="M970.2 1760.1l1 15.7 1 9.7 1-1.7 1 1.9 1-6.4 1 2.8 1 10.1 1-1.3 1-4.6 1-0.6 1-0.5 1 2.7 1-0.9 1 4.2 1 3.7 1-11.8 1-1.5 1-12.7 1 10.9 1-3 1-6 1 6.3 1-9.8 1 4 1 8 1-12.8 1 5.8 1 1.7 1-6 1 2.8 1 3.5 1 0.1 1 3.3 1 11.5 1-3.1 1 4.5 1 1.4 1-5.1 1 6.2 1-2.7 1 6.7 1-5.3 1-7.9 1 10.4 1 3.3 1-0.6 1-13.9 1-21.3 1 7.4 1-1.6 1 0.3 1-7.3 1 2 1 3.8 1-0.9 1-3.6 1 13.4 1-5.9 1-4.2 1 2.2 1-0.7 1 2 1-10 1-11.1 1 7.1 1-4.7 1-0.6 1-13.2 1 15.1 1 7.1 1 4.2 1-2.5 1 8.7 1 5.8 1 6.8 1-3 1 6.2 1 2 1-1.6 1 5 1-11.9 1 11 1 2.4 1-4.1 1 6 1-15.1 1 11.3 1 2.8 1 1.7 1-14.6 1 4.3 1 9.9 1-3 1-1.5 1 1.2 1-10.4 1 5.1 1-6.3 1 7.9 1 4.7 1-2.3 1 1.6 1 2.5 1-8.3 1 5.4 1 4.4 1-0.5 1-1.7 1-12 1 4.1 1-3.4 1-14.4 1-0.3 1 24 1-13 1 11.7 1-12 1-10.5 1-8.6 1 9.1 1 0.7 1-2.3 1-8.9 1 1 1 13.1 1-7.6 1-2.5 1-17.6 1 14.3 1 27.9 1-6 1 4.4 1 5.4 1 3 1 4.1 1-5.6 1-21.8 1-0.1 1-4.3 1 2.4 1 3.7 1-13.1 1 10.7 1-3 1 0.3 1 0.8 1-3.4 1 6.7 1 3.1 1 0.1 1 2.4 1-16.5 1 12 1-4.6 1 0.8 1-0.9 1 5.7 1 3.5 1 2.2 1 3.6 1 0.3 1 3.1 1 0.3 1-1.4 1 6.9 1-0.4 1 0.8 1 1.4 1-10.1 1-5.1 1 9.4 1 5.3 1-1.2 1-8.5 1 10.8 1-10.8 1-3.2 1 3.9 1 7.8 1-10.6 1-7.6 1-16.1 1-21.9 1-10.3 1-4.2 1 6.5 1 9.7 1-14.2 1 7.8 1-8.6 1-1.3 1 10.3 1-5.6 1-2.9 1 11.2 1 0.5 1-0.3 1-11.6 1 4.5 1-2.1 1 17.5 1 10.8 1-14.7 1-6.8 1-6.1 1-0.1 1 5.5 1 7.7 1-8.6 1 4.3 1-8.4 1-1.1 1 3.9 1 11.3 1 22.9 1 27.1 1-11.7 1 11 1-2.7 1-10.5 1 5.1 1-2.7 1-2.1 1 12.2 1-10.5 1-0.8 1 2.4 1 7.7 1-2.6 1-0.7 1-8.1 1 8.1 1-6.2 1-2 1 10.5 1-24.5 1-9.4 1-17.5 1-4.1 1-0.1 1 12.3 1-14 1 1.4 1 1 1 8.7 1-6 1 16.7 1 17.4 1 9.2 1 1.3 1-1 1 2.4 1-0.5 1 3.2 1-9.9 1 10.8 1-5.1 1 4.9 1 3.5 1-7.9 1 7.5 1-12.3 1-0.4 1 7.9 1-1.5 1 8.4 1-16.4 1 8 1-8.1 1 8 1 2.4 1-3.1 1 3.6 1 1.1 1-4.2 1-5.1 1 10 1-9.4 1 8.4 1-2.3 1-10.2 1 2.7 1 11.3 1-13.5 1 12.1 1-4.4 1 4 1 1.6 1-4.7 1 2 1-16.2 1-11.4 1-20.2 1-8 1-6.6 1-5.9 1 4.8 1 2.7 1 6.6 1-12.3 1 5.6 1-8.2 1 10.5 1-3.2 1-3.7 1 2.1 1 3.3 1-1.6 1 3.6 1-6.5 1 0.2 1 5.7 1-2.1 1-2.6 1-2.8 1-0.3 1 7.7 1-5.9 1 9.3 1-4.5 1-1.9 1-0.6 1 7.5 1-6.5 1-13.1 1 20.2 1-1.3 1-14.6 1 3.3 1 10.2 1-11.9 1 19.3 1-6.6 1-0.7 1-1.2 1-9.1 1-3.4 1 6.5 1-4.9 1 2.3 1 4.8 1-8.1 1 0.5 1-0.9 1 9.7 1 1.8 1 14.9 1 1 1 5.8 1 7.8 1 1.6 1-8.5 1-5.7 1 10.8 1-8.3 1-4.6 1-16.7 1 4.8 1-7.5 1 6.2 1-3.5 1-10 1 14.4 1-1.7 1-12.2 1 16.1 1-16.7 1 5.1 1 4.3 1-9.7 1 8.9 1 4.3 1-1 1-9.7 1-3.8 1 0.7 1 12.3 1-2.7 1-1.4 1-0.7 1 6.1 1 2.1 1-8.4 1 5.7 1-6.1 1-0.2 1 0.8 1 3.7 1-11 1 4.8 1 13.6 1-15.2 1 9.7 1-5.4 1 0.6 1-10 1 11.7 1-9.5 1 8.3 1 5.4 1-9.8 1 4.5 1-5 1-1.7 1 3.6 1 5.5 1 2.8 1-9.8 1 5.3 1-6.6 1 7.5 1-0.3 1 2 1-13.3 1 2.2 1 3.2 1 1.1 1 0.1 1 0.6 1 7.8 1-7.7 1 16.8 1 2.7 1 8 1 5.5 1-0.1 1 6.3 1-2.5 1-22.8 1-18.7 1 2.2 1 11.5 1-13.7 1 5.7 1 5.2 1-3.4 1 0.3" fill="none" stroke-linejoin="round"/></defs>
<use href="#tr10" stroke="#30241f" stroke-width="4.0" stroke-dasharray="0 3.6" stroke-linecap="round"/>
<use href="#tr11" stroke="#30241f" stroke-width="4.0" stroke-dasharray="0 4.3" stroke-linecap="round"/>
<use href="#tr12" stroke="#30241f" stroke-width="4.0" stroke-dasharray="0 5.0" stroke-linecap="round"/>
<use href="#tr10" stroke="#d8521c" stroke-width="2.0" stroke-dasharray="0 3.6" stroke-linecap="round"/>
<use href="#tr11" stroke="#d8521c" stroke-width="2.0" stroke-dasharray="0 4.3" stroke-linecap="round"/>
<use href="#tr12" stroke="#d8521c" stroke-width="2.0" stroke-dasharray="0 5.0" stroke-linecap="round"/>
</g>
<path d="M969.7 1640.6L988.3 1640.6L989.8 1636.9L1023.6 1636.9L1025.1 1633.2L1058.9 1633.2L1060.4 1629.5L1094.1 1629.5L1095.6 1625.8L1129.4 1625.8L1130.9 1622.1L1164.6 1622.1L1166.1 1618.4L1199.9 1618.4L1201.4 1614.6L1235.2 1614.6L1236.7 1610.9L1270.4 1610.9L1271.9 1607.2L1305.7 1607.2L1307.2 1603.5L1340.9 1603.5L1342.4 1599.8L1376.2 1599.8L1377.7 1596.1L1408 1596.1" fill="none" stroke="#3a85cf" stroke-width="2.6" stroke-linejoin="round"/>
<path d="M969.7 1585.3H1408V1830.6H969.7Z" fill="none" stroke="#1a1a1a" stroke-width="1.7"/>
<path d="M969.7 1659.1L1408 1659.1" stroke="#1a1a1a" stroke-width="2" fill="none" />
<path d="M1013.6 1585.3v9M1013.6 1650.1v18M1013.6 1830.6v-9M1057.4 1585.3v9M1057.4 1650.1v18M1057.4 1830.6v-9M1101.2 1585.3v9M1101.2 1650.1v18M1101.2 1830.6v-9M1145.1 1585.3v9M1145.1 1650.1v18M1145.1 1830.6v-9M1188.9 1585.3v9M1188.9 1650.1v18M1188.9 1830.6v-9M1232.7 1585.3v9M1232.7 1650.1v18M1232.7 1830.6v-9M1276.5 1585.3v9M1276.5 1650.1v18M1276.5 1830.6v-9M1320.4 1585.3v9M1320.4 1650.1v18M1320.4 1830.6v-9M1364.2 1585.3v9M1364.2 1650.1v18M1364.2 1830.6v-9M969.7 1622.8h5M1408 1622.8h-5M969.7 1700h5M1408 1700h-5M969.7 1745.8h5M1408 1745.8h-5M969.7 1791.2h5M1408 1791.2h-5" fill="none" stroke="#333" stroke-width="1.5"/>
<text x="959.3" y="1594.2" font-size="18" text-anchor="middle" font-weight="bold">6</text>
<text x="959.3" y="1629.2" font-size="18" text-anchor="middle" font-weight="bold">5</text>
<text x="959.3" y="1666.1" font-size="18" text-anchor="middle" font-weight="bold">4</text>
<text x="954.7" y="1706.4" font-size="18" text-anchor="middle" font-weight="bold">40</text>
<text x="954.7" y="1752.2" font-size="18" text-anchor="middle" font-weight="bold">20</text>
<text x="960.5" y="1797.6" font-size="18" text-anchor="middle" font-weight="bold">0</text>
<text x="971.6" y="1858.3" font-size="18" text-anchor="middle" font-weight="bold">0</text>
<text x="1014.3" y="1858.3" font-size="18" text-anchor="middle" font-weight="bold">50</text>
<text x="1056.7" y="1858.3" font-size="18" text-anchor="middle" font-weight="bold">100</text>
<text x="1100.7" y="1858.3" font-size="18" text-anchor="middle" font-weight="bold">150</text>
<text x="1144.3" y="1858.3" font-size="18" text-anchor="middle" font-weight="bold">200</text>
<text x="1187.4" y="1858.3" font-size="18" text-anchor="middle" font-weight="bold">250</text>
<text x="1230.4" y="1858.3" font-size="18" text-anchor="middle" font-weight="bold">300</text>
<text x="1274" y="1858.3" font-size="18" text-anchor="middle" font-weight="bold">350</text>
<text x="1316.4" y="1858.3" font-size="18" text-anchor="middle" font-weight="bold">400</text>
<text x="1358.9" y="1858.3" font-size="18" text-anchor="middle" font-weight="bold">450</text>
<text x="1402.5" y="1858.3" font-size="18" text-anchor="middle" font-weight="bold">500</text>
<text x="1018.3" y="1565.2" font-size="23.5" font-weight="bold" fill="#f5201c" textLength="120" lengthAdjust="spacingAndGlyphs">4.0～5.0 pN</text>
<text x="933.6" y="1642.2" font-size="17.5" text-anchor="middle" font-weight="bold" transform="rotate(-90 933.6 1642.2)" textLength="94" lengthAdjust="spacingAndGlyphs">Force (pN)</text>
<text x="933.6" y="1772.2" font-size="17.5" text-anchor="middle" font-weight="bold" transform="rotate(-90 933.6 1772.2)" textLength="82" lengthAdjust="spacingAndGlyphs">Ext. (nm)</text>
<text x="905.9" y="1712.3" font-size="22" text-anchor="middle" transform="rotate(-90 905.9 1712.3)" textLength="31" lengthAdjust="spacingAndGlyphs" stroke="#000" stroke-width="0.5">WT</text>
<g clip-path="url(#cg2)">
<path d="M1537.6 1717.1l1-16.1 1 15.4 1-18.7 1 36.2 1 11.9 1-8.1 1 1.7 1 17.9 1-16.8 1-3.2 1 3.4 1-12.5 1 4.9 1 12.3 1 5.1 1 3.3 1-23.6 1 4.1 1 2.7 1 5.7 1-2.1 1 9.5 1-10.7 1 13.2 1-16.5 1-0.4 1-1.5 1 14.5 1 5.2 1-8.4 1-12.3 1 6 1-42 1 44.7 1 1 1-17.6 1 25.4 1-1.5 1-13.3 1-1.6 1 6.7 1-4.4 1 3.9 1-8 1-7.7 1 2.1 1 6.3 1 5.7 1-16.6 1 17.1 1-6.3 1-8.5 1 6.3 1-16.4 1 2.2 1 17 1-10.8 1 10.1 1 3.1 1-15.2 1 15.4 1 4.4 1-41.2 1-19 1 26.6 1 3.4 1-27 1-0.8 1 17.2 1 4.5 1-14.8 1-8.8 1 25 1-8.1 1-7.4 1 15.2 1-6.7 1 9.4 1-11.6 1 8.6 1 5.1 1-10.6 1 8.2 1 1.1 1-1.1 1-9.2 1 3.4 1-14.1 1 10.8 1 5.9 1 1.9 1-3.8 1-15.4 1 18.7 1 8.6 1 16.7 1 0 1 13.5 1-12.3 1 7.7 1 15.1 1-15.6 1-30.4 1-21.3 1 13.8 1-15.4 1-4.5 1 1.7 1 15.5 1 15.9 1-9.3 1 2 1-14.8 1-1.8 1-7.6 1 7.5 1-8.8 1 11.1 1 5.6 1-8.4 1 62.5 1-12.1 1 1.2 1-5.4 1 27.2 1-5 1-26.8 1 27.2 1-11.2 1-38.2 1-9.2 1-13.9 1-2.9 1 20.9 1 6.9 1-27.1 1 15.6 1 6.8 1 3.5 1 4.2 1-20 1 10.1 1-9.7 1-12.9 1 14.9 1-16.4 1 30.3 1-24.1 1-0.3 1-7.5 1 31.5 1-16.8 1-2.2 1-1.9 1 3.9 1 6.4 1-22.1 1 0.4 1 5.6 1-9.3 1 13.5 1 15.9 1-21.6 1 14.3 1-34.2 1 14.1 1 22.4 1 2.1 1 3.2 1-3.5 1-27.3 1 26.1 1-22.3 1 26.1 1-6.8 1 1.9 1 36.9 1-9.7 1 24.6 1-8.7 1 9.3 1 3 1-20.3 1 11.8 1-5.4 1-36.4 1 4 1 1.2 1-21.8 1-10.5 1 33.6 1-14.9 1-18.7 1 5.6 1-5.4 1 15.8 1-15.2 1 31.5 1-5.4 1 31.2 1 15.7 1-19.3 1-38 1 2.5 1-14.8 1-5.4 1 25.6 1-3.1 1-16.5 1 2.1 1-2.4 1 4.6 1-8 1 2.5 1 7.3 1 12.1 1 6.9 1-26.6 1 0.1 1-1.1 1 21.6 1-16.2 1-6.5 1 25 1 6.4 1-5.1 1-1.5 1-15.8 1-4.8 1 0.2 1 4.5 1-9.9 1 0.3 1 18.4 1-16.5 1 7 1 16.4 1 28.2 1 22.8 1-7.9 1-14.2 1 27.7 1-18.1 1 3.5 1 0.4 1-42.9 1-15.8 1 6.5 1 8.1 1-10.5 1-9.6 1 20.6 1-24.3 1 24.2 1-13.3 1 13.5 1 13.1 1 5 1 5.5 1 15.4 1-0.9 1-17.1 1 11 1-4.2 1-2.9 1 18.5 1-6.5 1-19.5 1 21.6 1-17.6 1 24 1 5 1-16.7 1 7.7 1-10.6 1-35.4 1 8.5 1-15.9 1 4.3 1-18.3 1 2.1 1-1.4 1 4.9 1 13.6 1-9.4 1 2.6 1 6.1 1 2.7 1-12.4 1-8.5 1 22.5 1-3.9 1 6.8 1-7.1 1-0.8 1 10.2 1-19 1 10.4 1-3.6 1 30.2 1-39.9 1-7.9 1 28.5 1-6.3 1-11.9 1 43.3 1-31.8 1 6 1-23.3 1 17.3 1-17.1 1 52.7 1 11.8 1-29.2 1 1.9 1-15.1 1-16.9 1-5.5 1-6.9 1 25.6 1-1.7 1-18.1 1 11.7 1-19.7 1 5 1 10.5 1 12.3 1-15.8 1 0.1 1 0.5 1-7 1 10.2 1-14.5 1 10 1 14.8 1-22.9 1 22.2 1-25.6 1-0.8 1 25.4 1-0 1-17.1 1 8.6 1 3 1-12.8 1 14.5 1 7.2 1-14.3 1-11 1-2.7 1 29.6 1-21.8 1 14.7 1-22.1 1 20.2 1 10.1 1-7.7 1-6.2 1 11.9 1-20.3 1 15.4 1-14 1 17.7 1-8.6 1-5.5 1 15.9 1-2.5 1-18.6 1 15.7 1 1.9 1-8.9 1-2.2 1-5.6 1 10.6 1-9.6 1-1 1-0.6 1 28.4 1-20.6 1 0 1 10.7 1 9.8 1-28 1 17.6 1 2.7 1-7.2 1-7 1-2.4 1 24.7 1-23 1-5.3 1-1.2 1 1.3 1 12.8 1-10.8 1 10.4 1-8.8 1-4.8 1 21.3 1 8.8 1-21.5 1-6.4 1 20.3 1 30.7 1 0.5 1 11.2 1-25 1 9.2 1-18.6 1 0.8 1-28.5 1 17.8 1-12.9 1 25 1-14.1 1-9 1-0.8 1 20.1 1-9.9 1-11.4 1-3.4 1 28.3 1-16.9 1-10.3 1 9.4 1-5.6 1 16.9 1-6.6 1 16.5 1-26.9 1 8.2 1 13.2 1-26.1 1 25.2 1 6.2 1-23.7 1 22.3 1-19.9 1 18 1 4 1-24.5L1978.9 1762.7l-1 10.6-1-16.2-1 9.3-1-6.6-1 8.4-1 6.6-1-12.5-1-2.2-1-5.6-1 21.3-1-3.6-1-8-1-5.2-1-4.4-1 18.3-1-4-1-1.8-1-10.3-1 6.9-1 8.5-1-15.4-1-1-1 14.5-1-3.9-1 5.9-1 1.4-1-4.9-1-17.6-1 8-1 8.1-1-6-1 1.1-1 32-1 13.9-1-2.7-1-8.5-1-8.1-1-18.4-1-8.8-1-9.9-1 13-1-0.4-1 9.2-1-11.3-1 3.5-1-16-1 17-1-0.5-1-11.3-1 3.4-1 9.4-1-5.7-1-9.3-1-0.1-1 10-1-9.8-1 15.4-1-13.1-1-3.2-1 16.3-1-15-1-4.6-1 41.9-1-21.3-1-10.5-1-8.7-1 18.4-1 1.2-1-21.4-1-0.7-1 21.2-1-6.5-1 0.4-1 1.2-1-19.2-1 22.3-1-8-1 5.1-1-6.6-1-7.6-1-5.2-1 14.1-1-16.2-1 7.7-1 3.2-1-7.5-1 10.2-1-5.9-1 1.3-1 7.6-1 0.4-1-7.2-1-3.4-1-0-1 4.3-1 10.5-1-11.4-1 4.1-1-10.6-1-4.1-1 19.2-1-7.6-1-14.3-1 8.8-1 14.5-1-6-1-12.7-1 16.5-1-6-1 2.7-1 5.9-1-12-1-7.8-1 9.9-1-4.3-1 9-1-10.8-1-4.3-1 22-1-10.7-1-1.9-1 3.7-1 9.7-1 1.5-1 1.9-1 25.7-1-1.2-1 2.7-1 14.2-1-61.1-1 5.4-1-1.6-1 12.4-1-3.4-1 19-1-11.5-1-19.3-1 16.7-1-2.4-1-0.4-1 15.2-1-17.6-1-14.5-1 20.8-1-0-1-3.9-1-12.2-1 1.6-1 2-1-7.1-1 1.1-1-2.7-1 20.9-1-6.1-1 1.3-1-15-1 16.4-1 2.6-1-3-1 4.4-1-14.6-1-5.6-1-1.1-1 11.5-1 6.9-1 26.8-1 11.3-1 1.3-1 0.5-1-11.7-1 1.9-1 9.2-1-11.4-1 0.7-1 7-1-8.3-1 21.2-1-7-1-6.7-1 5-1 7.5-1 0.5-1-4.4-1-4.2-1-28.3-1-10.3-1-4-1-7.8-1 7.1-1 3.3-1-4.9-1 1.7-1 2.6-1-19.5-1 4.6-1 55.6-1-5-1 3-1 13.6-1-6-1-10.6-1 19.9-1-15.6-1-37.9-1-8.3-1 1.6-1-7.8-1 15.6-1-0.7-1-10.2-1 4.9-1-10.5-1 0.9-1 10.2-1 1.4-1 9.4-1-16.2-1 4.4-1 0.9-1 0.5-1-9.3-1 17.1-1-11.9-1-3.8-1 9.2-1-0.3-1-11.6-1 3.6-1-3.2-1 9.6-1 1.4-1 1.1-1 2.7-1-0.5-1-3.2-1-1.2-1-0.2-1-6.6-1 53.6-1 14.5-1-1.6-1-42.1-1-18.9-1 8-1-16.7-1 8.3-1 2.7-1-7.5-1 6.3-1 11.4-1-19.3-1 11.1-1-14.3-1 15-1 10.9-1 29.1-1 2.9-1-11-1 3-1 15.4-1-18.1-1 20.8-1-6.3-1-19.3-1-20.6-1-11.3-1-10.4-1-0.5-1-2.9-1 20.7-1-14.9-1 3.8-1 9.3-1-8.3-1 1.7-1-25.3-1 25.5-1-9.6-1 19.4-1-18.8-1 13.6-1-9.7-1-6.7-1 3.1-1 6.8-1-8.4-1 9.6-1-6.7-1 16.1-1 2.2-1-10.4-1 7.5-1-0.3-1-14.5-1 18.8-1 0.9-1-4.3-1 4.8-1 3-1-11.4-1 10.6-1 1.7-1-3.2-1-15.6-1 5.8-1 0-1 7.2-1-10.3-1 15.2-1 1-1 10.8-1 38.3-1-7.5-1-6.3-1 13.7-1-6.3-1-2.4-1 2.8-1-5.1-1-4-1-44-1 6.1-1-7.9-1 1.2-1 0.2-1 11.9-1-14.6-1-6.6-1 0.9-1 7.9-1 2.8-1-2.3-1 3-1-4.9-1 10.7-1-7.4-1 3.3-1-8.4-1 28.1-1 34.7-1-10.6-1-3.6-1-4.1-1 5.4-1-9.4-1-27.1-1-1-1-7.7-1-13.9-1 4.7-1 17.3-1-20.1-1 2.6-1-0.4-1-0-1 6.6-1 6-1-17.1-1 18.3-1-14.6-1 9.2-1-4.1-1-0.5-1 0.8-1 7.4-1-4.3-1-8.9-1 10.4-1-0.7-1 3.1-1 4.1-1-12.2-1-3.8-1 13.7-1 1.7-1-11.1-1 0.8-1 20.5-1 27.2-1-6.5-1 2.6-1-3.5-1 8.1-1 6.2-1-14.7-1-16.1-1-0.9-1 16.6-1 12.4-1 1.7-1-5.3-1-6.2-1 6.2-1 6-1-14.8-1 6.3-1 3.8-1-15.7-1-0.6-1 22.5-1-20.5-1 7.5-1-4.6-1 10.9-1-6.5-1 14.5-1-23.2-1-18.9-1 35.2-1-10.8-1 18.1-1-3.2-1-5.6-1 0.7-1 2.2-1-8.6-1-4.7-1 6-1-6.2-1 11.8-1 6.9-1-6.7-1-3.1-1 1.4-1-8.8-1 16.1-1-20.9-1 4.4-1 1.7-1 14.5-1-0.5-1-7.9-1 3.9-1 5.4-1-6.5-1-4-1-10.2-1-19.5-1-0.2-1-1.2-1-1.1Z" fill="#c8c8c8" fill-opacity="0.7"/>
<path d="M1537.6 1719l1-4.8 1 5.8 1 9.1 1 26.8 1 11.2 1-8.6 1-11.4 1 4.4 1-4.4 1 16.8 1-11.1 1-2.1 1 6.8 1-7.7 1 14.6 1-16.5 1-1.2 1 15.4 1 2.6 1-16.3 1 5.7 1-8.3 1 8.8 1 6.4 1-0.9 1-8.2 1 6.5 1-13.1 1 4.1 1 3.9 1-6.1 1 1.4 1-25.4 1 29.3 1 3.5 1 7.7 1-1.6 1-3.2 1 4.7 1-17.3 1 7.3 1 5.1 1 3.1 1-12.1 1 5.1 1-9.1 1 4.7 1 10.6 1-17.9 1 1.6 1 10.6 1-9 1 3.2 1-15.6 1 11.5 1 10.4 1-5 1 1.2 1-1.3 1 10.9 1-6.8 1 4.7 1-27.8 1-31.3 1 18.3 1 1.8 1-8 1 0.5 1 6.1 1-15.8 1 1.2 1-0.5 1 3.7 1 2.8 1-1.1 1 7.8 1 3.2 1-19.1 1 1.3 1 12.6 1-5.1 1 8.4 1-14.4 1-1.6 1-1.6 1 18.1 1-18 1 17.8 1-13.3 1-4.3 1 16 1-8.5 1-4.3 1 0.2 1 17.1 1 31.6 1 4.1 1 0.2 1-3.8 1 1.1 1 2.5 1-24.4 1-15.6 1-1.3 1-1.3 1 2.8 1-9.2 1 14.2 1-19 1 16 1-10.1 1-1.8 1 9.5 1 4.9 1-19.4 1 1.5 1 8.4 1 5.4 1-5.2 1 1.6 1 53.2 1-4.7 1-2.3 1 9.2 1-3.3 1-1.2 1 1.5 1-3.7 1 5.7 1-37.2 1-24.2 1 3.8 1 4.2 1 6.3 1-4.6 1-7.9 1 4.6 1-6.1 1 1.1 1 3.7 1-4.2 1 3.6 1 3 1-13.4 1 4.9 1 6.9 1 7.4 1-9.6 1 2.3 1-11.5 1-2.2 1 4.6 1 13.5 1-13.7 1 9.4 1-7.9 1-5.8 1 15 1-19 1 2.4 1 8 1-2.7 1 3.3 1-16 1-14.6 1 20.8 1 0.7 1 14.1 1-0.5 1-15.8 1 15.6 1-11.2 1 0.4 1 13.8 1-15.6 1 12.3 1 34.2 1 6.8 1 6 1-9.7 1 5.8 1-4.5 1 6.8 1-0.1 1 1.3 1-26.2 1-30.7 1 5.7 1-6.9 1 5.9 1-2.6 1 3.9 1 1.5 1-7.2 1 14.9 1-10.1 1 12.5 1-2.4 1-8.5 1 63.6 1-16 1-21.4 1-31.7 1-5.6 1 16.9 1-11.5 1 2.2 1 2.3 1 8.8 1 0.3 1-15 1 13 1-10.4 1 11.1 1-10.1 1 12.1 1-18.6 1 5.9 1 9.4 1-15.1 1 16.6 1-6.4 1-2.2 1 9.1 1-11.1 1 8.7 1-10.9 1-3.4 1 0.9 1 16.8 1-7.6 1-4.1 1 13.4 1 0.4 1-15.4 1 1.6 1 10.4 1 28.8 1 7.1 1 10.6 1-5.4 1-4.3 1 14.4 1-13.4 1-9.9 1-50.8 1-0.2 1 3.7 1-2.6 1 11.3 1 1.8 1-9.9 1 11.2 1-0.5 1-7.2 1 14.2 1 19.3 1 22.3 1-4.2 1-10.8 1 12 1-8.5 1 4.3 1-8.6 1 16.4 1-7.2 1 3.9 1-7.9 1-4.6 1 5.3 1-5.6 1 2.6 1 7.9 1 4.4 1 4.3 1-36 1-15.9 1-5.4 1-7.6 1 9.2 1 6.7 1-13.1 1 9.7 1-6.4 1 0.1 1 0.5 1 11.2 1-0 1-13 1 5.4 1-3.7 1-5.1 1 11.6 1-1.1 1-7 1 11.2 1-6.8 1 8.7 1-1.3 1 20.7 1-21.9 1-4.8 1-5.5 1 3.5 1 13.4 1 30 1-41.1 1 8.7 1-9.5 1 7.6 1-9.7 1 37.6 1 9.2 1-13.6 1 6.3 1-17.2 1-24.1 1-5.3 1 0.9 1-3.6 1-0.6 1 14.7 1-14.5 1-0.4 1 10.9 1-6.2 1 4.1 1 1.8 1-2.3 1-10.9 1 12.5 1 6.1 1-15.9 1 11.7 1 4.1 1-4.2 1-0 1-7.7 1 9.6 1-16 1 3.8 1-4.9 1 1.2 1 0.9 1-1.2 1 12.8 1-10.5 1 9.4 1-10.6 1 18.4 1-12 1 3.1 1-7.4 1 13.4 1-10 1 7.8 1-13.1 1 9.8 1 2.7 1-9.2 1 4.2 1 0.3 1 0.1 1 2.1 1-3 1 0.1 1 1 1 14.3 1-12.6 1-6.5 1 6.3 1 3.1 1 9.5 1-7.5 1 1.7 1 5.7 1-2.1 1 28.5 1-23 1-9.2 1-6.4 1 3.8 1-6.3 1 0.5 1 5.8 1 9.4 1 3.2 1-11.3 1 10.5 1-11.8 1-3.8 1 10.4 1 1.9 1 1.2 1-15.7 1 11.2 1 1.9 1-4.4 1-2.1 1 5.2 1-3.5 1 9.8 1 18.3 1 12 1-5.4 1 2.4 1 3.7 1-11.6 1-17.5 1-13.2 1-3.3 1 2.9 1-0.5 1 10 1-1.1 1-2.5 1 6 1 2 1-15.3 1 6.2 1-6.7 1 2.2 1 7.1 1 4.8 1-1.7 1-4.9 1-3.1 1 7.2 1-0.9 1 2.3 1-1.8 1-0.2 1-2.8 1 9.2 1-15.1 1 0.1 1 3.7 1-3.3 1 3.9 1 1.6 1-8.1L1978.9 1756.8l-1-1.4-1-7.2-1-2.5-1 6.9-1 1.6-1 1.5-1 2.3-1-12.7-1 2.4-1-1.5-1-1-1 3.5-1 0.7-1 2.1-1-0.1-1 3-1-2.3-1-0-1-2.1-1-3-1 8.5-1-8.4-1-2.8-1 9.5-1-4.3-1-0.9-1 1-1 4.4-1-4-1-0.6-1 0.7-1-3.9-1 29.1-1 10.6-1 2.3-1-5.8-1 6.5-1-12-1-19-1-1.9-1 0.1-1-3.7-1-4.8-1 1.3-1-0.3-1 0.1-1-0.8-1 8.6-1-9.4-1 1.4-1 6.1-1-4.8-1 0-1 3-1-4.4-1 6.8-1-4.8-1-6.8-1 3.6-1-0.2-1 2.8-1-0.8-1 29.1-1-26.3-1-9.9-1 7-1-7.8-1 7.6-1-2.7-1 6.5-1-7.7-1 0.3-1 4.9-1 0.3-1-1-1 0.2-1-7.4-1-4.4-1 3.4-1-3.9-1 1.1-1 1.2-1 5.1-1-8.8-1 3.8-1 6.4-1 0.2-1-9.9-1 4.7-1-1.6-1 2.9-1 1.1-1-1.3-1 4.8-1-1.2-1 0.5-1-5.6-1 1.3-1 4.7-1-5.4-1-5.2-1-2.1-1 9-1 2.8-1-6.7-1-1.6-1 9.2-1-3-1-2-1-0.3-1-5-1 6.9-1 2.7-1 2.7-1-2.6-1-3.9-1 6.8-1-11.2-1 8.1-1-4.9-1-4.1-1 2.2-1-1.5-1 2.1-1 24.2-1 23.8-1-2.1-1 3.9-1-2.3-1-39.3-1 3.8-1-0.2-1-5.6-1 3.6-1 28.3-1-19.5-1-8.8-1-3.1-1-2.1-1 1.5-1 26.9-1-11.9-1-9.4-1-5.3-1-6.6-1 4.8-1 7.6-1-5.5-1 0.5-1-7.3-1 6.6-1-4.8-1 1.5-1 10.1-1-13.9-1 4.9-1 1.1-1-5.2-1 11.1-1 0.4-1-0.8-1 0.8-1-7.5-1-0.5-1 13.9-1 41.8-1-5.9-1-2-1 7-1 0.5-1-11.8-1-0.8-1-1.5-1 2.4-1 9.7-1-10-1 0.1-1 7.8-1 1.2-1-10.4-1-0.2-1 10.1-1-3.8-1-10.6-1-25.9-1-10.7-1-1.2-1 1.7-1 0.1-1 1.8-1 0.4-1-7.4-1 9.3-1-4-1-6.9-1 48.8-1 16.4-1-0.7-1 2.4-1-12.6-1 0.5-1 9.6-1-11.4-1-45-1-1.1-1 8.8-1-1.1-1 4.3-1-13.4-1 13.4-1-6.2-1-7.2-1 5.8-1-4.7-1 5-1-3.7-1-3.2-1 9.6-1-8.6-1 6.5-1-1.9-1 0.7-1 1.8-1-7.2-1 7.7-1 2.5-1-5.6-1-2.4-1 7.2-1-3.2-1-3-1 0.8-1 6.5-1-7.3-1-1.5-1 6.1-1-0.1-1-0.3-1 28.5-1 18.9-1 10.2-1-44.5-1-12.4-1-2.7-1 0.4-1-2.6-1-2.7-1 1.2-1 3.1-1 7.7-1-12-1 11.5-1 0.2-1-3.9-1 16.5-1 28.1-1 3.6-1-2-1 0.4-1-6.6-1 2.6-1 6.1-1 3.2-1-11.4-1-37.8-1-10.3-1 9-1-10.4-1 4.6-1-3.6-1 5.4-1-5.6-1-0.8-1 8.8-1-7.5-1-22.3-1 13.3-1 16.2-1-7.4-1 3.2-1 5.9-1-12.1-1 10.7-1-3.1-1 7.5-1-6.8-1-1.2-1-1.8-1 4-1 4.6-1-7.4-1-1.9-1 2.8-1 7.1-1 0.2-1-5.2-1 8.9-1-10.9-1 12.1-1-11.6-1-0.9-1 0.5-1 2.4-1 4.3-1-0.9-1 4.7-1 2.4-1-1.7-1-8.6-1 12.5-1-0.2-1 34.5-1 12.2-1-0-1-7.6-1-3.5-1 12.3-1 1.3-1 0.6-1-10.4-1-40.7-1-11.2-1 1.9-1 8.7-1 0.1-1-4.1-1-2.9-1 1.7-1 3-1-7.4-1-3.6-1 8.4-1 2-1-8.9-1 10.3-1-8.6-1 2.1-1-3.8-1 29.5-1 29.3-1-12.1-1 2.7-1-0.8-1-0.2-1 4.9-1-32.2-1-17-1-0.1-1 2.1-1 2.5-1-10.1-1 7.9-1 2.1-1-11.1-1 6-1-3.7-1 8.8-1-1.9-1-4.3-1 7.4-1-6.8-1-4.4-1 1.3-1 2.9-1 2.2-1-4.5-1 8.7-1-9.8-1 8.8-1-8.3-1 5.1-1-1.2-1 1.9-1-0.5-1-6.3-1 7.9-1-10.5-1 21.5-1 29.9-1-4.3-1 0.3-1-2.6-1 9.4-1-8.6-1 3.6-1-18.8-1-11.8-1 22.7-1 2-1-0.4-1 11.8-1-6.8-1-0.1-1-4.6-1-1.1-1 4.5-1 2.4-1-1.7-1 0-1 9.1-1-0.7-1-7-1-2.6-1 7.4-1-8-1 2.7-1 8.2-1-37.9-1 34.1-1 3.8-1-12.1-1 4-1-3.5-1 2.2-1 5.8-1 4.9-1-1.9-1-8.4-1 10.6-1-0.4-1-11-1 2.6-1 2.3-1-6.1-1-0.3-1 3.5-1 9.5-1-4.6-1 4.6-1-12.7-1 3.5-1 7.9-1-5.8-1 0.8-1-1.1-1 5.9-1-10.2-1-33-1 9.4-1-0.9-1 0.1Z" fill="#a8a8a8" fill-opacity="0.7"/>
<defs><path id="tr20" d="M1537.6 1752l1-7.1 1 5 1-7 1 24.2 1 9.9 1-1.2 1 2.2 1-8.5 1 4.7 1 13.8 1 4 1-5.3 1-14.1 1 18.9 1-4.9 1-26.1 1 10.4 1-1.2 1 2.7 1-4.2 1 10 1 8.6 1-3.8 1-8 1 10.9 1-11 1 9.2 1-4.8 1-1.7 1 5.7 1-8.4 1 5.9 1-26 1 24.9 1 8.8 1-11.2 1 3.1 1 6.3 1-9.4 1-9.6 1 13.3 1-7.4 1 0 1 15.4 1-16.6 1-0.6 1 14.7 1-15.8 1 4.9 1 2.9 1 3 1-0.9 1-9 1-27.4 1 32.1 1-7.3 1-2.5 1 16.9 1-11.7 1-5.5 1 3.2 1 2.2 1-21.4 1-5.2 1-3.3 1-1.7 1 5.6 1-10.4 1 2.6 1 5.6 1-5 1-8.5 1 7.1 1 3.6 1 1.4 1-2.7 1-0.3 1-0.8 1 2.6 1-7.8 1 7.4 1 2.6 1-7.9 1-4.8 1 5.6 1-4.4 1-7.9 1 19.7 1-6.1 1 8.4 1-13.5 1 11.1 1-15 1 7.4 1 8.9 1 27.6 1 6.8 1 6.2 1 3.2 1-8.4 1 8.8 1-31.2 1-17.9 1-3.9 1 8 1-11.2 1-7.4 1 5.4 1-2.2 1 14.6 1-7.8 1 14.2 1-20.9 1 5.1 1-0.8 1 16.6 1-2.3 1-5.6 1-1.2 1-3.7 1 41.4 1 0.2 1 21.7 1-2.5 1-20.8 1 6.3 1 1.1 1-9.9 1 8.7 1-20.6 1-21.6 1-10.6 1 14 1-2.7 1 4.4 1-3.1 1-5.9 1-7.6 1 8.4 1-11.6 1 11.9 1 0.9 1-6.8 1-1.9 1 4.2 1 10.9 1-13.9 1-6.4 1 5.9 1-1.3 1-2 1 17.7 1-4.9 1 2.1 1-15.8 1 1.4 1 12.5 1-3.9 1-9.6 1 10.9 1-0.1 1 1.1 1-6.4 1-13.8 1-5.3 1 14.2 1 0.2 1-10 1 20.8 1-0.7 1 10 1-18.6 1 1.9 1-11 1 4.1 1 5.8 1 47 1-5.3 1 9.4 1 8.8 1-4.9 1-16.9 1 23.3 1-20.5 1 8.8 1-20.2 1-28 1-1.6 1 9.7 1-5.5 1-0.5 1-7.1 1-0.3 1 15.8 1-3.6 1-10.9 1 12.8 1-15.1 1 21.8 1 34.4 1 1.4 1-21.3 1-36.6 1 9.7 1-1.9 1-8.9 1 16.9 1 1.2 1-7.7 1-9 1 9.3 1-0.7 1-6.7 1-2.4 1 3.5 1 5.6 1-5.3 1-7.8 1 0.5 1 27.3 1-18.3 1 4.3 1-11.3 1 23.5 1-25.8 1 15.7 1 0.6 1-15.3 1 16.8 1-3.6 1 4.1 1-6.8 1 4.3 1-7.9 1 12.6 1-14.2 1 8.5 1 38.8 1 6.6 1 7.4 1-16.7 1 10.2 1 7.8 1 2.2 1-21.9 1-42.8 1 0.1 1 4.5 1-6.4 1-4 1-6.8 1 11.9 1 5.8 1-13.6 1 18.5 1 4.8 1 23.2 1 8.9 1-7.1 1 9.9 1-16.3 1 21.9 1-14.5 1-3.7 1 3 1 16.1 1-12.8 1 9.2 1-3 1-13.9 1 17.4 1-3.5 1-15 1 2.8 1 9.2 1-35.6 1-0.7 1-4.7 1-15.1 1 16.2 1-13.1 1 9.6 1-1.4 1 10.2 1-4 1-4.8 1 8.5 1-12.2 1-0.8 1 9 1-12.9 1-2.8 1-2.1 1-2 1 17 1-11.5 1 8.9 1-5.3 1 4.1 1 19.7 1-29.1 1 6.8 1 2.4 1-6.6 1 10.7 1 38.6 1-54.5 1 0.2 1 9 1 11.9 1-12.5 1 53.7 1-16.2 1 12.3 1 4.8 1-20.4 1-38.8 1 24 1-27.1 1-4.4 1 22 1-6.6 1-16.2 1 8.6 1 0.7 1-3.3 1 0.3 1 7.1 1-16.3 1 4 1 20.7 1-22.6 1 8.7 1 1 1-3.6 1 6.2 1-13.5 1 17 1-4.1 1 1.7 1-16.7 1 11.7 1-8.5 1 16.4 1 0.2 1 5.3 1-2.2 1-6.9 1 7.6 1-5 1 7.8 1 0.9 1-0.2 1-5.4 1-13.8 1 2.6 1 5.6 1-12.3 1 7.8 1-1.6 1 2.4 1 2.4 1 13.7 1 0.4 1 0.1 1-8.4 1 4.6 1-14 1 2.5 1-3.6 1 4.3 1 4.3 1-5 1-4.6 1 19.1 1-5.5 1-1.2 1 20.5 1-14.6 1 4.6 1-6.3 1 2.2 1-12.9 1-1.8 1 7.1 1 10.7 1-19.7 1 16.6 1-5.6 1 8 1-15.3 1 9.9 1 2.3 1-12 1 15.2 1-15.3 1 1.9 1 18.3 1-11.2 1-0.2 1-3.4 1-1.4 1 19.1 1 18.1 1 2.7 1-0.6 1-8.3 1 3.8 1-19.7 1-3.2 1-4 1-2.4 1-9.8 1 11.4 1 8.9 1-16.2 1 5.3 1-6.9 1 10 1-6.8 1-11.1 1 12.4 1 12 1-5.1 1 0.4 1 6.3 1-1.7 1-11.1 1 17.1 1-24 1 15.8 1-10.1 1 5.3 1-2.6 1 13.9 1-13.8 1-3.2 1 16.6 1-3.2 1 0.9 1-12.8" fill="none" stroke-linejoin="round"/></defs>
<defs><path id="tr21" d="M1537.6 1735.6l1-3 1 3.1 1 2.6 1 31.5 1 5.4 1 1.5 1-0.6 1 11.5 1-17.9 1 22.7 1-5.1 1-18.3 1-0 1 13.8 1-9 1 0.4 1-6.3 1 10 1 3.2 1-2.2 1 8.5 1-5.1 1 5.1 1-7.5 1-7.1 1 5.3 1-4.2 1-5.4 1 15.4 1 1.3 1-14.8 1 14.5 1-45.5 1 29.4 1 6.1 1 8.5 1 11.4 1-8.4 1-5.1 1-11.1 1-0.8 1 13.4 1-11.2 1 3.9 1-3 1 14.9 1-21.6 1 17.9 1-16.6 1 15.1 1-9.7 1-4 1 9.9 1-38.7 1 26.6 1 21.4 1-5.3 1-9.9 1 12.3 1-7 1-8.3 1 12.7 1-18.9 1-30.3 1-8.3 1 2.6 1 1.9 1 6 1-0.8 1 7.3 1-17.9 1 18.4 1-4.3 1-4.3 1-5.3 1 12.7 1-6.4 1 6.7 1 4.9 1-2.5 1-2.2 1-1.4 1 3.9 1-3.8 1-11.6 1-2.6 1-4.8 1 7.7 1-1.3 1 4.6 1 0.6 1 3.5 1-10.8 1 5.3 1 27.8 1 21.8 1-9.7 1 12.7 1 6.9 1-27.1 1 24 1-27.8 1-17.2 1-4 1-6.4 1 5.4 1 12.3 1-8 1-13.3 1 18.1 1-1.5 1-5.3 1-0.4 1-12.1 1 8.7 1-3.9 1 7.2 1 0.6 1 6.2 1-9.2 1 37.2 1 9.8 1 3.1 1 3.7 1 2.6 1 4.6 1-9.4 1-7.3 1 1.7 1-30.4 1-1.4 1-23.2 1 10.1 1 11 1-1.8 1-12.4 1 1.2 1 10.4 1-13.6 1 2.8 1-4.9 1 8.6 1-14.2 1 9.1 1 3.4 1-7.4 1 9.5 1 2.6 1-9.9 1 8.9 1-0 1-7.6 1-8.1 1-4.5 1 10.5 1-7.7 1-3.8 1-1.1 1 13 1 1.2 1-15.5 1 16.8 1-6 1-7.6 1-5.9 1 10.6 1-1.3 1 1.3 1 5.6 1 6.3 1-5.5 1-15.6 1 24.2 1-5 1-1.7 1-9.1 1 43.2 1 10.9 1-7.3 1 1.2 1 11.7 1-7.6 1-8.5 1 15 1-8.8 1-22.4 1-28 1-1.6 1 4.5 1 1.9 1-3.8 1 2.7 1 13.7 1-12.3 1-2 1 12.2 1-6.2 1 3.7 1 2.4 1 39.3 1-4.1 1-6.4 1-31.8 1 4.9 1-19.3 1 10.1 1-6.1 1 15.4 1-19.8 1 20.8 1-14.6 1-4.2 1 6.8 1-9.3 1 19.4 1-2.1 1-1 1 1.9 1-11.3 1 0.5 1-7.7 1 21.7 1-7.4 1-8.5 1 8.4 1-8.4 1-5.3 1 19.7 1-19.7 1 18.6 1-17.7 1 20.6 1-6.9 1-1.3 1-3.2 1 6.1 1 1.4 1 34.7 1-1.4 1 16.9 1 0.9 1-5.1 1-1.7 1-2.1 1 1.5 1-47.9 1-10.1 1-7.7 1 17.2 1-16 1 6.5 1 3.4 1 5.5 1-9.4 1 2.4 1 11.6 1 30.8 1-5.8 1 6.7 1-1.1 1 18 1-23.7 1 17.3 1-9.9 1 5.3 1-4.4 1-6.3 1 2.6 1 14.6 1-3.6 1-3.8 1 9.4 1-19 1 7.7 1-3.2 1-34.6 1-11.3 1 4.8 1 1.9 1 3 1 5.1 1-6.1 1-9.8 1 1.4 1-8.1 1 9.2 1-4.9 1 10 1-14.3 1 23.1 1-21.1 1 10.9 1 2.7 1-4.9 1 1 1-7.9 1 4.1 1 2.7 1 7.9 1 22 1-19.8 1 3.2 1-11.3 1-0.2 1 5.7 1 26.5 1-36.3 1-7.1 1 19.3 1-4.6 1 3.1 1 38 1-8.6 1 12.5 1-13.1 1-17.4 1-25.2 1 2.2 1 3.2 1-12.9 1 16.7 1-11.7 1 0.5 1 15.3 1-9.5 1 0.4 1-1.4 1-8.4 1 10.3 1-14.9 1 15.4 1 5.3 1 2.1 1-5 1-15.2 1 5.2 1 7.5 1 0.8 1-3.8 1-7.6 1 14 1-15 1 4.6 1-6.6 1 20.7 1-2.5 1-4.1 1-9 1 2.6 1-3.4 1-3.9 1 17.4 1-8.8 1 0.2 1 3.9 1 7.7 1-2.8 1-11 1 0.6 1 3.9 1 6.6 1-6 1-11.3 1 21.1 1 2.2 1-22.1 1 1.8 1 1.5 1 20.7 1-11.1 1-4.3 1 6.7 1 7.8 1-19.6 1 18.1 1-13.8 1-0.2 1 41.1 1-39 1-0.5 1 0.4 1 16.9 1-11.5 1 8.4 1-17.3 1 14 1 3.6 1-3.8 1 1.1 1-5.2 1-7 1 19.3 1-23.2 1 7 1 12.6 1-8.8 1 5.6 1-8 1 0.1 1 9.9 1-11.4 1-4.7 1 29.8 1 14.2 1 2.6 1 4.4 1-15 1 3.3 1-21.2 1-2.7 1 5.4 1 1.6 1-17.1 1 3.2 1 13.3 1 0.8 1-15 1 6.4 1-14 1 2.5 1-2 1 13 1-4.7 1 11.5 1-14.4 1-13.6 1 10.1 1 19.4 1-18.1 1-1.9 1 2 1 6.3 1-5.1 1 15.2 1-16.3 1 13.6 1 4.4 1-0.3 1 1.1 1-0.4 1-1.1" fill="none" stroke-linejoin="round"/></defs>
<defs><path id="tr22" d="M1537.6 1735.9l1-1.6 1 15.8 1-6.7 1 28.9 1 1.8 1 8.9 1 8.4 1-14.8 1 7.2 1-3.6 1 6.2 1-13.3 1-4.7 1 22.9 1-4.9 1-2.6 1 4.4 1-11.4 1-8.9 1 7.5 1 4.5 1 8.6 1-18.8 1 7 1 6.2 1-4.1 1 11 1-17.9 1 9.3 1 6 1-12.4 1-7 1-17.6 1 34.8 1 4 1-7.5 1-4.4 1-9.8 1 8.5 1-0.2 1 11 1-0.5 1-10.5 1 1.7 1-0.5 1 7.6 1-3.8 1-9.9 1 17.2 1-7.1 1-11.9 1 9.7 1-8.6 1-28.3 1 32 1 7.4 1-8.8 1 6.1 1 9.6 1-13.3 1-13.5 1 3.4 1-5.3 1-30.5 1 4.9 1 4.6 1 6.8 1-7.9 1-4.4 1 0.3 1 2.3 1 5.5 1-16.8 1 1 1 2.4 1 9.8 1-9 1 9.3 1-3.4 1-11.6 1 8.3 1-1.9 1 10.7 1-16.4 1 4.8 1 18.3 1-10.2 1-8.9 1 18.9 1-22.2 1 7.5 1-0.3 1 1.8 1 1.8 1 26.2 1 24 1 7.7 1 1.7 1-21.7 1 15.5 1-7.2 1-21.8 1-24 1 14.7 1-5.2 1-2.8 1-2 1-10 1-4.8 1 14.7 1-2.2 1-1.8 1 13.1 1-18.6 1 0.3 1-5.2 1 19.4 1-0.5 1-8.6 1 5.7 1 33.1 1 6.3 1 7.5 1-0.2 1 2.2 1-13.2 1 1.2 1 0.7 1 9.7 1-42.1 1-0.3 1-7.3 1 6.9 1-9.6 1 5 1 2.8 1-10.1 1-4.6 1 9.7 1 3.6 1 2.6 1 0.7 1-3 1-1.4 1 0.5 1-2 1-10.8 1-5.3 1 5.9 1 1.3 1-2.6 1 0.1 1 5.9 1 5.5 1 1.3 1-18.6 1 0.4 1 1.9 1-3.7 1 21.5 1-25.8 1 18.2 1-9.9 1-7.8 1 6.1 1 1.7 1 0.7 1 4.6 1 9.1 1-8.4 1-3.8 1 6.2 1-0.8 1 3.9 1-7.1 1 11.2 1 17.6 1 21.8 1 11.6 1-10.9 1 6.4 1 19.6 1-32.8 1 0.9 1 1.8 1-30 1-22.2 1-1.2 1 2.4 1 2.4 1 9.5 1-13 1-4.4 1 0.3 1 15.4 1-10.4 1 10.6 1 1.5 1-8.2 1 59 1 3.8 1-15.7 1-53.6 1 0.1 1-4.3 1 19 1 0 1-17.3 1 11.1 1 4.8 1-3.4 1-1.7 1-9 1 17.3 1-13 1 2.8 1-11.6 1 13.2 1 2.3 1-13.5 1 13.4 1 1.1 1-14.3 1 6.5 1 10.4 1-2.9 1 5.4 1-5.2 1-2.8 1 8.2 1-14.1 1-3.9 1 3.9 1 1.9 1 11.1 1 3.6 1-12.3 1 43.6 1 17.7 1-10.1 1-5.5 1 15.3 1-10.4 1-9.8 1 2.6 1-54.3 1-0.1 1-3.8 1 21.6 1-19.4 1 4.7 1 7.2 1-2.4 1-5.2 1-6.8 1 10.8 1 35.2 1 3.7 1 13.4 1-0.2 1 4 1-14.8 1 6.3 1 0.2 1-2.8 1 11.4 1-7.3 1-7.3 1 2.4 1 9.3 1-9.6 1 5.4 1-13 1 6.9 1 7.9 1-35 1-6 1-10.4 1 0.2 1 4.3 1 7.9 1-14.7 1-6.5 1 16.5 1 4.4 1-7.7 1-2 1-0.9 1-4 1 15.3 1-6.7 1 4.7 1-24.7 1 15.8 1-6.4 1 1.5 1-6.8 1 16.1 1 27.4 1-11.6 1-26.8 1 12.6 1-8.6 1-7 1 20.8 1 12 1-11.1 1-19.4 1 5.7 1-9 1 2.3 1 57.3 1-1.5 1-16.3 1 14.4 1-16.6 1-26.2 1-11 1 9.1 1-6.6 1-6.5 1 2.2 1 18.8 1-4.6 1-5.7 1-7.9 1 11.8 1-11 1-3.9 1 9.4 1-3.7 1 1 1 6.1 1-9.3 1 5.8 1-3.2 1 8.6 1-1.3 1 1.1 1-17.5 1 11.1 1-3.1 1 7.6 1-14.1 1 3.2 1 12.6 1-9.5 1-4.4 1 18.4 1-21.3 1-1.8 1 24.4 1-21.1 1-0.2 1 4.1 1 14.8 1-19.3 1 5.9 1-1.8 1 2 1-5.1 1 20.3 1 1.8 1-15.4 1 11 1-8 1-8.6 1 22.5 1-4.6 1 2.4 1-1.8 1-1.1 1-16.3 1 18.4 1-17.5 1 14.5 1-10.5 1 33.8 1-31.4 1-3.8 1 14.3 1 1.7 1-16.7 1-0.3 1 6.3 1 2 1-0.3 1-5.4 1 13.7 1 0.6 1 5.1 1-14.8 1-0.7 1-7.2 1 12.5 1-5.1 1 23.5 1-11.4 1-12.7 1 11.7 1-1.6 1-20.9 1 45.9 1 0.6 1 16.3 1-10.5 1-1.9 1-16.7 1-5.1 1-22.6 1 21 1 2 1-11.2 1-6.3 1 12.3 1-5.3 1-11.5 1 22.7 1 0.4 1-13.6 1-9.7 1 7 1 15.6 1-3.2 1-0.5 1-1.7 1 3.5 1-6.2 1-5.7 1-7.3 1 10.1 1-2.9 1 17.8 1-3.8 1-2.4 1-14.1 1 6.5 1 4 1-7.7 1 3.4 1-3.4" fill="none" stroke-linejoin="round"/></defs>
<use href="#tr20" stroke="#30241f" stroke-width="4.0" stroke-dasharray="0 3.6" stroke-linecap="round"/>
<use href="#tr21" stroke="#30241f" stroke-width="4.0" stroke-dasharray="0 4.3" stroke-linecap="round"/>
<use href="#tr22" stroke="#30241f" stroke-width="4.0" stroke-dasharray="0 5.0" stroke-linecap="round"/>
<use href="#tr20" stroke="#d8521c" stroke-width="2.0" stroke-dasharray="0 3.6" stroke-linecap="round"/>
<use href="#tr21" stroke="#d8521c" stroke-width="2.0" stroke-dasharray="0 4.3" stroke-linecap="round"/>
<use href="#tr22" stroke="#d8521c" stroke-width="2.0" stroke-dasharray="0 5.0" stroke-linecap="round"/>
</g>
<path d="M1537.1 1645.3L1571 1645.3L1572.5 1642.6L1606.4 1642.6L1607.9 1639.9L1641.8 1639.9L1643.3 1637.2L1677.2 1637.2L1678.7 1634.5L1712.5 1634.5L1714 1631.8L1747.9 1631.8L1749.4 1629.1L1783.3 1629.1L1784.8 1626.4L1818.7 1626.4L1820.2 1623.7L1854.1 1623.7L1855.6 1621.1L1889.4 1621.1L1890.9 1618.4L1924.8 1618.4L1926.3 1615.7L1960.2 1615.7L1961.7 1613L1979.4 1613" fill="none" stroke="#3a85cf" stroke-width="2.6" stroke-linejoin="round"/>
<path d="M1537.1 1581.6H1979.4V1827.5H1537.1Z" fill="none" stroke="#1a1a1a" stroke-width="1.7"/>
<path d="M1537.1 1656L1979.4 1656" stroke="#1a1a1a" stroke-width="2" fill="none" />
<path d="M1581.4 1581.6v9M1581.4 1647v18M1581.4 1827.5v-9M1625.6 1581.6v9M1625.6 1647v18M1625.6 1827.5v-9M1669.8 1581.6v9M1669.8 1647v18M1669.8 1827.5v-9M1714 1581.6v9M1714 1647v18M1714 1827.5v-9M1758.3 1581.6v9M1758.3 1647v18M1758.3 1827.5v-9M1802.5 1581.6v9M1802.5 1647v18M1802.5 1827.5v-9M1846.7 1581.6v9M1846.7 1647v18M1846.7 1827.5v-9M1890.9 1581.6v9M1890.9 1647v18M1890.9 1827.5v-9M1935.2 1581.6v9M1935.2 1647v18M1935.2 1827.5v-9M1537.1 1587.8h5M1979.4 1587.8h-5M1537.1 1621.3h5M1979.4 1621.3h-5M1537.1 1698.1h5M1979.4 1698.1h-5M1537.1 1744.2h5M1979.4 1744.2h-5M1537.1 1790.3h5M1979.4 1790.3h-5" fill="none" stroke="#333" stroke-width="1.5"/>
<text x="1529.1" y="1594.2" font-size="18" text-anchor="middle" font-weight="bold">4</text>
<text x="1529.1" y="1627.7" font-size="18" text-anchor="middle" font-weight="bold">3</text>
<text x="1529.1" y="1662.4" font-size="18" text-anchor="middle" font-weight="bold">2</text>
<text x="1522.4" y="1704.5" font-size="18" text-anchor="middle" font-weight="bold">40</text>
<text x="1522.4" y="1750.6" font-size="18" text-anchor="middle" font-weight="bold">20</text>
<text x="1529.1" y="1796.7" font-size="18" text-anchor="middle" font-weight="bold">0</text>
<text x="1537.1" y="1853.1" font-size="18" text-anchor="middle" font-weight="bold">0</text>
<text x="1581.4" y="1853.1" font-size="18" text-anchor="middle" font-weight="bold">50</text>
<text x="1625.6" y="1853.1" font-size="18" text-anchor="middle" font-weight="bold">100</text>
<text x="1669.9" y="1853.1" font-size="18" text-anchor="middle" font-weight="bold">150</text>
<text x="1714.2" y="1853.1" font-size="18" text-anchor="middle" font-weight="bold">200</text>
<text x="1758.4" y="1853.1" font-size="18" text-anchor="middle" font-weight="bold">250</text>
<text x="1802.7" y="1853.1" font-size="18" text-anchor="middle" font-weight="bold">300</text>
<text x="1846.6" y="1853.1" font-size="18" text-anchor="middle" font-weight="bold">350</text>
<text x="1890.9" y="1853.1" font-size="18" text-anchor="middle" font-weight="bold">400</text>
<text x="1935.1" y="1853.1" font-size="18" text-anchor="middle" font-weight="bold">450</text>
<text x="1979.4" y="1853.1" font-size="18" text-anchor="middle" font-weight="bold">500</text>
<text x="1579.8" y="1565.2" font-size="23.5" font-weight="bold" fill="#f5201c" textLength="120" lengthAdjust="spacingAndGlyphs">2.0～2.5 pN</text>
<text x="1504.4" y="1642.2" font-size="17.5" text-anchor="middle" font-weight="bold" transform="rotate(-90 1504.4 1642.2)" textLength="94" lengthAdjust="spacingAndGlyphs">Force (pN)</text>
<text x="1504.4" y="1772.8" font-size="17.5" text-anchor="middle" font-weight="bold" transform="rotate(-90 1504.4 1772.8)" textLength="82" lengthAdjust="spacingAndGlyphs">Ext. (nm)</text>
<text x="1476.7" y="1711.3" font-size="22" text-anchor="middle" transform="rotate(-90 1476.7 1711.3)" textLength="109" lengthAdjust="spacingAndGlyphs" stroke="#000" stroke-width="0.5">H2A-G22R</text>
<g clip-path="url(#cg3)">
<path d="M969 2096.6l1 13.8 1-7.1 1-0.5 1 13.8 1 3.6 1-14 1 12.7 1-7 1-13.6 1 0.4 1 20 1 0.9 1-3.8 1-16.2 1 21.3 1-5.4 1 3.1 1-0.6 1-10.6 1 9 1-6.1 1-8.7 1 0.2 1 8.1 1-9.9 1 5.6 1-6.8 1 15.3 1-3.3 1-5.7 1-9.8 1 8.6 1 3.8 1 5.9 1-0.9 1 1.7 1-20.6 1 2.6 1-0.3 1 9.7 1-4.9 1 10.9 1-5 1 8.9 1-7.4 1 4.4 1 4 1-21.9 1 21.8 1-19.1 1 2.9 1 16.2 1-10.6 1-13.7 1 0.2 1 11.2 1-5.6 1 1.6 1 11 1-6.9 1-1.3 1 5.3 1-11.4 1 9.9 1-8.2 1 18.2 1-10.2 1 10.6 1-16.1 1-6.1 1 8.7 1-0.6 1-1.6 1 10.4 1-4.2 1-5.2 1-1.9 1 7 1-2.7 1 3.8 1-6 1-3.3 1 9.2 1-9.6 1-4.4 1 8.2 1-11.9 1 17.8 1-16.3 1 19.6 1-4.9 1-12.1 1 20.8 1-15.5 1-6.9 1-2 1 6.9 1 8.9 1 0.3 1-8 1 15 1 1 1-22.8 1 6.7 1 12.3 1-7.1 1 3.6 1-15.5 1 15.4 1-11.7 1-0.6 1 11.2 1 1.7 1-7.2 1 3.2 1-5.2 1 7 1-12.5 1 9.9 1 7.5 1-17.1 1-3.3 1 5.6 1 3.5 1-8.7 1-1.7 1 24.5 1-12.8 1 12.4 1-8.4 1 2.4 1-5.9 1-5.8 1-4.9 1 15.9 1 6.6 1-26.3 1 5.7 1 6.1 1 11.6 1 1.5 1-23.5 1 10.7 1-8.9 1 2 1 0.8 1-1.5 1 14.6 1 0.1 1-5.1 1-9 1-0.8 1 0.9 1 4.7 1 2.7 1 7.4 1-12.6 1 0.3 1 3.6 1-5.7 1-6.8 1 0.9 1 22.2 1-4.9 1-8.7 1-2.1 1 10.7 1-17.3 1 12.4 1-8.2 1 18.9 1-6.1 1 6.8 1-20.5 1 7.1 1-11.5 1 9.1 1 7.4 1-0.9 1-0.6 1 4.6 1 2.3 1-14.5 1 8.9 1-3.8 1-6.9 1 11.5 1-4.5 1 3 1-0.1 1-9.2 1 15 1-8.1 1 7.6 1-15 1 9.8 1-17.8 1 12.8 1-4.8 1 3.6 1-7.9 1 3.1 1 1.5 1 16.1 1-3 1-16.3 1 9 1-15.1 1 9 1-5.1 1 2 1-5.9 1 8.1 1-7.5 1 13.6 1 4.1 1 4.1 1-3.9 1-17.1 1 6.2 1 16.3 1 0.3 1-11.6 1-2.3 1 4.8 1 9 1-6.5 1-16.4 1 4 1-2.5 1 14.5 1-10.7 1 12.5 1-2.8 1-17.5 1 19.7 1-2.2 1 1.9 1-17.4 1 4.7 1 2.5 1-7 1 10.2 1-12.1 1 3.6 1 12.6 1 1.6 1-8.1 1 2.4 1-9.2 1 3.6 1-2.5 1 3.6 1 9 1-12.8 1-6.4 1 9.1 1-2 1 12.6 1 3 1-8.8 1-3.9 1-3.6 1 6.7 1-1.9 1 12 1 1 1-2 1-5.3 1 1.9 1 2.6 1-5.3 1-0 1-13 1-3 1-1.6 1 6.8 1 19.3 1-6.1 1-20.3 1 8 1-4.4 1 17.4 1-1.1 1 3.7 1-11.4 1 4.2 1-2.9 1 8.8 1 2.9 1-9.7 1-14.4 1 7.2 1 2.1 1 13.5 1-9.9 1 1.6 1-7 1 6 1-10.7 1 14 1-12.1 1 19.2 1-3.8 1-17.4 1-1.6 1 14 1-0.9 1-31.6 1-17.3 1-0.7 1-24 1 11.1 1 7 1-5.6 1 3.5 1-5.6 1 4.2 1 0.9 1-9.6 1 11.2 1-14.1 1 2.1 1-5.3 1 20.9 1-18.9 1 3.8 1 14 1-19.5 1 10.8 1 8.5 1-1 1-21.1 1 5.1 1 15 1-17.6 1 22.6 1-17.6 1 1.6 1-6.4 1-1.1 1 4.6 1-3.1 1 10 1-12.6 1 13.3 1-8 1-0.7 1 9.1 1-11.2 1 2.6 1 14.8 1-11.5 1 2.6 1-3 1 15 1-18 1 8 1-9.2 1 13.1 1 5.8 1-11.9 1-4.7 1-3.8 1 6.2 1-9.1 1 19 1 1 1-7.6 1-6.9 1-3 1 18.5 1-14.3 1 6.5 1-4.9 1 11.3 1-1.8 1-12.8 1 7.8 1-17 1 12.4 1 4.1 1 4.2 1-9.1 1 0.3 1 6.7 1-19.1 1 12.1 1-7.1 1 2.2 1-4 1 19.3 1-23 1 9.6 1 11.4 1-11.5 1 14.2 1-9.8 1 8.5 1 1.2 1-10.8 1-10.4 1 2 1-4.8 1 4.1 1 4.2 1 0.3 1-9.6 1 22 1-10.5 1-0.8 1 14 1-23 1 5.1 1 8.9 1-12.2 1 8.4 1-6.8 1 4.6 1-8.4 1 9.3 1 10.9 1-18 1 14.1 1-9.2 1-9.3 1 5 1 17.3 1-20.6 1-1.8 1 11.5 1 5.5 1-5.7 1-1.9 1 12.8 1-21.4 1 5.3L1406.9 2074.3l-1-6.1-1 5.3-1 6.4-1-8.4-1-1.8-1 8.1-1 3-1-7.3-1-6.2-1 3.5-1-1.1-1-4.6-1 11.1-1 0.2-1-1-1 4-1 3.6-1-1.6-1-14.7-1 2.5-1 3.1-1 8.1-1-4.3-1-2.6-1 1.3-1 3-1 5.8-1-11.8-1 3.2-1 3-1-4.3-1 0.3-1 8.8-1-13.7-1-1.1-1 11.7-1-11.8-1 8.6-1 1.4-1-7.7-1-1.4-1 3.8-1 4-1 3-1-0.6-1-5-1 6.6-1-5.8-1 8-1-8.2-1 8.1-1-6.8-1-5-1 2.6-1 0-1 7.2-1 0.9-1-9.3-1 13.7-1 0.5-1-11.9-1 11-1-9-1 5.3-1 1.2-1-10-1 0.1-1-1.1-1 12.2-1-4.2-1 2.8-1-0.1-1-7-1-3.1-1 2.8-1 1.2-1 9.4-1 1.2-1-4.5-1-4.3-1 1.9-1-5.9-1 9.2-1 5.1-1-12.6-1-1.4-1 10.5-1 3.2-1-8-1-1.5-1 6.8-1-2.9-1-7.8-1 4-1 0.1-1-0.3-1 8.3-1 2.6-1-15.4-1 9.2-1-7-1 9.7-1 2-1-3.1-1 3.1-1-5.8-1 10-1-17.7-1 17.1-1-4.2-1 2.6-1-1-1-2.2-1-1.1-1-8.2-1-1.9-1 2.8-1 1.3-1-2-1 14.9-1 1-1-8.6-1-1.7-1 4.5-1 6.2-1-17-1 25.8-1 33-1-7-1 15.7-1-6.6-1 13.5-1-9.8-1 9-1-0.8-1 1.3-1-0.3-1-1.2-1 0.9-1-10-1 7.6-1 0.8-1-9.2-1 4.8-1-8.1-1 2.9-1-5-1 2.6-1 11.6-1-8-1-6.3-1 11.8-1-0.2-1 6.3-1-11.2-1-0.5-1 1.2-1-5.5-1 7-1 5-1 0.2-1-5.3-1-6.2-1 8.5-1 3.5-1-11.5-1 15.9-1-0.1-1-2.8-1-11.3-1 6.4-1-7.3-1 16.1-1-9.2-1 3-1-11.7-1 0.3-1 12.8-1-12.1-1 3.1-1 0.6-1 9.5-1-1.8-1-1.3-1 5.7-1-14.4-1 13.8-1-8.9-1 11.1-1-0.4-1-3.5-1-10.9-1 12-1 0.4-1-1-1-13.7-1 7.2-1 9.7-1-14.5-1 14.6-1-1.5-1-6.4-1 1.5-1-9.1-1 7.8-1 1.2-1 5-1-13.8-1 8.9-1 4.2-1-11.9-1 13.6-1 1.4-1-3.2-1-8.2-1 1.2-1 6-1-8.2-1 2.2-1 4.9-1 1-1 3.7-1-4.8-1-5.9-1-1.4-1 3.7-1 9.7-1-12.9-1 1.2-1 5.1-1 5.6-1-5.8-1-7.1-1 9.4-1 3.8-1-8.8-1-4-1 11.8-1-6.7-1-4.6-1 12.7-1-15.5-1 2.2-1-0.8-1 8.3-1-9.5-1 2.2-1 1-1 1.1-1-4-1 14.2-1-13-1 9.3-1-7.6-1-2.6-1 1.7-1 3.7-1-2.7-1 2.8-1 12.4-1-16.2-1 17.1-1-2.2-1-1.4-1-1.9-1-12.3-1 4.6-1 10.9-1-11.6-1 1-1 9.8-1-3.4-1 1.5-1-3.8-1 6-1-1.1-1-0.6-1-12.4-1 8.9-1 4.9-1-10-1 1.6-1 3.3-1 5-1-0.1-1-0.3-1-11.9-1 16-1-12.5-1 6.2-1 6.5-1-13.1-1 4.5-1 6.3-1-14.2-1 15.5-1-0.7-1-10.4-1-3.9-1 12.1-1-6.8-1 4.7-1 3.3-1 0.3-1-1.3-1 4.5-1-8.4-1 8-1-9.2-1-0.8-1 5.7-1-6.2-1 6.9-1-11-1 7-1-5.9-1-0.6-1 6.2-1 10.3-1-16.6-1 5.5-1-2.5-1 3.1-1-4.2-1 5.6-1 2.2-1 4.7-1 1.2-1 2.3-1-2.2-1-11.6-1 10.8-1-4.6-1-3.5-1-3.5-1-1-1-1.7-1 15.9-1-12.6-1 7.7-1 5.6-1-5.1-1-1.4-1 3.1-1 2.9-1-8.3-1-1.7-1 3.5-1 8.6-1-4-1-13.1-1 4.2-1-3.3-1-1.2-1 11.3-1-2.8-1-3.6-1 1.9-1 7.2-1-1.1-1 1.6-1-9.5-1 10-1-8.8-1-3.5-1 15.6-1-16.1-1 10.4-1-0.7-1-10.5-1 11.4-1-11.8-1 1.7-1 1.3-1 11.4-1-10.3-1 6.5-1 1-1-10.1-1 16.7-1-13.9-1-0.5-1 0.4-1 11.9-1-13.8-1 5.7-1 2.7-1-1.2-1-3.3-1 2.3-1 7.5-1-5.5-1-3-1-6.2-1 13.1-1-10.2-1 7.5-1 2-1-9.7-1 14.1-1 1.9-1-17.7-1 16.3-1 0.9-1-12-1 5.6-1-6.4-1 2.4-1 9.1-1-10.2-1 12.4-1-1-1-7.4-1-0.2-1-5.8-1 6.7-1-6.9-1 10.6-1-2.8-1-2.3-1 8.2-1-6.4-1 1-1-4.8-1 1.7-1 2.1-1-7-1 7.7-1-8.2-1 6.5-1-6.2-1 6.8-1 7.3-1 0.6-1-13.3-1 12.1-1-7.7Z" fill="#c8c8c8" fill-opacity="0.7"/>
<path d="M969 2126.5l1-10.2 1 6.6 1 0.1 1-6.9 1 10.1 1-5.2 1 5.5 1-3.8 1 0.2 1-10 1 3.5 1 8.5 1 1 1-0.5 1-4.4 1-3.5 1-4 1 6.6 1 5.2 1 1.1 1-8 1-1.8 1-2.1 1 10.7 1 0.9 1-0.4 1-6.3 1-4.7 1 7 1 1.6 1 1.6 1-5.7 1 3.4 1-6 1 2.9 1-2.8 1 7.6 1-6.5 1 0.7 1-2.6 1 6.3 1 1.8 1-0.8 1-7 1-3.9 1 5.2 1 0 1 0.5 1-6.8 1 9.5 1 4.7 1-5.2 1 0.9 1 1.3 1-2.4 1-5.6 1-4.6 1 15.5 1-2.4 1-1.4 1-8.2 1 7.1 1-0.3 1-3.9 1 5.9 1-5.2 1 7.5 1-4 1-9.2 1 5.3 1-2 1 5.5 1 1.9 1-10.7 1 5.3 1 2.4 1-4.1 1-3.1 1 0.8 1 7.6 1-10.6 1 7.9 1 1 1 3.5 1-13.3 1 6.2 1-0.1 1-5.9 1 13.3 1-3.4 1 3.3 1-6.6 1 7.2 1-14.3 1 6.5 1-5 1-0.7 1-1 1 9.7 1-5.3 1-0.3 1-4.5 1 10.2 1-5.9 1-2.2 1 3.9 1 7.4 1-11.6 1 11.9 1-6.1 1 2 1-2.3 1-7.2 1-1.1 1 0.9 1 0.8 1 12.7 1-8.9 1 0.6 1-1.9 1 3.6 1-5.7 1 11.6 1-12.1 1-1.1 1 6.4 1-1.2 1 7.6 1-12.1 1-0 1 11.3 1-6.3 1 5.4 1-13.1 1 3.6 1-1.9 1 5 1-4.2 1 9 1-4.1 1-2 1-4.1 1 8 1 5.2 1-7.3 1 3.8 1 0.4 1-0.3 1-10.4 1 6.9 1 1.4 1 0.3 1-4.4 1 1.3 1-2.5 1-2 1-1 1 7.4 1-2.4 1-5 1 1.2 1 9.4 1-5.9 1 1.9 1-3.7 1 5.6 1-5.9 1 1.1 1-1.2 1-1 1 5.2 1 1.3 1 2.7 1-9 1-3.5 1 10.3 1-2.5 1 3.4 1-11.4 1 2.9 1-4.3 1 7.2 1 3.4 1-3.9 1 2.8 1-0.7 1-6.1 1 3.4 1 5.3 1-2.3 1-7.7 1 3.1 1-4 1 1 1 11.7 1-4.3 1-6.1 1 5 1-1.3 1-4.3 1 7.3 1 3.1 1-2.3 1-3.1 1-2.9 1 8.4 1-1.4 1-8.9 1-1 1 2.1 1-1.2 1 4.4 1-8 1 12 1-10.5 1 1.3 1-0.8 1-3.4 1 10.8 1-1.1 1-2.1 1 4.2 1-3.8 1-0.9 1 2.3 1-7.5 1 9.4 1-7.8 1 0.1 1 5 1-8.3 1 0.5 1 12.2 1-3.2 1-4.3 1-4.4 1 1.4 1 1 1-0.7 1 3.2 1-6.3 1 13 1-9.1 1 1.7 1 0.3 1 7.6 1-1 1-9.8 1 1.5 1 1.2 1-0.4 1 8.3 1-8.6 1-6.8 1 5.5 1-4.8 1 14.4 1-14.4 1 6.5 1-1.2 1-4.3 1 9 1-6.2 1-2.1 1-2.7 1 6.2 1 3.7 1 1.5 1 3 1-3.2 1 3.1 1-14.4 1 2.6 1-3.8 1 5.2 1 6.5 1 0.2 1-9.7 1-0.5 1 11.6 1-8.9 1 5.3 1 3.7 1-1.8 1-2.9 1 4.4 1-12.1 1 0.7 1 3.9 1 6 1-8.3 1 2.1 1-3 1-2.9 1 2.3 1-0.4 1 0.4 1-0.7 1 10 1-6.5 1 2.6 1 4 1-7.4 1-3.1 1 1.7 1 9.4 1-3 1-14.2 1 1.6 1-32.3 1-10.9 1 1 1-10 1 10.8 1-11.5 1 7 1-4.1 1 5.5 1-7.4 1 4 1-4.8 1 2.8 1-4.7 1 7.2 1 3.3 1 2.5 1-8.6 1-1.4 1 1 1 9.2 1-11.3 1-3.4 1 7.2 1 1.1 1 5.3 1-14.6 1 9.6 1 5.3 1-3.7 1 1.4 1-12.9 1 1.7 1-1.1 1 10.5 1 2.5 1-3 1-6.9 1 6.8 1-2.1 1-4.4 1 2.6 1 5.3 1-2.9 1 0.6 1-4.5 1 7 1-2 1 0.3 1-1.4 1-1.8 1 3.3 1-1.8 1-4.1 1-0.3 1-5.5 1-1.1 1 9.6 1 0.1 1-4.6 1 5.3 1 2.1 1-12.6 1 13.8 1-2.1 1-11.8 1 2.6 1-0.2 1 3.4 1-1.4 1-2.3 1 3.1 1-7.7 1 2.3 1 8.6 1-9.6 1 5.6 1 2 1-3.3 1-6.5 1 3.8 1 4.6 1-1.5 1 2.5 1-7 1 7.4 1-7.8 1 7.1 1-9.7 1 2.5 1 10.2 1-2.4 1-2.2 1-0.6 1-1.2 1-0.5 1-3.7 1 5.6 1 4.8 1-9.7 1 11.1 1-5.8 1 5.6 1-15 1 5.1 1 4.1 1-2 1 5.4 1 0.9 1-1.1 1 0.9 1-4.8 1-1.6 1-3.7 1 4 1-8 1 11.1 1 0.1 1-5.9 1-0.9 1 4.4 1 2.3 1-10.6 1 10.2 1-1.6 1-7.2 1-3.8 1 6.8L1406.9 2059.3l-1 6.6-1 0.7-1 2.1-1-3.2-1-4.2-1 3.1-1-2.2-1 0.5-1 2.8-1-2.7-1 5.2-1-7-1 7.4-1-8.7-1 6.5-1-3.4-1 4.3-1-0.5-1 3.5-1-3.3-1 2.7-1 1.1-1-10-1 6.8-1-6.6-1 0.3-1 8.8-1-4-1 5-1-6.3-1-3.5-1 5-1-0.1-1 3.9-1 1.2-1-6.9-1-1.7-1 3.5-1 2.9-1-4-1 7.7-1-5.9-1-4.1-1 0.8-1 0.4-1 0.6-1 3.2-1-1.5-1 4.9-1-2.7-1-1.9-1 1.6-1 2.2-1-2.8-1 7-1-3.9-1 0.4-1-0.3-1-2.1-1 4-1-5.9-1 5.2-1-6.3-1 5.6-1-5-1 7.6-1 0.2-1 0.4-1-2-1-5.3-1 1.3-1-0.4-1 8.2-1 0.2-1-1.5-1-2.4-1 1.4-1-2.1-1 0.1-1-1.8-1-2.5-1 9-1-5.4-1-2.8-1 7-1 1.8-1-2.3-1 2.9-1-4.4-1-4.2-1 6.4-1-6.8-1 1.8-1 1.8-1 4.1-1-3.3-1 4.2-1-5.6-1 5.6-1-5.2-1 2.6-1-0.8-1 1.5-1 1.7-1 2.7-1-6.1-1-3.1-1 7.3-1 1.1-1-1.5-1-6.2-1 7.2-1-2.6-1 4.9-1 0.4-1-10.1-1 7.3-1 2.8-1-4.9-1-0.9-1 4.7-1-3.7-1-2.8-1 6.8-1-2.7-1 1.4-1 7.4-1 35.2-1 9-1 1.5-1 1.4-1 2.1-1-6.3-1 4.9-1-1.7-1 2-1 3.8-1 0.1-1-3.3-1-2.9-1-1.6-1-1.4-1 7.5-1-5.5-1 3.7-1-4.9-1 1.2-1 5.3-1 0.9-1-6.1-1 0.6-1-0.6-1 8.9-1-10.2-1 5.3-1 0.3-1-3.2-1 7.3-1-3.8-1-3.4-1 3.8-1 2.5-1-6.1-1-1.2-1 3.7-1-3-1 8-1 1-1-4.7-1-3.7-1 3.9-1-4.8-1 3.8-1-4.5-1 9.6-1-5.7-1 0.8-1 0.1-1 2.7-1-5.9-1 6.9-1-0.9-1-2.6-1 4.5-1-8.3-1 7.7-1-3.1-1 5-1-5.9-1-1-1 2.1-1 6.2-1-10.7-1 0.9-1 5.3-1 0.1-1 2.5-1 1.9-1-5-1-2.9-1 8.4-1-5.2-1-4-1 7.1-1-2.3-1-2.4-1 0.8-1 6-1-5.7-1 2-1-1.7-1 1.8-1-3.6-1 5.9-1-1.6-1 2.9-1 1-1-10.2-1 9.2-1-0.5-1 1.2-1-0.6-1-7.8-1-1.4-1 10.7-1-9.8-1 4.6-1 0.2-1 1.5-1-6.1-1 4.8-1-1.9-1-3.4-1 3.5-1 6-1-0.9-1-2.3-1 3.3-1-2.7-1-2.8-1-0.1-1 2.1-1-5.1-1 10.4-1-1-1 0.4-1-9.7-1 7.7-1-3.5-1 1.8-1-3.4-1 1.7-1 1.9-1-0-1-5-1 2.5-1 0.4-1 2.3-1 1.4-1-6.9-1 2.9-1 1-1-3.8-1 3.4-1-1.8-1 4.6-1 2.3-1-2.3-1-3.5-1 3-1-1.7-1 6.1-1 0.8-1-4.1-1-5.3-1 3.3-1 1.8-1-0.1-1-1.1-1 5.9-1-6.7-1-2.6-1 4.9-1-0.2-1 0-1-4-1 7.8-1-7.3-1-0.1-1-1.2-1 3.6-1 1.2-1-1.8-1 1.6-1-4.2-1 9-1-2.7-1-0.6-1 3-1-8.4-1 1.4-1-1.7-1 2.2-1 7.8-1-7.2-1 6.3-1-1.7-1-6.2-1 6.6-1-1.7-1 4.2-1-3-1-3-1 5.1-1-0.2-1-5.1-1 4.9-1-2.4-1 4.5-1-7.3-1-0.4-1-0.6-1 8.5-1-6.7-1-2.1-1 9.9-1-9.9-1 8.9-1-7.8-1 3.5-1 5.6-1 0.2-1-8-1 0.9-1 7.1-1-5.4-1 4.2-1-4.1-1-2.9-1 3.3-1 5-1-5.3-1-4.3-1 10.4-1-6-1 5.6-1-3.3-1-6.1-1 4.7-1 0.5-1 2.4-1-5.3-1 6.1-1-2.1-1-1-1 3.4-1-7-1 0.8-1 7.8-1 0-1 0.3-1-8.7-1 9-1-1.2-1-5.5-1 2.7-1-3.4-1 5.9-1-5.2-1 7.3-1-8.6-1 7.4-1-1.7-1 3-1-2.4-1 1.7-1-5.4-1 2.3-1 1.4-1-5-1 5.1-1-4.3-1 1.4-1-2.3-1 7.2-1-1.4-1 1.8-1-7.5-1 2.2-1-2.1-1 1.1-1 3.8-1-6.1-1 8.8-1-0.7-1-3.5-1 0.3-1 1.2-1-5.3-1 9.4-1-3.7-1 3.6-1-1.6-1 1.3-1-5.7-1-1.5-1 7.9-1-10.4-1 6.6-1 4.4-1-10.3-1 4.8-1 4.1-1-4.7-1-2.2-1 6.6-1-7.6-1-0.1-1 9.8-1-3.9-1-5.4-1 7.8-1-7.4-1 0.1-1 8.9-1-1.7-1-6.5-1 0.6-1 2.1-1 1.5-1 4.9-1-5.1-1 2.5-1 2.4-1-8.5-1 2.4-1 3.2Z" fill="#a8a8a8" fill-opacity="0.7"/>
<defs><path id="tr30" d="M969 2134.3l1 1.1 1 5.1 1-4.3 1 10.4 1-3.9 1-2.1 1 3.9 1-1.2 1 4.3 1-3.8 1-8.6 1-2.2 1 11.5 1-8.9 1-0.1 1 11.9 1 6.5 1-9.3 1 12.4 1-24.4 1 3.4 1-0.7 1 16 1-20.2 1 11.5 1-12.3 1 9.5 1-0.3 1 5.5 1 1.8 1-8.4 1-2.4 1 1.6 1 7.3 1 1.8 1-4.1 1 0.1 1 2.6 1-14 1 3.6 1 8.5 1-3.4 1-11.2 1 5 1-6.6 1 18.9 1-6.4 1 4 1-10.3 1 5.7 1-7.8 1-4.2 1-0.3 1 4 1 1.8 1 4.5 1-1.9 1 4.7 1-12.4 1 11.5 1-11.2 1 3.6 1 1 1 3 1 13.5 1-14.7 1 3.6 1 8.6 1-15.3 1 11.6 1-11.4 1 10.1 1-10.6 1-1.5 1 2.7 1 7.7 1-11.2 1 0.6 1 2.7 1 4.6 1 2.4 1 0.4 1-3.8 1-4.2 1-2.3 1 4.3 1-2.7 1 5.9 1-10.6 1 11.3 1 1.8 1-2.6 1 1.7 1 4.8 1-9.8 1-7.3 1 3.6 1 13.4 1-8.3 1-10.9 1 14.4 1 2.4 1-13.1 1 14.2 1-6.2 1 1 1-4.4 1 8.1 1-1.2 1 2 1-14.5 1 10 1-7.4 1 9 1 2.5 1-15.7 1 11.2 1 3.1 1 0.2 1-4.9 1-9.4 1 7.1 1 5 1-7.9 1 4.9 1-11.7 1 18.9 1-10 1-4.5 1-0.9 1 2.5 1 18.2 1-23.9 1 1.5 1 12.5 1-12.6 1 9.3 1-1.4 1-5.3 1 10.1 1-5.6 1-6 1 0.5 1 13.7 1-4.8 1-5.6 1-0.3 1 10.5 1 0.3 1-18.6 1 16 1-11.1 1 9.2 1-9.4 1-2.9 1 4.9 1-6.7 1-1.2 1 5.4 1 2.4 1 5 1-9.5 1-1.3 1-2.7 1 8.8 1 1.8 1-3.3 1-5.3 1 16.3 1-11.2 1 9 1-12.4 1 13.8 1-11.9 1 3.7 1-14.8 1 17.2 1 1.4 1 0.7 1-14 1 17.9 1-10.5 1-2.5 1 11.9 1-16.1 1 15.3 1-5.9 1-5.7 1 12.3 1-0 1-0.7 1-4.3 1-7 1 10.9 1 0.4 1 1.9 1-12.5 1-2.3 1 2.7 1 9.9 1-13.8 1 6.6 1-1.9 1-1.5 1 3.2 1-2.2 1 6.7 1-7.7 1-5.3 1 9.3 1-8.3 1-3.6 1 1.5 1 9 1 6.5 1-9.5 1 0.1 1 7.9 1-6.2 1-9.8 1 3.9 1 4 1 7.2 1-0 1-10.2 1-2 1-3.3 1 16.5 1-7.4 1-2.2 1-4.7 1 3.4 1-5.3 1 0.8 1 16.6 1-8.8 1-5.9 1-1.9 1 16.2 1 0.2 1-13.2 1-5.2 1 3.5 1 1 1 5.3 1 4 1-14.3 1 3.7 1-3.6 1 19.1 1-0.5 1-9.1 1 5 1-8 1 8.8 1-4.9 1 6.5 1-3.6 1 5.2 1-9.1 1 5.3 1-1.7 1-4.8 1 10 1-7.9 1-22.2 1 21.5 1-4.3 1-4.9 1-0.2 1 7.6 1-6.2 1-1.3 1 3.1 1 12.7 1-19.4 1 11.9 1 0.7 1-7.4 1 12.9 1-5.5 1-5.4 1 4 1 8.2 1-6.9 1 5.7 1-7.9 1 7.2 1-2.4 1-11.4 1 3.8 1-0.4 1 1.8 1 0.5 1-0.3 1-4.9 1 11.8 1 1.8 1-9.3 1-5.9 1 9.8 1 6.5 1-5.1 1 2.6 1-3.6 1 4.2 1-10 1 1.1 1-8.6 1-27.7 1-14.5 1-11 1 10.2 1-13.1 1 5.7 1 8.8 1-0.1 1 1.5 1-5.8 1-6.2 1 2.5 1-4.8 1 3.6 1 11 1-7.6 1 7.2 1-1 1-14 1 0.1 1 6.9 1-1.1 1 8.2 1-1.2 1-0.9 1-12.3 1 1.4 1 0.3 1 9.2 1-7.7 1 3.4 1-5.1 1 12.4 1-17.8 1 0.6 1 5.4 1 3.7 1 5.2 1-11.2 1-3.2 1 15.8 1-9 1 5.6 1-11.3 1 1.4 1 1.3 1-8 1 16.7 1-5.2 1 2.9 1 5.3 1 0.5 1-10.7 1-6.4 1 4.5 1 0 1 8.9 1 1.5 1 0.5 1-6.2 1-3.4 1-6.4 1 11.3 1-7.3 1-2.5 1 1 1-0.8 1 9.7 1 2.7 1-13.1 1 12.8 1-6.6 1-4 1 3.4 1 0 1 6.9 1-13.8 1 8.9 1-7 1 7.1 1-6.7 1-5 1 5.1 1 4.8 1-13.4 1 10.7 1 3 1-4.4 1 9 1 0.4 1-4.4 1-2.7 1 1 1 1 1 1.3 1-13.3 1 4.3 1-1.7 1 12.5 1-0.4 1-13 1 17.2 1-16.6 1-6.8 1 8.8 1-4.2 1 0.7 1 13.2 1-8.5 1 7.1 1 7.3 1-12.3 1 8.4 1-8.3 1-9.5 1 2.9 1-2.8 1 0.4 1 10 1-12.5 1 6.3 1 9.3 1-6.8 1 5.2 1 4 1-5.7 1-8.8 1 13.6" fill="none" stroke-linejoin="round"/></defs>
<defs><path id="tr31" d="M969 2148.8l1-6.3 1-9.4 1 5.5 1-7.7 1 6.3 1 1.9 1-3 1 9.6 1-8.2 1-4.1 1 1.1 1 13.9 1-10.5 1 4.4 1 1.3 1-1.5 1 0.7 1 3.1 1-11.8 1 5.8 1-11.1 1 15.5 1-9.3 1 3.1 1-1.7 1 0.6 1-5.8 1 0.9 1-1.8 1 2.5 1-0.4 1-1.5 1 5.5 1 9.3 1-10.3 1 0.7 1-1 1 5.7 1-6.1 1-4 1 7.9 1-6 1 4.3 1 2 1 5.7 1 7.2 1-7.8 1 1.8 1-12.9 1-3 1 14.9 1-6 1-6.3 1-4 1-1.6 1 15.7 1-1.1 1-1.6 1-8.9 1 14.2 1-10 1 5.8 1-4.8 1-8.3 1 15.2 1 1.9 1-18.4 1 17.5 1-8.4 1 1.3 1-0.5 1-6.5 1 6.2 1-0.9 1 6.4 1-4.5 1-10.3 1 6.5 1-1.5 1 5.6 1-4.9 1-2.5 1-5.9 1 16.1 1-6.7 1 4.4 1-11.5 1 3.1 1-2.6 1 7 1 3.4 1-12.2 1 14.3 1-12.1 1 10.5 1 5 1-8.4 1-6.2 1 4.3 1-7.3 1 13.5 1-8 1-2.7 1 0.3 1 6.6 1-6.1 1 5.6 1 3.8 1-0.9 1-11.2 1 4.4 1-3.6 1 14.2 1-1.4 1-1.6 1-1.4 1-6.5 1-3.7 1-4.8 1 18.6 1-12.5 1-3 1 12 1-19.6 1 7.8 1 2.3 1 6.2 1-5.7 1 12.4 1-9 1-6.8 1 9.2 1-1.6 1-4.8 1 6.3 1 3.2 1-14 1 15.4 1-12.9 1 13.4 1-5.9 1-2.4 1-7.9 1-0.3 1-0.1 1 3.5 1-0.4 1 9.7 1-2.8 1-1.6 1 6.2 1-5.3 1-11 1 9 1-8.3 1 6.3 1 3.4 1-8.6 1 10.3 1-6.8 1-3.7 1 13.5 1-0.2 1-10.3 1 12.6 1-9.5 1 10.3 1-4.8 1-2.4 1-3 1 3 1-7.8 1 14.2 1-10.2 1 4.5 1-1.4 1-11.5 1 4.9 1-3.9 1 7.4 1 3.3 1-9.3 1 2.7 1-2.3 1 2.3 1 6.8 1-8.7 1 5.4 1-10.2 1-0.3 1 11.4 1 0.2 1 2.8 1-3.9 1 2.6 1 6.2 1-15.9 1 5.5 1 9.2 1-5 1 3.4 1-17.3 1 1.5 1 15 1-6.8 1-8.7 1 20.7 1-18.1 1 1.2 1-3.7 1 2 1 7.9 1-10.1 1 14 1-8.6 1 9.5 1-10.4 1 3.4 1 1.4 1-8.1 1 10 1-3 1 2 1 1.3 1 3.4 1-11.2 1 4.3 1 8.1 1-18.5 1 10.2 1-2.7 1 3.7 1 7.3 1-16.7 1 14.9 1-6 1 3.3 1-18 1 11.2 1 7.8 1 2.6 1-9.4 1-8.7 1 7.3 1 8.9 1-14.9 1 2.1 1 6.5 1-2 1 4 1-3.2 1-9.4 1 8.7 1-5.2 1 0 1 3 1 4.2 1-3.4 1-7.5 1 15.6 1-16.6 1 3 1 4.1 1 9.7 1-9.9 1 7.5 1-4.2 1-6.7 1 7 1 0.6 1-9.4 1 5.4 1-4.2 1-2.8 1 10.2 1-5.3 1-1.5 1 6.3 1-6.3 1 11.9 1 0.4 1-13.8 1 0 1 7.5 1 3.9 1-7.8 1 7.1 1-5.5 1 0 1 8.6 1-5.1 1-12.5 1 7 1 6 1 2.1 1-12.3 1 12.7 1-6.2 1 6.5 1-12.5 1-0.6 1 5.9 1 8.7 1-5.1 1-0.1 1-6.4 1 6.3 1-17.3 1 6.9 1-35.5 1-24.2 1 15.9 1-4 1-10.2 1 10.5 1-9.9 1 16 1-12.1 1-2.3 1-4.6 1 8.4 1 1.4 1-1.4 1-7.6 1 9.7 1 7.2 1-5.2 1-7.3 1-2 1 8.3 1-13 1 9.2 1-1 1 3.2 1 1.6 1 2.2 1-12 1-4.3 1 13 1-2.6 1 8.7 1-0.6 1-10.2 1 0.6 1 4.3 1 0.3 1-6.4 1 0.5 1 7.3 1-6.2 1 4.2 1-12 1 3.5 1 13.4 1-1.6 1-9.5 1 9.7 1-5.5 1-7 1 2.5 1-5.8 1 16 1-8.3 1 4 1 0.3 1-7.3 1-5.5 1 13 1 3.3 1-11.1 1 5.7 1 2.8 1-10.5 1-1.5 1-4.7 1 18.8 1-2.3 1-8.8 1-0.2 1-2.2 1 7.8 1-12.5 1 1.5 1 5.1 1 9 1-17.8 1 3.7 1 11.7 1-11.3 1 14.5 1-9.4 1 6.7 1-10.8 1 13.4 1-12.6 1-6 1 3.3 1 5.8 1-2 1-5 1-0.6 1-0 1-3 1 9.2 1-6.3 1-11 1 24 1-0.3 1-10.8 1 6.8 1 0.8 1-7 1 12.1 1-12.6 1 1.4 1 10.5 1-2.7 1-0.7 1-12 1 0.9 1 13 1-13.1 1 0.9 1 13.1 1-13.7 1 6.2 1-5.5 1 3.4 1 3.4 1 6.6 1-14.9 1 12.7 1-1.4 1 0.1 1-1.3 1-13.6 1-1.7" fill="none" stroke-linejoin="round"/></defs>
<defs><path id="tr32" d="M969 2132.2l1 14.4 1-3.2 1-0.7 1-3.8 1 0.9 1-7.6 1 8.5 1-13 1 20.9 1-12.7 1-5.2 1 2 1 1.5 1 5.7 1-11 1 2 1 7.4 1 5.2 1-13.4 1 3.8 1 2.7 1-6.3 1 4.9 1 1.1 1-1.5 1 10.8 1-7.2 1-7.6 1 3.5 1-1.5 1 11.2 1-6.4 1 0.8 1-1.8 1 7.5 1-6.1 1 0.3 1-4.8 1 2.8 1 3.6 1 1.5 1-9 1 4.6 1 1.4 1 0.1 1-3.7 1 4.9 1-14.5 1 29.8 1-11.3 1-14.5 1 10.2 1 2.7 1-2.2 1-14.8 1 3.6 1 10.2 1-6.5 1-0.8 1-3.8 1 11.9 1-11.9 1 17.2 1-8 1 1.4 1-4.6 1 6.1 1-4.7 1-2 1-7.6 1 12.1 1-5.2 1 10.2 1-16.8 1 7.5 1-5 1 7.7 1-0.1 1 6 1-1 1-5.6 1 1.6 1-10.5 1-0.8 1 3.3 1-1.9 1 13.5 1 0.8 1-9.9 1 10.3 1 4.9 1-12.2 1-1.4 1-2.4 1-1.9 1-2.6 1-2 1 15.5 1-7.9 1 0.7 1-0.9 1-1.1 1 11.1 1 1.3 1-9.7 1-8.8 1 12.9 1-7.6 1 2.4 1 8.6 1-13.5 1-0.5 1 6.9 1 1.7 1-6.4 1-5.3 1 14 1-4.2 1-8 1 9.1 1 5.5 1-17 1 14.8 1-13.2 1 5.7 1 19.3 1-15.4 1 1.1 1-6.2 1-0 1-5.2 1 2.4 1 11.5 1-10.4 1 9.2 1-8.7 1-2.8 1-3.4 1 16.2 1 0.3 1-0.6 1 0.9 1-6.1 1-7.7 1 7.9 1 0.6 1-1.1 1 2.4 1-12.4 1-0.8 1 12.7 1-2.9 1 5.1 1-14.8 1 4.3 1 2.6 1 8 1-1.7 1-11.3 1 4.8 1 7.9 1 2.9 1-18.7 1 16.3 1-4.3 1 1.6 1 3.5 1 1.3 1-7.1 1-0.4 1 1.3 1-10 1 13.3 1-0.5 1 0.3 1-3 1-4.5 1 2 1-3.7 1 8.3 1-0.7 1-3.6 1-10.7 1 11.6 1-7.4 1-0.3 1 6.4 1-0.9 1-6.8 1-0.1 1 8.3 1-7.6 1 1.6 1 3.5 1 7.5 1 0.4 1-12.4 1 17.3 1-16.3 1-0.4 1 9 1-3 1-4.6 1 0.2 1 4.9 1 4.7 1-18.1 1 12 1-0.3 1 1.1 1-0.9 1-1.8 1 4.3 1-13.7 1 8.3 1 1.3 1-12.9 1 9 1 2 1 4.7 1-13.8 1 15.1 1-12.2 1 9.8 1-6.1 1 0.2 1 2.9 1-2 1-0.4 1-5.3 1 6.2 1 0.9 1 0.9 1-1.1 1-7.7 1 16.6 1-6.1 1 4.8 1-1.4 1-4.7 1 0.4 1 1.2 1-5.7 1 3.2 1-8.2 1 1.6 1 7.1 1-9.5 1 6.8 1-7.4 1 12.7 1 1.4 1-11 1 5 1 7.6 1-2.1 1-16.4 1 17.9 1 0.5 1-8.5 1-5.3 1 12.6 1-2.8 1 0.7 1 3.7 1-14.2 1 9.8 1-14.8 1 17.2 1-1.2 1-9.7 1 1.8 1 5 1 6 1-16.1 1-3 1 7 1 4.6 1-6 1 12.2 1-11.8 1 0.1 1 1.7 1-3.4 1-2.8 1 15 1-14 1 13.8 1-7.1 1-9.8 1 16 1-4.3 1-2.1 1-2.5 1 9.8 1-2.7 1-5.8 1-8.8 1 3.7 1-3.7 1 14 1-4.4 1-1.9 1-9.1 1 2.7 1 12.1 1-4.7 1-7.4 1-11.8 1-29.3 1-16.8 1 2.4 1 2.9 1 11.6 1-10.2 1 10.1 1 0.1 1-7.5 1-4.1 1 1.3 1-8.6 1 12.7 1 4.9 1 0.4 1-13.2 1-4.9 1 10.9 1 0.3 1-3.8 1 6.7 1-2.9 1 5.5 1-15.5 1-2.1 1 13.8 1 3.3 1-3.1 1-6.5 1-7 1 0.8 1 9.6 1-3.5 1 2.1 1 3.2 1-6.8 1-10.7 1 2.9 1 15.4 1-11.5 1 9.2 1 4.3 1-12.1 1-0.1 1 7.3 1 2.6 1-0.7 1-14.7 1 4.6 1 8.2 1-7.3 1 10.3 1-13.9 1 6.4 1-3.1 1 0.7 1-6.6 1 7.4 1 0.2 1-6.7 1-3.2 1 5.9 1-5.5 1 8.7 1-3.9 1 3.9 1-3.6 1 1.8 1-5.3 1-2.9 1 15.6 1-15.5 1 13.8 1-13.5 1 0.3 1 17.6 1-2.5 1 2.1 1-18.1 1 17.3 1-18.2 1 13 1-9.9 1 7.9 1-4.6 1 1.6 1-8.8 1 10.3 1 2.9 1 4 1-13.4 1 8.5 1 2.9 1-1.6 1 3.1 1-7.7 1 8.6 1-17.9 1 18 1-0.5 1-6.6 1-11.6 1 6.7 1-7.3 1 13.3 1-1.5 1 4 1-0.8 1-8.8 1 2.7 1 0.2 1-2 1-2.3 1 3.3 1 2 1-7.6 1 5.6 1 3.3 1-12.1 1 6.4 1 0.1 1 6.9 1-5.7 1-1.6 1-9.7 1 2.4 1 17.5 1-4.3" fill="none" stroke-linejoin="round"/></defs>
<use href="#tr30" stroke="#30241f" stroke-width="4.0" stroke-dasharray="0 3.6" stroke-linecap="round"/>
<use href="#tr31" stroke="#30241f" stroke-width="4.0" stroke-dasharray="0 4.3" stroke-linecap="round"/>
<use href="#tr32" stroke="#30241f" stroke-width="4.0" stroke-dasharray="0 5.0" stroke-linecap="round"/>
<use href="#tr30" stroke="#d8521c" stroke-width="2.0" stroke-dasharray="0 3.6" stroke-linecap="round"/>
<use href="#tr31" stroke="#d8521c" stroke-width="2.0" stroke-dasharray="0 4.3" stroke-linecap="round"/>
<use href="#tr32" stroke="#d8521c" stroke-width="2.0" stroke-dasharray="0 5.0" stroke-linecap="round"/>
</g>
<path d="M968.5 1990L1002.1 1990L1003.6 1988.2L1037.2 1988.2L1038.7 1986.3L1072.4 1986.3L1073.9 1984.4L1107.5 1984.4L1109 1982.6L1142.6 1982.6L1144.1 1980.7L1177.7 1980.7L1179.2 1978.8L1212.8 1978.8L1214.3 1976.9L1247.9 1976.9L1249.4 1975.1L1283 1975.1L1284.5 1973.2L1318.1 1973.2L1319.6 1971.3L1353.2 1971.3L1354.7 1969.5L1388.4 1969.5L1389.9 1967.6L1407.4 1967.6" fill="none" stroke="#3a85cf" stroke-width="2.6" stroke-linejoin="round"/>
<path d="M968.5 1934.4H1407.4V2178.1H968.5Z" fill="none" stroke="#1a1a1a" stroke-width="1.7"/>
<path d="M968.5 2007.9L1407.4 2007.9" stroke="#1a1a1a" stroke-width="2" fill="none" />
<path d="M1012.4 1934.4v9M1012.4 1998.9v18M1012.4 2178.1v-9M1056.3 1934.4v9M1056.3 1998.9v18M1056.3 2178.1v-9M1100.2 1934.4v9M1100.2 1998.9v18M1100.2 2178.1v-9M1144.1 1934.4v9M1144.1 1998.9v18M1144.1 2178.1v-9M1188 1934.4v9M1188 1998.9v18M1188 2178.1v-9M1231.9 1934.4v9M1231.9 1998.9v18M1231.9 2178.1v-9M1275.7 1934.4v9M1275.7 1998.9v18M1275.7 2178.1v-9M1319.6 1934.4v9M1319.6 1998.9v18M1319.6 2178.1v-9M1363.5 1934.4v9M1363.5 1998.9v18M1363.5 2178.1v-9M968.5 1971.3h5M1407.4 1971.3h-5M968.5 2049h5M1407.4 2049h-5M968.5 2093.6h5M1407.4 2093.6h-5M968.5 2139.7h5M1407.4 2139.7h-5" fill="none" stroke="#333" stroke-width="1.5"/>
<text x="956.8" y="1939.3" font-size="18" text-anchor="middle" font-weight="bold">3</text>
<text x="956.8" y="1977.7" font-size="18" text-anchor="middle" font-weight="bold">2</text>
<text x="956.8" y="2014.9" font-size="18" text-anchor="middle" font-weight="bold">1</text>
<text x="951.3" y="2055.4" font-size="18" text-anchor="middle" font-weight="bold">40</text>
<text x="951.3" y="2100" font-size="18" text-anchor="middle" font-weight="bold">20</text>
<text x="958.4" y="2146.1" font-size="18" text-anchor="middle" font-weight="bold">0</text>
<text x="964.5" y="2205.5" font-size="18" text-anchor="middle" font-weight="bold">0</text>
<text x="1008.2" y="2205.5" font-size="18" text-anchor="middle" font-weight="bold">50</text>
<text x="1052.7" y="2205.5" font-size="18" text-anchor="middle" font-weight="bold">100</text>
<text x="1097" y="2205.5" font-size="18" text-anchor="middle" font-weight="bold">150</text>
<text x="1140.6" y="2205.5" font-size="18" text-anchor="middle" font-weight="bold">200</text>
<text x="1185.8" y="2205.5" font-size="18" text-anchor="middle" font-weight="bold">250</text>
<text x="1229.8" y="2205.5" font-size="18" text-anchor="middle" font-weight="bold">300</text>
<text x="1274" y="2205.5" font-size="18" text-anchor="middle" font-weight="bold">350</text>
<text x="1318" y="2205.5" font-size="18" text-anchor="middle" font-weight="bold">400</text>
<text x="1361.9" y="2205.5" font-size="18" text-anchor="middle" font-weight="bold">450</text>
<text x="1405.6" y="2205.5" font-size="18" text-anchor="middle" font-weight="bold">500</text>
<text x="1019.8" y="1920.5" font-size="23.5" font-weight="bold" fill="#f5201c" textLength="120" lengthAdjust="spacingAndGlyphs">1.5～2.0 pN</text>
<text x="931.2" y="1993.1" font-size="17.5" text-anchor="middle" font-weight="bold" transform="rotate(-90 931.2 1993.1)" textLength="94" lengthAdjust="spacingAndGlyphs">Force (pN)</text>
<text x="931.2" y="2122.8" font-size="17.5" text-anchor="middle" font-weight="bold" transform="rotate(-90 931.2 2122.8)" textLength="82" lengthAdjust="spacingAndGlyphs">Ext. (nm)</text>
<text x="906.6" y="2056.7" font-size="22" text-anchor="middle" transform="rotate(-90 906.6 2056.7)" textLength="118" lengthAdjust="spacingAndGlyphs" stroke="#000" stroke-width="0.5">H2B-K116G</text>
<g clip-path="url(#cg4)">
<path d="M1538.9 2104.6l1 2 1 3.2 1 11.8 1-2.5 1-9.1 1-2.3 1 18.5 1-3.6 1-17.2 1 18.2 1-12.7 1 7.6 1-7.5 1-5.2 1 6.5 1 4.4 1 1.5 1-7.1 1-0.2 1 5.1 1-1.4 1-1.7 1 6.4 1 1.8 1-9.2 1 10.9 1-11.8 1-4.9 1-0.7 1 13.4 1-3.9 1-12 1 13.4 1-15.1 1 18.5 1-15.1 1 18.7 1-14.8 1-3.3 1 6 1-2.1 1-6.7 1-2 1 19.1 1-8.1 1 11.2 1-8 1 5.4 1-0.4 1-11 1 12.6 1-1.7 1 3.3 1-19 1 13.3 1 3.9 1-13 1-2.4 1 2 1 1.9 1 0.2 1-4.4 1 9.5 1-12.6 1 3.4 1-3.9 1-0.8 1 1.1 1 7.4 1-0.2 1-5 1 3.5 1 12.9 1-21 1 16.8 1-6.8 1 0.7 1 8.3 1-11.5 1-0.4 1-5.3 1 4.6 1 7.1 1-6.1 1-9.3 1 7.5 1-4.9 1 19.5 1-16 1 11.1 1 1.1 1-4 1 3.5 1 2.1 1-3 1-0.5 1-0.5 1-13 1 16.7 1-2.8 1 3.3 1-10.7 1 6.4 1-7.3 1-2.1 1-1.1 1-6.9 1 9.7 1-19.2 1 7.5 1 3.8 1-3.7 1-9.4 1 10.6 1 2.3 1 4.1 1-3.9 1-9.3 1 3.7 1 7.8 1-14.7 1 17.9 1-5.3 1-9.9 1-3.3 1 10.6 1 10.4 1-13 1 3.1 1 9.3 1-7.6 1-12.6 1 19.7 1-3.4 1 0.2 1-14.9 1 11.4 1-8.9 1 0.1 1 15.5 1-10.1 1 7.4 1-16.1 1 7.2 1 2.8 1-10.5 1-0.3 1 17.6 1-0.7 1-5.4 1 0.2 1-3.1 1 0.2 1-12.9 1 7 1-6.9 1 8 1 9 1-7.9 1 9.5 1-10 1 10.3 1-18.6 1 14.7 1-14 1 15.7 1 0.2 1-1 1-13.6 1-0.2 1 1.9 1 3.9 1 10 1-2.3 1 4.8 1-21.2 1 18.8 1-13.9 1 16.7 1-6.7 1-7.6 1 9.8 1 2.6 1-19.5 1 14.2 1 6.5 1-16.5 1-6.8 1 10.3 1 11.9 1-12.4 1-5.5 1 8.6 1-4 1-7.6 1 2 1-4.1 1-2.8 1 10.1 1-10.8 1 20.3 1-9.4 1-3.7 1-5.9 1 10.8 1 0.8 1-10.7 1 9.9 1 9.7 1-9.2 1 4.3 1-9.1 1-3.8 1 18.1 1-6.3 1-13.7 1 2.1 1 0.6 1 9.3 1-13.3 1 2.5 1 0.7 1 6.5 1-2.3 1 12 1 2.3 1 0.5 1-0.9 1-10.7 1-10.2 1 8.7 1-5 1 0.8 1-4.5 1 15.7 1-5.2 1-10 1 14 1-8.6 1 6.7 1 6.1 1-1.2 1-3.7 1 7.8 1-20 1 12.4 1 2.7 1-13.1 1 18.7 1-17.8 1 7.3 1 8.5 1-7.2 1-13.8 1 22.2 1-5.7 1 2.5 1-9.7 1 9.2 1-15.2 1 11.4 1-13.8 1 19.5 1-2.5 1 4.8 1-0.4 1-3.3 1-9.5 1 0.9 1-4.1 1 11.6 1-8.6 1-9.1 1 15.6 1 2 1 1.2 1-18.3 1 7.7 1 3.3 1-0 1 9.8 1-3.4 1-11.1 1 10.5 1-6.2 1-9.2 1 16.9 1-6.8 1-6.8 1 0.4 1-1.9 1-2 1 7.8 1 8.3 1-6.7 1-9.8 1 17.1 1-2.2 1 2.3 1-16 1 18.3 1-1.3 1-10.7 1-2.8 1 7.2 1-7.7 1 1 1 7.4 1 7.4 1-14.5 1 1.7 1-8 1 6 1 15 1-3.1 1-2.6 1-9.8 1 9.8 1 1.8 1 1.1 1-2 1-5.3 1-5 1-3.3 1 17.5 1-10.6 1-9.9 1 13.5 1 6.4 1-16.2 1-32.8 1 10 1-7.2 1-2.2 1 4.6 1 6.4 1 0.7 1-8 1-12.6 1 9.1 1 6.7 1-16.1 1 15.8 1 3.3 1 0.3 1 2.3 1-21 1 8.9 1-10.6 1 10.3 1 11 1-7.1 1 0.6 1 4.3 1 1.8 1-14.4 1-4.3 1-1.5 1 16.3 1-8.9 1 8.4 1-13.9 1-1.7 1 21.1 1-4.3 1-16 1-2.7 1 3.1 1 18.3 1-12.6 1-4.1 1 4.6 1 0.6 1-5.5 1 16.7 1-12 1-9.5 1 9.9 1 4.4 1 5.2 1-17.8 1 5.1 1-6.8 1-0.3 1 6.3 1-3.9 1 0.8 1 1.7 1 7.6 1-6.2 1-2.6 1 12.1 1-12.3 1 4.3 1 5.2 1-1.3 1-11.4 1 19.9 1 0.5 1-10.7 1 9.1 1-17.6 1-1.6 1 13.1 1 0.1 1-7.3 1-5.3 1 5.7 1-6.1 1 12.9 1-3 1-5.2 1-1.4 1 8.4 1 0.6 1-11.6 1 4.1 1 3.1 1 6.5 1-2.7 1 6.5 1-3.8 1 3.6 1-3.2 1-9.4 1 1.5 1-6.9 1 6.6 1 5.2 1-0.2 1-11.4 1 19 1-3.4 1-6.7 1 7 1-6 1 5.6 1-10.8 1-5.9 1 11.1 1-9 1 18 1-2.6 1-1L1982.9 2085l-1-4.5-1 7-1-1.5-1-0.7-1-1.9-1 6.1-1-8.4-1 11-1-2.7-1 3.9-1-3.6-1 1.9-1 3.3-1-3.7-1-8.7-1 4.4-1 8.5-1-7.6-1-2.2-1 0.3-1 7-1-5.9-1 0.9-1 1.6-1-8.1-1 1.1-1 3.9-1 2.7-1 2.7-1-0.8-1-2.8-1 1.8-1 0.5-1-5.6-1 11.2-1-7.3-1 0.6-1-7.7-1 0.8-1 8.9-1-3.8-1 4.7-1-10.2-1 13-1 2.4-1-5.2-1 3.9-1-13.4-1 6-1 9.2-1-4.4-1-3.2-1-3.6-1-1.7-1 1-1 3-1-3-1-2.1-1 14.9-1-12.4-1 0.8-1 4.2-1-7.7-1 6.2-1 9.1-1-4.5-1-7.4-1 10-1-1-1-7.1-1 6.5-1-10.8-1 8.2-1-3.8-1 7.3-1-8.3-1 11.5-1-13.2-1-2.9-1 5.8-1 4-1 0.4-1-2.6-1-2.2-1-1.2-1-3.1-1 0-1 8.9-1-1.1-1 6.2-1-10.3-1 0.7-1 10.7-1-13.9-1 0.8-1-2.1-1 3.6-1 9.8-1 2.9-1-9.7-1-4.6-1-0.9-1 6.6-1-3.9-1 1.1-1 9.8-1-4-1 2.8-1-8.3-1-5.2-1-8.1-1 13-1 7.4-1 35.5-1-8.7-1 11.6-1-1.9-1-1.4-1-1-1-6.5-1 6.9-1-4.3-1 1.2-1 3.9-1-8.6-1 14.1-1-13-1 6.9-1 7.7-1-11.5-1 4.1-1-8.1-1 3.1-1-3.1-1 5.1-1-4.6-1 14.9-1-13.8-1 10.8-1-6.3-1 5.6-1-0.9-1-7.9-1 12.6-1-9.3-1-4-1-0.3-1-0.6-1 6-1 4.2-1 1-1-5.7-1-3.8-1 9.3-1-7-1-5.7-1 0.1-1 11.8-1-4.2-1 3.3-1-7.9-1-0.5-1 13.5-1-15-1-0.3-1 8.3-1-3.7-1-0.3-1 0.7-1 3.8-1 4.9-1-3.4-1 4.3-1 0.5-1-9.7-1 2.3-1-3.1-1 3.3-1-5.1-1 1.8-1 6.6-1-0.4-1-1.6-1-0.7-1 6-1-14.2-1 1-1 7.3-1 6.3-1-5.1-1 1.6-1-2-1 1.9-1-4.6-1-4.7-1 5.6-1-3.5-1 8.6-1-13.5-1 5.4-1-0.9-1 2.1-1-5.9-1 7.9-1 2-1-3.7-1 6.5-1-2.9-1 0.8-1-0.7-1 1.6-1 3.3-1-3.7-1-0.1-1-3.4-1-4.4-1 7.4-1 1.6-1-0.7-1-6.7-1-0.7-1 11.3-1-8.8-1 7.7-1-10.5-1 9.5-1-9.4-1-0.7-1 12.1-1-7-1-2.4-1-2.1-1 11.7-1-2.6-1-11.7-1 13.3-1 0.4-1-6.8-1 2.8-1-4-1-3.3-1-1.1-1 9.2-1-7.2-1 6.7-1-9.4-1 1.8-1 9.7-1-10.8-1 9.1-1-5.7-1-0.9-1 3.3-1 11.6-1-3.3-1-2.5-1 3.1-1-0.4-1-2.7-1-4.7-1 9.9-1-8.9-1-2-1 5.3-1 4.6-1-5.5-1-0.6-1 7.8-1-2.8-1-0.6-1-6.4-1 10.7-1-14-1 3.5-1-0.5-1 4-1-6-1 12.5-1-9.8-1 2.7-1 0.1-1 4.1-1-4.6-1 8.4-1-15.3-1 6.9-1-2.1-1 0.1-1-4.4-1 7.3-1 7.7-1-9.9-1 4.5-1-4.6-1-1.9-1 10.8-1-6.4-1-0.9-1 1.8-1-5.1-1 9.9-1-5.4-1 4-1 2.1-1 2.4-1-8.4-1-2.7-1 3.9-1 4.6-1-4.3-1 5.4-1-11.2-1 12.3-1-10.9-1 0.1-1 0.3-1 3.3-1-4.2-1-0.6-1 11.4-1 2.5-1-5.1-1 0.4-1-5.1-1 3.8-1-0.9-1 3.7-1-9-1 5.1-1-1.4-1 10.6-1-5.5-1-4.5-1 6.2-1-5.5-1-4.7-1 8.8-1 4.4-1-12.1-1 8.7-1 4.3-1 5.2-1-3.3-1-1.9-1 1.2-1-0-1 9.6-1-5-1-9.5-1 6.5-1-2.5-1-3.1-1 5.5-1 6.6-1 3.1-1-11.8-1-0.6-1 11.9-1-5.4-1 5.9-1-4.2-1-0.4-1-3.5-1-2.3-1-1.4-1 8.8-1-1.4-1-7.4-1 7.4-1-7.8-1 5.1-1 7.6-1-5.2-1-7.6-1 2.4-1 5.2-1-5.5-1 6.7-1-1.7-1 3.4-1 1.7-1-5.9-1 5-1-1.8-1 1-1-9.4-1 7.1-1-4-1-2.3-1 7.8-1-10-1 12.9-1-9.5-1 8.9-1 1.5-1-2.9-1-4.1-1 2-1-0.6-1 8.4-1-4.2-1-0.4-1 3-1-10.6-1 11.2-1-7.8-1 3-1 0.2-1 5.6-1-9.5-1-0.7-1 5.3-1 2.7-1-2.5-1 5.6-1-12.5-1 0.8-1-2.4-1 8.2-1-4.1-1-0.3-1 10-1-5.4-1-1.5-1 5.5-1-10.5-1 7.1-1-2.5-1-3.6-1 9.5-1 1.6-1-2.4-1 4.1-1-13.7-1 6.8-1 0.9-1 1.1-1-1.7-1-2.3-1 2.7-1 5.1-1-4.8-1-4.8-1 8.5Z" fill="#c8c8c8" fill-opacity="0.7"/>
<path d="M1538.9 2131.5l1-7.2 1 6 1 0.8 1-11 1 6.1 1 3.6 1-2.3 1-8 1 1.8 1 0.5 1 7.7 1-1.5 1 0.4 1-3 1-2.4 1 1.1 1-3.6 1 6.8 1-0.2 1-8.2 1 3 1 0.9 1 4.6 1-2.5 1 2.1 1-8.3 1 10.1 1-5.9 1 0.7 1-1.3 1 7.9 1-9.1 1-3.5 1 2.1 1 9.4 1-8.3 1 4.6 1-4.2 1 1.9 1-6.4 1 11 1-11.2 1 6 1-6.6 1 4 1-4.3 1 11.7 1-1.8 1 0.4 1-4.4 1-1.9 1 7.4 1-7.3 1-0.2 1-1.4 1 8.1 1-1.6 1-4.2 1 6.4 1-1.4 1 0.6 1-10.1 1-1.6 1 3.6 1-1.9 1 0.1 1 6.9 1-7 1 4.1 1-4.5 1 2.7 1 7.4 1-9.5 1-1.4 1-0.5 1 10.7 1-8.3 1 2.6 1 5.6 1-9.8 1 1.7 1 4.1 1-3.6 1 1.3 1 5.4 1-5.7 1-4.3 1 3.5 1 0.9 1 6.1 1-3.1 1 0.3 1-4.3 1 4.4 1-5.2 1 6.8 1-3.8 1-0.7 1 2 1-9.6 1 2.1 1 10.9 1-0.2 1-7.1 1-10.6 1-3.3 1 4.1 1-7.3 1 11.5 1 1 1-5.7 1 3 1-10.3 1 2.4 1-1.5 1 11.8 1-0.1 1-3 1 1.4 1-3.9 1 4 1-7.6 1 0.5 1 5.4 1-1.4 1 3 1-10.8 1 8.3 1-8.7 1 3.2 1 1.7 1-3.8 1 7.9 1-8.2 1 3.3 1 0.4 1-4.8 1 0.1 1 4.2 1 1.1 1-6.7 1 9.2 1 1.5 1-4.2 1 1 1-3.5 1-0.7 1-3.1 1 9.4 1-3.5 1-4.5 1 8.6 1-10.6 1 7.8 1-6.6 1 6.2 1-9.4 1 8.3 1-5.3 1-1.8 1 10.8 1-7 1 4.4 1-4.1 1-3.5 1 9.9 1 0.7 1-7.1 1 5 1-7.5 1 6.9 1-0.1 1 1.7 1-8.1 1-4.4 1 2.6 1 4.8 1-2.6 1-4.8 1 5.3 1-2.8 1 4 1 4.5 1-10 1 4.1 1-6 1 6 1 1.8 1 0.7 1-0.9 1-4.7 1-6.6 1 6.7 1 2.5 1-9.9 1 12.3 1-5.6 1-5.5 1-0.1 1 11.4 1-2.6 1-3 1 1.7 1-1.4 1-1.9 1 5.7 1-11.1 1 13.1 1-10.4 1 6.6 1-8.3 1 9.4 1-1.2 1-1.5 1-7.7 1-0.2 1 8.8 1-0.6 1-2.2 1 3.2 1-6 1 9.5 1-0.3 1-6.2 1 5.5 1-11.8 1 6.5 1-4.1 1 3.5 1-3.4 1 6.4 1-6.1 1 3.7 1-5.4 1 12.4 1-11.1 1 8.1 1-6.9 1-3.8 1 8.6 1-2.3 1-2.3 1 3.7 1 1.9 1 3.4 1-11.2 1 11.2 1-7.5 1-1.2 1-1.1 1-2.5 1 8.2 1-6.6 1 4.8 1-1.2 1-5.5 1 10.7 1-9.8 1 1.6 1 3.7 1-2.7 1-2.5 1 5.4 1-1.7 1-1 1 1.6 1 3.6 1 2.1 1-1 1-0 1-0.9 1-3.4 1-1.1 1 1.2 1-2.6 1 6.2 1 0.9 1-10.5 1 7.8 1 5.3 1-0.4 1-11.5 1 4.6 1 3.1 1-2.6 1-4.5 1-1.3 1 4.5 1-3.4 1 5.3 1-0.4 1 5.7 1-7.6 1 1.3 1 0.4 1 7 1-0.1 1-3.4 1-5 1 7 1-10.2 1 4.5 1 4.8 1-4.5 1 6.3 1 0.2 1-6.3 1 1.5 1 1.4 1-9.6 1 5.4 1 7.5 1-5.8 1-2.9 1 2 1-6.5 1 3 1-2.3 1 12.6 1-8.3 1 5.8 1 1.2 1-2.1 1 3 1-10.2 1 4 1-0.2 1 1.3 1-4.6 1-4.9 1-24.3 1-4.4 1-16 1 7.2 1 5.7 1 1.1 1 3.8 1-6.6 1 11 1-3.8 1-9.6 1 0.1 1 9.1 1 2.7 1-1.9 1-9.4 1 2.6 1 9.6 1-3.1 1-8.3 1 4.6 1 5.1 1-0.5 1-11.5 1 5.9 1-1.3 1 5.2 1-2.1 1-0.3 1-6.3 1 6.6 1 3.8 1-7.4 1-1.7 1 0.1 1-2.7 1-0.5 1 3.6 1 5.3 1-3.6 1-0.4 1 0.1 1-1.5 1-1 1 3.1 1-0.2 1-6 1 7.9 1-3.3 1 2.4 1 5 1-11.6 1 8.8 1 2 1-1.7 1-4.9 1 0.9 1 4 1-5 1 3.9 1-2.4 1-5.2 1-0.1 1 4.6 1-0.1 1-4.3 1 3.6 1 7.1 1 0.1 1-7.5 1 3.3 1-3.3 1-3.4 1 8.3 1 0.7 1 1.4 1 0.1 1-9.1 1 0.7 1-4.4 1 11.6 1-11.9 1 1.1 1 10.8 1-3 1 2.4 1-4.3 1 4.7 1-3.6 1-8.5 1 3 1 3.4 1-7.2 1 12.3 1 0.1 1-8.2 1 4.4 1-2 1 4.1 1-8.7 1 10.4 1-9.9 1 5 1-4.1 1 3.8 1-1.6 1 3.4 1-0.8 1-5.6 1 2.4 1-2.6 1 0.8 1-0.8 1 0.3L1982.9 2079.9l-1-0.8-1 2.6-1-4.7-1-2-1 1-1 3.3-1-4-1 8.2-1-8.3-1 6.9-1-3.7-1-0.4-1 4.4-1 0.8-1 0.7-1-0.4-1-5.4-1 3.7-1-4.2-1 1.2-1 2.9-1 0.8-1-2.9-1 2-1-0.5-1-2.4-1-1.2-1 6.1-1 0.9-1-5.1-1 3.6-1 0.2-1 0.8-1 1.2-1-5.7-1 0-1-0.7-1 3.5-1-0.6-1 3.1-1-7.3-1 8.6-1-3.7-1-3.3-1 2.5-1 3.2-1-0.2-1 2.5-1-9.1-1 7.6-1-7.2-1 6.2-1-5.4-1 4.6-1 2.8-1-6.8-1 0.1-1 0.1-1 7.7-1-3.1-1-5.9-1 7.9-1 0.1-1-0.1-1 1.3-1-1.2-1-5.6-1 2-1-0.2-1 1.3-1 3.7-1 0.4-1-3.9-1 3.2-1-5.8-1 0.3-1 2.5-1 4.3-1-9.1-1 2.6-1 2.4-1 1.4-1-4.2-1-1.8-1 1.3-1 6.7-1-5.4-1 3.1-1-1.7-1-0.8-1-1.6-1 6.6-1-4.3-1-0.1-1 4.3-1-6.6-1-1.3-1 3-1 5.7-1-4.6-1 2.6-1-5.4-1 0.7-1 4.9-1-1.3-1-1-1 4.9-1-4.6-1-1-1-4-1-2.6-1 9.4-1 4.7-1 25.6-1 4.1-1 0.4-1 2-1-1.4-1-0.7-1-2.6-1 1.9-1 3.3-1-3.3-1 3.4-1 0.1-1-1.5-1-3.3-1-0.9-1 7.1-1 1.9-1-1.4-1-6.6-1 4.7-1-0.3-1-1.7-1 4.3-1-0.8-1-4.2-1 0.8-1-4-1 3-1 2.9-1 3.1-1-4.6-1-1.7-1-1.1-1 3.1-1 2-1 2.3-1-2.4-1-5-1 2.7-1-3-1-0.8-1 0.9-1 4.4-1-5.3-1 6.3-1-4.2-1 5.5-1-6.1-1-1-1 8.4-1-2.5-1 0.8-1 1.2-1 0.3-1-3.8-1-2-1-2.5-1 5.1-1-2.6-1 0.7-1-0.3-1-0.7-1 0.1-1 5.2-1-0.9-1 0.5-1-1.5-1-5.4-1-0.6-1 1.2-1 2.9-1-1.1-1 2.7-1 3.1-1-1.1-1-5.5-1-0.1-1 3.7-1-1.7-1-4.1-1 9-1-4.1-1-4.2-1 5.9-1-3-1 4.8-1-6.8-1 6.7-1-2.1-1-6.2-1 8.3-1-7.1-1 0.5-1 7.4-1-0.7-1-5.3-1 2.5-1-1.5-1 3.4-1 0.8-1-2.2-1 3.1-1 0.1-1-7-1 6.7-1-8.1-1 4-1-1.3-1-3.5-1 2-1-0.8-1 2.6-1-3.3-1 8.1-1-1.8-1-2.7-1-0.4-1-1.2-1 0.8-1 5.6-1-3.5-1 3.7-1-1.7-1 0.4-1-7-1-0.1-1 8.8-1-1.8-1 0.5-1-2.1-1 2.2-1 0.7-1-0.7-1-7.3-1 4.4-1-3.9-1 6.1-1-7.7-1 2.4-1 3-1 0.4-1 7.4-1-7.8-1 8.1-1-5.4-1-3.1-1 8.8-1-3-1 0.2-1-3.4-1-0.1-1 6.6-1-4.5-1 4.7-1-5.4-1 3.8-1 0.2-1 2-1-5.5-1-2.4-1 4.8-1-0.2-1 1.1-1 2.5-1-7.9-1 0-1 4.7-1-4.1-1 7-1-7.9-1 9.5-1-5.7-1 4.2-1-4.5-1 2.2-1 3.9-1-7.1-1-1.4-1 7.7-1-3.2-1 2.7-1-4.2-1 5.5-1-8.1-1 5.9-1-6.4-1 1.4-1 4.8-1 2.7-1 1-1-1.8-1-1-1 3.1-1-7.9-1 3.3-1-2.3-1 5.2-1-2.4-1-4.8-1 7.6-1-4.3-1-2.5-1 6-1-1.1-1-0.3-1 3.8-1-6.2-1 5-1-3.5-1 2.6-1 1.1-1-2.4-1-2.6-1 7.4-1-6.3-1-1-1 0.9-1 0-1-0.2-1 3.2-1-1.4-1 1.5-1-3.6-1 6.3-1-1.1-1 3.5-1 5.3-1 3.3-1-2.1-1 2.5-1 1.5-1-0.7-1-5.8-1 6.5-1-4.6-1 0.2-1-0.5-1 0.2-1-2.9-1 6.4-1-2.9-1 3.9-1-6.2-1 0.8-1-0.6-1 1.9-1 2.1-1-1.3-1 0.4-1-4.3-1 3.1-1-1.6-1 3.5-1 2-1 0.1-1-3.9-1 1.5-1-3.8-1 6.3-1-6.1-1 2.1-1 1.4-1 1.3-1 0.2-1-3.9-1 4.2-1-1.4-1 0.1-1-3.2-1 4-1 1.3-1-3.8-1 0.3-1 6.3-1-3.6-1-0.4-1 3.5-1-3.7-1 1.7-1-4.1-1 3.7-1-1.3-1 4-1 0.4-1-6.9-1-0.8-1 6.4-1-6.2-1 4.3-1 1.2-1 3.9-1-3.1-1-4.3-1 3.9-1 2.9-1-6.9-1-0.9-1 2.9-1 6.6-1-4.4-1-2.5-1-1.4-1 8.7-1-7.1-1 4.2-1 0.6-1-4.9-1 0.9-1-2.6-1 7.4-1 0.9-1-0.1-1-0.7-1-4-1 1.9-1-3.5-1 4.3-1 2.8-1-8.5-1 9.7-1-8.8-1 4.8-1-0-1 3.3-1-7.4-1 0.5-1 5.5-1-3.3-1 5.5-1-1.8-1-5.8Z" fill="#a8a8a8" fill-opacity="0.7"/>
<defs><path id="tr40" d="M1538.9 2149.5l1-15.6 1 10.6 1-9.4 1 2.4 1 10.7 1-13.9 1 12.1 1-10.8 1 13.2 1-5.7 1-0.5 1-7.5 1-1.1 1 13.2 1-5.6 1 7 1-7.3 1-8.3 1 2.8 1 11 1-5.1 1 3.9 1-10.6 1 6.4 1-9 1 13.2 1-0.6 1-0.1 1 2.2 1-15.2 1 12.8 1-5.1 1-7.6 1 11 1 0.8 1-7.2 1-0.9 1 6.7 1-0.8 1 4.7 1-6 1-8.3 1 7.5 1-8.7 1 12.1 1-7.7 1-4.7 1 1.1 1 3.3 1-1.5 1 7.5 1-9.1 1 12.5 1-5.9 1-6.5 1 0.5 1-2.1 1 11.4 1 0 1 1.2 1-0.1 1-7.5 1-6.6 1 11 1 0.4 1-8.4 1 5.7 1-6.7 1-0.4 1 2.8 1-4.2 1 0.7 1 6 1-4.3 1 5.1 1 0.6 1 6.7 1-0.4 1-7.3 1 5.7 1 1.2 1 1.1 1-4.2 1-4.2 1-7.7 1 3 1 2.1 1-1.9 1-3.1 1 7.8 1 3 1 1.3 1 0.7 1-11.4 1 8.8 1-0.8 1 2 1-13.6 1 3.2 1-3 1 6.7 1 1.9 1-7.6 1 11.1 1-8.4 1-5 1 3.6 1-10.6 1-1.1 1 10 1 1.4 1-8.7 1 3.1 1-8.7 1 13.1 1-10.7 1 16.9 1-19.2 1 8.5 1-8.5 1 12.4 1-8.5 1 3.2 1 4.7 1-13.6 1 10.6 1 5.2 1-11.2 1 0.6 1-1.2 1 3.7 1-2.1 1 8.7 1-1.7 1-2.2 1-2.2 1-8.5 1 4.1 1 5.3 1-9.7 1 0.6 1 11.4 1 2.4 1-4.6 1-2.5 1-2.3 1-5.1 1 3.4 1-1 1 5.7 1-4.5 1 8.2 1-1.6 1-3.2 1-7.7 1 4 1 8.5 1-9.8 1 6.9 1-0.5 1 6.6 1-15.9 1 11.6 1-2.1 1-6.3 1 2.3 1-1.1 1 9.8 1-5.5 1-3.8 1 2.4 1-3.8 1 9.1 1-5.1 1-7.6 1 8.6 1-10.1 1 1.3 1 11.2 1-5.4 1 8.5 1-11.5 1 9.7 1-9.8 1 2.5 1 1.8 1-5.2 1 6.3 1-6.8 1 11 1-2 1-5.8 1-1.8 1 6 1-1.9 1-10.1 1 10.6 1-11.3 1 9.1 1-3.7 1 2.3 1 3.2 1 2.4 1-10.1 1 9.9 1-11 1-1.2 1 5.3 1 5.3 1-0.4 1-8.5 1-5.1 1 9.9 1 5.8 1 0.6 1-8 1 1.5 1 1.4 1-4.1 1-0.3 1 4 1-1.9 1-9.1 1 8.9 1 3.2 1 2.8 1-10.8 1 9.5 1 6.1 1-13.2 1 1.4 1-0.9 1-7.1 1 4.7 1 0.2 1-3.3 1 10.6 1 3.3 1-13.2 1 13.6 1-9.3 1 1.3 1 5.9 1-9 1-2.8 1 1 1 4.4 1-7 1 8.2 1-5.9 1 11.5 1-5.7 1-4.1 1 4.4 1-0.9 1 4.7 1-1.8 1-5.8 1 5.1 1 3.2 1-8 1 9.2 1-12.8 1 5.2 1-2.9 1 3.3 1 2 1 6.5 1-12.6 1 9.3 1-7.1 1-1.7 1 1 1-0.1 1 1.3 1 2.5 1-5.3 1 11.5 1-8.4 1-6.7 1 4.4 1 5.7 1-1.9 1 8.7 1-2.2 1-12.9 1 13.7 1-7.7 1-1.1 1 4.8 1-7 1-4.5 1 10.7 1-10.8 1 16.8 1-2.1 1-11 1 3.3 1 2.2 1-1.7 1 5.3 1-9.7 1 8.1 1 1.1 1-0.4 1 4.4 1-11.3 1 6.4 1-7.6 1-0.1 1-2.4 1 11.9 1-0.5 1-8.2 1 5.9 1 6.1 1-11.1 1 2.8 1-7.6 1 7.7 1-2.8 1 3.4 1 5.6 1-12.7 1 9.5 1-7.6 1 5 1 7.6 1-2.3 1-4.3 1-40 1-2.4 1-0.2 1-1.1 1-4 1 15.9 1-2.4 1 2.5 1-1.9 1 0.3 1-2.6 1 3.8 1-8 1-2.1 1-5.1 1 5.4 1-1.6 1-0.4 1 3.3 1-1.8 1 6.7 1-5.1 1 8.3 1 0.1 1-4.3 1-6.9 1 2.9 1 8.8 1-16 1 3.4 1 5.2 1-4.3 1 5.1 1-0.2 1-9 1 14.6 1-2.4 1-5.6 1-1.3 1 9.5 1-9.6 1 0.1 1-7 1 0.4 1 7 1-4.2 1 9.5 1-11.5 1 0.6 1 0.2 1 0.2 1 17 1-16.6 1-0.1 1 4.4 1-2.4 1-3.5 1 9.2 1-0.7 1-8.7 1 9.5 1-3.6 1 1 1-7.5 1 9.6 1 0.2 1-5.1 1 9.1 1-5.6 1 0.1 1-2.5 1-0.4 1 8.6 1-1 1-3.3 1 0.9 1 3.6 1-11.8 1 1.5 1-4.1 1-0.1 1 10.9 1-11.7 1 7.1 1-4.2 1-0.2 1 6.5 1-10.3 1 11.6 1 3.3 1-6.5 1 4.9 1-7.1 1 2.4 1 5.3 1-3.8 1-10.7 1 11.4 1 1.1 1 2 1 6.9 1-8.5 1 1 1-12.7 1-1 1 12.6 1-13.6 1 2.1 1 15.1 1-17.4 1 6.7 1-8.8 1 7.8 1-3.4" fill="none" stroke-linejoin="round"/></defs>
<defs><path id="tr41" d="M1538.9 2145.9l1-6.5 1 7.8 1-4 1 3 1-2.4 1 4.3 1 2.8 1-16.1 1 8.7 1-1.2 1 7.2 1-4.4 1-5.1 1-3.3 1 1.3 1 11.3 1-6.7 1 0.7 1 0.8 1-8.4 1 11.5 1-9.1 1-2.2 1 3.3 1 8.5 1-0.8 1-14.5 1 9.6 1-0.2 1-6.3 1 7.5 1 3.6 1-9.9 1 1.7 1-0.7 1 3.7 1 4.6 1-2.9 1-0.3 1-6.9 1 9.8 1 1.5 1-9.9 1-2.4 1-2.9 1 15 1-9.1 1-3.8 1 8.6 1 2.6 1-10.3 1-3.8 1 6.8 1 2.5 1 0.4 1-9.4 1 11.9 1 0.8 1-10 1 5.9 1-4.9 1 9.8 1-8.8 1 8.6 1-12.7 1 2.7 1 5 1-6.1 1 3.2 1-1.8 1 3.5 1-1.4 1-8.1 1 7.6 1-5.6 1 11.8 1-1.4 1-13.2 1 1 1 8.8 1-1.3 1-0.4 1 2 1-8.8 1 11.9 1-9.7 1 1.1 1-2 1-1.5 1-2.7 1 5.5 1 5.4 1 1.8 1-8.3 1 3.1 1-5.6 1 6.1 1-5.2 1 2 1 8.1 1-8.3 1-1.5 1-7.8 1 9.9 1-4.6 1 2.9 1-6.1 1-9.6 1 6.7 1 6 1-10.5 1 3.8 1 1.2 1 3.8 1-3.6 1-5.5 1 12.8 1-1.4 1-14.1 1 2.7 1 7.5 1-1.5 1 5.4 1-13.3 1-1.8 1 4.4 1 0.5 1 6.1 1 5.5 1-17.1 1 11 1-0.4 1 3.4 1 0.7 1-0 1-0.7 1-13.1 1 7.7 1-0.7 1-7.2 1 5.1 1-4.8 1 12.2 1-1.6 1-9.6 1-2.9 1 10.9 1-0.9 1-9.7 1-3 1 11 1-0.9 1 4.3 1-5.4 1-5.8 1 8.5 1-7.7 1 13.8 1-5 1 5.6 1-8 1 4 1-3.2 1-9.6 1 9.4 1 5 1-13.1 1 8.6 1 1.8 1-1.3 1 2.4 1-7.6 1-6.2 1 14.4 1-4.9 1-7.5 1 2.4 1 4.9 1 1.1 1 2 1-5.6 1-2.9 1 7.4 1-5.8 1 4.9 1-4.1 1-5.6 1-1.7 1 14.9 1-9.7 1-9.2 1 10.7 1 4.5 1-5.3 1-8.1 1 11.8 1-5.2 1 0.9 1-8.5 1 6.5 1-10.1 1 3.7 1 12.8 1-1.5 1-0.6 1 9.2 1-14.3 1 6 1 3.8 1-3.6 1-4.4 1 4.6 1-7.1 1 6 1-4.4 1 0.6 1 0.1 1-0.6 1-8.6 1 9.7 1 4 1-2.6 1-4.9 1 4.3 1 2.1 1-0.8 1-6.4 1 2.6 1-3.2 1 10 1-11.7 1 0.2 1 0.7 1 9.1 1 2.6 1-10.8 1 2.6 1 1.4 1 2.2 1-9.4 1-1 1 9.2 1-2.2 1 8.5 1-14.8 1 8.5 1 4.6 1-3 1 1.8 1-1.5 1-1.2 1 2.8 1-1.9 1-0.6 1 0.8 1-2.3 1 1.4 1-3.5 1-6.7 1 4.4 1 11.5 1-1.1 1 1.7 1-8.3 1 5.9 1-9.4 1 4.3 1-6.4 1 9.3 1-11.3 1 9.2 1-3.2 1 4.8 1 5 1-4.9 1-6 1 3.8 1-7.7 1 10 1-0.3 1-14.5 1 9.7 1 5.9 1-10.9 1 8.6 1 2.9 1-8.6 1 6.5 1-0.7 1-1.8 1-3.5 1-2.1 1 1.7 1 8.7 1 1.7 1-13.6 1 9 1 2.8 1-0.3 1-10.2 1 6.6 1-0.5 1-12 1 16.8 1-18 1 12.3 1 3.4 1-3.4 1 7.9 1-1.2 1-9.3 1 0.2 1-0 1 0.1 1 9.9 1-0.9 1-9.6 1-5.2 1 6.4 1 5.6 1-2.3 1 5.2 1 6.3 1-4.7 1-13.5 1-2.1 1-4.4 1 17.3 1-0.2 1-15.8 1-24.2 1-12.4 1 4.7 1-6 1 13.8 1 2.7 1-3.1 1 2.8 1-15.1 1 12.4 1 4 1-9.2 1-4.9 1-1.7 1 8.3 1 7.7 1-2.8 1-1.1 1-7.6 1 9.1 1 2.8 1-0.8 1-14.8 1 7.3 1-6 1 0.5 1-2.9 1 1.3 1 7.4 1 2.5 1 3 1-4 1 1.3 1 0.8 1-5.3 1 3.8 1-11 1 8.6 1-4.5 1 7.1 1-5.1 1 8.1 1-7.4 1 0.7 1-4.8 1 8.6 1-10 1 1.5 1 8.4 1-6 1 1.7 1 0.7 1-4.2 1 3.7 1-5.2 1 9.3 1-10 1 2.6 1 1.5 1 3.6 1-0.8 1 6.3 1-12.8 1 9.7 1 0.3 1-0.7 1-0.7 1-5.7 1-5.3 1 5.6 1 6.4 1-5.2 1-8 1 0.6 1 14.9 1-8.8 1-7.1 1 2.9 1 7.3 1-10 1 8.1 1 5.5 1-12.3 1-2.6 1 19.4 1-19.9 1 7.4 1-5.4 1 3.9 1-2.8 1 4.1 1 6.4 1 2.4 1-8.5 1 2 1 2 1-6.6 1 10.6 1-0.3 1-6.3 1-10.9 1 2.8 1 2.2 1 1 1 1.4 1-0.8 1 5 1-7.3 1 11.6 1-0.9 1-4.9 1 3.2 1-12.8 1 14.7" fill="none" stroke-linejoin="round"/></defs>
<defs><path id="tr42" d="M1538.9 2137.1l1 4.1 1 1.9 1 3.9 1 3.5 1-12.5 1 10.2 1-12.6 1 8.6 1 2.6 1 2.6 1-11.6 1 1.4 1 1.4 1-6.9 1 5.1 1 1.5 1 0.8 1-0.7 1-0.1 1-5.3 1-1 1 4.4 1-3.4 1 9.5 1-0.9 1 0.7 1 2 1-8.1 1 9.4 1-5.8 1 1.8 1-1.7 1-6.3 1-4.7 1 5.1 1 7 1-4.6 1-1.9 1 4.4 1 1.4 1-3.8 1-6.5 1 0.9 1 8 1 0.2 1-10.7 1 9.6 1-8 1-9 1 15.2 1-2 1-2.1 1-4.5 1 14.6 1-13.3 1 12.5 1 1.1 1-2.8 1 0.5 1-9.4 1-1.4 1-0.1 1-2.1 1 0.5 1 17 1-5.5 1-11 1-2.2 1-3.8 1 16.5 1-8.5 1 5.4 1-9 1 5.9 1 2.4 1-1 1 2.2 1-3.8 1-2.1 1 11.7 1-7.6 1-3.3 1 2.6 1 3.8 1-3.7 1-1.8 1-11.8 1 3.8 1 20 1-8.1 1-9.2 1 6.3 1-5.9 1-0.4 1 5.3 1 4.7 1-4.7 1 5.3 1-9.2 1 9.2 1-7.9 1 10.1 1-12.9 1 11.3 1-24 1 8.4 1-3.3 1 4.9 1-12.6 1 7.8 1-0.9 1-0.8 1-3.1 1 16.2 1-16 1 10.1 1-10.6 1 2.9 1-3.1 1 13.3 1-16.1 1 14.5 1 1.2 1-10.2 1-1.2 1 5.5 1 0.3 1 1.4 1 0.7 1 0.7 1-13 1 12.5 1 3.1 1-16.5 1 0.7 1 15.3 1-14 1 2 1 8.9 1-13.3 1 10 1 0.3 1-10.8 1 1.1 1 0.6 1-1.9 1 15.6 1-7.1 1 3.6 1-10.8 1 0.3 1 3.3 1 8.4 1-11.7 1 6.2 1 4.3 1-3.6 1-7.1 1 10.8 1-8.6 1 6.7 1 0.3 1-5.3 1-0.6 1-1.1 1-0.8 1-4.2 1 8.4 1-1.4 1 6.8 1-3.6 1-3.5 1-0.4 1-6.1 1 11.2 1-1.9 1-1.8 1-3.9 1-1.3 1-1.1 1 8.1 1-10.6 1 3.5 1-3.8 1 11.9 1-0.7 1 3.6 1-14.7 1 10.9 1-3.8 1-0.5 1-7.4 1 11.4 1-6.5 1-3.1 1-5.2 1 3 1 11.4 1-1.4 1-11.2 1 8.1 1 1.1 1 2.7 1-6.6 1-8.9 1 1.7 1 0 1 14.8 1-11.3 1 6.9 1-0.7 1 2.5 1-6.2 1 9.4 1-14.1 1 9.3 1-6.7 1 1.9 1 2 1-9.6 1 6.5 1-0.3 1-4.1 1 0.7 1 2.6 1 1.1 1 2.7 1 3.3 1-1.6 1 4.8 1-6.4 1-3.3 1 9.2 1-5.2 1 4.6 1 1.7 1-9.5 1 10.3 1-2.8 1-5.8 1-7 1-1.1 1 8.5 1-0.2 1-0.6 1 2.7 1-1.9 1-9.4 1 15.2 1-8.8 1-0.1 1 10.3 1 0.3 1-10.2 1 6.3 1-0.4 1-8 1 7 1-0.2 1 1.5 1 3.6 1-8.4 1-2.4 1-4 1 16.1 1-11.4 1 10.2 1-10.6 1 0.8 1-2.2 1 2 1 5.2 1-0.7 1 3.9 1-7.4 1 2.4 1-4.8 1-4.3 1 14.1 1 5.2 1-4.4 1-10 1 10.8 1-7.5 1 4.2 1-9.7 1 0.4 1 13.1 1-4.6 1 1.6 1-12.6 1 12.8 1-2.4 1-0.8 1-0.2 1 4.5 1-8.2 1 10 1-11.4 1-0 1 3 1 2.8 1 3.7 1-12.9 1 11.3 1-13.1 1 16 1-17.6 1 8.7 1 10.2 1-11.4 1 3.6 1-8.7 1 2.5 1 6.7 1 4.2 1-3.8 1 6.1 1-8.9 1-9.6 1 14.2 1-7.3 1-3.7 1 10.4 1-7.7 1-3.3 1 10.6 1-2.7 1 7.3 1-11.2 1-22.8 1-19.4 1-5 1 2.7 1 6.1 1 7.7 1 1.2 1-7.8 1 0.4 1 11.5 1-16.8 1 6.1 1 3.2 1-8.7 1 3.2 1 7 1-1.4 1-10.2 1 8.2 1-0.3 1-0.8 1 7.6 1-16.1 1 9.8 1-1.2 1 6.3 1-13.9 1 8 1 2.3 1 6.4 1-12.3 1-3.8 1 8.6 1 2.3 1-10.4 1 4.3 1-5.5 1 3 1-2.3 1-1.3 1-0.1 1 3 1 13.8 1-11.8 1 1.8 1 2.5 1 3.1 1-6 1 7 1 0.4 1-13.6 1 9.9 1 5.5 1-11.3 1 5.5 1-4.5 1 1.8 1-5.2 1 12.2 1-12.2 1 9.9 1-10.4 1 12.4 1-3.3 1 0.4 1-12.3 1 2.2 1 9.2 1 2.6 1-3.8 1-5 1 9.2 1-9.9 1-1.6 1 4.9 1 6.9 1-12.2 1-2.6 1 1.7 1 10.4 1-8.5 1-9.7 1 21.8 1-13.7 1 4.6 1 4.4 1-1.4 1 1 1-4.4 1 8.9 1-3.1 1-7 1-6.5 1 14.5 1-0.8 1-4 1-6.4 1 3 1 1.3 1 2.4 1 2.9 1-0.8 1-12.3 1 8.9 1-9 1 14.8 1-0 1-4.9 1-3.8 1 4.3 1 1.6 1-10.3 1 4 1-0.3" fill="none" stroke-linejoin="round"/></defs>
<use href="#tr40" stroke="#30241f" stroke-width="4.0" stroke-dasharray="0 3.6" stroke-linecap="round"/>
<use href="#tr41" stroke="#30241f" stroke-width="4.0" stroke-dasharray="0 4.3" stroke-linecap="round"/>
<use href="#tr42" stroke="#30241f" stroke-width="4.0" stroke-dasharray="0 5.0" stroke-linecap="round"/>
<use href="#tr40" stroke="#d8521c" stroke-width="2.0" stroke-dasharray="0 3.6" stroke-linecap="round"/>
<use href="#tr41" stroke="#d8521c" stroke-width="2.0" stroke-dasharray="0 4.3" stroke-linecap="round"/>
<use href="#tr42" stroke="#d8521c" stroke-width="2.0" stroke-dasharray="0 5.0" stroke-linecap="round"/>
</g>
<path d="M1538.4 1990.6L1572.5 1990.6L1574 1988.8L1608.1 1988.8L1609.6 1986.9L1643.7 1986.9L1645.2 1985L1679.3 1985L1680.8 1983.2L1714.9 1983.2L1716.4 1981.3L1750.5 1981.3L1752 1979.4L1786.1 1979.4L1787.6 1977.6L1821.7 1977.6L1823.2 1975.7L1857.3 1975.7L1858.8 1973.8L1892.9 1973.8L1894.4 1971.9L1928.5 1971.9L1930 1970.1L1964.1 1970.1L1965.6 1968.2L1983.4 1968.2" fill="none" stroke="#3a85cf" stroke-width="2.6" stroke-linejoin="round"/>
<path d="M1538.4 1935.3H1983.4V2183.7H1538.4Z" fill="none" stroke="#1a1a1a" stroke-width="1.7"/>
<path d="M1538.4 2011.2L1983.4 2011.2" stroke="#1a1a1a" stroke-width="2" fill="none" />
<path d="M1582.9 1935.3v9M1582.9 2002.2v18M1582.9 2183.7v-9M1627.4 1935.3v9M1627.4 2002.2v18M1627.4 2183.7v-9M1671.9 1935.3v9M1671.9 2002.2v18M1671.9 2183.7v-9M1716.4 1935.3v9M1716.4 2002.2v18M1716.4 2183.7v-9M1760.9 1935.3v9M1760.9 2002.2v18M1760.9 2183.7v-9M1805.4 1935.3v9M1805.4 2002.2v18M1805.4 2183.7v-9M1849.9 1935.3v9M1849.9 2002.2v18M1849.9 2183.7v-9M1894.4 1935.3v9M1894.4 2002.2v18M1894.4 2183.7v-9M1938.9 1935.3v9M1938.9 2002.2v18M1938.9 2183.7v-9M1538.4 1939.9h5M1983.4 1939.9h-5M1538.4 1975.9h5M1983.4 1975.9h-5M1538.4 2053.7h5M1983.4 2053.7h-5M1538.4 2098.2h5M1983.4 2098.2h-5M1538.4 2142.2h5M1983.4 2142.2h-5" fill="none" stroke="#333" stroke-width="1.5"/>
<text x="1529.1" y="1946.3" font-size="18" text-anchor="middle" font-weight="bold">7</text>
<text x="1529.1" y="1982.3" font-size="18" text-anchor="middle" font-weight="bold">6</text>
<text x="1529.1" y="2019.2" font-size="18" text-anchor="middle" font-weight="bold">5</text>
<text x="1522.4" y="2060.1" font-size="18" text-anchor="middle" font-weight="bold">40</text>
<text x="1522.4" y="2104.6" font-size="18" text-anchor="middle" font-weight="bold">20</text>
<text x="1530.7" y="2148.6" font-size="18" text-anchor="middle" font-weight="bold">0</text>
<text x="1539.9" y="2209.2" font-size="18" text-anchor="middle" font-weight="bold">0</text>
<text x="1584.5" y="2209.2" font-size="18" text-anchor="middle" font-weight="bold">50</text>
<text x="1625.3" y="2209.2" font-size="18" text-anchor="middle" font-weight="bold">100</text>
<text x="1669" y="2209.2" font-size="18" text-anchor="middle" font-weight="bold">150</text>
<text x="1712" y="2209.2" font-size="18" text-anchor="middle" font-weight="bold">200</text>
<text x="1753.5" y="2209.2" font-size="18" text-anchor="middle" font-weight="bold">250</text>
<text x="1795" y="2209.2" font-size="18" text-anchor="middle" font-weight="bold">300</text>
<text x="1838" y="2209.2" font-size="18" text-anchor="middle" font-weight="bold">350</text>
<text x="1879.5" y="2209.2" font-size="18" text-anchor="middle" font-weight="bold">400</text>
<text x="1921" y="2209.2" font-size="18" text-anchor="middle" font-weight="bold">450</text>
<text x="1982.5" y="2209.2" font-size="18" text-anchor="middle" font-weight="bold">500</text>
<text x="1578.3" y="1920.5" font-size="23.5" font-weight="bold" fill="#f5201c" textLength="120" lengthAdjust="spacingAndGlyphs">5.0～6.0 pN</text>
<text x="1504.4" y="1993.7" font-size="17.5" text-anchor="middle" font-weight="bold" transform="rotate(-90 1504.4 1993.7)" textLength="94" lengthAdjust="spacingAndGlyphs">Force (pN)</text>
<text x="1504.4" y="2124.3" font-size="17.5" text-anchor="middle" font-weight="bold" transform="rotate(-90 1504.4 2124.3)" textLength="82" lengthAdjust="spacingAndGlyphs">Ext. (nm)</text>
<text x="1476.7" y="2065.9" font-size="22" text-anchor="middle" transform="rotate(-90 1476.7 2065.9)" textLength="238" lengthAdjust="spacingAndGlyphs" stroke="#000" stroke-width="0.5">H2A-G22R/H2B-K116G</text>
</g>
</svg>
</body></html>
